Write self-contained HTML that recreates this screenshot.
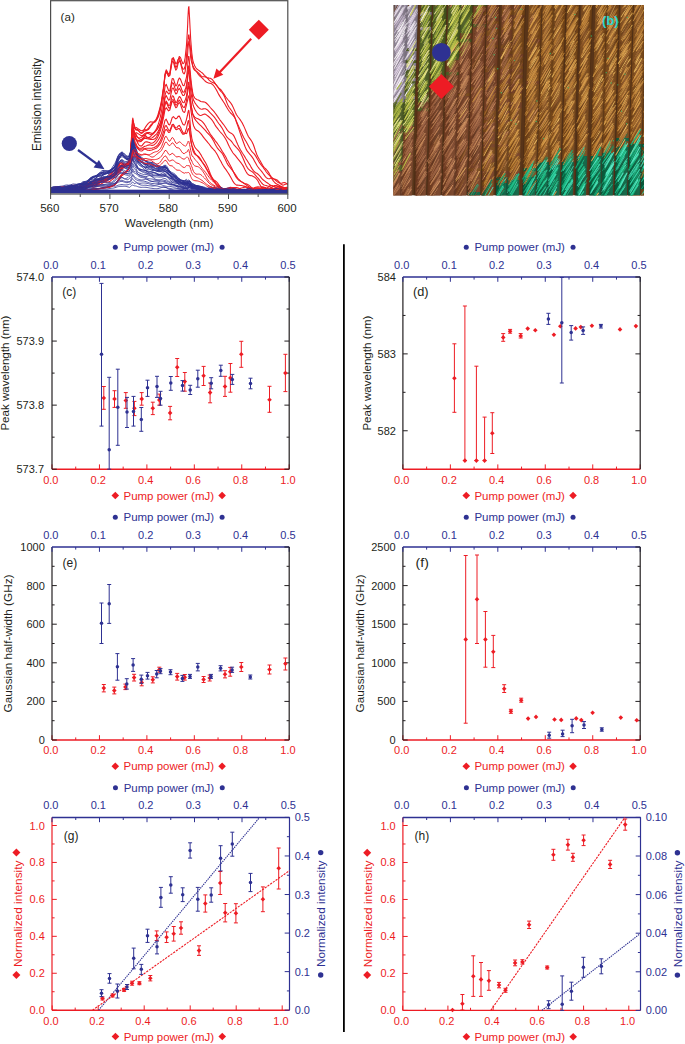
<!DOCTYPE html>
<html><head><meta charset="utf-8"><style>
html,body{margin:0;padding:0;background:#fff;width:685px;height:1044px;overflow:hidden}
svg{display:block}
text{font-family:"Liberation Sans",sans-serif}
</style></head><body>
<svg width="685" height="1044" viewBox="0 0 685 1044" font-family="'Liberation Sans', sans-serif">
<rect width="685" height="1044" fill="#fff"/>
<g fill="none" stroke="#ED1C24" stroke-width="1.1" stroke-linejoin="round">
<path d="M50.6 191.3l1.2 0 1.2-.1 1.2-.7 1.2-.5 1.2-.1 1.2-.1 1.1 0 1.2 .3 1.2 .2 1.2 .4 1.2 .6 1.2 0 1.2 0 1.2 0 1.2 0 1.2 0 1.2 0 1.2 0 1.1-.3 1.2-.2 1.2 .2 1.2 .3 1.2 0 1.2-.3 1.2-.1 1.2-.2 1.2-.3 1.2-.5 1.2-1 1.2-1 1.2-.9 1.1-.6 1.2-.5 1.2-.1 1.2 .1 1.2-.3 1.2-.1 1.2-.4 1.2-.7 1.2-.5 1.2-.8 1.2-.7 1.2-.9 1.1-.7 1.2-.5 1.2-.2 1.2 .1 1.2-.2 1.2-.6 1.2-.9 1.2-1.2 1.2-1.4 1.2-1.2 1.2-.8 1.2-.4 1.1-.5 1.2-.7 1.2-1 1.2-1.3 1.2-1.5 1.2-1.3 1.2-1.3 1.2-.6 1.2-.6 1.2-1 .8-1.2 .4-1.3 .2-1.4 .6-3.4 .4-3.8 .2-2.5 .5-8.8 .5-7.2 .1-3.6 .6-10.1 .4-2.3 .2 .7 .6 4 .4 2.8 .2 1.1 .6 1.5 .4 .2 .2-.6 .6-.1 .4-.1 .2 0 1 .8 1.2 .8 1.2 .8 1.2 .7 1.2-.2 1.2-.6 1.2-.4 1.2 .4 1.1-.4 1.2-1 1.2-1.7 1.2-1.6 1.2-1.3 1.2-1 1.2-1 1.2-1.5 1.2-2.3 1.2-3.1 1.2-4.2 1.2-4.5 1.2-5.6 1.1-7.3 1.2-8.4 1.2-11.1 1.2-4 1.2 2 1.2 2.3 1.2-1.3 1.2-7.6 1.2-7 1.2 .4 1.2 5.1 1.2 3.8 1.1-1.7 1.2-5.8 1.2-3.6 1.2 1.1 1.2 3.3 1.2 2.9 1.2-.9 .5-2.4 .6-3 .1-1.4 .4-3.5 .6-5.5 .2-2.2 .3-4.4 .6-10.1 .3-6.3 .2-6.1 .6-10.3 .4-1.1 .1 1.8 .6 10.3 .5 10.1 .1 1.1 .5 9.6 .6 7.2 0 .6 .5 5.7 .6 4.3 0 .7 .5 2.6 .7 2.5 1.2 2.9 1.2 2 1.2 1.3 1.2 .8 1.2 .9 1.2 .9 1.2 .8 1.2 1.2 1.2 1.4 1.2 1.2 1.1 .9 1.2 .5 1.2 .2 1.2 .1 1.2 .7 1.2 1.1 1.2 1.6 1.2 1.8 1.2 1.8 1.2 1.5 1.2 1.1 1.2 1 1.2 1.2 1.1 1.5 1.2 1.7 1.2 1.9 1.2 1.9 1.2 1.5 1.2 1.5 1.2 1.4 1.2 1.4 1.2 1.8 1.2 2.3 1.2 2.7 1.2 2.8 1.1 2.3 1.2 1.8 1.2 1.5 1.2 1.6 1.2 1.9 1.2 1.9 1.2 2.5 1.2 2.7 1.2 2.9 1.2 2.8 1.2 2.4 1.2 1.7 1.1 1.5 1.2 1.8 1.2 2.5 1.2 3.3 1.2 3.8 1.2 3.2 1.2 2.6 1.2 2.2 1.2 2 1.2 2.1 1.2 2.2 1.2 1.8 1.2 1 1.1 1.1 1.2 1.4 1.2 1.7 1.2 2.1 1.2 1.9 1.2 1.4 1.2 .8 1.2 .4 1.2 .2 1.2 .5 1.2 1.2 1.2 1.3 1.1 1.4 1.2 1 1.2 .3 1.2-.3 1.2-.5 1.2-.6 1.2-.4"/>
<path d="M50.6 190.7l1.2-.3 1.2 0 1.2 .8 1.2 .1 1.2 0 1.2 0 1.1 0 1.2 0 1.2 0 1.2 0 1.2-.3 1.2-.7 1.2-.8 1.2-.5 1.2-.6 1.2-.5 1.2-.5 1.2-.3 1.1-.1 1.2 .2 1.2 .3 1.2 .4 1.2 .3 1.2 .1 1.2 .2 1.2 0 1.2-.4 1.2-.7 1.2-1.2 1.2-1.3 1.2-.5 1.1 .2 1.2 .9 1.2 .9 1.2 .7 1.2 .1 1.2-.5 1.2-.7 1.2-.8 1.2-1.1 1.2-1.3 1.2-1.2 1.2-.9 1.1-.1 1.2 .2 1.2 .4 1.2 0 1.2-1 1.2-1.6 1.2-1.6 1.2-1.3 1.2-.6 1.2-.4 1.2-.3 1.2-1 1.1-1.7 1.2-2 1.2-1.8 1.2-1.3 1.2-.5 1.2-.4 1.2-.8 1.2-1 1.2-1 1.2-1.3 .8-1 .4-.7 .2-.6 .6-2.4 .4-2.8 .2-1.7 .5-8 .5-6.7 .1-3.1 .6-10.1 .4-3.2 .2-.7 .6 2.4 .4 1.4 .2 .6 .6 2 .4 1.5 .2 .4 .6 .7 .4 0 .2-.5 1 .5 1.2 1.3 1.2 1.6 1.2 .9 1.2-.6 1.2-2 1.2-2.6 1.2-1.8 1.1-1.6 1.2-1.4 1.2-1.1 1.2-.5 1.2 .2 1.2 .1 1.2 .1 1.2-.5 1.2-1.9 1.2-3.5 1.2-4.1 1.2-4.4 1.2-5.3 1.1-7.1 1.2-8.6 1.2-11.3 1.2-4.3 1.2 1.9 1.2 2.7 1.2-.8 1.2-7.9 1.2-8.1 1.2-1.4 1.2 3.2 1.2 3 1.1-.9 1.2-3.4 1.2-1.3 1.2 3.1 1.2 4.6 1.2 3.4 1.2-.3 .5-1.5 .6-1.4 .1-.5 .4-2.5 .6-4.5 .2-2.7 .3-3.6 .6-5.9 .3-2.7 .2-2.7 .6-5.5 .4-.7 .1 .4 .6 5.2 .5 5.2 .1-.1 .5 5.3 .6 4.3 0 .7 .5 4 .6 3.6 0 1.3 .5 2.3 .7 1.8 1.2 1.5 1.2 .8 1.2 .7 1.2 1.1 1.2 1.3 1.2 1.5 1.2 .8 1.2 .2 1.2 0 1.2 .3 1.1 .6 1.2 1.1 1.2 1.5 1.2 1 1.2 .7 1.2 .6 1.2 .6 1.2 .6 1.2 1.1 1.2 1.7 1.2 2 1.2 1.6 1.2 1.5 1.1 1 1.2 1.8 1.2 2.4 1.2 3.1 1.2 3.2 1.2 2.8 1.2 1.8 1.2 1.7 1.2 1.6 1.2 2.2 1.2 2.5 1.2 2.9 1.1 3 1.2 2.6 1.2 2.7 1.2 2.7 1.2 2.7 1.2 2.6 1.2 2.5 1.2 2.2 1.2 1.9 1.2 2.2 1.2 2.3 1.2 2.3 1.1 1.7 1.2 1.6 1.2 1.3 1.2 1.2 1.2 1.8 1.2 2 1.2 2.2 1.2 2.1 1.2 1.6 1.2 1.6 1.2 1.4 1.2 1.8 1.2 1.7 1.1 1.7 1.2 1.3 1.2 1.3 1.2 1.3 1.2 1.6 1.2 1.9 1.2 1.8 1.2 1.3 1.2 1.1 1.2 .6 1.2 .6 1.2 .7 1.1 1 1.2 .9 1.2 .6 1.2 .2 1.2 0 1.2-.3 1.2-.3"/>
<path d="M50.6 190.1l1.2-.4 1.2-.2 1.2 .3 1.2 .7 1.2 .8 1.2 0 1.1 0 1.2 0 1.2 0 1.2-.6 1.2 .1 1.2 .1 1.2 .1 1.2-.1 1.2-.1 1.2-.3 1.2-.3 1.2 0 1.1 .1 1.2-.2 1.2-.3 1.2-.9 1.2-.6 1.2-.1 1.2 .5 1.2 .7 1.2 .3 1.2-.2 1.2-.6 1.2-.6 1.2-.6 1.1-.9 1.2-1.1 1.2-1.3 1.2-1 1.2-.4 1.2 .4 1.2 .8 1.2 .7 1.2 .2 1.2-.2 1.2-.6 1.2-.8 1.1-.7 1.2-.6 1.2-.2 1.2 .1 1.2-.1 1.2-.2 1.2-.6 1.2-1 1.2-1 1.2-.9 1.2-.9 1.2-.6 1.1-1.2 1.2-1.4 1.2-1.7 1.2-1.8 1.2-1.5 1.2-1.2 1.2-.7 1.2-.8 1.2-1 1.2-1.5 .8-1.7 .4-1.2 .2-.9 .6-2.4 .4-3.2 .2-2.1 .5-8.5 .5-6.8 .1-3.4 .6-9.7 .4-2.6 .2-.1 .6 2.8 .4 2 .2 .6 .6 1.5 .4 .6 .2 .3 .6 .7 .4 .2 .2-.3 1 .4 1.2 .7 1.2 1.2 1.2 .8 1.2-.2 1.2-.9 1.2-.9 1.2-.3 1.1-.3 1.2-.7 1.2-1.4 1.2-1.7 1.2-1.6 1.2-1.9 1.2-1.5 1.2-1 1.2-1 1.2-1.8 1.2-3 1.2-4.4 1.2-6.4 1.1-8.2 1.2-9 1.2-11 1.2-3.8 1.2 2.1 1.2 2.5 1.2-1.1 1.2-7.3 1.2-6.7 1.2 .4 1.2 4.8 1.2 3.6 1.1-1.5 1.2-5.2 1.2-2.9 1.2 2.4 1.2 4.9 1.2 4.7 1.2 1.3 .5-.8 .6-1.8 .1-1.4 .4-2.7 .6-3.1 .2-1.2 .3-2 .6-4.5 .3-3.1 .2-3.7 .6-6.2 .4-2 .1-.2 .6 4.4 .5 5.3 .1 1.6 .5 5.1 .6 3.4 0-.2 .5 2 .6 1.5 0 .4 .5 1.2 .7 1.4 1.2 1.9 1.2 1.8 1.2 1.7 1.2 1.7 1.2 1.4 1.2 1.1 1.2 .9 1.2 1.2 1.2 1.3 1.2 1.2 1.1 .8 1.2 .5 1.2 .3 1.2 .1 1.2 .5 1.2 .9 1.2 1.4 1.2 1.7 1.2 2.1 1.2 2.3 1.2 2.3 1.2 2 1.2 1.9 1.1 1.6 1.2 1.8 1.2 1.8 1.2 2.2 1.2 2.1 1.2 1.9 1.2 1.8 1.2 1.5 1.2 1.1 1.2 1.2 1.2 1.5 1.2 2.3 1.1 3.1 1.2 3.4 1.2 3.6 1.2 3.6 1.2 3.5 1.2 3.4 1.2 3.3 1.2 3.3 1.2 2.8 1.2 2 1.2 1.6 1.2 1.4 1.1 1.2 1.2 1.6 1.2 1.7 1.2 2.3 1.2 2.2 1.2 2.1 1.2 1.8 1.2 1.6 1.2 1.4 1.2 1.4 1.2 1.6 1.2 1.7 1.2 1.6 1.1 1.3 1.2 .9 1.2 .3 1.2-.2 1.2-.5 1.2 .1 1.2 .5 1.2 .8 1.2 1 1.2 1.1 1.2 .9 1.2 .5 1.1 .2 1.2 .1 1.2-.6 1.2-.2 1.2 .3 1.2 .8 1.2 1.2"/>
<path d="M50.6 191.3l1.2 0 1.2 0 1.2 0 1.2-.1 1.2-1.5 1.2-1.2 1.1-.7 1.2 .4 1.2 1.2 1.2 1.4 1.2 .5 1.2 0 1.2 0 1.2 0 1.2 0 1.2-.4 1.2-.6 1.2-.6 1.1-.4 1.2-.1 1.2 .2 1.2 0 1.2-.3 1.2-1.1 1.2-1.8 1.2-1.8 1.2-1.2 1.2-.3 1.2 .4 1.2 .7 1.2 .6 1.1 .3 1.2 .3 1.2 .1 1.2 .1 1.2-.2 1.2-.5 1.2-.8 1.2-1.1 1.2-1.1 1.2-.6 1.2-.2 1.2 0 1.1 0 1.2-.2 1.2-.7 1.2-.7 1.2-.9 1.2-.5 1.2-.6 1.2-.2 1.2-.4 1.2-.5 1.2-.7 1.2-1 1.1-1.9 1.2-2.2 1.2-2.4 1.2-1.8 1.2-1 1.2 0 1.2 .1 1.2 0 1.2-.4 1.2-.7 .8-.8 .4-.4 .2-.5 .6-2.7 .4-3.5 .2-3 .5-8.2 .5-6 .1-2.2 .6-7.4 .4-1.2 .2 .6 .6 2.5 .4 1.4 .2 .1 .6 .8 .4-.1 .2-.6 .6 .1 .4-.1 .2-.3 1 .7 1.2 .7 1.2 .8 1.2 .8 1.2-.1 1.2-.9 1.2-1.1 1.2-.6 1.1-.4 1.2-.1 1.2 0 1.2 .4 1.2 .5 1.2-.2 1.2-1.1 1.2-1.5 1.2-2.3 1.2-3 1.2-3.7 1.2-4.4 1.2-5.8 1.1-7.3 1.2-8 1.2-9.5 1.2-2.4 1.2 3.2 1.2 3.4 1.2 0 1.2-6 1.2-6.2 1.2 .1 1.2 3.9 1.2 3.4 1.1-1.1 1.2-4.3 1.2-2.6 1.2 1.2 1.2 3.2 1.2 3 1.2 .2 .5-1.4 .6-2 .1-.7 .4-1.4 .6-2.3 .2-.8 .3-2.2 .6-5.3 .3-3.8 .2-3.9 .6-5.2 .4-.2 .1 1 .6 6.4 .5 6.4 .1 .8 .5 6.3 .6 4.8 0 .6 .5 4.1 .6 3.3 0 1.1 .5 2.4 .7 2.3 1.2 2.2 1.2 1 1.2 .6 1.2 .4 1.2 .6 1.2 .7 1.2 .4 1.2 .1 1.2 .1 1.2 .5 1.1 1 1.2 1.1 1.2 1.4 1.2 1.5 1.2 1.3 1.2 1.3 1.2 1.3 1.2 1.6 1.2 1.6 1.2 1.8 1.2 1.7 1.2 1.7 1.2 1.6 1.1 1.4 1.2 1.5 1.2 1.7 1.2 1.8 1.2 1.8 1.2 1.5 1.2 1.2 1.2 .7 1.2 .6 1.2 1 1.2 1.8 1.2 2.5 1.1 2.8 1.2 2.7 1.2 2.5 1.2 2.3 1.2 2 1.2 2 1.2 1.8 1.2 1.9 1.2 2.1 1.2 1.8 1.2 1.9 1.2 1.9 1.1 2 1.2 2 1.2 1.8 1.2 1.4 1.2 .9 1.2 .6 1.2 .9 1.2 1.2 1.2 1.3 1.2 1.6 1.2 1.2 1.2 1 1.2 .9 1.1 .8 1.2 .8 1.2 .9 1.2 .8 1.2 .7 1.2 .4 1.2 .4 1.2 0 1.2-.3 1.2 .1 1.2 .1 1.2 .1 1.1 .4 1.2 .5 1.2 .4 1.2 .3 1.2 .3 1.2 .2 1.2-.2"/>
<path d="M50.6 187.7l1.2 .2 1.2 .2 1.2 .1 1.2 .2 1.2 .5 1.2 .4 1.1 .2 1.2-.4 1.2-.6 1.2-.5 1.2-.4 1.2 .1 1.2 .2 1.2 .5 1.2 .4 1.2 .3 1.2 .1 1.2-.3 1.1-.2 1.2 0 1.2 .1 1.2 .4 1.2 .3 1.2-.1 1.2-.6 1.2-1.1 1.2-1.1 1.2-1 1.2-.6 1.2-.4 1.2-.1 1.1-.2 1.2-.2 1.2-.2 1.2 .1 1.2 0 1.2-.1 1.2-.4 1.2-.4 1.2-.6 1.2-.5 1.2-.4 1.2-.5 1.1-.7 1.2-1 1.2-1.2 1.2-1 1.2-.8 1.2-.2 1.2 .1 1.2 0 1.2-.2 1.2-.7 1.2-.7 1.2-.8 1.1-1.1 1.2-1 1.2-1.2 1.2-1.4 1.2-1.2 1.2-.7 1.2-.4 1.2-.4 1.2-.4 1.2-.5 .8-1 .4-.9 .2-1.1 .6-2.8 .4-3.3 .2-2.3 .5-7.2 .5-5.9 .1-3.2 .6-8.5 .4-2.8 .2-.3 .6 2.3 .4 2 .2 1 .6 1.6 .4 .5 .2 .2 .6 .6 .4 .6 .2 .5 1 1.6 1.2 1.1 1.2 .9 1.2 .4 1.2-.8 1.2-1.8 1.2-1.9 1.2-1.2 1.1-.6 1.2 .1 1.2 .7 1.2 .6 1.2 0 1.2-.6 1.2-1.2 1.2-1.4 1.2-1.7 1.2-2 1.2-2 1.2-2.6 1.2-4 1.1-6 1.2-7.7 1.2-10.2 1.2-4.2 1.2 1 1.2 1.9 1.2-.6 1.2-5.4 1.2-5.3 1.2 .5 1.2 4 1.2 3.4 1.1-.9 1.2-3.5 1.2-1.9 1.2 1.9 1.2 3.3 1.2 2.8 1.2-.3 .5-1.2 .6-1.7 .1-.1 .4-1.1 .6-2.1 .2-.9 .3-2.3 .6-5 .3-3.1 .2-3.1 .6-4.8 .4-.9 .1 .2 .6 5.2 .5 5.2 .1 .9 .5 5.9 .6 4.3 0 .2 .5 3.8 .6 3.3 0 1.1 .5 2.2 .7 2.3 1.2 2.3 1.2 1.7 1.2 1.6 1.2 1.5 1.2 1 1.2 .6 1.2 .2 1.2-.3 1.2-.2 1.2 .1 1.1 .6 1.2 .9 1.2 1.3 1.2 1.3 1.2 1.2 1.2 1.3 1.2 1.3 1.2 1.5 1.2 1.7 1.2 1.9 1.2 1.7 1.2 1.4 1.2 1.7 1.1 1.6 1.2 2.2 1.2 2.5 1.2 2.4 1.2 1.9 1.2 1.2 1.2 1.1 1.2 .9 1.2 1.4 1.2 1.7 1.2 1.6 1.2 1.3 1.1 1.3 1.2 1.2 1.2 1.4 1.2 1.7 1.2 2.4 1.2 2.6 1.2 2.8 1.2 2.9 1.2 2.7 1.2 2.2 1.2 1.5 1.2 1.1 1.1 .7 1.2 .7 1.2 1.1 1.2 1.3 1.2 1.4 1.2 1.4 1.2 1.3 1.2 1.6 1.2 1.6 1.2 1.7 1.2 1.2 1.2 .7 1.2 .4 1.1 .3 1.2 .4 1.2 .3 1.2 .5 1.2 .7 1.2 .8 1.2 .8 1.2 .6 1.2 0 1.2-.2 1.2-.2 1.2-.2 1.1-.2 1.2-.2 1.2 .1 1.2-.1 1.2 .3 1.2 .4 1.2 .2"/>
<path d="M50.6 187.7l1.2-.1 1.2 .3 1.2 .6 1.2 .8 1.2 .6 1.2 .6 1.1 .5 1.2 .3 1.2 0 1.2 0 1.2-.8 1.2-1 1.2-.9 1.2-.5 1.2 0 1.2 .2 1.2-.1 1.2-.4 1.1-.5 1.2-.4 1.2 .3 1.2 .8 1.2 .9 1.2 .5 1.2 0 1.2-.7 1.2-1 1.2-.9 1.2-.6 1.2-.5 1.2-.3 1.1-.1 1.2-.3 1.2-.8 1.2-1 1.2-1.4 1.2-1.3 1.2-.8 1.2-.2 1.2 .4 1.2 .6 1.2 .5 1.2 .1 1.1-.2 1.2-.6 1.2-.6 1.2-.6 1.2-.8 1.2-1 1.2-1.1 1.2-.8 1.2-.6 1.2-.3 1.2 .1 1.2-.5 1.1-1.4 1.2-1.9 1.2-2.1 1.2-2.2 1.2-1.4 1.2-.4 1.2-.1 1.2-.4 1.2-.5 1.2-1.2 .8-1.4 .4-1 .2-.4 .6-1.8 .4-2.2 .2-1.6 .5-6.9 .5-6.1 .1-3.1 .6-8.3 .4-2.6 .2-.1 .6 2.4 .4 1.8 .2 .6 .6 1.2 .4 .5 .2 .2 .6 1.1 .4 1 .2 .6 1 1.2 1.2 .4 1.2-.2 1.2-.4 1.2-1.1 1.2-1 1.2-.2 1.2 .9 1.1 1.2 1.2 .4 1.2-.2 1.2-1 1.2-1.4 1.2-1.6 1.2-1.4 1.2-1.2 1.2-1 1.2-1.6 1.2-2.1 1.2-3 1.2-4.2 1.1-5.9 1.2-6.7 1.2-8.2 1.2-2.5 1.2 2.3 1.2 2.3 1.2-.6 1.2-5.8 1.2-5.6 1.2-.1 1.2 3.1 1.2 2.8 1.1-.8 1.2-3.3 1.2-1.5 1.2 1.8 1.2 3 1.2 2.3 1.2-.1 .5-1.2 .6-1.4 .1-.5 .4-1.4 .6-2.2 .2-.9 .3-1.9 .6-4.8 .3-3.5 .2-3.3 .6-4.4 .4 .3 .1 1.7 .6 6.4 .5 6.1 .1 1.3 .5 5.3 .6 3.8 0-.2 .5 3.4 .6 2.8 0 1.1 .5 2.3 .7 2.3 1.2 2.7 1.2 2.1 1.2 1.7 1.2 1.4 1.2 .9 1.2 .2 1.2-.4 1.2-.6 1.2-.4 1.2 .2 1.1 .8 1.2 .9 1.2 1 1.2 1.1 1.2 1.3 1.2 1.6 1.2 1.9 1.2 2.2 1.2 1.8 1.2 1.5 1.2 1.6 1.2 1.5 1.2 1.3 1.1 1.2 1.2 1.5 1.2 1.8 1.2 2 1.2 2.3 1.2 2.6 1.2 2.5 1.2 2.2 1.2 2.1 1.2 2 1.2 1.3 1.2 1.4 1.1 1.4 1.2 1.6 1.2 1.4 1.2 1.5 1.2 1.6 1.2 1.7 1.2 2 1.2 2.6 1.2 2.2 1.2 1.9 1.2 1.2 1.2 .7 1.1 .1 1.2 .2 1.2 .6 1.2 .7 1.2 .9 1.2 1.3 1.2 1.7 1.2 2.4 1.2 2.2 1.2 2.1 1.2 1.3 1.2 .6 1.2-.2 1.1-.8 1.2-.8 1.2-1.2 1.2-.9 1.2-.2 1.2 .2 1.2 .7 1.2 .7 1.2 .8 1.2 .6 1.2 .3 1.2 .1 1.1-.4 1.2-.4 1.2-.2 1.2 .2 1.2 .5 1.2 .2 1.2-.3"/>
<path d="M50.6 189.4l1.2 .3 1.2 .5 1.2 .8 1.2 .3 1.2 0 1.2 0 1.1 0 1.2 0 1.2-.3 1.2-.3 1.2-.1 1.2-.2 1.2-.5 1.2-1 1.2-1.2 1.2-.9 1.2-.5 1.2 .1 1.1 .6 1.2 .4 1.2 .3 1.2-.1 1.2-.5 1.2-.6 1.2-.5 1.2 .2 1.2 .3 1.2 .4 1.2 .3 1.2-.2 1.2-.8 1.1-1.2 1.2-1.3 1.2-1.1 1.2-.6 1.2 .1 1.2 .5 1.2 .7 1.2 .2 1.2-.3 1.2-.7 1.2-.7 1.2-.5 1.1-.2 1.2-.2 1.2-.3 1.2-.6 1.2-.8 1.2-.8 1.2-.6 1.2-.7 1.2-1.2 1.2-1.7 1.2-2.2 1.2-2.5 1.1-2.2 1.2-1.3 1.2-.4 1.2 0 1.2 .4 1.2 .5 1.2-.1 1.2-.8 1.2-1 1.2-1.7 .8-1.7 .4-1.3 .2-1.1 .6-2.7 .4-3 .2-2.1 .5-6.6 .5-5.1 .1-2.3 .6-7.3 .4-1.7 .2 .1 .6 2.3 .4 1.5 .2 .6 .6 1.6 .4 1.3 .2 1.2 .6 1.8 .4 1.2 .2 .5 1 1.3 1.2 .4 1.2 0 1.2-.5 1.2-1.4 1.2-1.7 1.2-1.3 1.2-.1 1.1 .6 1.2 .5 1.2 .3 1.2 .1 1.2-.4 1.2-.9 1.2-1 1.2-1.1 1.2-1.1 1.2-2 1.2-2.4 1.2-2.9 1.2-4.2 1.1-5.4 1.2-6 1.2-7.7 1.2-2.2 1.2 2 1.2 2.5 1.2-.2 1.2-4.9 1.2-4.6 1.2 .4 1.2 3.5 1.2 3.1 1.1-.8 1.2-3.3 1.2-2.2 1.2 1 1.2 2.7 1.2 2.3 1.2 .2 .5-1.2 .6-1.5 .1-.3 .4-1.1 .6-1.9 .2-.9 .3-2.1 .6-3.8 .3-2.3 .2-2 .6-3.3 .4 .2 .1 1 .6 5.6 .5 5.7 .1 1.1 .5 5.3 .6 4.3 0 .5 .5 3.8 .6 3 0 .6 .5 1.2 .7 1.1 1.2 1.4 1.2 .8 1.2 .5 1.2 .6 1.2 .7 1.2 .7 1.2 1 1.2 1.3 1.2 1.5 1.2 1.8 1.1 2 1.2 2 1.2 2 1.2 2 1.2 1.7 1.2 1.6 1.2 1.6 1.2 1.7 1.2 1.5 1.2 1.6 1.2 1.8 1.2 1.8 1.2 2 1.1 2 1.2 1.8 1.2 1.9 1.2 2.1 1.2 2.3 1.2 2.1 1.2 2.2 1.2 2.3 1.2 2.3 1.2 2.6 1.2 2.6 1.2 2.4 1.1 1.8 1.2 1.5 1.2 1.1 1.2 .6 1.2 .8 1.2 .6 1.2 .6 1.2 .5 1.2 .4 1.2 .5 1.2 .6 1.2 1 1.1 1 1.2 .9 1.2 .5 1.2 .2 1.2-.2 1.2-.2 1.2 0 1.2 .1 1.2 .4 1.2 .3 1.2 .2 1.2-.2 1.2-.4 1.1-.3 1.2 0 1.2 .1 1.2-.1 1.2-.4 1.2-.7 1.2-.9 1.2-.6 1.2 0 1.2 .4 1.2 .8 1.2 .9 1.1 1 1.2 .6 1.2 .4 1.2 .1 1.2 0 1.2-.3 1.2-.2"/>
<path d="M50.6 191.3l1.2-.1 1.2-.4 1.2-.6 1.2-.7 1.2-.7 1.2-.3 1.1 .1 1.2 .7 1.2 1 1.2 .9 1.2 .1 1.2 0 1.2 0 1.2-.5 1.2-.3 1.2-.2 1.2 0 1.2 .1 1.1 0 1.2 0 1.2 0 1.2-.2 1.2-.5 1.2-.8 1.2-.8 1.2-.7 1.2-.2 1.2 .2 1.2 .1 1.2-.1 1.2-.3 1.1-.7 1.2-.8 1.2-.9 1.2-.9 1.2-1 1.2-1.2 1.2-.9 1.2-.8 1.2-.7 1.2-.5 1.2-.3 1.2-.1 1.1 .2 1.2 .2 1.2 .4 1.2 .1 1.2-.2 1.2-.5 1.2-.6 1.2-.8 1.2-.8 1.2-.7 1.2-1 1.2-1.5 1.1-1.9 1.2-1.7 1.2-1.4 1.2-1.3 1.2-.9 1.2-.4 1.2-.3 1.2-.5 1.2-.9 1.2-1.4 .8-1.5 .4-1 .2-.6 .6-1.5 .4-1.9 .2-1.3 .5-6.3 .5-5.6 .1-2.9 .6-7.5 .4-1.8 .2 0 .6 1.9 .4 1.2 .2 .6 .6 1.8 .4 1.5 .2 1.3 .6 1.2 .4 .3 .2-.5 1 .3 1.2 .3 1.2 .2 1.2 .1 1.2-.6 1.2-1.2 1.2-.6 1.2 .1 1.1 .3 1.2 .2 1.2 .3 1.2 .2 1.2 .1 1.2 0 1.2-.4 1.2-.9 1.2-1.7 1.2-2.4 1.2-3 1.2-3.3 1.2-4 1.1-5.3 1.2-6.1 1.2-7.7 1.2-2.4 1.2 2.4 1.2 3.1 1.2 .5 1.2-4.2 1.2-4.4 1.2 .1 1.2 2.9 1.2 2.5 1.1-.6 1.2-2.9 1.2-1.5 1.2 1.5 1.2 2.8 1.2 2.6 1.2 .5 .5-.7 .6-1.1 .1-.6 .4-1.5 .6-2.3 .2-1.1 .3-2.2 .6-3.9 .3-2.5 .2-2.4 .6-3.3 .4 .3 .1 1 .6 5.3 .5 5.1 .1 .9 .5 4.6 .6 3.3 0-.3 .5 2.8 .6 2.5 0 .8 .5 2 .7 2.2 1.2 2.4 1.2 1.7 1.2 1.4 1.2 1.4 1.2 1.2 1.2 1.1 1.2 1.1 1.2 1.3 1.2 1.3 1.2 1.3 1.1 1.4 1.2 1.2 1.2 1.2 1.2 1.4 1.2 1.5 1.2 2 1.2 2.2 1.2 2.4 1.2 2.2 1.2 1.9 1.2 1.6 1.2 1.2 1.2 1.2 1.1 1.4 1.2 1.9 1.2 2.5 1.2 2.7 1.2 2.5 1.2 2 1.2 1.6 1.2 1.5 1.2 1.5 1.2 1.5 1.2 1.7 1.2 1.7 1.1 1.8 1.2 1.7 1.2 1.4 1.2 1.2 1.2 .9 1.2 .8 1.2 .9 1.2 .7 1.2 .8 1.2 .9 1.2 .8 1.2 1 1.1 .7 1.2 .4 1.2-.2 1.2-.6 1.2-.5 1.2-.3 1.2-.1 1.2 .1 1.2 0 1.2-.2 1.2 0 1.2 .4 1.2 .4 1.1 .8 1.2 .7 1.2 .6 1.2 .1 1.2 .1 1.2-.4 1.2-.5 1.2-.4 1.2-.6 1.2-.8 1.2-.5 1.2-.3 1.1 0 1.2 .4 1.2 .6 1.2 .3 1.2 .2 1.2 0 1.2-.2"/>
<path d="M50.6 190.9l1.2-.9 1.2-1.1 1.2-1.2 1.2-.7 1.2-.3 1.2 0 1.1 .1 1.2 .3 1.2 .2 1.2-.1 1.2-.3 1.2-.3 1.2-.1 1.2 0 1.2 .4 1.2 .2 1.2 .1 1.2-.4 1.1-.2 1.2-.2 1.2 .1 1.2 .4 1.2 .7 1.2 .5 1.2 .2 1.2-.1 1.2-.3 1.2-.3 1.2-.5 1.2-.5 1.2-.6 1.1-.6 1.2-.5 1.2-.1 1.2-.2 1.2-.3 1.2-.3 1.2-.5 1.2-.6 1.2-.7 1.2-.8 1.2-.5 1.2-.5 1.1-.1 1.2-.2 1.2-.4 1.2-.9 1.2-.9 1.2-.9 1.2-.8 1.2-.7 1.2-.8 1.2-1.1 1.2-1.2 1.2-1.2 1.1-1.1 1.2-1 1.2-.7 1.2-.7 1.2-.6 1.2-.2 1.2-.3 1.2-.9 1.2-1.2 1.2-1.9 .8-1.9 .4-1.1 .2-.7 .6-1.6 .4-2 .2-1.5 .5-6 .5-4.9 .1-2.5 .6-7.3 .4-2.4 .2-.3 .6 2.1 .4 1.9 .2 1.5 .6 1.7 .4 .8 .2-.1 .6 .5 .4 .6 .2 1.1 1 2.4 1.2 1.9 1.2 1 1.2 .3 1.2-.9 1.2-1.6 1.2-1.3 1.2-.5 1.1 .1 1.2 .3 1.2 .4 1.2 .6 1.2 .1 1.2-.5 1.2-.9 1.2-1.3 1.2-1.6 1.2-2.3 1.2-2.7 1.2-3.1 1.2-4.2 1.1-5 1.2-5.5 1.2-6.6 1.2-1.9 1.2 1.6 1.2 1.6 1.2-.9 1.2-4.6 1.2-4.2 1.2 .7 1.2 3.3 1.2 2.6 1.1-.8 1.2-2.9 1.2-1.6 1.2 1.8 1.2 3.7 1.2 3.4 1.2 1 .5-.2 .6-1.3 .1-1.1 .4-1.9 .6-2.4 .2-.9 .3-1.2 .6-2.3 .3-1.1 .2-1.4 .6-2.5 .4-.2 .1 .1 .6 4 .5 4 .1 .3 .5 4.8 .6 3.8 0 .1 .5 3.3 .6 3 0 1.1 .5 2.6 .7 2.7 1.2 2.6 1.2 1.4 1.2 .9 1.2 .6 1.2 1.1 1.2 1.3 1.2 1.6 1.2 1.6 1.2 1.6 1.2 1.4 1.1 1.4 1.2 1.5 1.2 1.3 1.2 1.7 1.2 1.6 1.2 1.2 1.2 1.3 1.2 1.4 1.2 1.8 1.2 2.1 1.2 2.3 1.2 2.3 1.2 2.1 1.1 2.2 1.2 2 1.2 1.9 1.2 1.5 1.2 1.8 1.2 1.8 1.2 1.9 1.2 2.2 1.2 2.2 1.2 2.1 1.2 1.8 1.2 1.2 1.1 .7 1.2 0 1.2 .1 1.2 .2 1.2 .1 1.2 .3 1.2 .3 1.2 .3 1.2 .3 1.2 .6 1.2 .6 1.2 .6 1.1 .2 1.2 0 1.2-.2 1.2-.3 1.2-.2 1.2 0 1.2 .2 1.2 .2 1.2-.2 1.2-.3 1.2-.3 1.2 0 1.2 .3 1.1 .5 1.2 .6 1.2 .1 1.2-.3 1.2-.2 1.2-.1 1.2 .4 1.2 .7 1.2 .4 1.2-.1 1.2-.9 1.2-1 1.1-.6 1.2-.2 1.2 .2 1.2 .2 1.2-.1 1.2-.1 1.2-.1"/>
<path d="M50.6 190.7l1.2-.3 1.2-.4 1.2-.5 1.2-.5 1.2-.6 1.2-.6 1.1-.5 1.2-.5 1.2 0 1.2 0 1.2 .2 1.2 .4 1.2 .5 1.2 .5 1.2 .6 1.2 .6 1.2 .4 1.2 .1 1.1-.4 1.2-.7 1.2-.8 1.2-.7 1.2-.5 1.2 0 1.2 .2 1.2 .4 1.2 .1 1.2 0 1.2-.3 1.2-.4 1.2-.4 1.1-.6 1.2-.9 1.2-1.1 1.2-1.1 1.2-.8 1.2 0 1.2 .5 1.2 .5 1.2 .1 1.2-.5 1.2-.9 1.2-1.1 1.1-1 1.2-.8 1.2-.6 1.2-.4 1.2-.2 1.2-.1 1.2-.1 1.2-.2 1.2-.4 1.2-1 1.2-1.5 1.2-2.6 1.1-3.2 1.2-2.8 1.2-1.7 1.2-1 1.2 0 1.2 .5 1.2 .7 1.2-.3 1.2-.4 1.2-1.1 .8-1.3 .4-.9 .2-.6 .6-1.9 .4-2.1 .2-1.5 .5-5.5 .5-4.6 .1-2.5 .6-7.2 .4-2.2 .2-.1 .6 2.9 .4 2.6 .2 1.4 .6 2.1 .4 1.1 .2 .4 .6 1.1 .4 .9 .2 .6 1 1.8 1.2 .9 1.2 .4 1.2 0 1.2-.5 1.2-.8 1.2-.7 1.2-.3 1.1-.4 1.2-.5 1.2-.2 1.2 .1 1.2 .4 1.2-.1 1.2-.6 1.2-1 1.2-1.4 1.2-1.8 1.2-1.9 1.2-2.2 1.2-3 1.1-3.7 1.2-4.2 1.2-5.2 1.2-1.1 1.2 2.5 1.2 2.8 1.2 .4 1.2-3.4 1.2-3.9 1.2-1 1.2 1.2 1.2 1.1 1.1-.7 1.2-1.8 1.2-.3 1.2 2.3 1.2 3.2 1.2 2.7 1.2 .8 .5-.5 .6-.9 .1-.5 .4-1.3 .6-1.8 .2-.9 .3-1.2 .6-2.5 .3-1.5 .2-1.4 .6-2.3 .4 .4 .1 .7 .6 5.6 .5 5.7 .1 1.6 .5 6.1 .6 4.6 0-.1 .5 3.4 .6 2.4 0 0 .5 1.6 .7 2 1.2 2.7 1.2 1.7 1.2 1.3 1.2 1.2 1.2 1.5 1.2 1.9 1.2 2.2 1.2 2 1.2 2.1 1.2 1.9 1.1 2.3 1.2 2.4 1.2 3.1 1.2 3.1 1.2 2.9 1.2 2 1.2 1.3 1.2 .9 1.2 .9 1.2 1.2 1.2 1.7 1.2 1.5 1.2 1.4 1.1 1 1.2 .5 1.2 .2 1.2-.2 1.2-.4 1.2-.1 1.2 .1 1.2 0 1.2 .1 1.2 0 1.2 .1 1.2 .1 1.1 .2 1.2 0 1.2-.3 1.2-.4 1.2-.3 1.2-.4 1.2-.3 1.2-.1 1.2 0 1.2 .2 1.2 .7 1.2 .8 1.1 1 1.2 .6 1.2 .3 1.2 0 1.2 0 1.2 .3 1.2 .1 1.2 0 1.2-.2 1.2-1.1 1.2-1.4 1.2-1.1 1.2 0 1.1 1 1.2 1.6 1.2 1.2 1.2 0 1.2 0 1.2-.6 1.2-1.2 1.2-.9 1.2-.5 1.2 0 1.2 .4 1.2 .5 1.1 .5 1.2 .2 1.2-.3 1.2-.5 1.2-.2 1.2 .1 1.2 .5"/>
<path d="M50.6 189.9l1.2 0 1.2-.1 1.2 0 1.2 0 1.2 .1 1.2 .2 1.1-.1 1.2-.1 1.2-.2 1.2 0 1.2 .2 1.2 .3 1.2 .2 1.2-.1 1.2-.4 1.2-.6 1.2-.7 1.2-.5 1.1-.3 1.2-.2 1.2-.2 1.2-.1 1.2-.2 1.2-.2 1.2-.1 1.2 0 1.2-.2 1.2-.3 1.2-.6 1.2-.7 1.2-.9 1.1-1 1.2-.5 1.2-.2 1.2 .2 1.2 .2 1.2 0 1.2-.4 1.2-.8 1.2-.8 1.2-.5 1.2-.4 1.2-.2 1.1-.3 1.2-.2 1.2-.5 1.2-.8 1.2-1.1 1.2-1.3 1.2-1.3 1.2-1.1 1.2-1.3 1.2-1.2 1.2-1.3 1.2-1.7 1.1-1.8 1.2-1.5 1.2-1 1.2-.6 1.2 0 1.2 1.1 1.2 1.3 1.2 .7 1.2 .1 1.2-1.1 .8-1.7 .4-1.5 .2-1.2 .6-2.4 .4-2.6 .2-1.8 .5-5.3 .5-4.3 .1-1.9 .6-6 .4-1.4 .2 .7 .6 3.1 .4 2.3 .2 1.2 .6 1.9 .4 .9 .2 .4 .6 .9 .4 .5 .2 0 1 1.7 1.2 1.4 1.2 1 1.2 .4 1.2-.4 1.2-1.1 1.2-.9 1.2-.5 1.1 0 1.2 .1 1.2 0 1.2 0 1.2-.1 1.2-.4 1.2-.4 1.2-.6 1.2-.8 1.2-1.4 1.2-1.8 1.2-2.1 1.2-2.7 1.1-3.4 1.2-3.7 1.2-4.6 1.2-.8 1.2 2.3 1.2 2.4 1.2 .3 1.2-2.9 1.2-3.1 1.2-.3 1.2 2 1.2 1.8 1.1-.3 1.2-1.6 1.2-.7 1.2 1.8 1.2 2.8 1.2 2.5 1.2 1 .5-.4 .6-.5 .1-.6 .4-1.1 .6-1.6 .2-.9 .3-1.5 .6-2.5 .3-1.5 .2-1.1 .6-1.3 .4 1 .1 1.4 .6 4.9 .5 4.7 .1 1.1 .5 4.6 .6 3.6 0 .2 .5 3.4 .6 2.8 0 .7 .5 1.6 .7 1.7 1.2 1.9 1.2 .9 1.2 .6 1.2 .8 1.2 1.4 1.2 1.8 1.2 1.9 1.2 1.7 1.2 1.7 1.2 1.9 1.1 2.2 1.2 2.4 1.2 2.5 1.2 2.3 1.2 2 1.2 1.7 1.2 1.5 1.2 1.2 1.2 1.2 1.2 1.1 1.2 1.1 1.2 1.1 1.2 1 1.1 1 1.2 .6 1.2-.1 1.2-.3 1.2-.8 1.2-.6 1.2-.4 1.2-.1 1.2 .1 1.2 .1 1.2 0 1.2 0 1.1-.1 1.2 .2 1.2 .5 1.2 .8 1.2 .7 1.2 .6 1.2 .5 1.2-.3 1.2-.8 1.2-.9 1.2-.8 1.2-.4 1.1 .1 1.2 .5 1.2 .5 1.2 .5 1.2 .3 1.2 .2 1.2 .2 1.2 .3 1.2 .1 1.2 .2 1.2 .3 1.2 .1 1.2 .2 1.1 .1 1.2-.3 1.2-.4 1.2-.3 1.2-.3 1.2-.1 1.2 .1 1.2 .2 1.2 .1 1.2-.1 1.2 0 1.2-.2 1.1-.3 1.2-.3 1.2-.2 1.2 0 1.2 .1 1.2 .2 1.2 .2"/>
<path d="M50.6 190.6l1.2-.2 1.2-.3 1.2-.3 1.2-.2 1.2 .2 1.2 0 1.1-.2 1.2-.6 1.2-.8 1.2-.5 1.2 .1 1.2 .2 1.2 .3 1.2-.1 1.2-.4 1.2-.9 1.2-.7 1.2-.6 1.1-.2 1.2 0 1.2 .4 1.2 .3 1.2 .2 1.2-.3 1.2-.5 1.2-.6 1.2-.3 1.2-.1 1.2-.2 1.2-.3 1.2-.6 1.1-.7 1.2-.6 1.2-.5 1.2-.3 1.2-.3 1.2-.3 1.2-.4 1.2-.6 1.2-.5 1.2-.6 1.2-.3 1.2-.4 1.1-.1 1.2 .2 1.2 .1 1.2 .2 1.2-.3 1.2-.8 1.2-1.3 1.2-1.8 1.2-1.7 1.2-1.5 1.2-.9 1.2-1 1.1-1.1 1.2-1 1.2-.9 1.2-1 1.2-.5 1.2 .3 1.2 .5 1.2 .1 1.2-.4 1.2-1.4 .8-1.9 .4-1.6 .2-1 .6-1.7 .4-1.6 .2-1.1 .5-4.9 .5-4.2 .1-1.7 .6-5.4 .4-.8 .2 .7 .6 2.6 .4 1.2 .2 .1 .6 .8 .4 .6 .2 .3 .6 1.3 .4 1 .2 .3 1 1.7 1.2 .8 1.2 .2 1.2 0 1.2-.3 1.2-.3 1.2 .1 1.2 .6 1.1 .7 1.2 .2 1.2 .1 1.2-.2 1.2-.2 1.2-.5 1.2-.4 1.2-.5 1.2-.7 1.2-1.2 1.2-1.5 1.2-1.8 1.2-2.2 1.1-2.8 1.2-3.4 1.2-4.5 1.2-1.2 1.2 1.4 1.2 1.7 1.2-.1 1.2-3.3 1.2-3.2 1.2-.1 1.2 1.9 1.2 1.9 1.1 .1 1.2-1 1.2 0 1.2 1.8 1.2 2.3 1.2 1.6 1.2 0 .5-.7 .6-.5 .1 .1 .4 .3 .6 0 .2 .1 .3-.5 .6-1.5 .3-1.1 .2-.9 .6-1.1 .4 .4 .1 .5 .6 3.5 .5 3.6 .1 .5 .5 3.8 .6 3 0-.4 .5 2 .6 1.6 0-.2 .5 1.2 .7 2 1.2 2.7 1.2 1.8 1.2 1.5 1.2 1.4 1.2 1.4 1.2 1.5 1.2 1.7 1.2 1.6 1.2 1.9 1.2 1.9 1.1 2 1.2 1.8 1.2 1.9 1.2 1.9 1.2 2 1.2 1.7 1.2 1.8 1.2 1.9 1.2 2 1.2 1.8 1.2 1.5 1.2 1 1.2 .6 1.1 .1 1.2-.1 1.2-.4 1.2-.3 1.2-.2 1.2 .1 1.2 .3 1.2 .3 1.2 .1 1.2 .1 1.2 .1 1.2 .3 1.1 .6 1.2 1 1.2 0 1.2 0 1.2 0 1.2-.2 1.2-.5 1.2-.3 1.2 .1 1.2 0 1.2-.2 1.2-.5 1.1-.5 1.2-.2 1.2 .3 1.2 .8 1.2 1 1.2 .2 1.2 0 1.2 0 1.2 0 1.2-.2 1.2 .1 1.2 .1 1.2 0 1.1 0 1.2-.4 1.2-.7 1.2-.6 1.2-.2 1.2 .2 1.2 .5 1.2 .5 1.2 .3 1.2-.4 1.2-.6 1.2-.6 1.1-.2 1.2 .1 1.2 .4 1.2 .2 1.2 .1 1.2-.2 1.2-.1"/>
</g>
<g fill="none" stroke="#2E3192" stroke-width="0.9" stroke-linejoin="round">
<path d="M50.6 188.5l1.2-.6 1.2-.6 1.2-.4 1.2-.1 1.2 .1 1.2 .2 1.1 .3 1.2 .1 1.2-.1 1.2-.1 1.2-.2 1.2-.2 1.2-.3 1.2-.5 1.2-.6 1.2-.4 1.2 0 1.2 .3 1.1 .4 1.2 .2 1.2-.3 1.2-.5 1.2-.6 1.2-.3 1.2 0 1.2 .2 1.2 .2 1.2-.2 1.2-.3 1.2-.7 1.2-1.2 1.1-1.3 1.2-1.5 1.2-1.4 1.2-1 1.2-.6 1.2-.3 1.2-.3 1.2-.6 1.2-.9 1.2-1.3 1.2-1.4 1.2-.9 1.1-.4 1.2 .2 1.2 .5 1.2 .6 1.2 .3 1.2-.5 1.2-1 1.2-1.6 1.2-1.9 1.2-1.9 1.2-1.8 1.2-2.7 1.1-3 1.2-2.4 1.2-1.4 1.2-1.3 1.2-.5 1.2 .8 1.2 1.2 1.2 .9 1.2 1.1 1.2 .4 .8-.4 .4-.4 .2-.5 .6-1.5 .4-1.3 .2-.8 .5-2.6 .5-2.5 .1-1.5 .6-4.9 .4-1.7 .2 0 .6 2.5 .4 1.7 .2 .8 .6 1.8 .4 1.6 .2 .9 .6 2.1 .4 1.4 .2 .5 1 2.9 1.2 2 1.2 1.3 1.2 1.1 1.2 .9 1.2 .7 1.2 .4 1.2 .5 1.1 .3 1.2 .4 1.2 .5 1.2 .6 1.2 .6 1.2 .7 1.2 .5 1.2 .4 1.2 .6 1.2 .8 1.2 1.1 1.2 .8 1.2 .3 1.1-.4 1.2-.9 1.2-.8 1.2 .1 1.2 1.6 1.2 1.8 1.2 1.7 1.2 1.3 1.2 1 1.2 .7 1.2 .7 1.2 .6 1.1 .8 1.2 .9 1.2 1 1.2 .6 1.2 .5 1.2 .3 1.2 .2 .5-.1 .6 0 .1 .1 .4 .3 .6 .3 .2 .2 .3-.4 .6-.4 .3-.5 .2-.1 .6-.1 .4 .3 .1 .4 .6 .5 .5 .8 .1 .3 .5 1.1 .6 1.2 0 .3 .5 .8 .6 .4 0-.1 .5 0 .7 .1 1.2 .2 1.2 .2 1.2 .2 1.2 .4 1.2 .6 1.2 .4 1.2 .5 1.2 .2 1.2 .5 1.2 .8 1.1 .8 1.2 .5 1.2 0 1.2-.7 1.2-.9 1.2-.7 1.2-.3 1.2-.1 1.2 .2 1.2 .4 1.2 .4 1.2 .4 1.2 .2 1.1 0 1.2-.2 1.2-.1 1.2 0 1.2 0 1.2 .3 1.2 .4 1.2 .8 1.2 .3 1.2 0 1.2 0 1.2 0 1.1 0 1.2-.1 1.2-.6 1.2-.4 1.2-.1 1.2 .1 1.2 .4 1.2 .7 1.2 0 1.2 0 1.2 0 1.2 0 1.1 0 1.2 0 1.2 0 1.2 0 1.2-.1 1.2-.1 1.2-.1 1.2 .2 1.2 .1 1.2 0 1.2-.2 1.2-.5 1.2-.6 1.1-.4 1.2 0 1.2 .2 1.2 .4 1.2 .4 1.2 .4 1.2-.1 1.2-.3 1.2-.4 1.2-.4 1.2-.2 1.2 0 1.1 .3 1.2 .2 1.2 .2 1.2 .1 1.2 .2 1.2 .4 1.2 .3"/>
<path d="M50.6 190.2l1.2-.4 1.2-.2 1.2 0 1.2 .3 1.2 .1 1.2 0 1.1-.3 1.2-.7 1.2-.8 1.2-.6 1.2-.6 1.2-.4 1.2-.3 1.2-.1 1.2 0 1.2 .1 1.2 0 1.2-.3 1.1-.4 1.2-.5 1.2-.3 1.2 .1 1.2 .2 1.2 0 1.2-.3 1.2-.6 1.2-.6 1.2-.5 1.2-.6 1.2-.7 1.2-.9 1.1-1.2 1.2-1.2 1.2-.9 1.2-.4 1.2-.1 1.2-.2 1.2-.4 1.2-.5 1.2-.6 1.2-.7 1.2-.8 1.2-.8 1.1-.7 1.2-.2 1.2 .3 1.2 .6 1.2 .2 1.2-.3 1.2-1.1 1.2-1.4 1.2-1.4 1.2-1.2 1.2-1.2 1.2-2.4 1.1-3 1.2-2.9 1.2-2.5 1.2-2.1 1.2-1.1 1.2 .6 1.2 1.4 1.2 1.2 1.2 1.2 1.2-.1 .8-1 .4-1.1 .2-.9 .6-1.5 .4-1.1 .2-.4 .5-2.1 .5-2.1 .1-.9 .6-4.5 .4-1.3 .2 .2 .6 2.7 .4 2.1 .2 1 .6 2.3 .4 1.7 .2 1 .6 1.9 .4 1 .2-.2 1 1.9 1.2 .8 1.2 .3 1.2 .3 1.2 .8 1.2 1.1 1.2 1.1 1.2 .9 1.1 .7 1.2 .3 1.2 .1 1.2 .2 1.2 .5 1.2 .8 1.2 1.1 1.2 1.2 1.2 1 1.2 .5 1.2 .1 1.2-.3 1.2-.5 1.1-.2 1.2-.1 1.2 .2 1.2 .9 1.2 1.7 1.2 1.8 1.2 1.4 1.2 1 1.2 .7 1.2 .6 1.2 .6 1.2 1 1.1 1.2 1.2 1.3 1.2 1 1.2 .7 1.2 .5 1.2 .6 1.2 .7 .5 .6 .6 .5 .1 .3 .4 .1 .6 0 .2-.3 .3-.7 .6-.8 .3-.6 .2-.2 .6 0 .4 .2 .1 .2 .6 0 .5 .2 .1-.4 .5 .5 .6 .5 0 .1 .5 .8 .6 .5 0 0 .5 .1 .7 .4 1.2 .7 1.2 .8 1.2 .7 1.2 .3 1.2 0 1.2-.1 1.2-.1 1.2 .3 1.2 .3 1.2 .4 1.1 .4 1.2 .3 1.2 .4 1.2 .6 1.2 .8 1.2 .7 1.2 .4 1.2 .2 1.2-.2 1.2 0 1.2 .1 1.2-.2 1.2-.3 1.1-.7 1.2-.9 1.2-.6 1.2 0 1.2 .6 1.2 .8 1.2 .6 1.2 .2 1.2-.1 1.2 0 1.2 .1 1.2 .4 1.1 .4 1.2 .2 1.2 0 1.2 0 1.2 0 1.2 0 1.2-.5 1.2-.6 1.2-.6 1.2-.1 1.2 .2 1.2 .4 1.1 .7 1.2 .5 1.2 0 1.2 0 1.2 0 1.2 0 1.2-.2 1.2-.3 1.2-.3 1.2-.3 1.2-.6 1.2-.6 1.2-.1 1.1 .4 1.2 .6 1.2 .7 1.2 .4 1.2-.2 1.2 0 1.2 .1 1.2 .2 1.2-.1 1.2-.3 1.2-.9 1.2-.9 1.1-.6 1.2 .3 1.2 .7 1.2 1.1 1.2 .7 1.2 .1 1.2-.6"/>
<path d="M50.6 189.6l1.2-.4 1.2-.4 1.2-.4 1.2-.5 1.2-.5 1.2-.2 1.1-.1 1.2 .3 1.2 .7 1.2 .9 1.2 .6 1.2 0 1.2-.5 1.2-.7 1.2-.4 1.2-.2 1.2-.1 1.2-.2 1.1-.5 1.2-.9 1.2-.8 1.2-.8 1.2-.6 1.2-.1 1.2 .3 1.2 .5 1.2 .2 1.2-.1 1.2-.6 1.2-.9 1.2-1.1 1.1-1.1 1.2-1.1 1.2-1 1.2-.7 1.2-.7 1.2-.6 1.2-1 1.2-1.1 1.2-1.1 1.2-.8 1.2-.4 1.2 .2 1.1 .4 1.2 .3 1.2 0 1.2-.4 1.2-.8 1.2-.8 1.2-.9 1.2-.7 1.2-.9 1.2-1.1 1.2-1.6 1.2-3.1 1.1-3.8 1.2-3.4 1.2-2.1 1.2-1.2 1.2 .2 1.2 2 1.2 2.4 1.2 1.4 1.2 .9 1.2-.2 .8-.8 .4-.5 .2-.1 .6-1.1 .4-1.3 .2-1.2 .5-2.9 .5-2.9 .1-1.5 .6-4.7 .4-1.2 .2 .2 .6 2.4 .4 1.4 .2 .1 .6 1.2 .4 .9 .2 .5 .6 1.9 .4 1.5 .2 .7 1 3.2 1.2 1.9 1.2 .8 1.2 .6 1.2 .6 1.2 .6 1.2 .9 1.2 1 1.1 .8 1.2 .7 1.2 .5 1.2 .5 1.2 .4 1.2 .5 1.2 .8 1.2 .8 1.2 1 1.2 .9 1.2 .5 1.2 .1 1.2-.1 1.1-.7 1.2-.7 1.2-.5 1.2 .6 1.2 1.8 1.2 2.1 1.2 1.4 1.2 .8 1.2 .3 1.2 .4 1.2 .5 1.2 1 1.1 1.3 1.2 1.2 1.2 1 1.2 .7 1.2 .5 1.2 .6 1.2 .4 .5 .1 .6-.4 .1-.8 .4-.8 .6-.4 .2 .5 .3 1 .6 1.1 .3 .9 .2 .5 .6-.4 .4-.6 .1-.6 .6 0 .5 .7 .1 .7 .5 1.6 .6 1 0-.2 .5 0 .6-.2 0-.2 .5 .4 .7 .6 1.2 .6 1.2 .3 1.2-.1 1.2-.1 1.2-.1 1.2 .2 1.2 .3 1.2 .4 1.2 .4 1.2 .5 1.1 .3 1.2 .1 1.2-.1 1.2-.2 1.2-.4 1.2-.2 1.2-.1 1.2 .1 1.2 .3 1.2 .4 1.2 .4 1.2 .5 1.2 .7 1.1 .8 1.2 .7 1.2 0 1.2 0 1.2 0 1.2 0 1.2-.5 1.2-.7 1.2-.2 1.2 .3 1.2 .6 1.2 .5 1.1 0 1.2-.1 1.2-.6 1.2-.6 1.2 0 1.2 .2 1.2 .5 1.2 .4 1.2 .2 1.2 0 1.2 0 1.2 0 1.1 0 1.2 0 1.2 0 1.2 0 1.2 0 1.2 0 1.2 0 1.2 0 1.2 0 1.2 0 1.2 0 1.2 0 1.2 0 1.1-.2 1.2-.1 1.2-.2 1.2-.2 1.2-.3 1.2-.4 1.2-.4 1.2-.1 1.2 .3 1.2 .6 1.2 .6 1.2 .4 1.1 0 1.2 0 1.2 0 1.2-.5 1.2-.4 1.2-.5 1.2-.3"/>
<path d="M50.6 188.8l1.2 .3 1.2 0 1.2-.4 1.2-.6 1.2-.3 1.2 0 1.1 .1 1.2 .3 1.2 .1 1.2 .1 1.2-.3 1.2-.2 1.2-.5 1.2-.5 1.2-.6 1.2-.7 1.2-.7 1.2-.6 1.1-.3 1.2 .1 1.2 .1 1.2 .1 1.2-.1 1.2-.3 1.2-.4 1.2 0 1.2 .1 1.2-.2 1.2-.5 1.2-.7 1.2-1.2 1.1-1.4 1.2-1.2 1.2-.9 1.2-.8 1.2-.5 1.2-.2 1.2-.1 1.2-.1 1.2-.3 1.2-.7 1.2-.9 1.2-.6 1.1-.3 1.2 .1 1.2 .1 1.2-.2 1.2-.7 1.2-.8 1.2-.9 1.2-1.1 1.2-1 1.2-1.3 1.2-1.2 1.2-2.4 1.1-2.9 1.2-2.3 1.2-1.6 1.2-1.4 1.2-.8 1.2 .5 1.2 .9 1.2 .5 1.2 .6 1.2 .1 .8-.6 .4-.1 .2 0 .6-1.3 .4-1.2 .2-.8 .5-2.4 .5-2.2 .1-1 .6-4.1 .4-1.1 .2 .4 .6 2.5 .4 1.5 .2-.1 .6 .8 .4 .1 .2-.2 .6 1.3 .4 1.1 .2 .3 1 2.8 1.2 1.9 1.2 1.7 1.2 2 1.2 2.2 1.2 2.1 1.2 1.5 1.2 .5 1.1-.4 1.2-.5 1.2-.6 1.2-.5 1.2-.2 1.2 .2 1.2 .3 1.2 .5 1.2 1 1.2 1 1.2 .9 1.2 .5 1.2 0 1.1-.5 1.2-.8 1.2-.5 1.2 .4 1.2 1.6 1.2 2.2 1.2 1.5 1.2 1.1 1.2 .7 1.2 .5 1.2 .7 1.2 1.1 1.1 1.3 1.2 1.3 1.2 1.2 1.2 1 1.2 .5 1.2 .2 1.2 .3 .5 0 .6 .3 .1 .4 .4 .8 .6 1 .2 .9 .3 .2 .6-.4 .3-.9 .2-.9 .6-1.1 .4-.5 .1-.1 .6 .1 .5 .6 .1 .3 .5 1 .6 1.1 0 .5 .5 1.1 .6 .4 0-.1 .5-.2 .7-.1 1.2 .2 1.2 .3 1.2 .4 1.2 .5 1.2 .6 1.2 .5 1.2 .7 1.2 .7 1.2 .5 1.2 .3 1.1 .1 1.2-.2 1.2-.2 1.2-.3 1.2 0 1.2 .1 1.2 0 1.2 .2 1.2-.1 1.2 .1 1.2 .2 1.2 .2 1.2 .4 1.1 .3 1.2-.1 1.2 0 1.2-.2 1.2 .2 1.2 .3 1.2 .5 1.2 .4 1.2 0 1.2-.1 1.2-.7 1.2-.7 1.1-.3 1.2 .2 1.2 .6 1.2 .8 1.2 .2 1.2 0 1.2 0 1.2 0 1.2-.2 1.2-.3 1.2-.5 1.2-.3 1.1-.4 1.2 .2 1.2 .5 1.2 .4 1.2 .1 1.2-.5 1.2-.5 1.2-.4 1.2-.2 1.2 .3 1.2 .2 1.2 .2 1.2 0 1.1-.4 1.2-.4 1.2-.2 1.2-.1 1.2 .2 1.2 .1 1.2 .3 1.2 .2 1.2 .3 1.2 .3 1.2 .3 1.2 .2 1.1 .2 1.2 .1 1.2 0 1.2-.3 1.2-.4 1.2-.3 1.2-.4"/>
<path d="M50.6 188.3l1.2 .4 1.2 .1 1.2 0 1.2-.3 1.2-.3 1.2-.1 1.1 .1 1.2 .3 1.2 .4 1.2 .3 1.2 .1 1.2-.2 1.2-.4 1.2-.5 1.2-.4 1.2-.3 1.2-.2 1.2-.2 1.1-.1 1.2-.4 1.2-.5 1.2-.5 1.2-.4 1.2-.4 1.2-.4 1.2-.6 1.2-.8 1.2-.8 1.2-.7 1.2-.5 1.2-.6 1.1-.6 1.2-.7 1.2-.7 1.2-.4 1.2-.6 1.2-.7 1.2-.7 1.2-.9 1.2-.8 1.2-.7 1.2-.5 1.2-.7 1.1-.8 1.2-.6 1.2-.4 1.2 0 1.2 .3 1.2 .3 1.2-.1 1.2-.8 1.2-1.3 1.2-1.5 1.2-1.7 1.2-2.6 1.1-3.2 1.2-2.5 1.2-1.5 1.2-1.2 1.2-.2 1.2 1.1 1.2 1.3 1.2 .8 1.2 .9 1.2 .2 .8-.8 .4-.8 .2-.9 .6-1.7 .4-1.6 .2-.9 .5-2.4 .5-2.3 .1-1.3 .6-4.6 .4-1.4 .2 .3 .6 2.9 .4 2.4 .2 1.3 .6 2 .4 1.3 .2 .4 .6 1.4 .4 1.2 .2 .4 1 3.1 1.2 2.1 1.2 1.3 1.2 1 1.2 .8 1.2 .5 1.2 .4 1.2 .1 1.1 .3 1.2 .3 1.2 .5 1.2 .6 1.2 .3 1.2 .1 1.2-.1 1.2-.1 1.2 .2 1.2 .3 1.2 .6 1.2 .7 1.2 .3 1.1 .1 1.2-.3 1.2-.2 1.2 .6 1.2 1.5 1.2 2 1.2 1.3 1.2 1.2 1.2 1.1 1.2 1.2 1.2 1.2 1.2 1.3 1.1 1.5 1.2 1.4 1.2 1.2 1.2 .7 1.2 .1 1.2-.1 1.2-.3 .5-.7 .6-.5 .1-.6 .4-.1 .6 .2 .2 .5 .3 .5 .6 .5 .3 .3 .2 .6 .6 .3 .4 .5 .1 .3 .6 .4 .5 .4 .1-.2 .5 .4 .6 .3 0-.2 .5 .4 .6 .3 0-.2 .5 0 .7-.1 1.2-.2 1.2-.1 1.2 0 1.2 .1 1.2 .2 1.2 .5 1.2 .6 1.2 .7 1.2 .5 1.2 .5 1.1 .5 1.2 .4 1.2 .6 1.2 .5 1.2 0 1.2-.4 1.2-.8 1.2-1.1 1.2-.9 1.2-.4 1.2-.1 1.2 .1 1.2 .3 1.1 .5 1.2 .7 1.2 .8 1.2 .8 1.2 .5 1.2 .2 1.2-.2 1.2-.5 1.2-.5 1.2-.5 1.2-.2 1.2 0 1.1 .4 1.2 .4 1.2 .3 1.2 .5 1.2 .4 1.2 .3 1.2 .1 1.2-.2 1.2-.5 1.2-.6 1.2-.5 1.2-.1 1.1 .1 1.2 .4 1.2 .4 1.2 .2 1.2-.2 1.2-.4 1.2-.3 1.2 0 1.2 .3 1.2 .4 1.2 .2 1.2 0 1.2-.2 1.1-.1 1.2 .1 1.2 0 1.2-.1 1.2-.1 1.2-.3 1.2-.4 1.2-.4 1.2-.3 1.2-.1 1.2 .2 1.2 .5 1.1 .7 1.2 .6 1.2 .5 1.2 .2 1.2-.2 1.2-.1 1.2-.2"/>
<path d="M50.6 189.5l1.2 0 1.2 .2 1.2 .1 1.2 0 1.2-.5 1.2-.6 1.1-.5 1.2-.4 1.2 0 1.2 .5 1.2 .5 1.2 .4 1.2-.1 1.2-.3 1.2-.4 1.2-.3 1.2-.1 1.2 0 1.1-.3 1.2-.5 1.2-.7 1.2-.8 1.2-.8 1.2-.6 1.2-.5 1.2-.6 1.2-.4 1.2-.3 1.2-.2 1.2 0 1.2-.3 1.1-.5 1.2-1 1.2-1.1 1.2-1.1 1.2-1.1 1.2-.9 1.2-.6 1.2-.6 1.2-.5 1.2-.4 1.2-.4 1.2-.7 1.1-.6 1.2-.6 1.2-.6 1.2-.2 1.2-.1 1.2-.1 1.2 0 1.2-.3 1.2-.8 1.2-1.5 1.2-2.2 1.2-3.5 1.1-4.1 1.2-2.9 1.2-1.4 1.2-.8 1.2 .3 1.2 1.4 1.2 1.5 1.2 .9 1.2 .8 1.2 .1 .8-.6 .4-.4 .2-.2 .6-1.4 .4-1.2 .2-.6 .5-2.2 .5-1.8 .1-.7 .6-3.9 .4-.9 .2 .4 .6 2.5 .4 1.7 .2 .6 .6 1.2 .4 .5 .2 .1 .6 1.1 .4 1 .2 .7 1 3.4 1.2 2.3 1.2 1.3 1.2 .9 1.2 .9 1.2 .9 1.2 1.1 1.2 1.1 1.1 .6 1.2 0 1.2-.2 1.2-.2 1.2-.2 1.2 0 1.2 0 1.2 .2 1.2 .1 1.2 .2 1.2 .2 1.2 .3 1.2 .2 1.1 .2 1.2 .2 1.2 0 1.2 .6 1.2 1.2 1.2 1.4 1.2 .9 1.2 1 1.2 1.3 1.2 1.4 1.2 1.3 1.2 1.1 1.1 .9 1.2 .8 1.2 .7 1.2 .8 1.2 .7 1.2 .6 1.2 .4 .5 .2 .6 .3 .1 .3 .4 .2 .6-.3 .2-.8 .3-.8 .6-.5 .3 .1 .2 .5 .6 .4 .4 0 .1-.2 .6-.4 .5 0 .1-.2 .5 .7 .6 1.2 0 .9 .5 1.5 .6 1.3 0 .1 .5-.2 .7-.7 1.2-.5 1.2 0 1.2 .4 1.2 .8 1.2 .6 1.2 .3 1.2 .2 1.2 .2 1.2 .3 1.2 .2 1.1 .4 1.2 0 1.2-.3 1.2-.5 1.2-.6 1.2-.6 1.2-.1 1.2 .5 1.2 .9 1.2 1 1.2 .7 1.2 .3 1.2-.1 1.1-.6 1.2-.8 1.2-.4 1.2-.1 1.2 .4 1.2 .4 1.2 .3 1.2 .2 1.2-.1 1.2 0 1.2 0 1.2 0 1.1 .1 1.2 .2 1.2 .6 1.2 .5 1.2 .5 1.2 0 1.2 0 1.2 0 1.2 0 1.2 0 1.2 0 1.2-.3 1.1-.1 1.2 .2 1.2 .2 1.2 0 1.2 0 1.2 0 1.2-.4 1.2-.3 1.2-.2 1.2 .2 1.2 .5 1.2 .2 1.2 0 1.1 0 1.2 0 1.2 0 1.2-.1 1.2-.3 1.2-.1 1.2 .1 1.2 .2 1.2-.2 1.2-.2 1.2-.4 1.2-.3 1.1 .1 1.2 .3 1.2 .6 1.2 .3 1.2 0 1.2 0 1.2 0"/>
<path d="M50.6 188.1l1.2-.2 1.2-.2 1.2-.3 1.2-.5 1.2-.3 1.2-.1 1.1 .1 1.2 .3 1.2 .5 1.2 .6 1.2 .7 1.2 .3 1.2 0 1.2-.4 1.2-.6 1.2-.6 1.2-.6 1.2-.5 1.1-.1 1.2-.1 1.2-.1 1.2-.3 1.2-.7 1.2-.6 1.2-.6 1.2-.1 1.2 .2 1.2 .2 1.2-.3 1.2-.7 1.2-1.2 1.1-1.2 1.2-.9 1.2-.3 1.2-.2 1.2-.3 1.2-.5 1.2-.6 1.2-.8 1.2-.7 1.2-.4 1.2-.6 1.2-.7 1.1-.7 1.2-.7 1.2-.7 1.2-.6 1.2-.6 1.2-.8 1.2-.8 1.2-.6 1.2-.5 1.2-.6 1.2-.9 1.2-2.3 1.1-3.3 1.2-2.9 1.2-1.8 1.2-1.4 1.2-.2 1.2 1 1.2 1.3 1.2 1 1.2 .9 1.2 .1 .8-.8 .4-1 .2-.7 .6-1.4 .4-.8 .2-.1 .5-2 .5-2.2 .1-1.3 .6-4.4 .4-1.3 .2 .3 .6 2.7 .4 1.9 .2 .6 .6 1.3 .4 .7 .2 .1 .6 1.2 .4 .9 .2 .3 1 2.7 1.2 2.1 1.2 1.3 1.2 1.2 1.2 1.1 1.2 .9 1.2 .8 1.2 .6 1.1 .8 1.2 .8 1.2 .7 1.2 .6 1.2 .4 1.2 .2 1.2 .2 1.2 .3 1.2 .3 1.2 .3 1.2 0 1.2-.3 1.2-.4 1.1-.5 1.2-.3 1.2-.1 1.2 .8 1.2 1.6 1.2 1.8 1.2 1.2 1.2 .7 1.2 .6 1.2 .8 1.2 1 1.2 1.5 1.1 1.6 1.2 1.6 1.2 1.3 1.2 .9 1.2 .6 1.2 .2 1.2 .1 .5 0 .6 .1 .1 .3 .4 .3 .6 .3 .2 .2 .3-.1 .6-.2 .3-.5 .2-.5 .6-.6 .4-.3 .1 .1 .6 .5 .5 .7 .1 .1 .5 .5 .6 .4 0-.4 .5-.1 .6-.1 0-.4 .5 0 .7 .2 1.2 .6 1.2 .6 1.2 .5 1.2 .5 1.2 .3 1.2 .2 1.2 .4 1.2 .6 1.2 .6 1.2 .8 1.1 .5 1.2 .7 1.2 .5 1.2 .3 1.2-.2 1.2-.6 1.2-.8 1.2-.8 1.2-.5 1.2 .1 1.2 .6 1.2 1 1.2 .8 1.1 .5 1.2 .1 1.2-.2 1.2-.4 1.2-.4 1.2-.2 1.2 .1 1.2 .4 1.2 .3 1.2 .1 1.2-.2 1.2-.5 1.1-.5 1.2-.2 1.2 0 1.2 .1 1.2 .2 1.2 .1 1.2 .1 1.2 .1 1.2 0 1.2 0 1.2-.1 1.2 0 1.1 .2 1.2 .1 1.2 .3 1.2 .2 1.2 .4 1.2 .4 1.2 0 1.2 0 1.2 0 1.2 0 1.2-.1 1.2 .1 1.2 0 1.1 0 1.2 0 1.2 0 1.2 0 1.2 0 1.2 0 1.2 0 1.2-.1 1.2-.7 1.2-.6 1.2-.3 1.2-.2 1.1-.1 1.2-.1 1.2-.1 1.2 0 1.2 .1 1.2 .1 1.2 .3"/>
<path d="M50.6 188.9l1.2 0 1.2-.1 1.2-.2 1.2-.5 1.2-.7 1.2-.5 1.1-.4 1.2-.2 1.2-.1 1.2-.2 1.2-.3 1.2-.4 1.2-.2 1.2-.1 1.2 .2 1.2 .2 1.2 .3 1.2 0 1.1-.2 1.2-.2 1.2-.3 1.2-.3 1.2 0 1.2 0 1.2 0 1.2 0 1.2-.1 1.2-.2 1.2-.6 1.2-.9 1.2-1.2 1.1-1.4 1.2-1.3 1.2-.9 1.2-.7 1.2-.3 1.2-.2 1.2-.2 1.2-.1 1.2-.2 1.2-.1 1.2-.2 1.2-.3 1.1-.5 1.2-.6 1.2-.7 1.2-.6 1.2-.5 1.2-.4 1.2-.2 1.2 0 1.2-.3 1.2-.5 1.2-1.3 1.2-2.9 1.1-3.8 1.2-3.3 1.2-2.4 1.2-2 1.2-1 1.2 .5 1.2 .9 1.2 .9 1.2 1.1 1.2 .6 .8 .1 .4 .2 .2 .1 .6-1 .4-1.1 .2-.9 .5-2.4 .5-2.3 .1-1 .6-3.9 .4-.7 .2 .5 .6 2.7 .4 1.4 .2-.2 .6 .3 .4 0 .2 0 .6 1.6 .4 2 .2 1.4 1 3.6 1.2 2.1 1.2 .8 1.2 .2 1.2 .1 1.2 .4 1.2 .9 1.2 .9 1.1 .8 1.2 .4 1.2 0 1.2-.1 1.2 .3 1.2 .6 1.2 .8 1.2 .9 1.2 .6 1.2 .5 1.2 .2 1.2 .1 1.2-.1 1.1-.1 1.2-.1 1.2-.1 1.2 .7 1.2 1.5 1.2 1.8 1.2 1.2 1.2 1 1.2 .7 1.2 .3 1.2 .2 1.2 .2 1.1 .6 1.2 .8 1.2 .9 1.2 .9 1.2 .7 1.2 .4 1.2 .4 .5 .3 .6 .4 .1 .4 .4 .4 .6 .5 .2 .4 .3 .2 .6 0 .3-.1 .2-.1 .6-.3 .4 .1 .1 .2 .6 .5 .5 .8 .1 0 .5 .5 .6 0 0-.7 .5-.1 .6 0 0 0 .5 .7 .7 .8 1.2 1 1.2 .5 1.2 .4 1.2 0 1.2-.1 1.2 0 1.2 .1 1.2 .1 1.2 0 1.2 0 1.1 .1 1.2 .2 1.2 .2 1.2 .2 1.2-.1 1.2-.3 1.2 0 1.2 .4 1.2 .6 1.2 .5 1.2 .3 1.2-.1 1.2-.5 1.1-.7 1.2-.4 1.2-.2 1.2 .2 1.2 .3 1.2 .5 1.2 .2 1.2-.1 1.2-.3 1.2-.1 1.2 0 1.2 .3 1.1 .3 1.2 .3 1.2 .1 1.2-.1 1.2-.3 1.2-.2 1.2-.1 1.2-.2 1.2 .1 1.2 .4 1.2 .6 1.2 .6 1.1 .4 1.2 0 1.2-.3 1.2-.4 1.2-.5 1.2-.3 1.2-.2 1.2 0 1.2 .1 1.2 .2 1.2 .4 1.2 .2 1.2 .2 1.1-.1 1.2-.2 1.2-.2 1.2-.2 1.2-.1 1.2 0 1.2 .1 1.2-.1 1.2-.1 1.2-.1 1.2-.1 1.2 0 1.1 .4 1.2 .3 1.2 .2 1.2-.1 1.2-.4 1.2-.4 1.2-.2"/>
<path d="M50.6 189.1l1.2 0 1.2-.2 1.2 .1 1.2 .3 1.2 .6 1.2 .5 1.1 .5 1.2 .1 1.2-.4 1.2-.6 1.2-.6 1.2-.6 1.2-.5 1.2-.3 1.2-.5 1.2-.6 1.2-.6 1.2-.2 1.1 .3 1.2 .7 1.2 .6 1.2 .1 1.2-.5 1.2-.8 1.2-.9 1.2-.8 1.2-.4 1.2-.3 1.2-.2 1.2-.2 1.2-.2 1.1-.4 1.2-.4 1.2-.5 1.2-.7 1.2-1 1.2-1.2 1.2-1.2 1.2-1.1 1.2-.9 1.2-.6 1.2-.4 1.2-.2 1.1-.5 1.2-.1 1.2-.4 1.2-.4 1.2-.3 1.2-.3 1.2-.4 1.2-.6 1.2-.9 1.2-1.2 1.2-1.8 1.2-2.6 1.1-3.1 1.2-2.4 1.2-1.5 1.2-1.3 1.2-.5 1.2 .7 1.2 .9 1.2 .7 1.2 .5 1.2-.1 .8-1 .4-.6 .2-.3 .6-.8 .4-.6 .2 0 .5-1.7 .5-1.6 .1-.6 .6-3.7 .4-1 .2-.1 .6 2 .4 1.2 .2 .1 .6 1.3 .4 .9 .2 .4 .6 1.6 .4 .9 .2-.1 1 2.1 1.2 1.6 1.2 1.1 1.2 1.3 1.2 1.3 1.2 1 1.2 .4 1.2 .2 1.1 0 1.2 0 1.2 .3 1.2 .7 1.2 .9 1.2 1 1.2 1.1 1.2 .7 1.2 .5 1.2 .5 1.2 .3 1.2 .1 1.2-.4 1.1-.9 1.2-.9 1.2-.6 1.2 .4 1.2 1.4 1.2 1.9 1.2 1.4 1.2 1.4 1.2 1.2 1.2 1.1 1.2 .8 1.2 .6 1.1 .7 1.2 1 1.2 1 1.2 1.3 1.2 1 1.2 .9 1.2 .2 .5-.3 .6-.5 .1-.5 .4-.2 .6 .3 .2 .3 .3 .2 .6-.3 .3-.4 .2-.5 .6-.6 .4-.1 .1-.1 .6 .1 .5 .5 .1 .3 .5 1.4 .6 1.3 0 .7 .5 .9 .6 .2 0-.4 .5-.3 .7-.1 1.2 .1 1.2 .3 1.2 .3 1.2 .3 1.2 .2 1.2 .3 1.2 .3 1.2 .5 1.2 .4 1.2 .5 1.1 .5 1.2 .6 1.2 .3 1.2 0 1.2-.2 1.2-.4 1.2-.6 1.2-.3 1.2-.2 1.2 .2 1.2 .6 1.2 .6 1.2 .4 1.1-.1 1.2-.5 1.2-.6 1.2-.5 1.2-.1 1.2 0 1.2 .1 1.2 0 1.2 .1 1.2 .3 1.2 .5 1.2 .9 1.1 .8 1.2 .1 1.2 0 1.2 0 1.2 0 1.2-.4 1.2-.6 1.2-.8 1.2-.8 1.2-.4 1.2-.3 1.2 0 1.1 .2 1.2 .5 1.2 .5 1.2 .8 1.2 .7 1.2 .5 1.2 0 1.2-.2 1.2-.7 1.2-.5 1.2-.4 1.2-.1 1.2 0 1.1 .1 1.2 .2 1.2 .2 1.2 .1 1.2 .3 1.2 .2 1.2 .2 1.2 .2 1.2 .2 1.2 .1 1.2 .2 1.2 0 1.1 0 1.2 0 1.2-.3 1.2-.1 1.2 .2 1.2 .2 1.2 0"/>
<path d="M50.6 190.5l1.2 .1 1.2-.1 1.2-.5 1.2-1 1.2-1 1.2-.9 1.1-.3 1.2 .1 1.2 .5 1.2 .3 1.2 .4 1.2 .1 1.2-.2 1.2-.1 1.2-.2 1.2-.2 1.2-.1 1.2 .1 1.1 .1 1.2 0 1.2 0 1.2-.2 1.2-.4 1.2-.5 1.2-.4 1.2-.5 1.2-.5 1.2-.5 1.2-.4 1.2-.5 1.2-.2 1.1-.3 1.2-.4 1.2-.6 1.2-1 1.2-1.1 1.2-1 1.2-.5 1.2 .1 1.2 .4 1.2 .4 1.2 .2 1.2-.3 1.1-.6 1.2-.6 1.2-.9 1.2-.9 1.2-1 1.2-1.1 1.2-1.1 1.2-1.1 1.2-.9 1.2-.9 1.2-1.1 1.2-1.7 1.1-2.6 1.2-2.1 1.2-1.4 1.2-1.3 1.2-.4 1.2 .7 1.2 .9 1.2 .2 1.2-.1 1.2-.6 .8-1.2 .4-.5 .2 .1 .6-.5 .4-.4 .2 .1 .5-1.6 .5-1.6 .1-.8 .6-3.5 .4-1.2 .2-.1 .6 1.5 .4 .5 .2-.4 .6 .7 .4 .8 .2 .8 .6 1.8 .4 1.3 .2 .6 1 2.8 1.2 2 1.2 1.3 1.2 1.3 1.2 1.1 1.2 .8 1.2 .4 1.2 .3 1.1 0 1.2 .2 1.2 .1 1.2 .4 1.2 .6 1.2 .7 1.2 .6 1.2 .7 1.2 .7 1.2 .4 1.2 .2 1.2-.1 1.2-.4 1.1-.6 1.2-.6 1.2-.3 1.2 .5 1.2 1.4 1.2 1.7 1.2 1.4 1.2 1.1 1.2 .9 1.2 .7 1.2 .6 1.2 .6 1.1 .5 1.2 .8 1.2 .8 1.2 .8 1.2 .9 1.2 .4 1.2 .3 .5-.2 .6-.2 .1-.1 .4 .2 .6 .3 .2 .4 .3 .3 .6 .2 .3 0 .2-.2 .6-.2 .4 0 .1 .2 .6 .5 .5 .8 .1 .4 .5 .7 .6 .1 0-.7 .5-.7 .6-.6 0-.5 .5 .3 .7 .7 1.2 1 1.2 .9 1.2 .7 1.2 .4 1.2 .5 1.2 .4 1.2 .3 1.2 0 1.2 .1 1.2-.1 1.1 .2 1.2 .6 1.2 .6 1.2 .2 1.2-.3 1.2-.7 1.2-.9 1.2-.3 1.2 .5 1.2 .7 1.2 .6 1.2 .4 1.2 0 1.1-.2 1.2 0 1.2 .3 1.2 .1 1.2 0 1.2 0 1.2 0 1.2 .2 1.2 .3 1.2 .4 1.2 0 1.2 0 1.1 0 1.2 0 1.2-.2 1.2-.4 1.2-.4 1.2-.1 1.2 .3 1.2 .6 1.2 .2 1.2 0 1.2-.2 1.2-.7 1.1-.4 1.2 .1 1.2 .2 1.2 .4 1.2 .3 1.2 .3 1.2 0 1.2-.3 1.2-.4 1.2-.6 1.2-.5 1.2-.1 1.2 0 1.1 0 1.2 .1 1.2 .2 1.2 .2 1.2 .3 1.2 .3 1.2 .2 1.2 0 1.2-.3 1.2-.2 1.2 0 1.2 .4 1.1 .6 1.2 .1 1.2 0 1.2 0 1.2 0 1.2 0 1.2-.1"/>
<path d="M50.6 188l1.2-.7 1.2-.5 1.2-.1 1.2 .1 1.2 .6 1.2 .5 1.1 .4 1.2 .1 1.2 0 1.2 0 1.2 .1 1.2-.1 1.2-.3 1.2-.6 1.2-.5 1.2-.4 1.2 0 1.2 .1 1.1 .3 1.2 .1 1.2-.1 1.2-.2 1.2-.1 1.2-.1 1.2-.2 1.2-.5 1.2-.4 1.2-.5 1.2-.4 1.2-.3 1.2-.4 1.1-.4 1.2-.6 1.2-.6 1.2-.6 1.2-.7 1.2-.7 1.2-.6 1.2-.6 1.2-.5 1.2-.7 1.2-.8 1.2-1.1 1.1-.9 1.2-.7 1.2-.4 1.2-.2 1.2-.4 1.2-.3 1.2-.5 1.2-.7 1.2-.6 1.2-.8 1.2-1.1 1.2-2.2 1.1-2.8 1.2-2.3 1.2-1.2 1.2-.7 1.2 .1 1.2 1.1 1.2 1.1 1.2 .4 1.2 .1 1.2-.5 .8-1.1 .4-.8 .2-.1 .6-.7 .4-.4 .2-.1 .5-1.8 .5-2.1 .1-1.5 .6-3.9 .4-1 .2 .5 .6 2.6 .4 1.7 .2 .4 .6 .9 .4 .6 .2 .3 .6 1.6 .4 1.3 .2 .5 1 2.2 1.2 1.2 1.2 .6 1.2 .7 1.2 1.1 1.2 1.4 1.2 1.3 1.2 .9 1.1 .5 1.2-.1 1.2-.1 1.2-.1 1.2 .2 1.2 .4 1.2 .6 1.2 .6 1.2 .3 1.2 0 1.2-.1 1.2-.1 1.2-.2 1.1-.2 1.2 0 1.2 .3 1.2 .9 1.2 1.5 1.2 1.3 1.2 .9 1.2 .7 1.2 1 1.2 1 1.2 1 1.2 .8 1.1 .8 1.2 .8 1.2 .7 1.2 .8 1.2 .6 1.2 .7 1.2 .7 .5 .3 .6 .2 .1-.3 .4-.4 .6-.6 .2-.5 .3-.1 .6 0 .3 .3 .2 .3 .6-.1 .4-.2 .1-.1 .6 0 .5 .2 .1 0 .5 .7 .6 .7 0 .4 .5 .9 .6 .8 0 .4 .5 .2 .7-.3 1.2-.6 1.2-.7 1.2-.6 1.2 0 1.2 .6 1.2 .7 1.2 .8 1.2 .7 1.2 .4 1.2 .1 1.1-.3 1.2-.7 1.2-.8 1.2-.5 1.2 0 1.2 .6 1.2 1 1.2 1.1 1.2 .6 1.2 .2 1.2-.3 1.2-.6 1.2-.4 1.1-.2 1.2 0 1.2 .2 1.2 .2 1.2 .2 1.2 .1 1.2 .1 1.2 0 1.2-.1 1.2-.2 1.2 0 1.2 .4 1.1 .6 1.2 .6 1.2 .7 1.2 .1 1.2-.4 1.2-.8 1.2-.6 1.2-.1 1.2 .4 1.2 .8 1.2 .6 1.2 .1 1.1 0 1.2 0 1.2 0 1.2 0 1.2 0 1.2 0 1.2 0 1.2 0 1.2 0 1.2 0 1.2 0 1.2 0 1.2 0 1.1-.3 1.2-.6 1.2-.5 1.2-.3 1.2-.4 1.2-.2 1.2-.3 1.2 0 1.2 .2 1.2 .4 1.2 .5 1.2 .6 1.1 .4 1.2 .2 1.2 0 1.2-.2 1.2-.3 1.2-.1 1.2 .1"/>
<path d="M50.6 191l1.2-.1 1.2-.3 1.2-.7 1.2-.5 1.2-.2 1.2 .1 1.1 .2 1.2 .3 1.2 0 1.2-.2 1.2-.5 1.2-.5 1.2-.7 1.2-.6 1.2-.5 1.2-.3 1.2-.1 1.2 0 1.1 .3 1.2 .6 1.2 .6 1.2 .2 1.2-.5 1.2-1.4 1.2-1.8 1.2-1.7 1.2-.9 1.2-.3 1.2 .1 1.2 .1 1.2 0 1.1-.2 1.2-.1 1.2 .1 1.2 0 1.2 0 1.2-.3 1.2-.7 1.2-.6 1.2-.6 1.2-.7 1.2-.7 1.2-.7 1.1-.4 1.2-.2 1.2 .3 1.2 .2 1.2 .1 1.2-.2 1.2-.6 1.2-.8 1.2-1.1 1.2-1.1 1.2-1.3 1.2-2.5 1.1-2.8 1.2-2.6 1.2-1.7 1.2-1.3 1.2-.1 1.2 1.2 1.2 1.3 1.2 1 1.2 1 1.2 .1 .8-.5 .4-.3 .2-.1 .6-1 .4-1.2 .2-1.1 .5-2.8 .5-2.3 .1-1.3 .6-3.6 .4-.8 .2 .3 .6 2.2 .4 1.5 .2 .7 .6 1.2 .4 .7 .2 .1 .6 1.1 .4 .6 .2 .4 1 2.3 1.2 1.6 1.2 1.2 1.2 1 1.2 .6 1.2 .6 1.2 .3 1.2 .3 1.1 .2 1.2 .7 1.2 .8 1.2 .7 1.2 .5 1.2 .3 1.2-.2 1.2-.2 1.2 .1 1.2 .3 1.2 .4 1.2 .6 1.2 .2 1.1-.1 1.2-.2 1.2-.1 1.2 .5 1.2 1.3 1.2 1.5 1.2 1.2 1.2 1.1 1.2 1.2 1.2 1.1 1.2 1.1 1.2 1.1 1.1 .9 1.2 .9 1.2 .6 1.2 .1 1.2-.3 1.2-.5 1.2-.6 .5-.5 .6 .1 .1 .4 .4 .5 .6 .4 .2 .2 .3 0 .6-.2 .3 0 .2 0 .6 0 .4 0 .1-.1 .6 0 .5 .5 .1 .4 .5 1 .6 .9 0 .2 .5 .5 .6 .3 0-.1 .5 0 .7-.1 1.2 .1 1.2 .4 1.2 .6 1.2 .6 1.2 .5 1.2 .4 1.2 .1 1.2-.1 1.2-.3 1.2-.1 1.1-.1 1.2 .1 1.2 .1 1.2 .2 1.2 .1 1.2 .2 1.2 .3 1.2 .2 1.2 0 1.2-.4 1.2-.5 1.2-.4 1.2-.1 1.1 .1 1.2 .2 1.2 .2 1.2 .1 1.2 .1 1.2 .2 1.2 .3 1.2 .4 1.2 .3 1.2 .4 1.2 .1 1.2 0 1.1-.1 1.2-.3 1.2-.4 1.2-.3 1.2-.4 1.2-.3 1.2 .1 1.2 .6 1.2 .5 1.2 .3 1.2 .1 1.2-.3 1.1-.2 1.2 .1 1.2 .5 1.2 .6 1.2 0 1.2 0 1.2 0 1.2-.4 1.2-.5 1.2-.4 1.2-.3 1.2 0 1.2 .2 1.1 .2 1.2 .1 1.2 0 1.2 0 1.2 .1 1.2 .1 1.2 .1 1.2 0 1.2-.3 1.2-.5 1.2-.6 1.2-.3 1.1-.1 1.2 .4 1.2 .5 1.2 .8 1.2 .6 1.2 .3 1.2 0"/>
<path d="M50.6 189.7l1.2-.1 1.2 0 1.2 .3 1.2 .2 1.2 .1 1.2-.2 1.1-.4 1.2-.5 1.2-.5 1.2-.5 1.2-.4 1.2-.4 1.2-.6 1.2-.5 1.2-.2 1.2 .2 1.2 .4 1.2 .4 1.1 .4 1.2 .1 1.2-.1 1.2 0 1.2-.2 1.2-.2 1.2-.2 1.2-.4 1.2-.5 1.2-.4 1.2-.3 1.2-.1 1.2-.3 1.1-.3 1.2-.6 1.2-.8 1.2-.9 1.2-.9 1.2-.6 1.2-.6 1.2-.5 1.2-.4 1.2-.2 1.2-.2 1.2-.3 1.1-.5 1.2-.7 1.2-.4 1.2-.2 1.2-.2 1.2-.2 1.2-.5 1.2-.9 1.2-.9 1.2-1.3 1.2-1.5 1.2-2.8 1.1-3.1 1.2-2.3 1.2-.9 1.2-.3 1.2 .7 1.2 1.6 1.2 1.5 1.2 .9 1.2 .5 1.2-.4 .8-1 .4-.9 .2-.7 .6-1.3 .4-1 .2-.6 .5-1.9 .5-1.7 .1-.9 .6-3.5 .4-1.1 .2 0 .6 1.9 .4 1.4 .2 .9 .6 1.8 .4 1.1 .2 .5 .6 1 .4 .7 .2 0 1 2 1.2 1.4 1.2 .9 1.2 .8 1.2 .9 1.2 1.1 1.2 1.2 1.2 1 1.1 .9 1.2 .5 1.2 .1 1.2-.1 1.2 0 1.2 .1 1.2 .5 1.2 .6 1.2 .6 1.2 .5 1.2 .1 1.2-.2 1.2-.7 1.1-.7 1.2-.7 1.2-.7 1.2 .2 1.2 1 1.2 1.3 1.2 1 1.2 1.1 1.2 1.3 1.2 1.2 1.2 1 1.2 .8 1.1 .5 1.2 .4 1.2 .1 1.2 .6 1.2 .6 1.2 .8 1.2 .8 .5 .3 .6 .1 .1-.1 .4-.4 .6-.5 .2-.5 .3-.5 .6 0 .3 .5 .2 .9 .6 .8 .4 .5 .1 .3 .6 .1 .5 .3 .1-.2 .5 .3 .6 .1 0-.3 .5 .1 .6 0 0 0 .5 .3 .7 .5 1.2 .5 1.2 .5 1.2 .2 1.2 .2 1.2 .2 1.2 .1 1.2 .3 1.2 .3 1.2 .4 1.2 .4 1.1 .4 1.2 .3 1.2 .1 1.2 0 1.2 0 1.2 .1 1.2 .1 1.2 .2 1.2 .3 1.2 .4 1.2 .1 1.2 0 1.2 0 1.1-.2 1.2-.8 1.2-.9 1.2-.9 1.2-.7 1.2-.3 1.2 0 1.2 .3 1.2 .5 1.2 .4 1.2 .3 1.2 .3 1.1 .4 1.2 .4 1.2 .3 1.2 .1 1.2 0 1.2-.1 1.2-.3 1.2-.2 1.2-.1 1.2 .1 1.2 .2 1.2 .1 1.1 0 1.2-.2 1.2-.1 1.2 .1 1.2-.1 1.2-.1 1.2-.3 1.2-.1 1.2 .2 1.2 .5 1.2 .5 1.2 .2 1.2-.1 1.1-.3 1.2-.2 1.2 .1 1.2 .4 1.2 .5 1.2 .1 1.2 0 1.2 0 1.2-.4 1.2-.5 1.2-.3 1.2 0 1.1 0 1.2 .1 1.2 0 1.2 0 1.2-.1 1.2 0 1.2 0"/>
<path d="M50.6 189.4l1.2 .5 1.2 .5 1.2 .2 1.2 .2 1.2-.1 1.2-.3 1.1-.5 1.2-.7 1.2-.7 1.2-.5 1.2 .1 1.2 .5 1.2 .6 1.2 .4 1.2 0 1.2-.2 1.2-.7 1.2-.7 1.1-.8 1.2-.8 1.2-.2 1.2 0 1.2 .4 1.2 .4 1.2 .2 1.2 .1 1.2-.3 1.2-.5 1.2-.5 1.2-.5 1.2-.4 1.1-.5 1.2-.6 1.2-.4 1.2-.3 1.2-.3 1.2-.5 1.2-.7 1.2-.8 1.2-.7 1.2-.4 1.2-.1 1.2-.3 1.1-.5 1.2-.8 1.2-.8 1.2-.7 1.2-.2 1.2 .1 1.2 .2 1.2 0 1.2-.3 1.2-.7 1.2-1 1.2-2 1.1-2.3 1.2-2.1 1.2-1.1 1.2-1.1 1.2-.5 1.2 .4 1.2 .6 1.2 .4 1.2 .6 1.2 0 .8-.6 .4-.5 .2-.6 .6-1.3 .4-1.1 .2-.6 .5-1.8 .5-1.7 .1-.7 .6-3 .4-.7 .2 .5 .6 1.9 .4 1.1 .2 0 .6 .6 .4 .6 .2 .4 .6 1.8 .4 1.6 .2 .9 1 2.5 1.2 1.5 1.2 .5 1.2 .4 1.2 .4 1.2 .2 1.2 .3 1.2 .3 1.1 .3 1.2 .2 1.2 .3 1.2 .2 1.2 .4 1.2 .4 1.2 .4 1.2 .5 1.2 .6 1.2 .7 1.2 .3 1.2 .2 1.2-.1 1.1-.3 1.2-.3 1.2-.1 1.2 .4 1.2 1.1 1.2 1.4 1.2 1.2 1.2 1.1 1.2 1 1.2 .7 1.2 .3 1.2 .2 1.1 .4 1.2 .3 1.2 .2 1.2 .1 1.2 0 1.2 .2 1.2 .3 .5 .4 .6 .1 .1 0 .4-.2 .6 0 .2 .2 .3 .5 .6 .7 .3 .8 .2 .6 .6 .2 .4-.2 .1-.5 .6-.3 .5 .1 .1-.4 .5 .2 .6 .1 0-.3 .5 .4 .6 .4 0 .3 .5 .5 .7 .5 1.2 .3 1.2 .1 1.2 .1 1.2 .3 1.2 .5 1.2 .6 1.2 .7 1.2 .4 1.2-.1 1.2-.3 1.1-.6 1.2-.3 1.2-.1 1.2 .3 1.2 .7 1.2 .8 1.2 .7 1.2 .4 1.2 0 1.2-.4 1.2-.7 1.2-.8 1.2-.5 1.1-.2 1.2 0 1.2 .3 1.2 .3 1.2 .1 1.2 0 1.2-.4 1.2-.5 1.2-.4 1.2-.2 1.2 .3 1.2 .4 1.1 .7 1.2 .6 1.2 .6 1.2 .7 1.2 .1 1.2 0 1.2 0 1.2 0 1.2 0 1.2 0 1.2 0 1.2 0 1.1 0 1.2-.3 1.2-.4 1.2-.2 1.2 .1 1.2 .5 1.2 .3 1.2 0 1.2 0 1.2 0 1.2-.1 1.2-.2 1.2 .1 1.1 0 1.2 0 1.2-.3 1.2-.1 1.2 0 1.2 .3 1.2 .3 1.2 0 1.2 0 1.2 0 1.2 0 1.2 0 1.1 0 1.2 0 1.2 0 1.2 0 1.2 0 1.2 0 1.2 0"/>
</g>
<g fill="none" stroke="#ED1C24" stroke-width="0.95" stroke-linejoin="round">
<path d="M50.6 191.3l1.2 0 1.2 0 1.2 0 1.2 0 1.2 0 1.2 0 1.1 0 1.2 0 1.2 0 1.2 0 1.2 0 1.2 0 1.2 0 1.2-.2 1.2-.1 1.2-.1 1.2 0 1.2 .1 1.1 .1 1.2 0 1.2 0 1.2-.1 1.2 0 1.2-.1 1.2 0 1.2 0 1.2 0 1.2 0 1.2-.1 1.2-.1 1.2 0 1.1-.2 1.2-.2 1.2-.2 1.2-.3 1.2-.3 1.2-.4 1.2-.3 1.2-.2 1.2-.1 1.2 0 1.2-.1 1.2 0 1.1-.1 1.2-.1 1.2-.1 1.2-.2 1.2-.1 1.2-.2 1.2-.3 1.2-.5 1.2-.5 1.2-.6 1.2-.7 1.2-1.1 1.1-1.6 1.2-1.6 1.2-1.7 1.2-1.9 1.2-1.6 1.2-1.2 1.2-1.1 1.2-1 1.2-1 1.2-1.4 .8-1.5 .4-1.1 .2-1 .6-2 .4-1.7 .2-.8 .5-3.1 .5-2.3 .1-1.1 .6-3.6 .4-1.3 .2-.2 .6 0 .4 0 .2-.1 .6-.2 .4 0 .2 .4 .6 .8 .4 1 .2 .6 1 1.5 1.2 .8 1.2 .3 1.2-.1 1.2-.4 1.2-.7 1.2-.1 1.2 .2 1.1 .5 1.2 .2 1.2-.2 1.2-.4 1.2-.7 1.2-.8 1.2-.5 1.2-.4 1.2-.2 1.2-.5 1.2-1 1.2-1.3 1.2-2.1 1.1-2.8 1.2-3.2 1.2-3.8 1.2-.6 1.2 2.1 1.2 2.3 1.2 .6 1.2-2 1.2-1.8 1.2 .8 1.2 2.4 1.2 2.3 1.1 .6 1.2-1 1.2-.8 1.2 .5 1.2 1.3 1.2 1.2 1.2 .7 .5 .2 .6 .3 .1 .2 .4-.1 .6-.6 .2-.3 .3-.8 .6-1.2 .3-.7 .2-.8 .6-.7 .4 .6 .1 .5 .6 2.5 .5 2.3 .1 .6 .5 2.8 .6 2.6 0 .3 .5 1.9 .6 1.3 0-.4 .5 .5 .7 1 1.2 1.7 1.2 1.4 1.2 1.2 1.2 1.5 1.2 1.7 1.2 1.7 1.2 1.5 1.2 1.5 1.2 1.3 1.2 1.5 1.1 1.6 1.2 1.6 1.2 1.6 1.2 1.5 1.2 1.2 1.2 1 1.2 1.2 1.2 1.3 1.2 1.3 1.2 1.2 1.2 1.2 1.2 .8 1.2 .6 1.1 .3 1.2 .1 1.2 .2 1.2 .3 1.2 .4 1.2 .3 1.2 .1 1.2 0 1.2-.2 1.2-.2 1.2-.1 1.2 0 1.1 0 1.2 0 1.2-.1 1.2 0 1.2-.1 1.2-.1 1.2 .2 1.2 0 1.2 .1 1.2 .2 1.2 .3 1.2 .2 1.1 .1 1.2-.2 1.2-.4 1.2-.8 1.2-.5 1.2-.3 1.2 0 1.2 0 1.2 .2 1.2 0 1.2 0 1.2 0 1.2 .1 1.1 .2 1.2 .2 1.2 .5 1.2 .4 1.2 .5 1.2 .3 1.2 .2 1.2-.1 1.2-.2 1.2-.5 1.2-.6 1.2-.8 1.1-.7 1.2-.6 1.2-.3 1.2 .3 1.2 .7 1.2 1.2 1.2 1"/>
<path d="M50.6 191.3l1.2 0 1.2 0 1.2 0 1.2 0 1.2 0 1.2 0 1.1 0 1.2-.1 1.2 0 1.2 .1 1.2 0 1.2 0 1.2 0 1.2 0 1.2 0 1.2-.1 1.2 .1 1.2-.1 1.1 0 1.2-.1 1.2-.1 1.2-.1 1.2 0 1.2 .1 1.2 0 1.2-.2 1.2-.1 1.2-.2 1.2-.1 1.2-.1 1.2-.1 1.1-.3 1.2-.3 1.2-.3 1.2-.2 1.2 0 1.2 0 1.2 0 1.2 0 1.2-.1 1.2-.2 1.2-.2 1.2-.4 1.1-.3 1.2-.3 1.2-.2 1.2-.1 1.2-.1 1.2-.2 1.2-.3 1.2-.4 1.2-.4 1.2-.5 1.2-.6 1.2-1.2 1.1-1.7 1.2-2 1.2-2.1 1.2-2 1.2-1.7 1.2-1.1 1.2-.8 1.2-.7 1.2-.7 1.2-1.2 .8-1.2 .4-.9 .2-.8 .6-1.6 .4-1.4 .2-.6 .5-2.6 .5-1.8 .1-.9 .6-3.3 .4-1.6 .2-.7 .6-.6 .4-.1 .2 .4 .6 .4 .4 .4 .2 .1 .6 0 .4-.1 .2-.5 1 .9 1.2 .7 1.2 .4 1.2 .6 1.2 .1 1.2-.2 1.2-.2 1.2 0 1.1 .1 1.2 .4 1.2 .7 1.2 .9 1.2 .5 1.2-.1 1.2-.6 1.2-1 1.2-1 1.2-1 1.2-1 1.2-.8 1.2-1.3 1.1-2.1 1.2-2.4 1.2-3.1 1.2-.8 1.2 1.5 1.2 1.8 1.2 .5 1.2-1.4 1.2-1.5 1.2 .6 1.2 1.7 1.2 1.8 1.1 .9 1.2 0 1.2 .5 1.2 1.6 1.2 1.9 1.2 1.4 1.2 .5 .5-.2 .6-.4 .1-.4 .4-.3 .6-.3 .2 .1 .3 0 .6-.5 .3-.7 .2-.9 .6-.7 .4 .4 .1 .8 .6 2.8 .5 2.7 .1 .7 .5 2.2 .6 1.4 0-.5 .5 1.2 .6 1.2 0 .4 .5 .9 .7 1.2 1.2 1.1 1.2 .4 1.2 .2 1.2 .4 1.2 .9 1.2 1.1 1.2 1.4 1.2 1.6 1.2 1.9 1.2 2.1 1.1 2.1 1.2 1.9 1.2 1.6 1.2 1.2 1.2 .9 1.2 .8 1.2 .8 1.2 .7 1.2 .7 1.2 .5 1.2 .5 1.2 .7 1.2 .8 1.1 .5 1.2 .1 1.2-.1 1.2-.2 1.2-.2 1.2 0 1.2 0 1.2-.1 1.2 0 1.2 .3 1.2 .5 1.2 .8 1.1 .6 1.2 0 1.2-.2 1.2-.6 1.2-.7 1.2-.3 1.2 .1 1.2 .3 1.2 .1 1.2-.1 1.2-.1 1.2 .1 1.1 .6 1.2 .8 1.2 0 1.2 0 1.2 0 1.2 0 1.2-.3 1.2-.3 1.2-.1 1.2 .1 1.2 .2 1.2 .3 1.2-.1 1.1-.2 1.2-.3 1.2-.3 1.2-.1 1.2 .2 1.2 .1 1.2 .1 1.2-.1 1.2-.1 1.2-.2 1.2 0 1.2 0 1.1 0 1.2-.1 1.2-.1 1.2-.2 1.2 0 1.2 .2 1.2 .4"/>
<path d="M50.6 191.3l1.2 0 1.2 0 1.2 0 1.2 0 1.2 0 1.2 0 1.1 0 1.2 0 1.2 0 1.2 0 1.2 0 1.2 0 1.2 0 1.2-.1 1.2-.1 1.2 0 1.2 0 1.2 0 1.1 .1 1.2-.1 1.2-.1 1.2-.2 1.2-.2 1.2-.2 1.2-.1 1.2 .1 1.2 .1 1.2 0 1.2 0 1.2-.1 1.2-.2 1.1-.3 1.2-.3 1.2-.4 1.2-.2 1.2-.2 1.2-.1 1.2-.1 1.2-.1 1.2-.1 1.2-.1 1.2 0 1.2-.1 1.1-.1 1.2-.3 1.2-.2 1.2-.3 1.2-.2 1.2-.3 1.2-.3 1.2-.3 1.2-.4 1.2-.7 1.2-.8 1.2-1.3 1.1-1.5 1.2-1.6 1.2-1.4 1.2-1.6 1.2-1.2 1.2-.8 1.2-.6 1.2-1 1.2-1.1 1.2-1.5 .8-1.4 .4-.8 .2-.3 .6-1.3 .4-1.3 .2-1.2 .5-2.8 .5-2.1 .1-1.1 .6-2.9 .4-1.4 .2-.6 .6-.4 .4-.1 .2 .3 .6 .2 .4 .4 .2 .4 .6 .6 .4 .6 .2 .1 1 1.3 1.2 1 1.2 .5 1.2 .3 1.2 .1 1.2-.2 1.2-.1 1.2 0 1.1 .2 1.2 .3 1.2 .2 1.2 .2 1.2 .2 1.2 .1 1.2 0 1.2-.2 1.2-.2 1.2-.4 1.2-.7 1.2-.8 1.2-1.2 1.1-1.8 1.2-1.8 1.2-2.1 1.2 0 1.2 1.7 1.2 2 1.2 .8 1.2-.8 1.2-.9 1.2 .6 1.2 1.4 1.2 1.3 1.1 .4 1.2-.4 1.2 0 1.2 .6 1.2 1 1.2 .7 1.2 .3 .5-.2 .6-.3 .1-.4 .4-.4 .6-.5 .2-.2 .3 .1 .6-.1 .3 .2 .2 .2 .6 .4 .4 1 .1 .7 .6 1.7 .5 1.3 .1-.2 .5 1.5 .6 1.4 0 0 .5 1.4 .6 1.2 0 .6 .5 1.4 .7 1.6 1.2 1.7 1.2 .8 1.2 .1 1.2-.1 1.2 .1 1.2 .5 1.2 .9 1.2 1.2 1.2 1.2 1.2 1.2 1.1 1.3 1.2 1.4 1.2 1.3 1.2 1 1.2 .7 1.2 .5 1.2 .7 1.2 .9 1.2 1.3 1.2 1.4 1.2 1 1.2 .6 1.2 0 1.1-.1 1.2-.3 1.2-.3 1.2 0 1.2 .1 1.2-.1 1.2-.1 1.2-.3 1.2-.5 1.2-.3 1.2-.1 1.2 .4 1.1 .4 1.2 .4 1.2 .1 1.2-.2 1.2-.3 1.2-.2 1.2 .1 1.2 .4 1.2 .6 1.2 .2 1.2-.1 1.2-.3 1.1-.3 1.2 0 1.2 .4 1.2 .2 1.2 .1 1.2-.1 1.2-.2 1.2-.1 1.2 .1 1.2 .4 1.2 0 1.2 0 1.2 0 1.1 0 1.2 0 1.2-.3 1.2-.2 1.2 0 1.2 0 1.2 .2 1.2 .3 1.2 0 1.2 0 1.2 0 1.2 0 1.1-.6 1.2-.7 1.2-.3 1.2 .1 1.2 .4 1.2 .5 1.2 .1"/>
<path d="M50.6 191.3l1.2 0 1.2 0 1.2 0 1.2 0 1.2 0 1.2 0 1.1 0 1.2 0 1.2 0 1.2 0 1.2 0 1.2 0 1.2 0 1.2 0 1.2-.1 1.2-.2 1.2-.1 1.2-.1 1.1 0 1.2 0 1.2 0 1.2 0 1.2 0 1.2-.1 1.2-.1 1.2 0 1.2 0 1.2 0 1.2 0 1.2-.1 1.2 0 1.1-.2 1.2-.2 1.2-.2 1.2-.2 1.2-.2 1.2-.2 1.2-.1 1.2-.2 1.2-.1 1.2-.1 1.2-.1 1.2-.2 1.1-.2 1.2-.3 1.2-.3 1.2-.3 1.2-.3 1.2-.3 1.2-.4 1.2-.4 1.2-.4 1.2-.5 1.2-.8 1.2-1.3 1.1-1.7 1.2-1.8 1.2-1.7 1.2-1.7 1.2-1.5 1.2-.9 1.2-.8 1.2-1 1.2-1 1.2-1.6 .8-1.6 .4-.8 .2-.4 .6-.8 .4-.5 .2-.3 .5-1.8 .5-1.6 .1-.7 .6-2.3 .4-1.2 .2-.5 .6-.8 .4-.5 .2-.2 .6-.4 .4-.1 .2-.1 .6 .5 .4 .6 .2 .2 1 1.6 1.2 .9 1.2 .5 1.2 .5 1.2 .2 1.2 .4 1.2 .3 1.2 .1 1.1-.1 1.2-.4 1.2 0 1.2 .3 1.2 .7 1.2 .9 1.2 .9 1.2 .7 1.2 .5 1.2-.1 1.2-.6 1.2-1.2 1.2-1.7 1.1-1.8 1.2-1.5 1.2-1.3 1.2 .6 1.2 2.1 1.2 2 1.2 .7 1.2-.7 1.2-.6 1.2 .4 1.2 1 1.2 1.1 1.1 .7 1.2 .2 1.2 .6 1.2 1.1 1.2 1.1 1.2 1 1.2 .4 .5 0 .6-.3 .1-.3 .4-.5 .6-.6 .2-.3 .3 0 .6 0 .3 .3 .2 .1 .6-.2 .4-.1 .1-.3 .6 .8 .5 1.1 .1 .5 .5 1.8 .6 1.6 0 .5 .5 1.2 .6 1 0 .2 .5 .6 .7 .7 1.2 1 1.2 .7 1.2 .6 1.2 .6 1.2 .7 1.2 .7 1.2 .8 1.2 .9 1.2 1.1 1.2 1 1.1 .9 1.2 .8 1.2 .7 1.2 .7 1.2 .7 1.2 .6 1.2 .6 1.2 .3 1.2 0 1.2 .2 1.2 .3 1.2 .5 1.2 .6 1.1 .4 1.2 .1 1.2-.3 1.2-.3 1.2-.1 1.2 .1 1.2 .5 1.2 .6 1.2 0 1.2 0 1.2-.1 1.2-.5 1.1-.5 1.2-.4 1.2-.2 1.2 0 1.2 .3 1.2 .6 1.2 .5 1.2 .3 1.2 0 1.2-.2 1.2-.3 1.2-.3 1.1-.1 1.2 .1 1.2 .3 1.2 .5 1.2 0 1.2 0 1.2 0 1.2-.3 1.2-.1 1.2-.1 1.2 .2 1.2 .1 1.2 .1 1.1 .1 1.2 0 1.2 0 1.2 0 1.2 0 1.2-.1 1.2-.5 1.2-.4 1.2-.4 1.2-.1 1.2 .2 1.2 .3 1.1 .1 1.2-.1 1.2-.2 1.2-.1 1.2 .1 1.2 .3 1.2 .1"/>
<path d="M50.6 191.3l1.2 0 1.2 0 1.2 0 1.2 0 1.2 0 1.2 0 1.1 0 1.2 0 1.2 0 1.2 0 1.2 0 1.2 0 1.2 0 1.2 0 1.2-.1 1.2 0 1.2-.1 1.2-.1 1.1-.2 1.2-.1 1.2 0 1.2 0 1.2 .1 1.2 0 1.2-.1 1.2-.3 1.2-.3 1.2-.2 1.2-.1 1.2 0 1.2 0 1.1 0 1.2-.1 1.2-.1 1.2-.1 1.2-.1 1.2 0 1.2 0 1.2-.1 1.2-.3 1.2-.3 1.2-.5 1.2-.4 1.1-.3 1.2-.3 1.2-.2 1.2-.1 1.2-.1 1.2-.1 1.2-.2 1.2-.2 1.2-.4 1.2-.6 1.2-1 1.2-1.5 1.1-1.9 1.2-2.1 1.2-1.9 1.2-1.9 1.2-1.5 1.2-.7 1.2-.5 1.2-.6 1.2-.8 1.2-1.2 .8-1.3 .4-.9 .2-.4 .6-1.3 .4-1.1 .2-.7 .5-1.8 .5-1.1 .1-.4 .6-1.8 .4-1 .2-.4 .6-.7 .4-.4 .2-.1 .6-.2 .4 .1 .2 .1 .6 .7 .4 .8 .2 .4 1 1.6 1.2 .8 1.2 .4 1.2 .6 1.2 .6 1.2 .7 1.2 .4 1.2 .3 1.1 .1 1.2 .1 1.2 .2 1.2 .4 1.2 .4 1.2 .5 1.2 .4 1.2 .4 1.2 .2 1.2-.1 1.2-.3 1.2-.7 1.2-1.1 1.1-1.3 1.2-1.3 1.2-1.3 1.2 .4 1.2 1.8 1.2 2.1 1.2 1 1.2 .3 1.2 .1 1.2 1 1.2 1.3 1.2 1.3 1.1 .6 1.2 .1 1.2 0 1.2 .7 1.2 .9 1.2 .8 1.2 .5 .5 .1 .6-.3 .1-.2 .4-.1 .6 .1 .2 .1 .3 0 .6-.1 .3-.2 .2-.1 .6 .1 .4 .2 .1 .1 .6 .8 .5 .9 .1 .5 .5 1.4 .6 1.2 0 .3 .5 .8 .6 .9 0 .2 .5 .2 .7 .3 1.2 .4 1.2 .1 1.2 .1 1.2 .3 1.2 .4 1.2 .5 1.2 .5 1.2 .6 1.2 .8 1.2 1 1.1 1 1.2 .7 1.2 .5 1.2 .2 1.2 0 1.2 .2 1.2 .4 1.2 .3 1.2 .5 1.2 .3 1.2 .2 1.2 .2 1.2 .1 1.1 .2 1.2 .3 1.2 .2 1.2 .1 1.2-.3 1.2-.5 1.2-.4 1.2-.2 1.2 .2 1.2 .4 1.2 .4 1.2 .3 1.1 0 1.2-.2 1.2-.2 1.2 0 1.2 .2 1.2 .4 1.2 .5 1.2 .3 1.2 0 1.2 0 1.2 0 1.2-.3 1.1-.1 1.2 0 1.2 .2 1.2 .2 1.2 0 1.2 0 1.2 0 1.2 0 1.2 0 1.2 0 1.2 0 1.2 0 1.2 0 1.1-.5 1.2-.7 1.2-.4 1.2 .1 1.2 .4 1.2 .6 1.2 .5 1.2 0 1.2 0 1.2-.1 1.2-.3 1.2-.3 1.1-.2 1.2 0 1.2 0 1.2 .2 1.2 .2 1.2 .2 1.2 .1"/>
</g>
<g fill="none" stroke="#2E3192" stroke-width="0.8" stroke-linejoin="round">
<path d="M50.6 189.6l1.2-.4 1.2-.5 1.2-.2 1.2-.1 1.2 .1 1.2 .3 1.1 .3 1.2 .2 1.2 .2 1.2 .3 1.2 .2 1.2 .3 1.2 .2 1.2 0 1.2-.5 1.2-.8 1.2-.8 1.2-.6 1.1-.1 1.2 .4 1.2 .2 1.2 0 1.2-.4 1.2-.5 1.2-.4 1.2-.2 1.2 .2 1.2 .2 1.2-.1 1.2-.7 1.2-1.3 1.1-1.6 1.2-1.5 1.2-1.1 1.2-.6 1.2-.4 1.2-.1 1.2 0 1.2 0 1.2 .1 1.2 .2 1.2 0 1.2-.2 1.1-.5 1.2-.7 1.2-.8 1.2-.7 1.2-.5 1.2-.3 1.2-.3 1.2-.4 1.2-.9 1.2-.9 1.2-1 1.2-1.8 1.1-2.1 1.2-1.7 1.2-1 1.2-.8 1.2 0 1.2 1 1.2 1.1 1.2 .6 1.2 .4 1.2-.6 .8-1.1 .4-1 .2-.4 .6-1 .4-.4 .2-.1 .5-1.4 .5-1.6 .1-.7 .6-3.1 .4-.7 .2 .3 .6 2 .4 1.4 .2 .7 .6 1.3 .4 1 .2 .5 .6 1.2 .4 .8 .2 .2 1 1.9 1.2 1.1 1.2 .5 1.2 .4 1.2 .2 1.2 .3 1.2 .3 1.2 .4 1.1 .6 1.2 .7 1.2 .7 1.2 .4 1.2-.1 1.2-.3 1.2-.3 1.2 .1 1.2 .4 1.2 .6 1.2 .6 1.2 .3 1.2 .1 1.1-.3 1.2-.7 1.2-.7 1.2-.2 1.2 .8 1.2 1.3 1.2 1.4 1.2 1.4 1.2 1.2 1.2 .9 1.2 .6 1.2 .3 1.1 .3 1.2 .4 1.2 .5 1.2 .7 1.2 .8 1.2 .6 1.2 .3 .5 .1 .6 .1 .1 .2 .4 .3 .6 .3 .2 .4 .3 .4 .6 .1 .3 .1 .2-.2 .6-.4 .4-.5 .1-.3 .6-.1 .5 .3 .1 .3 .5 .9 .6 1 0 .5 .5 .4 .6 0 0-.7 .5-.5 .7 0 1.2 .2 1.2 .4 1.2 .3 1.2 .3 1.2 .3 1.2 .3 1.2 .4 1.2 .4 1.2 .3 1.2 .3 1.1 .1 1.2 0 1.2 0 1.2-.2 1.2-.4 1.2-.2 1.2-.1 1.2-.2 1.2-.1 1.2 0 1.2 .1 1.2 .3 1.2 .4 1.1 .2 1.2 0 1.2-.2 1.2-.1 1.2-.1 1.2 .2 1.2 .1 1.2 0 1.2-.1 1.2-.1 1.2 0 1.2 .2 1.1 .1 1.2 .2 1.2 .2 1.2 .2 1.2 .2 1.2 .1 1.2 .1 1.2 .1 1.2 .1 1.2 .1 1.2 .2 1.2 .1 1.1-.2 1.2-.1 1.2-.1 1.2 0 1.2 .1 1.2 .2 1.2 0 1.2-.2 1.2-.5 1.2-.6 1.2-.7 1.2-.3 1.2 0 1.1 .3 1.2 .3 1.2 .1 1.2-.2 1.2 0 1.2 .1 1.2 .2 1.2 .5 1.2 .6 1.2 .5 1.2 0 1.2 0 1.1 0 1.2 0 1.2 0 1.2 0 1.2 0 1.2-.2 1.2-.3"/>
<path d="M50.6 189.9l1.2 0 1.2 0 1.2-.1 1.2-.2 1.2-.5 1.2-.4 1.1-.3 1.2 0 1.2 0 1.2 .1 1.2 .1 1.2-.2 1.2-.1 1.2-.2 1.2-.1 1.2-.1 1.2 .1 1.2 .2 1.1 .1 1.2-.1 1.2-.2 1.2-.3 1.2-.3 1.2-.3 1.2-.4 1.2-.6 1.2-.6 1.2-.4 1.2-.2 1.2-.1 1.2-.2 1.1-.3 1.2-.3 1.2-.4 1.2-.3 1.2-.5 1.2-.6 1.2-.8 1.2-.8 1.2-.8 1.2-.7 1.2-.7 1.2-.7 1.1-.3 1.2-.2 1.2 0 1.2 .3 1.2 .5 1.2 .3 1.2 .1 1.2-.4 1.2-.9 1.2-1.2 1.2-1.4 1.2-2.1 1.1-2.1 1.2-1.7 1.2-.9 1.2-.7 1.2-.3 1.2 .6 1.2 .7 1.2 .6 1.2 .7 1.2 .3 .8-.2 .4-.3 .2-.4 .6-1.3 .4-1.4 .2-1.1 .5-2 .5-1.7 .1-.5 .6-2.1 .4 0 .2 .9 .6 2.2 .4 1.2 .2 .4 .6 .9 .4 .4 .2 .3 .6 .9 .4 .8 .2 .1 1 1.7 1.2 1.2 1.2 .8 1.2 .7 1.2 .9 1.2 .5 1.2 .5 1.2 .1 1.1 .1 1.2 .2 1.2 .2 1.2 .3 1.2 .4 1.2 .5 1.2 .3 1.2 .1 1.2-.1 1.2-.2 1.2 0 1.2 .3 1.2 .2 1.1 .2 1.2-.1 1.2 0 1.2 .4 1.2 .9 1.2 .9 1.2 .5 1.2 .2 1.2 .4 1.2 .4 1.2 .8 1.2 1 1.1 1.3 1.2 1.3 1.2 .9 1.2 .8 1.2 .6 1.2 .5 1.2 .5 .5 .2 .6 0 .1-.3 .4-.4 .6-.4 .2-.3 .3-.1 .6-.1 .3 0 .2-.1 .6-.2 .4-.2 .1 0 .6 0 .5 .2 .1 .1 .5 .5 .6 .4 0 0 .5 .3 .6 .3 0 0 .5 .4 .7 .5 1.2 .5 1.2 .4 1.2 0 1.2-.2 1.2-.2 1.2-.3 1.2-.4 1.2-.1 1.2 .2 1.2 .6 1.1 1.1 1.2 1 1.2 .6 1.2 .3 1.2 0 1.2 0 1.2 .2 1.2 .1 1.2 .1 1.2-.1 1.2-.3 1.2-.4 1.2-.3 1.1-.2 1.2-.1 1.2-.2 1.2-.2 1.2-.3 1.2-.1 1.2 .1 1.2 .2 1.2 .3 1.2 .3 1.2 .6 1.2 .6 1.1 .3 1.2 0 1.2 0 1.2-.4 1.2-.7 1.2-.5 1.2-.4 1.2-.1 1.2 .4 1.2 .8 1.2 .6 1.2 .1 1.1-.3 1.2-.8 1.2-.8 1.2-.3 1.2 .2 1.2 .6 1.2 .5 1.2 .4 1.2 .1 1.2-.3 1.2-.6 1.2-.6 1.2-.3 1.1-.2 1.2 .1 1.2 .1 1.2 0 1.2 .1 1.2 .2 1.2 .5 1.2 .4 1.2 .3 1.2 0 1.2-.3 1.2-.3 1.1-.1 1.2 .2 1.2 .3 1.2 .3 1.2 .3 1.2 0 1.2 0"/>
<path d="M50.6 189.7l1.2 .4 1.2 .1 1.2-.2 1.2-.3 1.2-.4 1.2-.3 1.1-.3 1.2-.1 1.2-.1 1.2-.1 1.2-.1 1.2-.1 1.2-.1 1.2 0 1.2-.1 1.2 0 1.2 .3 1.2 .3 1.1 0 1.2-.2 1.2-.5 1.2-.5 1.2-.4 1.2 0 1.2 .2 1.2 .2 1.2 0 1.2-.5 1.2-.6 1.2-.3 1.2-.2 1.1 .2 1.2 .1 1.2-.1 1.2-.5 1.2-1 1.2-1 1.2-.9 1.2-.8 1.2-.6 1.2-.3 1.2-.4 1.2-.5 1.1-.6 1.2-.6 1.2-.4 1.2-.3 1.2-.1 1.2-.1 1.2-.3 1.2-.5 1.2-.5 1.2-.5 1.2-.6 1.2-1.4 1.1-1.8 1.2-1.6 1.2-.9 1.2-.6 1.2-.1 1.2 .7 1.2 .8 1.2 .5 1.2 .5 1.2 .1 .8-.4 .4-.3 .2-.4 .6-.8 .4-.7 .2-.6 .5-2 .5-1.9 .1-1.5 .6-3.1 .4-1 .2 .3 .6 1.9 .4 1.2 .2 .4 .6 .8 .4 .6 .2 .4 .6 1.2 .4 .9 .2 .4 1 1.8 1.2 1.1 1.2 .6 1.2 .3 1.2 .3 1.2 .3 1.2 .4 1.2 .6 1.1 .7 1.2 .7 1.2 .7 1.2 .5 1.2 .2 1.2 .2 1.2-.2 1.2-.1 1.2 0 1.2 .2 1.2 .3 1.2 .3 1.2 .2 1.1 0 1.2-.3 1.2-.3 1.2 .2 1.2 .7 1.2 .9 1.2 .6 1.2 .5 1.2 .6 1.2 .6 1.2 .8 1.2 .8 1.1 .8 1.2 .7 1.2 .5 1.2 .4 1.2 .5 1.2 .4 1.2 .3 .5 .4 .6 .2 .1 .2 .4 .3 .6 .1 .2-.1 .3-.3 .6-.3 .3-.1 .2 .2 .6 .2 .4 .2 .1 .1 .6 .2 .5 .3 .1 0 .5 .5 .6 .5 0 .2 .5 .3 .6 .2 0 0 .5-.1 .7 .1 1.2 .2 1.2 .1 1.2 .4 1.2 .3 1.2 .3 1.2 .1 1.2 .1 1.2 .1 1.2 0 1.2-.1 1.1-.2 1.2-.3 1.2-.3 1.2-.3 1.2-.1 1.2 .2 1.2 .5 1.2 .6 1.2 .7 1.2 .6 1.2 .5 1.2 .2 1.2 0 1.1 0 1.2-.3 1.2-.7 1.2-.5 1.2-.4 1.2-.2 1.2-.1 1.2-.1 1.2 0 1.2 .1 1.2 .3 1.2 .5 1.1 .3 1.2 .1 1.2-.2 1.2-.4 1.2-.6 1.2-.2 1.2-.2 1.2 0 1.2 .2 1.2 .3 1.2 .3 1.2 .4 1.1 .5 1.2 .4 1.2 .4 1.2 .1 1.2 0 1.2 0 1.2-.5 1.2-.5 1.2-.6 1.2-.4 1.2-.1 1.2 .2 1.2 .3 1.1 .4 1.2 .3 1.2 .1 1.2-.2 1.2 0 1.2-.1 1.2 .2 1.2 .1 1.2 .2 1.2 .2 1.2 .2 1.2 0 1.1 .1 1.2 0 1.2-.1 1.2 0 1.2 0 1.2 .1 1.2 0"/>
<path d="M50.6 188.8l1.2-.1 1.2-.2 1.2-.3 1.2-.3 1.2-.2 1.2 .1 1.1 0 1.2-.2 1.2-.1 1.2-.2 1.2-.1 1.2-.1 1.2 .1 1.2 .1 1.2 .1 1.2 0 1.2-.2 1.2-.2 1.1 0 1.2 .1 1.2 .2 1.2 .2 1.2 .2 1.2 0 1.2-.1 1.2-.2 1.2-.3 1.2-.1 1.2-.2 1.2-.3 1.2-.5 1.1-.6 1.2-.6 1.2-.4 1.2-.2 1.2-.1 1.2-.2 1.2-.2 1.2-.3 1.2-.5 1.2-.4 1.2-.5 1.2-.7 1.1-.6 1.2-.5 1.2-.4 1.2-.1 1.2-.2 1.2-.1 1.2-.3 1.2-.6 1.2-.7 1.2-.7 1.2-.8 1.2-1.3 1.1-1.7 1.2-1.4 1.2-.9 1.2-.8 1.2 0 1.2 1 1.2 1.2 1.2 .9 1.2 .5 1.2-.2 .8-.9 .4-.8 .2-.7 .6-.9 .4-.5 .2-.4 .5-1.4 .5-1.3 .1-.6 .6-2.4 .4-.4 .2 .4 .6 1.5 .4 .8 .2 0 .6 .3 .4 .3 .2 .3 .6 1.3 .4 1.1 .2 .7 1 1.7 1.2 1 1.2 .5 1.2 .5 1.2 .4 1.2 .4 1.2 .2 1.2-.1 1.1 0 1.2 .2 1.2 .4 1.2 .6 1.2 .7 1.2 .4 1.2 .1 1.2 0 1.2-.1 1.2 0 1.2 .2 1.2 0 1.2 0 1.1-.2 1.2-.2 1.2-.4 1.2 .3 1.2 .9 1.2 1.2 1.2 1.3 1.2 1.2 1.2 1 1.2 .7 1.2 .4 1.2 .2 1.1 .1 1.2 .2 1.2 .3 1.2 .1 1.2 0 1.2-.1 1.2 0 .5 .1 .6 .3 .1 .3 .4 .4 .6 .4 .2 .2 .3 .3 .6 .2 .3 .2 .2 0 .6-.2 .4-.3 .1-.4 .6-.2 .5 0 .1 0 .5 .5 .6 .7 0 .1 .5 .6 .6 .5 0 .4 .5 .3 .7 0 1.2-.1 1.2-.1 1.2-.1 1.2 .2 1.2 .2 1.2 .2 1.2 .3 1.2 .1 1.2 .3 1.2 .3 1.1 .2 1.2 .2 1.2 .3 1.2 .1 1.2 0 1.2-.3 1.2-.5 1.2-.6 1.2-.4 1.2-.2 1.2 0 1.2 .2 1.2 .1 1.1 .2 1.2 .4 1.2 .6 1.2 .4 1.2 .4 1.2 .2 1.2 .2 1.2 .1 1.2 .1 1.2-.1 1.2-.3 1.2-.5 1.1-.4 1.2 0 1.2 .3 1.2 .4 1.2 .3 1.2 0 1.2-.4 1.2-.5 1.2-.3 1.2-.1 1.2 .3 1.2 .4 1.1 .3 1.2 .3 1.2 .2 1.2 .1 1.2 0 1.2 .1 1.2 .2 1.2 0 1.2 0 1.2 0 1.2 0 1.2 0 1.2 0 1.1 0 1.2 0 1.2-.1 1.2 0 1.2 0 1.2 0 1.2-.1 1.2 0 1.2-.2 1.2-.1 1.2-.1 1.2 0 1.1-.2 1.2 0 1.2-.1 1.2 0 1.2 0 1.2-.1 1.2-.1"/>
<path d="M50.6 190.6l1.2-.5 1.2-.4 1.2-.3 1.2 .1 1.2 .2 1.2 .2 1.1 .1 1.2 0 1.2-.2 1.2-.4 1.2-.5 1.2-.4 1.2-.4 1.2-.3 1.2-.4 1.2-.2 1.2-.1 1.2 .1 1.1 .2 1.2 .3 1.2 .2 1.2 .1 1.2 0 1.2 0 1.2 0 1.2 0 1.2 0 1.2-.1 1.2-.2 1.2-.3 1.2-.6 1.1-.6 1.2-.7 1.2-.5 1.2-.6 1.2-.6 1.2-.5 1.2-.6 1.2-.3 1.2-.2 1.2 0 1.2 .1 1.2-.2 1.1-.2 1.2-.3 1.2-.4 1.2-.3 1.2-.5 1.2-.5 1.2-.6 1.2-.8 1.2-.5 1.2-.3 1.2-.3 1.2-.9 1.1-1.4 1.2-1.3 1.2-.8 1.2-.7 1.2-.1 1.2 .5 1.2 .6 1.2 .2 1.2 .2 1.2 .1 .8-.2 .4 0 .2 0 .6-.4 .4-.4 .2-.3 .5-1.2 .5-1.3 .1-1 .6-2.5 .4-.8 .2 .1 .6 1.4 .4 1 .2 .3 .6 .5 .4 .4 .2 .2 .6 .9 .4 .8 .2 .5 1 1.8 1.2 1.2 1.2 .8 1.2 .6 1.2 .4 1.2 .3 1.2 0 1.2-.2 1.1-.4 1.2-.5 1.2-.2 1.2 .2 1.2 .7 1.2 1 1.2 .9 1.2 .8 1.2 .5 1.2 .3 1.2 .1 1.2-.2 1.2-.4 1.1-.5 1.2-.4 1.2-.1 1.2 .6 1.2 1 1.2 1.1 1.2 .7 1.2 .2 1.2 .1 1.2 0 1.2 .1 1.2 .3 1.1 .6 1.2 .8 1.2 1 1.2 .7 1.2 .2 1.2-.1 1.2-.1 .5 0 .6 .4 .1 .6 .4 .8 .6 .5 .2 .2 .3 0 .6-.2 .3-.3 .2-.2 .6-.4 .4-.3 .1-.3 .6 0 .5 .2 .1-.2 .5 .2 .6 .2 0-.1 .5 .3 .6 .2 0 .1 .5 .3 .7 .3 1.2 .6 1.2 .6 1.2 .4 1.2 .3 1.2 0 1.2 0 1.2-.2 1.2-.2 1.2-.2 1.2-.2 1.1-.1 1.2 .1 1.2 .4 1.2 .3 1.2 .5 1.2 .4 1.2 .5 1.2 .3 1.2 .2 1.2-.1 1.2-.4 1.2-.4 1.2-.3 1.1-.1 1.2 .1 1.2 .3 1.2 .3 1.2 .2 1.2 .3 1.2 .2 1.2 0 1.2 0 1.2-.3 1.2-.3 1.2-.3 1.1-.1 1.2 .2 1.2 0 1.2 0 1.2-.3 1.2-.5 1.2-.4 1.2-.1 1.2 .3 1.2 .4 1.2 .2 1.2 .2 1.1 0 1.2 0 1.2 .1 1.2 .3 1.2 .4 1.2 .2 1.2 0 1.2 0 1.2-.2 1.2-.1 1.2-.1 1.2-.2 1.2-.1 1.1-.1 1.2 0 1.2 .2 1.2 .1 1.2 .2 1.2 0 1.2-.2 1.2-.2 1.2-.1 1.2 0 1.2 .1 1.2 .1 1.1 .1 1.2 .1 1.2 .1 1.2 .3 1.2 0 1.2 0 1.2 0"/>
<path d="M50.6 189.3l1.2-.2 1.2-.4 1.2-.4 1.2-.2 1.2 0 1.2 .3 1.1 .2 1.2 .2 1.2 .1 1.2 .1 1.2 .2 1.2 .2 1.2 .3 1.2 .3 1.2 0 1.2-.1 1.2-.2 1.2-.2 1.1-.2 1.2 0 1.2 0 1.2 0 1.2-.1 1.2-.2 1.2-.3 1.2-.4 1.2-.4 1.2-.3 1.2-.3 1.2 0 1.2-.1 1.1 .1 1.2-.1 1.2-.2 1.2-.4 1.2-.5 1.2-.6 1.2-.8 1.2-.8 1.2-.7 1.2-.5 1.2-.4 1.2 0 1.1 0 1.2 0 1.2-.1 1.2 .1 1.2 0 1.2 .1 1.2 .1 1.2-.2 1.2-.6 1.2-1 1.2-1.2 1.2-1.8 1.1-1.8 1.2-1.4 1.2-.7 1.2-.5 1.2 0 1.2 .6 1.2 .6 1.2 .4 1.2 .3 1.2 .1 .8-.2 .4-.1 .2-.1 .6-.6 .4-.5 .2-.1 .5-.9 .5-.7 .1-.4 .6-2 .4-.6 .2 .1 .6 1.3 .4 .8 .2 .1 .6 .4 .4 .1 .2-.2 .6 .6 .4 .4 .2 .1 1 1.2 1.2 .8 1.2 .3 1.2 .3 1.2 .3 1.2 .5 1.2 .6 1.2 .6 1.1 .7 1.2 .4 1.2 .2 1.2 .2 1.2 .1 1.2 .2 1.2 .3 1.2 .3 1.2 .2 1.2 .1 1.2 0 1.2 .1 1.2 0 1.1 0 1.2 .1 1.2 .2 1.2 .3 1.2 .6 1.2 .7 1.2 .6 1.2 .6 1.2 .7 1.2 .6 1.2 .7 1.2 .5 1.1 .4 1.2 .1 1.2 .1 1.2 .1 1.2 .1 1.2 .2 1.2 .2 .5 .1 .6 0 .1 0 .4 0 .6 .2 .2 .2 .3 .3 .6 .1 .3 0 .2-.1 .6-.1 .4-.1 .1-.1 .6 0 .5 .1 .1-.4 .5 0 .6 0 0-.1 .5 .4 .6 .3 0 .2 .5 .1 .7 0 1.2 .1 1.2 .1 1.2 .2 1.2 .4 1.2 .5 1.2 .6 1.2 .3 1.2 .3 1.2-.1 1.2-.3 1.1-.4 1.2-.4 1.2-.2 1.2 .1 1.2 .2 1.2 .5 1.2 .4 1.2 .4 1.2 .1 1.2 0 1.2 .1 1.2 0 1.2 .1 1.1 .1 1.2 0 1.2-.2 1.2-.4 1.2-.5 1.2-.5 1.2-.3 1.2 .1 1.2 .3 1.2 .3 1.2 .2 1.2 0 1.1-.2 1.2-.1 1.2 0 1.2 0 1.2 .2 1.2 .2 1.2 .2 1.2 .3 1.2 .3 1.2 .3 1.2 .2 1.2 .1 1.1 0 1.2-.1 1.2-.2 1.2-.2 1.2-.2 1.2 0 1.2-.2 1.2-.2 1.2-.4 1.2-.2 1.2-.2 1.2-.1 1.2 .2 1.1 .4 1.2 .4 1.2 .5 1.2 .3 1.2 .3 1.2 0 1.2 0 1.2 0 1.2 0 1.2 0 1.2 0 1.2 0 1.1-.1 1.2-.1 1.2 0 1.2 .2 1.2 0 1.2 0 1.2 0"/>
<path d="M50.6 190.1l1.2 0 1.2-.2 1.2-.3 1.2-.3 1.2-.2 1.2 0 1.1 .3 1.2 .6 1.2 .5 1.2 .2 1.2-.2 1.2-.3 1.2-.5 1.2-.3 1.2-.2 1.2-.1 1.2-.3 1.2-.2 1.1-.2 1.2-.1 1.2 0 1.2 .1 1.2 .1 1.2 0 1.2-.1 1.2-.1 1.2 0 1.2 0 1.2-.1 1.2-.3 1.2-.4 1.1-.6 1.2-.5 1.2-.5 1.2-.4 1.2-.2 1.2-.2 1.2-.2 1.2-.1 1.2 .1 1.2 .1 1.2 0 1.2 0 1.1-.1 1.2-.2 1.2-.2 1.2-.2 1.2-.1 1.2-.1 1.2-.3 1.2-.5 1.2-.8 1.2-.7 1.2-.9 1.2-1.2 1.1-1.5 1.2-1 1.2-.4 1.2 .1 1.2 .5 1.2 .9 1.2 .5 1.2-.2 1.2-.5 1.2-.7 .8-.8 .4-.4 .2-.1 .6-.4 .4-.4 .2-.1 .5-.9 .5-.8 .1-.4 .6-1.7 .4-.4 .2 .1 .6 1.1 .4 .6 .2 .2 .6 .4 .4 .2 .2-.1 .6 .3 .4 .2 .2 0 1 1.3 1.2 1 1.2 .7 1.2 .4 1.2 .2 1.2 .2 1.2 .3 1.2 .5 1.1 .8 1.2 .8 1.2 .7 1.2 .4 1.2 .1 1.2-.1 1.2-.4 1.2-.2 1.2 .1 1.2 .3 1.2 .3 1.2 .3 1.2 0 1.1-.1 1.2-.1 1.2 0 1.2 .5 1.2 .9 1.2 .8 1.2 .4 1.2 .2 1.2 0 1.2 .1 1.2 .2 1.2 .3 1.1 .4 1.2 .5 1.2 .4 1.2 .4 1.2 .3 1.2 .5 1.2 .5 .5 .4 .6 .4 .1 0 .4 0 .6-.1 .2 0 .3 .1 .6 .1 .3-.1 .2-.4 .6-.7 .4-.7 .1-.5 .6-.3 .5 .2 .1 .2 .5 .8 .6 .8 0 .3 .5 .2 .6-.1 0-.4 .5-.1 .7 .3 1.2 .5 1.2 .3 1.2 .3 1.2 0 1.2 .1 1.2 .3 1.2 .3 1.2 .1 1.2 .1 1.2 0 1.1 .2 1.2 .2 1.2 .2 1.2-.1 1.2-.4 1.2-.4 1.2-.3 1.2-.1 1.2 0 1.2 0 1.2 0 1.2 0 1.2 .2 1.1 .3 1.2 .3 1.2 .3 1.2 .2 1.2 .1 1.2 .1 1.2-.1 1.2-.1 1.2-.1 1.2-.2 1.2-.1 1.2-.1 1.1-.1 1.2 .1 1.2 .2 1.2 .1 1.2 .1 1.2 .1 1.2-.1 1.2 .1 1.2 0 1.2 .4 1.2 .4 1.2 .1 1.1 0 1.2 0 1.2-.6 1.2-.7 1.2-.5 1.2 0 1.2 .3 1.2 .6 1.2 .5 1.2 .2 1.2-.1 1.2-.3 1.2-.5 1.1-.3 1.2 .1 1.2 .4 1.2 .5 1.2 .4 1.2 0 1.2 0 1.2 0 1.2 0 1.2-.1 1.2-.3 1.2-.1 1.1-.1 1.2 .1 1.2 .1 1.2 .1 1.2 .1 1.2 .1 1.2 0"/>
<path d="M50.6 190l1.2 0 1.2 0 1.2 0 1.2 0 1.2 .2 1.2 .2 1.1 .2 1.2 .2 1.2-.1 1.2-.1 1.2-.1 1.2-.1 1.2-.2 1.2-.3 1.2-.3 1.2-.4 1.2 0 1.2 0 1.1 0 1.2 .1 1.2 .1 1.2-.1 1.2-.1 1.2 0 1.2 .1 1.2 0 1.2 0 1.2-.1 1.2-.4 1.2-.4 1.2-.5 1.1-.5 1.2-.4 1.2-.4 1.2-.4 1.2-.3 1.2-.2 1.2-.1 1.2-.1 1.2-.2 1.2-.2 1.2-.3 1.2-.1 1.1-.1 1.2-.1 1.2-.2 1.2-.2 1.2-.1 1.2-.1 1.2 0 1.2-.1 1.2-.2 1.2-.3 1.2-.3 1.2-1 1.1-1.2 1.2-1.1 1.2-.9 1.2-.8 1.2-.4 1.2 .4 1.2 .8 1.2 .5 1.2 .5 1.2-.1 .8-.7 .4-.5 .2-.3 .6-.5 .4-.1 .2 .1 .5-.7 .5-.5 .1-.4 .6-1.4 .4-.4 .2 .1 .6 1 .4 .7 .2 .2 .6 .7 .4 .4 .2 .2 .6 .4 .4 .2 .2-.1 1 .8 1.2 .5 1.2 .4 1.2 .2 1.2-.1 1.2-.2 1.2-.4 1.2-.1 1.1 .1 1.2 .4 1.2 .6 1.2 .6 1.2 .5 1.2 .2 1.2 .1 1.2 0 1.2 .2 1.2 .3 1.2 .5 1.2 .4 1.2 .2 1.1 0 1.2-.1 1.2-.1 1.2 .3 1.2 .6 1.2 .6 1.2 .2 1.2 .1 1.2 0 1.2 .2 1.2 .1 1.2 .3 1.1 .3 1.2 .3 1.2 .5 1.2 .5 1.2 .5 1.2 .3 1.2 .3 .5 0 .6 0 .1 0 .4 0 .6 0 .2 0 .3-.1 .6-.2 .3-.1 .2 0 .6-.1 .4-.1 .1-.2 .6 0 .5 .3 .1 .3 .5 .5 .6 .2 0-.3 .5-.4 .6-.3 0-.2 .5 .1 .7 .4 1.2 .2 1.2 .1 1.2 0 1.2 0 1.2 .1 1.2 .2 1.2 .4 1.2 .3 1.2 .4 1.2 .3 1.1 .3 1.2 .1 1.2-.1 1.2-.1 1.2-.2 1.2 0 1.2 0 1.2 .1 1.2 .1 1.2 .1 1.2 .1 1.2-.1 1.2-.2 1.1-.1 1.2-.1 1.2 .2 1.2 .3 1.2 .4 1.2 .3 1.2 .1 1.2-.1 1.2-.3 1.2-.4 1.2-.2 1.2-.1 1.1 0 1.2-.1 1.2-.1 1.2-.2 1.2-.1 1.2 0 1.2 .2 1.2 .5 1.2 .6 1.2 .5 1.2 .3 1.2-.1 1.1-.3 1.2-.3 1.2-.2 1.2 0 1.2 .1 1.2 0 1.2-.1 1.2 .2 1.2 .2 1.2 .4 1.2 .2 1.2 0 1.2 0 1.1-.1 1.2-.6 1.2-.6 1.2-.6 1.2-.1 1.2 .1 1.2 .2 1.2 .4 1.2 .3 1.2 .2 1.2-.1 1.2-.2 1.1-.2 1.2-.2 1.2 0 1.2 .2 1.2 .2 1.2 .1 1.2 0"/>
<path d="M50.6 188.4l1.2 .5 1.2 .5 1.2 .4 1.2 .3 1.2 .1 1.2 0 1.1-.1 1.2 0 1.2 0 1.2 0 1.2 .1 1.2-.1 1.2 .1 1.2 .1 1.2 0 1.2 .1 1.2-.1 1.2 0 1.1 0 1.2 0 1.2 0 1.2-.1 1.2-.3 1.2-.4 1.2-.4 1.2-.3 1.2-.2 1.2 0 1.2-.2 1.2-.2 1.2-.4 1.1-.4 1.2-.3 1.2-.3 1.2-.2 1.2 0 1.2-.1 1.2 0 1.2 0 1.2-.1 1.2-.1 1.2-.1 1.2-.2 1.1-.1 1.2 0 1.2 0 1.2-.2 1.2-.3 1.2-.4 1.2-.4 1.2-.4 1.2-.2 1.2-.2 1.2-.4 1.2-.6 1.1-1 1.2-.8 1.2-.5 1.2-.3 1.2 .1 1.2 .4 1.2 .6 1.2 .3 1.2 .2 1.2-.1 .8-.1 .4 0 .2 .1 .6-.3 .4-.5 .2-.7 .5-1.4 .5-1.2 .1-.6 .6-1.4 .4-.2 .2 .2 .6 .9 .4 .6 .2 .4 .6 .8 .4 .7 .2 .3 .6 .4 .4 .2 .2-.1 1 .7 1.2 .3 1.2 .1 1.2 .1 1.2 0 1.2 .1 1.2 .2 1.2 .4 1.1 .3 1.2 .4 1.2 .5 1.2 .3 1.2 .3 1.2 0 1.2-.1 1.2-.1 1.2 0 1.2 .1 1.2 .2 1.2 .1 1.2 0 1.1-.2 1.2-.3 1.2-.4 1.2 0 1.2 .4 1.2 .5 1.2 .3 1.2 .3 1.2 .1 1.2 .3 1.2 .4 1.2 .7 1.1 .8 1.2 .9 1.2 .7 1.2 .5 1.2 .1 1.2-.1 1.2-.2 .5-.2 .6-.1 .1-.1 .4-.1 .6 0 .2 0 .3 0 .6 0 .3 0 .2-.1 .6-.2 .4 0 .1 .1 .6 .3 .5 .4 .1 .2 .5 .4 .6 .3 0 0 .5 .1 .6-.1 0-.2 .5-.1 .7 .3 1.2 .6 1.2 .6 1.2 .4 1.2 .1 1.2-.2 1.2-.3 1.2-.1 1.2 .1 1.2 .2 1.2 .1 1.1 0 1.2-.3 1.2-.3 1.2-.2 1.2 0 1.2 0 1.2 .1 1.2 .1 1.2 .2 1.2 .1 1.2 .1 1.2-.1 1.2-.2 1.1-.2 1.2-.2 1.2 .3 1.2 .5 1.2 .5 1.2 .5 1.2 0 1.2 0 1.2-.1 1.2-.2 1.2-.3 1.2-.3 1.1-.5 1.2-.4 1.2-.2 1.2 0 1.2 .2 1.2 .3 1.2 .2 1.2 .1 1.2-.2 1.2-.1 1.2 .1 1.2 .3 1.1 .4 1.2 .3 1.2 .2 1.2 .1 1.2 .1 1.2 0 1.2 0 1.2 0 1.2-.2 1.2-.2 1.2-.4 1.2-.4 1.2-.2 1.1-.3 1.2-.1 1.2-.2 1.2 0 1.2 .1 1.2 .3 1.2 .4 1.2 .4 1.2 .2 1.2 0 1.2-.1 1.2-.2 1.1-.2 1.2-.1 1.2 0 1.2-.1 1.2 0 1.2-.1 1.2-.2"/>
<path d="M50.6 190.7l1.2-.2 1.2-.2 1.2-.2 1.2-.2 1.2-.2 1.2-.1 1.1 0 1.2 .2 1.2 .2 1.2 .1 1.2-.1 1.2-.3 1.2-.3 1.2-.1 1.2 .1 1.2 .2 1.2 .2 1.2 .1 1.1 .1 1.2 .1 1.2 .1 1.2 .1 1.2 0 1.2-.1 1.2-.2 1.2-.2 1.2-.2 1.2-.3 1.2-.3 1.2-.3 1.2-.2 1.1-.2 1.2-.1 1.2-.2 1.2-.2 1.2-.2 1.2-.3 1.2-.3 1.2-.3 1.2-.3 1.2-.3 1.2-.2 1.2 0 1.1 .1 1.2 0 1.2 .1 1.2 0 1.2-.1 1.2-.1 1.2-.4 1.2-.5 1.2-.5 1.2-.4 1.2-.2 1.2-.5 1.1-.6 1.2-.6 1.2-.4 1.2-.4 1.2 0 1.2 .4 1.2 .4 1.2 .4 1.2 .1 1.2-.2 .8-.4 .4-.1 .2 0 .6 0 .4-.1 .2-.1 .5-.9 .5-.9 .1-.5 .6-.9 .4 .1 .2 .6 .6 .9 .4 .5 .2 .1 .6 .2 .4 .3 .2 .3 .6 .5 .4 .2 .2-.1 1 .6 1.2 .4 1.2 .1 1.2-.1 1.2-.2 1.2 0 1.2 0 1.2 .1 1.1 .3 1.2 .2 1.2 .4 1.2 .4 1.2 .5 1.2 .3 1.2 .1 1.2-.2 1.2-.3 1.2-.2 1.2-.2 1.2 .1 1.2 .3 1.1 .5 1.2 .4 1.2 .3 1.2 .2 1.2 .3 1.2 .1 1.2 0 1.2-.2 1.2-.2 1.2-.1 1.2 0 1.2 .2 1.1 .3 1.2 .2 1.2 .3 1.2 .3 1.2 .2 1.2 .2 1.2 .1 .5 0 .6 .1 .1 .2 .4 .3 .6 .3 .2 .3 .3 .1 .6 0 .3-.1 .2-.2 .6-.3 .4-.3 .1-.3 .6-.3 .5 0 .1 0 .5 .3 .6 .5 0 .3 .5 .4 .6 .2 0 .1 .5 0 .7 0 1.2 .1 1.2 .1 1.2 0 1.2 .1 1.2 .1 1.2 .2 1.2 .3 1.2 .5 1.2 .4 1.2 .1 1.1 0 1.2-.2 1.2-.2 1.2-.1 1.2 0 1.2-.1 1.2-.3 1.2-.3 1.2-.3 1.2-.3 1.2-.1 1.2 .1 1.2 .2 1.1 .3 1.2 .4 1.2 .4 1.2 .2 1.2 .1 1.2 0 1.2-.1 1.2 0 1.2 0 1.2 0 1.2-.1 1.2-.3 1.1-.5 1.2-.3 1.2-.1 1.2 .2 1.2 .5 1.2 .6 1.2 .4 1.2 .2 1.2 0 1.2-.2 1.2-.2 1.2-.2 1.1-.1 1.2-.1 1.2 .1 1.2 .2 1.2 0 1.2 0 1.2-.1 1.2-.1 1.2-.1 1.2 0 1.2 .2 1.2 .2 1.2 .2 1.1 .1 1.2 .1 1.2 .1 1.2-.2 1.2-.3 1.2-.4 1.2-.3 1.2-.2 1.2 .1 1.2 .2 1.2 .1 1.2 0 1.1 0 1.2-.1 1.2-.2 1.2-.1 1.2-.1 1.2-.2 1.2 .1"/>
<path d="M50.6 190.5l1.2 0 1.2-.1 1.2 0 1.2 0 1.2 .1 1.2 0 1.1 0 1.2-.1 1.2-.1 1.2 0 1.2-.1 1.2 .1 1.2-.1 1.2 0 1.2 .1 1.2 .1 1.2 0 1.2 0 1.1-.2 1.2-.2 1.2-.4 1.2-.4 1.2-.3 1.2-.1 1.2 .2 1.2 .2 1.2 .2 1.2 0 1.2 0 1.2 0 1.2-.1 1.1-.1 1.2-.2 1.2-.2 1.2 0 1.2 0 1.2 .2 1.2 .1 1.2 0 1.2-.1 1.2-.5 1.2-.5 1.2-.4 1.1-.1 1.2 .1 1.2 .1 1.2-.2 1.2-.5 1.2-.5 1.2-.5 1.2-.2 1.2 0 1.2 .2 1.2 .2 1.2-.2 1.1-.4 1.2-.5 1.2-.2 1.2-.3 1.2-.1 1.2 .2 1.2 .1 1.2 .1 1.2 0 1.2-.2 .8-.3 .4-.2 .2 0 .6 0 .4 0 .2 .1 .5-.6 .5-.6 .1-.3 .6-.8 .4-.1 .2 .3 .6 .7 .4 .6 .2 .1 .6 .1 .4-.2 .2-.5 .6 0 .4-.1 .2 0 1 .7 1.2 .6 1.2 .5 1.2 .4 1.2 .1 1.2 .1 1.2-.1 1.2 0 1.1 .2 1.2 .2 1.2 .2 1.2 .1 1.2 .1 1.2 0 1.2-.1 1.2 0 1.2 .1 1.2 .2 1.2 .3 1.2 .3 1.2 .2 1.1 0 1.2-.1 1.2 .2 1.2 .3 1.2 .5 1.2 .5 1.2 .1 1.2-.1 1.2-.3 1.2-.3 1.2 0 1.2 .2 1.1 .3 1.2 .2 1.2 .3 1.2 .1 1.2 0 1.2-.1 1.2 .1 .5-.1 .6-.2 .1-.3 .4-.2 .6 0 .2 .3 .3 .4 .6 .6 .3 .4 .2 .4 .6 .1 .4-.2 .1-.2 .6-.2 .5-.1 .1 0 .5 .1 .6 .2 0 0 .5 .2 .6 .2 0 .1 .5 .2 .7 0 1.2-.2 1.2-.4 1.2-.4 1.2-.2 1.2 0 1.2 .1 1.2 .2 1.2 .2 1.2 .1 1.2 .1 1.1 .1 1.2 .1 1.2 .1 1.2 0 1.2 0 1.2 0 1.2 0 1.2 .1 1.2 .3 1.2 .2 1.2 .1 1.2 .2 1.2 .1 1.1 0 1.2-.1 1.2 0 1.2-.2 1.2-.1 1.2 0 1.2 .2 1.2 0 1.2-.1 1.2-.1 1.2-.2 1.2-.1 1.1 0 1.2 0 1.2 .1 1.2 .1 1.2 .3 1.2 .3 1.2 .2 1.2 .1 1.2-.1 1.2-.3 1.2-.4 1.2-.2 1.1-.1 1.2 0 1.2 0 1.2 0 1.2 .1 1.2 .1 1.2 .2 1.2 .1 1.2 .2 1.2 .1 1.2 0 1.2-.2 1.2-.2 1.1-.3 1.2-.3 1.2 0 1.2 .2 1.2 .4 1.2 .6 1.2 .1 1.2 0 1.2 0 1.2 0 1.2-.1 1.2-.3 1.1 0 1.2 .2 1.2 .1 1.2 .1 1.2-.2 1.2-.2 1.2-.3"/>
<path d="M50.6 191.1l1.2-.3 1.2-.3 1.2-.3 1.2-.2 1.2 .1 1.2 .2 1.1 .1 1.2 .3 1.2 .2 1.2 0 1.2-.1 1.2-.3 1.2-.3 1.2-.3 1.2-.1 1.2 .1 1.2 .1 1.2 .1 1.1 0 1.2-.1 1.2-.1 1.2-.1 1.2-.1 1.2 0 1.2 0 1.2-.1 1.2-.1 1.2 .1 1.2 .1 1.2 .2 1.2 .1 1.1 0 1.2-.2 1.2-.4 1.2-.5 1.2-.3 1.2-.3 1.2 0 1.2 .2 1.2 .3 1.2 .1 1.2 0 1.2 .1 1.1 0 1.2 0 1.2 .1 1.2 0 1.2-.1 1.2-.3 1.2-.2 1.2-.2 1.2-.1 1.2-.2 1.2-.3 1.2-.4 1.1-.4 1.2-.3 1.2-.1 1.2-.2 1.2 0 1.2 0 1.2 0 1.2 .1 1.2 .2 1.2 .4 .8 .2 .4 .2 .2 0 .6-.4 .4-.4 .2-.3 .5-.5 .5-.3 .1 0 .6-.4 .4 0 .2 0 .6 .4 .4 .1 .2 .1 .6 .2 .4 0 .2 0 .6 .2 .4 .1 .2 0 1 .4 1.2 .4 1.2 .2 1.2 .2 1.2-.1 1.2 0 1.2 0 1.2 0 1.1 .2 1.2 .2 1.2 .3 1.2 .2 1.2 .1 1.2 .2 1.2 .1 1.2 0 1.2 .1 1.2-.1 1.2-.3 1.2-.3 1.2-.4 1.1-.2 1.2-.1 1.2 .1 1.2 .3 1.2 .7 1.2 .6 1.2 .5 1.2 .2 1.2-.1 1.2-.3 1.2-.3 1.2-.1 1.1 0 1.2 .2 1.2 .2 1.2 .2 1.2 .1 1.2-.1 1.2-.1 .5-.1 .6 .1 .1 .1 .4 .1 .6-.1 .2-.2 .3-.2 .6-.1 .3 .2 .2 .4 .6 .3 .4 0 .1 0 .6 .1 .5 .3 .1 .4 .5 .6 .6 .4 0 .1 .5 0 .6-.3 0-.5 .5-.4 .7-.2 1.2 0 1.2 .1 1.2 0 1.2 .1 1.2 .1 1.2 .2 1.2 .1 1.2 .1 1.2 0 1.2 .1 1.1 0 1.2-.1 1.2-.1 1.2-.2 1.2-.1 1.2 .1 1.2 .2 1.2 .1 1.2-.1 1.2-.2 1.2-.3 1.2-.2 1.2 0 1.1 0 1.2 .1 1.2 0 1.2 0 1.2-.1 1.2 .1 1.2 .1 1.2 .2 1.2 .1 1.2 .3 1.2 .4 1.2 .2 1.1 0 1.2-.3 1.2-.4 1.2-.6 1.2-.2 1.2 .1 1.2 .3 1.2 .2 1.2 0 1.2-.2 1.2-.1 1.2 .1 1.1 .3 1.2 .5 1.2 .3 1.2 .1 1.2-.3 1.2-.4 1.2-.3 1.2-.2 1.2 0 1.2 0 1.2 .1 1.2 0 1.2 .1 1.1 0 1.2 .1 1.2 .3 1.2 .4 1.2 .2 1.2 0 1.2 0 1.2 0 1.2-.6 1.2-.5 1.2-.4 1.2-.1 1.1 .1 1.2 .3 1.2 .3 1.2 .2 1.2 .2 1.2 0 1.2 .1"/>
</g>
<path d="M50.6 191.4 L287.8 191.9" stroke="#2E3192" stroke-width="3.6"/>
<rect x="50.6" y="0.7" width="237.2" height="193.3" fill="none" stroke="#4d4d4d" stroke-width="1.2"/>
<line x1="50.6" y1="194" x2="50.6" y2="199" stroke="#4d4d4d" stroke-width="1.0" />
<text x="49.8" y="211.7" fill="#231F20" font-size="11.5" text-anchor="middle" >560</text>
<line x1="109.9" y1="194" x2="109.9" y2="199" stroke="#4d4d4d" stroke-width="1.0" />
<text x="109.1" y="211.7" fill="#231F20" font-size="11.5" text-anchor="middle" >570</text>
<line x1="169.2" y1="194" x2="169.2" y2="199" stroke="#4d4d4d" stroke-width="1.0" />
<text x="168.4" y="211.7" fill="#231F20" font-size="11.5" text-anchor="middle" >580</text>
<line x1="228.5" y1="194" x2="228.5" y2="199" stroke="#4d4d4d" stroke-width="1.0" />
<text x="227.7" y="211.7" fill="#231F20" font-size="11.5" text-anchor="middle" >590</text>
<line x1="287.8" y1="194" x2="287.8" y2="199" stroke="#4d4d4d" stroke-width="1.0" />
<text x="287" y="211.7" fill="#231F20" font-size="11.5" text-anchor="middle" >600</text>
<line x1="80.25" y1="194" x2="80.25" y2="197" stroke="#4d4d4d" stroke-width="1.0" />
<line x1="139.55" y1="194" x2="139.55" y2="197" stroke="#4d4d4d" stroke-width="1.0" />
<line x1="198.85" y1="194" x2="198.85" y2="197" stroke="#4d4d4d" stroke-width="1.0" />
<line x1="258.15" y1="194" x2="258.15" y2="197" stroke="#4d4d4d" stroke-width="1.0" />
<text x="169.1" y="227.3" fill="#231F20" font-size="11.2" text-anchor="middle" textLength="88.6" lengthAdjust="spacingAndGlyphs">Wavelength (nm)</text>
<text transform="translate(41.3,104.4) rotate(-90)" x="0" y="0" fill="#231F20" font-size="12.2" text-anchor="middle" textLength="93" lengthAdjust="spacingAndGlyphs">Emission intensity</text>
<text x="60.6" y="21.2" fill="#231F20" font-size="11.6">(a)</text>
<circle cx="69.3" cy="143.5" r="7.6" fill="#2E3192"/>
<path d="M78 150 L98.5 165.2" stroke="#2E3192" stroke-width="2.2"/>
<path d="M104.5 169.2 L93.6 167.4 L98.9 160.1 Z" fill="#2E3192"/>
<path d="M258.8 19.7L268.8 29.7L258.8 39.7L248.8 29.7Z" fill="#ED1C24"/>
<path d="M251.2 38.8 L218.5 73.6" stroke="#ED1C24" stroke-width="2.2"/>
<path d="M213.4 78.8 L216.4 68.4 L223.3 74.8 Z" fill="#ED1C24"/>
<defs>
<clipPath id="pc"><rect x="393.4" y="5.0" width="250.6" height="190.6"/></clipPath>
</defs>
<g clip-path="url(#pc)">
<rect x="393.4" y="5.0" width="250.6" height="190.6" fill="#583418"/>
<path d="M457.9 93.0h11.8l-0.1 3.3h-11.8zM473.5 12.0h12.7l-0.1 3.3h-12.7zM471.0 87.0h12.7l-0.1 3.3h-12.7zM468.3 168.0h12.7l-0.1 3.3h-12.7zM468.1 174.0h12.7l-0.1 3.3h-12.7zM486.9 21.0h12.0l-0.1 3.3h-12.0zM486.6 30.0h12.0l-0.1 3.3h-12.0zM486.5 33.0h12.0l-0.1 3.3h-12.0zM486.1 45.0h12.0l-0.1 3.3h-12.0zM485.4 66.0h12.0l-0.1 3.3h-12.0zM485.4 69.0h12.0l-0.1 3.3h-12.0zM484.0 111.0h12.0l-0.1 3.3h-12.0zM483.9 114.0h12.0l-0.1 3.3h-12.0zM483.7 120.0h12.0l-0.1 3.3h-12.0zM483.4 129.0h12.0l-0.1 3.3h-12.0zM483.0 141.0h12.0l-0.1 3.3h-12.0zM482.8 147.0h12.0l-0.1 3.3h-12.0zM482.7 150.0h12.0l-0.1 3.3h-12.0zM482.6 153.0h12.0l-0.1 3.3h-12.0zM482.3 162.0h12.0l-0.1 3.3h-12.0zM482.2 165.0h12.0l-0.1 3.3h-12.0zM482.1 168.0h12.0l-0.1 3.3h-12.0zM481.7 180.0h12.0l-0.1 3.3h-12.0zM481.6 183.0h12.0l-0.1 3.3h-12.0zM481.4 189.0h12.0l-0.1 3.3h-12.0zM481.3 192.0h12.0l-0.1 3.3h-12.0zM481.2 195.0h12.0l-0.1 3.3h-12.0zM502.1 3.0h11.3l-0.1 3.3h-11.3zM501.9 9.0h11.3l-0.1 3.3h-11.3zM501.8 12.0h11.3l-0.1 3.3h-11.3zM501.3 27.0h11.3l-0.1 3.3h-11.3zM500.7 45.0h11.3l-0.1 3.3h-11.3zM500.5 51.0h11.3l-0.1 3.3h-11.3zM500.3 57.0h11.3l-0.1 3.3h-11.3zM500.3 60.0h11.3l-0.1 3.3h-11.3zM500.2 63.0h11.3l-0.1 3.3h-11.3zM500.1 66.0h11.3l-0.1 3.3h-11.3zM499.8 75.0h11.3l-0.1 3.3h-11.3zM499.5 84.0h11.3l-0.1 3.3h-11.3zM499.2 93.0h11.3l-0.1 3.3h-11.3zM499.1 96.0h11.3l-0.1 3.3h-11.3zM498.8 105.0h11.3l-0.1 3.3h-11.3zM498.7 108.0h11.3l-0.1 3.3h-11.3zM498.5 114.0h11.3l-0.1 3.3h-11.3zM498.4 117.0h11.3l-0.1 3.3h-11.3zM498.2 123.0h11.3l-0.1 3.3h-11.3zM498.1 126.0h11.3l-0.1 3.3h-11.3zM498.0 129.0h11.3l-0.1 3.3h-11.3zM497.8 135.0h11.3l-0.1 3.3h-11.3zM497.7 138.0h11.3l-0.1 3.3h-11.3zM497.6 141.0h11.3l-0.1 3.3h-11.3zM497.4 147.0h11.3l-0.1 3.3h-11.3zM497.3 150.0h11.3l-0.1 3.3h-11.3zM497.2 153.0h11.3l-0.1 3.3h-11.3zM497.1 156.0h11.3l-0.1 3.3h-11.3zM497.0 159.0h11.3l-0.1 3.3h-11.3zM496.9 162.0h11.3l-0.1 3.3h-11.3zM496.8 165.0h11.3l-0.1 3.3h-11.3zM496.7 168.0h11.3l-0.1 3.3h-11.3zM496.5 174.0h11.3l-0.1 3.3h-11.3zM496.3 180.0h11.3l-0.1 3.3h-11.3zM512.7 9.0h12.3l-0.1 3.3h-12.3zM512.6 12.0h12.3l-0.1 3.3h-12.3zM512.4 18.0h12.3l-0.1 3.3h-12.3zM512.3 21.0h12.3l-0.1 3.3h-12.3zM512.2 24.0h12.3l-0.1 3.3h-12.3zM512.1 27.0h12.3l-0.1 3.3h-12.3zM512.0 30.0h12.3l-0.1 3.3h-12.3zM511.9 33.0h12.3l-0.1 3.3h-12.3zM511.8 36.0h12.3l-0.1 3.3h-12.3zM511.7 39.0h12.3l-0.1 3.3h-12.3zM511.6 42.0h12.3l-0.1 3.3h-12.3zM511.5 45.0h12.3l-0.1 3.3h-12.3zM511.4 48.0h12.3l-0.1 3.3h-12.3zM511.3 51.0h12.3l-0.1 3.3h-12.3zM511.1 57.0h12.3l-0.1 3.3h-12.3zM511.0 60.0h12.3l-0.1 3.3h-12.3zM510.8 66.0h12.3l-0.1 3.3h-12.3zM510.6 72.0h12.3l-0.1 3.3h-12.3zM510.4 78.0h12.3l-0.1 3.3h-12.3zM510.3 81.0h12.3l-0.1 3.3h-12.3zM509.9 93.0h12.3l-0.1 3.3h-12.3zM509.8 96.0h12.3l-0.1 3.3h-12.3zM509.7 99.0h12.3l-0.1 3.3h-12.3zM509.4 108.0h12.3l-0.1 3.3h-12.3zM509.3 111.0h12.3l-0.1 3.3h-12.3zM509.2 114.0h12.3l-0.1 3.3h-12.3zM509.1 117.0h12.3l-0.1 3.3h-12.3zM509.0 120.0h12.3l-0.1 3.3h-12.3zM508.9 123.0h12.3l-0.1 3.3h-12.3zM508.8 126.0h12.3l-0.1 3.3h-12.3zM508.7 129.0h12.3l-0.1 3.3h-12.3zM508.6 132.0h12.3l-0.1 3.3h-12.3zM508.5 135.0h12.3l-0.1 3.3h-12.3zM508.4 138.0h12.3l-0.1 3.3h-12.3zM508.3 141.0h12.3l-0.1 3.3h-12.3zM508.2 144.0h12.3l-0.1 3.3h-12.3zM508.1 147.0h12.3l-0.1 3.3h-12.3zM508.0 150.0h12.3l-0.1 3.3h-12.3zM507.8 156.0h12.3l-0.1 3.3h-12.3zM507.7 159.0h12.3l-0.1 3.3h-12.3zM507.6 162.0h12.3l-0.1 3.3h-12.3zM507.5 165.0h12.3l-0.1 3.3h-12.3zM507.4 168.0h12.3l-0.1 3.3h-12.3zM507.1 177.0h12.3l-0.1 3.3h-12.3zM528.9 3.0h13.0l-0.1 3.3h-13.0zM528.8 6.0h13.0l-0.1 3.3h-13.0zM528.7 9.0h13.0l-0.1 3.3h-13.0zM528.6 12.0h13.0l-0.1 3.3h-13.0zM528.5 15.0h13.0l-0.1 3.3h-13.0zM528.4 18.0h13.0l-0.1 3.3h-13.0zM528.3 21.0h13.0l-0.1 3.3h-13.0zM528.2 24.0h13.0l-0.1 3.3h-13.0zM528.1 27.0h13.0l-0.1 3.3h-13.0zM528.0 30.0h13.0l-0.1 3.3h-13.0zM527.9 33.0h13.0l-0.1 3.3h-13.0zM527.8 36.0h13.0l-0.1 3.3h-13.0zM527.6 42.0h13.0l-0.1 3.3h-13.0zM527.5 45.0h13.0l-0.1 3.3h-13.0zM527.4 48.0h13.0l-0.1 3.3h-13.0zM527.3 51.0h13.0l-0.1 3.3h-13.0zM527.2 54.0h13.0l-0.1 3.3h-13.0zM527.1 57.0h13.0l-0.1 3.3h-13.0zM527.0 60.0h13.0l-0.1 3.3h-13.0zM526.9 63.0h13.0l-0.1 3.3h-13.0zM526.8 66.0h13.0l-0.1 3.3h-13.0zM526.7 69.0h13.0l-0.1 3.3h-13.0zM526.6 72.0h13.0l-0.1 3.3h-13.0zM526.5 75.0h13.0l-0.1 3.3h-13.0zM526.4 78.0h13.0l-0.1 3.3h-13.0zM526.2 84.0h13.0l-0.1 3.3h-13.0zM526.1 87.0h13.0l-0.1 3.3h-13.0zM526.0 90.0h13.0l-0.1 3.3h-13.0zM525.9 93.0h13.0l-0.1 3.3h-13.0zM525.8 96.0h13.0l-0.1 3.3h-13.0zM525.7 99.0h13.0l-0.1 3.3h-13.0zM525.6 102.0h13.0l-0.1 3.3h-13.0zM525.5 105.0h13.0l-0.1 3.3h-13.0zM525.4 108.0h13.0l-0.1 3.3h-13.0zM525.3 111.0h13.0l-0.1 3.3h-13.0zM525.2 114.0h13.0l-0.1 3.3h-13.0zM525.1 117.0h13.0l-0.1 3.3h-13.0zM525.0 120.0h13.0l-0.1 3.3h-13.0zM524.9 123.0h13.0l-0.1 3.3h-13.0zM524.8 126.0h13.0l-0.1 3.3h-13.0zM524.7 129.0h13.0l-0.1 3.3h-13.0zM524.6 132.0h13.0l-0.1 3.3h-13.0zM524.5 135.0h13.0l-0.1 3.3h-13.0zM524.4 138.0h13.0l-0.1 3.3h-13.0zM524.3 141.0h13.0l-0.1 3.3h-13.0zM524.2 144.0h13.0l-0.1 3.3h-13.0zM524.1 147.0h13.0l-0.1 3.3h-13.0zM524.0 150.0h13.0l-0.1 3.3h-13.0zM523.9 153.0h13.0l-0.1 3.3h-13.0zM523.8 156.0h13.0l-0.1 3.3h-13.0zM523.7 159.0h13.0l-0.1 3.3h-13.0zM523.6 162.0h13.0l-0.1 3.3h-13.0zM523.5 165.0h13.0l-0.1 3.3h-13.0zM523.3 171.0h13.0l-0.1 3.3h-13.0zM523.2 174.0h13.0l-0.1 3.3h-13.0zM542.5 3.0h11.6l-0.1 3.3h-11.6zM542.5 6.0h11.6l-0.1 3.3h-11.6zM542.4 9.0h11.6l-0.1 3.3h-11.6zM542.3 12.0h11.6l-0.1 3.3h-11.6zM542.2 15.0h11.6l-0.1 3.3h-11.6zM542.1 18.0h11.6l-0.1 3.3h-11.6zM542.0 21.0h11.6l-0.1 3.3h-11.6zM541.9 24.0h11.6l-0.1 3.3h-11.6zM541.8 27.0h11.6l-0.1 3.3h-11.6zM541.7 30.0h11.6l-0.1 3.3h-11.6zM541.6 33.0h11.6l-0.1 3.3h-11.6zM541.5 36.0h11.6l-0.1 3.3h-11.6zM541.4 39.0h11.6l-0.1 3.3h-11.6zM541.3 42.0h11.6l-0.1 3.3h-11.6zM541.2 45.0h11.6l-0.1 3.3h-11.6zM541.1 48.0h11.6l-0.1 3.3h-11.6zM541.0 51.0h11.6l-0.1 3.3h-11.6zM540.9 54.0h11.6l-0.1 3.3h-11.6zM540.8 57.0h11.6l-0.1 3.3h-11.6zM540.7 60.0h11.6l-0.1 3.3h-11.6zM540.6 63.0h11.6l-0.1 3.3h-11.6zM540.5 66.0h11.6l-0.1 3.3h-11.6zM540.4 69.0h11.6l-0.1 3.3h-11.6zM540.3 72.0h11.6l-0.1 3.3h-11.6zM540.2 75.0h11.6l-0.1 3.3h-11.6zM540.1 78.0h11.6l-0.1 3.3h-11.6zM540.0 81.0h11.6l-0.1 3.3h-11.6zM539.9 84.0h11.6l-0.1 3.3h-11.6zM539.8 87.0h11.6l-0.1 3.3h-11.6zM539.7 90.0h11.6l-0.1 3.3h-11.6zM539.6 93.0h11.6l-0.1 3.3h-11.6zM539.5 96.0h11.6l-0.1 3.3h-11.6zM539.4 99.0h11.6l-0.1 3.3h-11.6zM539.3 102.0h11.6l-0.1 3.3h-11.6zM539.2 105.0h11.6l-0.1 3.3h-11.6zM539.1 108.0h11.6l-0.1 3.3h-11.6zM539.0 111.0h11.6l-0.1 3.3h-11.6zM538.9 114.0h11.6l-0.1 3.3h-11.6zM538.8 117.0h11.6l-0.1 3.3h-11.6zM538.7 120.0h11.6l-0.1 3.3h-11.6zM538.6 123.0h11.6l-0.1 3.3h-11.6zM538.5 126.0h11.6l-0.1 3.3h-11.6zM538.4 129.0h11.6l-0.1 3.3h-11.6zM538.3 132.0h11.6l-0.1 3.3h-11.6zM538.2 135.0h11.6l-0.1 3.3h-11.6zM538.1 138.0h11.6l-0.1 3.3h-11.6zM538.0 141.0h11.6l-0.1 3.3h-11.6zM537.9 144.0h11.6l-0.1 3.3h-11.6zM537.8 147.0h11.6l-0.1 3.3h-11.6zM537.7 150.0h11.6l-0.1 3.3h-11.6zM537.6 153.0h11.6l-0.1 3.3h-11.6zM537.5 156.0h11.6l-0.1 3.3h-11.6zM537.4 159.0h11.6l-0.1 3.3h-11.6zM554.0 3.0h11.7l-0.1 3.3h-11.7zM553.9 6.0h11.7l-0.1 3.3h-11.7zM553.8 9.0h11.7l-0.1 3.3h-11.7zM553.7 12.0h11.7l-0.1 3.3h-11.7zM553.6 15.0h11.7l-0.1 3.3h-11.7zM553.5 18.0h11.7l-0.1 3.3h-11.7zM553.4 21.0h11.7l-0.1 3.3h-11.7zM553.3 24.0h11.7l-0.1 3.3h-11.7zM553.2 27.0h11.7l-0.1 3.3h-11.7zM553.1 30.0h11.7l-0.1 3.3h-11.7zM553.0 33.0h11.7l-0.1 3.3h-11.7zM552.9 36.0h11.7l-0.1 3.3h-11.7zM552.8 39.0h11.7l-0.1 3.3h-11.7zM552.7 42.0h11.7l-0.1 3.3h-11.7zM552.6 45.0h11.7l-0.1 3.3h-11.7zM552.5 48.0h11.7l-0.1 3.3h-11.7zM552.4 51.0h11.7l-0.1 3.3h-11.7zM552.3 54.0h11.7l-0.1 3.3h-11.7zM552.2 57.0h11.7l-0.1 3.3h-11.7zM552.1 60.0h11.7l-0.1 3.3h-11.7zM552.0 63.0h11.7l-0.1 3.3h-11.7zM551.9 66.0h11.7l-0.1 3.3h-11.7zM551.8 69.0h11.7l-0.1 3.3h-11.7zM551.7 72.0h11.7l-0.1 3.3h-11.7zM551.6 75.0h11.7l-0.1 3.3h-11.7zM551.5 78.0h11.7l-0.1 3.3h-11.7zM551.4 81.0h11.7l-0.1 3.3h-11.7zM551.3 84.0h11.7l-0.1 3.3h-11.7zM551.2 87.0h11.7l-0.1 3.3h-11.7zM551.1 90.0h11.7l-0.1 3.3h-11.7zM551.0 93.0h11.7l-0.1 3.3h-11.7zM550.9 96.0h11.7l-0.1 3.3h-11.7zM550.8 99.0h11.7l-0.1 3.3h-11.7zM550.7 102.0h11.7l-0.1 3.3h-11.7zM550.6 105.0h11.7l-0.1 3.3h-11.7zM550.5 108.0h11.7l-0.1 3.3h-11.7zM550.4 111.0h11.7l-0.1 3.3h-11.7zM550.3 114.0h11.7l-0.1 3.3h-11.7zM550.2 117.0h11.7l-0.1 3.3h-11.7zM550.1 120.0h11.7l-0.1 3.3h-11.7zM550.0 123.0h11.7l-0.1 3.3h-11.7zM549.9 126.0h11.7l-0.1 3.3h-11.7zM549.8 129.0h11.7l-0.1 3.3h-11.7zM549.7 132.0h11.7l-0.1 3.3h-11.7zM549.6 135.0h11.7l-0.1 3.3h-11.7zM549.5 138.0h11.7l-0.1 3.3h-11.7zM549.4 141.0h11.7l-0.1 3.3h-11.7zM549.3 144.0h11.7l-0.1 3.3h-11.7zM549.2 147.0h11.7l-0.1 3.3h-11.7zM549.1 150.0h11.7l-0.1 3.3h-11.7zM549.0 153.0h11.7l-0.1 3.3h-11.7zM548.9 156.0h11.7l-0.1 3.3h-11.7zM548.8 159.0h11.7l-0.1 3.3h-11.7zM548.7 162.0h11.7l-0.1 3.3h-11.7zM567.2 3.0h12.0l-0.1 3.3h-12.0zM567.1 6.0h12.0l-0.1 3.3h-12.0zM567.0 9.0h12.0l-0.1 3.3h-12.0zM566.9 12.0h12.0l-0.1 3.3h-12.0zM566.8 15.0h12.0l-0.1 3.3h-12.0zM566.7 18.0h12.0l-0.1 3.3h-12.0zM566.6 21.0h12.0l-0.1 3.3h-12.0zM566.5 24.0h12.0l-0.1 3.3h-12.0zM566.4 27.0h12.0l-0.1 3.3h-12.0zM566.3 30.0h12.0l-0.1 3.3h-12.0zM566.2 33.0h12.0l-0.1 3.3h-12.0zM566.1 36.0h12.0l-0.1 3.3h-12.0zM566.0 39.0h12.0l-0.1 3.3h-12.0zM565.9 42.0h12.0l-0.1 3.3h-12.0zM565.8 45.0h12.0l-0.1 3.3h-12.0zM565.7 48.0h12.0l-0.1 3.3h-12.0zM565.6 51.0h12.0l-0.1 3.3h-12.0zM565.5 54.0h12.0l-0.1 3.3h-12.0zM565.4 57.0h12.0l-0.1 3.3h-12.0zM565.3 60.0h12.0l-0.1 3.3h-12.0zM565.2 63.0h12.0l-0.1 3.3h-12.0zM565.1 66.0h12.0l-0.1 3.3h-12.0zM565.0 69.0h12.0l-0.1 3.3h-12.0zM564.9 72.0h12.0l-0.1 3.3h-12.0zM564.8 75.0h12.0l-0.1 3.3h-12.0zM564.7 78.0h12.0l-0.1 3.3h-12.0zM564.6 81.0h12.0l-0.1 3.3h-12.0zM564.5 84.0h12.0l-0.1 3.3h-12.0zM564.4 87.0h12.0l-0.1 3.3h-12.0zM564.3 90.0h12.0l-0.1 3.3h-12.0zM564.2 93.0h12.0l-0.1 3.3h-12.0zM564.1 96.0h12.0l-0.1 3.3h-12.0zM564.0 99.0h12.0l-0.1 3.3h-12.0zM563.9 102.0h12.0l-0.1 3.3h-12.0zM563.8 105.0h12.0l-0.1 3.3h-12.0zM563.7 108.0h12.0l-0.1 3.3h-12.0zM563.6 111.0h12.0l-0.1 3.3h-12.0zM563.5 114.0h12.0l-0.1 3.3h-12.0zM563.4 117.0h12.0l-0.1 3.3h-12.0zM563.3 120.0h12.0l-0.1 3.3h-12.0zM563.2 123.0h12.0l-0.1 3.3h-12.0zM563.1 126.0h12.0l-0.1 3.3h-12.0zM563.0 129.0h12.0l-0.1 3.3h-12.0zM562.9 132.0h12.0l-0.1 3.3h-12.0zM562.8 135.0h12.0l-0.1 3.3h-12.0zM562.7 138.0h12.0l-0.1 3.3h-12.0zM562.6 141.0h12.0l-0.1 3.3h-12.0zM562.5 144.0h12.0l-0.1 3.3h-12.0zM562.4 147.0h12.0l-0.1 3.3h-12.0zM562.3 150.0h12.0l-0.1 3.3h-12.0zM562.2 153.0h12.0l-0.1 3.3h-12.0zM562.1 156.0h12.0l-0.1 3.3h-12.0zM562.0 159.0h12.0l-0.1 3.3h-12.0zM581.6 3.0h10.6l-0.1 3.3h-10.6zM581.5 6.0h10.6l-0.1 3.3h-10.6zM581.4 9.0h10.6l-0.1 3.3h-10.6zM581.3 12.0h10.6l-0.1 3.3h-10.6zM581.2 15.0h10.6l-0.1 3.3h-10.6zM581.1 18.0h10.6l-0.1 3.3h-10.6zM581.0 21.0h10.6l-0.1 3.3h-10.6zM580.9 24.0h10.6l-0.1 3.3h-10.6zM580.8 27.0h10.6l-0.1 3.3h-10.6zM580.7 30.0h10.6l-0.1 3.3h-10.6zM580.6 33.0h10.6l-0.1 3.3h-10.6zM580.5 36.0h10.6l-0.1 3.3h-10.6zM580.4 39.0h10.6l-0.1 3.3h-10.6zM580.3 42.0h10.6l-0.1 3.3h-10.6zM580.2 45.0h10.6l-0.1 3.3h-10.6zM580.1 48.0h10.6l-0.1 3.3h-10.6zM580.0 51.0h10.6l-0.1 3.3h-10.6zM579.9 54.0h10.6l-0.1 3.3h-10.6zM579.8 57.0h10.6l-0.1 3.3h-10.6zM579.7 60.0h10.6l-0.1 3.3h-10.6zM579.6 63.0h10.6l-0.1 3.3h-10.6zM579.5 66.0h10.6l-0.1 3.3h-10.6zM579.4 69.0h10.6l-0.1 3.3h-10.6zM579.3 72.0h10.6l-0.1 3.3h-10.6zM579.2 75.0h10.6l-0.1 3.3h-10.6zM579.1 78.0h10.6l-0.1 3.3h-10.6zM579.0 81.0h10.6l-0.1 3.3h-10.6zM578.9 84.0h10.6l-0.1 3.3h-10.6zM578.8 87.0h10.6l-0.1 3.3h-10.6zM578.7 90.0h10.6l-0.1 3.3h-10.6zM578.6 93.0h10.6l-0.1 3.3h-10.6zM578.5 96.0h10.6l-0.1 3.3h-10.6zM578.4 99.0h10.6l-0.1 3.3h-10.6zM578.3 102.0h10.6l-0.1 3.3h-10.6zM578.2 105.0h10.6l-0.1 3.3h-10.6zM578.1 108.0h10.6l-0.1 3.3h-10.6zM578.0 111.0h10.6l-0.1 3.3h-10.6zM577.9 114.0h10.6l-0.1 3.3h-10.6zM577.9 117.0h10.6l-0.1 3.3h-10.6zM577.8 120.0h10.6l-0.1 3.3h-10.6zM577.7 123.0h10.6l-0.1 3.3h-10.6zM577.6 126.0h10.6l-0.1 3.3h-10.6zM577.5 129.0h10.6l-0.1 3.3h-10.6zM577.4 132.0h10.6l-0.1 3.3h-10.6zM577.3 135.0h10.6l-0.1 3.3h-10.6zM577.2 138.0h10.6l-0.1 3.3h-10.6zM577.1 141.0h10.6l-0.1 3.3h-10.6zM577.0 144.0h10.6l-0.1 3.3h-10.6zM576.9 147.0h10.6l-0.1 3.3h-10.6zM576.8 150.0h10.6l-0.1 3.3h-10.6zM576.7 153.0h10.6l-0.1 3.3h-10.6zM595.6 3.0h11.3l-0.1 3.3h-11.3zM595.5 6.0h11.3l-0.1 3.3h-11.3zM595.4 9.0h11.3l-0.1 3.3h-11.3zM595.3 12.0h11.3l-0.1 3.3h-11.3zM595.2 15.0h11.3l-0.1 3.3h-11.3zM595.1 18.0h11.3l-0.1 3.3h-11.3zM595.0 21.0h11.3l-0.1 3.3h-11.3zM594.9 24.0h11.3l-0.1 3.3h-11.3zM594.8 27.0h11.3l-0.1 3.3h-11.3zM594.7 30.0h11.3l-0.1 3.3h-11.3zM594.7 33.0h11.3l-0.1 3.3h-11.3zM594.6 36.0h11.3l-0.1 3.3h-11.3zM594.5 39.0h11.3l-0.1 3.3h-11.3zM594.4 42.0h11.3l-0.1 3.3h-11.3zM594.3 45.0h11.3l-0.1 3.3h-11.3zM594.2 48.0h11.3l-0.1 3.3h-11.3zM594.1 51.0h11.3l-0.1 3.3h-11.3zM594.0 54.0h11.3l-0.1 3.3h-11.3zM593.9 57.0h11.3l-0.1 3.3h-11.3zM593.8 60.0h11.3l-0.1 3.3h-11.3zM593.7 63.0h11.3l-0.1 3.3h-11.3zM593.6 66.0h11.3l-0.1 3.3h-11.3zM593.5 69.0h11.3l-0.1 3.3h-11.3zM593.4 72.0h11.3l-0.1 3.3h-11.3zM593.3 75.0h11.3l-0.1 3.3h-11.3zM593.2 78.0h11.3l-0.1 3.3h-11.3zM593.1 81.0h11.3l-0.1 3.3h-11.3zM593.0 84.0h11.3l-0.1 3.3h-11.3zM592.9 87.0h11.3l-0.1 3.3h-11.3zM592.8 90.0h11.3l-0.1 3.3h-11.3zM592.7 93.0h11.3l-0.1 3.3h-11.3zM592.6 96.0h11.3l-0.1 3.3h-11.3zM592.5 99.0h11.3l-0.1 3.3h-11.3zM592.4 102.0h11.3l-0.1 3.3h-11.3zM592.3 105.0h11.3l-0.1 3.3h-11.3zM592.2 108.0h11.3l-0.1 3.3h-11.3zM592.1 111.0h11.3l-0.1 3.3h-11.3zM592.0 114.0h11.3l-0.1 3.3h-11.3zM591.9 117.0h11.3l-0.1 3.3h-11.3zM591.8 120.0h11.3l-0.1 3.3h-11.3zM591.7 123.0h11.3l-0.1 3.3h-11.3zM591.6 126.0h11.3l-0.1 3.3h-11.3zM591.5 129.0h11.3l-0.1 3.3h-11.3zM591.4 132.0h11.3l-0.1 3.3h-11.3zM591.3 135.0h11.3l-0.1 3.3h-11.3zM591.2 138.0h11.3l-0.1 3.3h-11.3zM591.1 141.0h11.3l-0.1 3.3h-11.3zM591.0 144.0h11.3l-0.1 3.3h-11.3zM590.9 147.0h11.3l-0.1 3.3h-11.3zM590.8 150.0h11.3l-0.1 3.3h-11.3zM590.7 153.0h11.3l-0.1 3.3h-11.3zM607.3 3.0h11.8l-0.1 3.3h-11.8zM607.2 6.0h11.8l-0.1 3.3h-11.8zM607.1 9.0h11.8l-0.1 3.3h-11.8zM607.0 12.0h11.8l-0.1 3.3h-11.8zM606.9 15.0h11.8l-0.1 3.3h-11.8zM606.8 18.0h11.8l-0.1 3.3h-11.8zM606.7 21.0h11.8l-0.1 3.3h-11.8zM606.6 24.0h11.8l-0.1 3.3h-11.8zM606.5 27.0h11.8l-0.1 3.3h-11.8zM606.4 30.0h11.8l-0.1 3.3h-11.8zM606.3 33.0h11.8l-0.1 3.3h-11.8zM606.2 36.0h11.8l-0.1 3.3h-11.8zM606.1 39.0h11.8l-0.1 3.3h-11.8zM606.0 42.0h11.8l-0.1 3.3h-11.8zM605.9 45.0h11.8l-0.1 3.3h-11.8zM605.8 48.0h11.8l-0.1 3.3h-11.8zM605.7 51.0h11.8l-0.1 3.3h-11.8zM605.6 54.0h11.8l-0.1 3.3h-11.8zM605.5 57.0h11.8l-0.1 3.3h-11.8zM605.4 60.0h11.8l-0.1 3.3h-11.8zM605.3 63.0h11.8l-0.1 3.3h-11.8zM605.2 66.0h11.8l-0.1 3.3h-11.8zM605.1 69.0h11.8l-0.1 3.3h-11.8zM605.0 72.0h11.8l-0.1 3.3h-11.8zM604.9 75.0h11.8l-0.1 3.3h-11.8zM604.8 78.0h11.8l-0.1 3.3h-11.8zM604.7 81.0h11.8l-0.1 3.3h-11.8zM604.6 84.0h11.8l-0.1 3.3h-11.8zM604.5 87.0h11.8l-0.1 3.3h-11.8zM604.4 90.0h11.8l-0.1 3.3h-11.8zM604.3 93.0h11.8l-0.1 3.3h-11.8zM604.2 96.0h11.8l-0.1 3.3h-11.8zM604.1 99.0h11.8l-0.1 3.3h-11.8zM604.0 102.0h11.8l-0.1 3.3h-11.8zM604.0 105.0h11.8l-0.1 3.3h-11.8zM603.9 108.0h11.8l-0.1 3.3h-11.8zM603.8 111.0h11.8l-0.1 3.3h-11.8zM603.7 114.0h11.8l-0.1 3.3h-11.8zM603.6 117.0h11.8l-0.1 3.3h-11.8zM603.5 120.0h11.8l-0.1 3.3h-11.8zM603.4 123.0h11.8l-0.1 3.3h-11.8zM603.3 126.0h11.8l-0.1 3.3h-11.8zM603.2 129.0h11.8l-0.1 3.3h-11.8zM603.1 132.0h11.8l-0.1 3.3h-11.8zM603.0 135.0h11.8l-0.1 3.3h-11.8zM602.9 138.0h11.8l-0.1 3.3h-11.8zM602.8 141.0h11.8l-0.1 3.3h-11.8zM602.7 144.0h11.8l-0.1 3.3h-11.8zM602.6 147.0h11.8l-0.1 3.3h-11.8zM602.5 150.0h11.8l-0.1 3.3h-11.8zM620.7 3.0h12.6l-0.1 3.3h-12.6zM620.6 6.0h12.6l-0.1 3.3h-12.6zM620.5 9.0h12.6l-0.1 3.3h-12.6zM620.4 12.0h12.6l-0.1 3.3h-12.6zM620.3 15.0h12.6l-0.1 3.3h-12.6zM620.2 18.0h12.6l-0.1 3.3h-12.6zM620.1 21.0h12.6l-0.1 3.3h-12.6zM620.0 24.0h12.6l-0.1 3.3h-12.6zM619.9 27.0h12.6l-0.1 3.3h-12.6zM619.8 30.0h12.6l-0.1 3.3h-12.6zM619.7 33.0h12.6l-0.1 3.3h-12.6zM619.6 36.0h12.6l-0.1 3.3h-12.6zM619.5 39.0h12.6l-0.1 3.3h-12.6zM619.4 42.0h12.6l-0.1 3.3h-12.6zM619.3 45.0h12.6l-0.1 3.3h-12.6zM619.2 48.0h12.6l-0.1 3.3h-12.6zM619.1 51.0h12.6l-0.1 3.3h-12.6zM619.0 54.0h12.6l-0.1 3.3h-12.6zM618.9 57.0h12.6l-0.1 3.3h-12.6zM618.8 60.0h12.6l-0.1 3.3h-12.6zM618.7 63.0h12.6l-0.1 3.3h-12.6zM618.6 66.0h12.6l-0.1 3.3h-12.6zM618.5 69.0h12.6l-0.1 3.3h-12.6zM618.4 72.0h12.6l-0.1 3.3h-12.6zM618.3 75.0h12.6l-0.1 3.3h-12.6zM618.2 78.0h12.6l-0.1 3.3h-12.6zM618.1 81.0h12.6l-0.1 3.3h-12.6zM618.0 84.0h12.6l-0.1 3.3h-12.6zM617.9 87.0h12.6l-0.1 3.3h-12.6zM617.8 90.0h12.6l-0.1 3.3h-12.6zM617.7 93.0h12.6l-0.1 3.3h-12.6zM617.6 96.0h12.6l-0.1 3.3h-12.6zM617.5 99.0h12.6l-0.1 3.3h-12.6zM617.4 102.0h12.6l-0.1 3.3h-12.6zM617.3 105.0h12.6l-0.1 3.3h-12.6zM617.2 108.0h12.6l-0.1 3.3h-12.6zM617.1 111.0h12.6l-0.1 3.3h-12.6zM617.0 114.0h12.6l-0.1 3.3h-12.6zM616.9 117.0h12.6l-0.1 3.3h-12.6zM616.8 120.0h12.6l-0.1 3.3h-12.6zM616.7 123.0h12.6l-0.1 3.3h-12.6zM616.7 126.0h12.6l-0.1 3.3h-12.6zM616.6 129.0h12.6l-0.1 3.3h-12.6zM616.5 132.0h12.6l-0.1 3.3h-12.6zM616.4 135.0h12.6l-0.1 3.3h-12.6zM616.2 141.0h12.6l-0.1 3.3h-12.6zM616.1 144.0h12.6l-0.1 3.3h-12.6zM634.2 3.0h12.1l-0.1 3.3h-12.1zM634.1 6.0h12.1l-0.1 3.3h-12.1zM634.0 9.0h12.1l-0.1 3.3h-12.1zM633.9 12.0h12.1l-0.1 3.3h-12.1zM633.8 15.0h12.1l-0.1 3.3h-12.1zM633.7 18.0h12.1l-0.1 3.3h-12.1zM633.6 21.0h12.1l-0.1 3.3h-12.1zM633.5 24.0h12.1l-0.1 3.3h-12.1zM633.4 27.0h12.1l-0.1 3.3h-12.1zM633.3 30.0h12.1l-0.1 3.3h-12.1zM633.2 33.0h12.1l-0.1 3.3h-12.1zM633.1 36.0h12.1l-0.1 3.3h-12.1zM633.0 39.0h12.1l-0.1 3.3h-12.1zM632.9 42.0h12.1l-0.1 3.3h-12.1zM632.8 45.0h12.1l-0.1 3.3h-12.1zM632.7 48.0h12.1l-0.1 3.3h-12.1zM632.6 51.0h12.1l-0.1 3.3h-12.1zM632.5 54.0h12.1l-0.1 3.3h-12.1zM632.4 57.0h12.1l-0.1 3.3h-12.1zM632.3 60.0h12.1l-0.1 3.3h-12.1zM632.2 63.0h12.1l-0.1 3.3h-12.1zM632.1 66.0h12.1l-0.1 3.3h-12.1zM632.0 69.0h12.1l-0.1 3.3h-12.1zM631.9 72.0h12.1l-0.1 3.3h-12.1zM631.8 75.0h12.1l-0.1 3.3h-12.1zM631.7 78.0h12.1l-0.1 3.3h-12.1zM631.6 81.0h12.1l-0.1 3.3h-12.1zM631.5 84.0h12.1l-0.1 3.3h-12.1zM631.4 87.0h12.1l-0.1 3.3h-12.1zM631.3 90.0h12.1l-0.1 3.3h-12.1zM631.2 93.0h12.1l-0.1 3.3h-12.1zM631.1 96.0h12.1l-0.1 3.3h-12.1zM631.0 99.0h12.1l-0.1 3.3h-12.1zM630.9 102.0h12.1l-0.1 3.3h-12.1zM630.8 105.0h12.1l-0.1 3.3h-12.1zM630.7 108.0h12.1l-0.1 3.3h-12.1zM630.6 111.0h12.1l-0.1 3.3h-12.1zM630.5 114.0h12.1l-0.1 3.3h-12.1zM630.4 117.0h12.1l-0.1 3.3h-12.1zM630.3 120.0h12.1l-0.1 3.3h-12.1zM630.2 123.0h12.1l-0.1 3.3h-12.1zM630.1 126.0h12.1l-0.1 3.3h-12.1zM630.0 129.0h12.1l-0.1 3.3h-12.1zM629.9 132.0h12.1l-0.1 3.3h-12.1zM629.8 135.0h12.1l-0.1 3.3h-12.1zM629.7 138.0h12.1l-0.1 3.3h-12.1zM629.6 141.0h12.1l-0.1 3.3h-12.1zM627.9 195.0h12.1l-0.1 3.3h-12.1zM646.8 3.0h12.9l-0.1 3.3h-12.9zM646.7 6.0h12.9l-0.1 3.3h-12.9zM646.6 9.0h12.9l-0.1 3.3h-12.9zM646.5 12.0h12.9l-0.1 3.3h-12.9zM646.4 15.0h12.9l-0.1 3.3h-12.9zM646.3 18.0h12.9l-0.1 3.3h-12.9zM646.2 21.0h12.9l-0.1 3.3h-12.9zM646.1 24.0h12.9l-0.1 3.3h-12.9zM646.0 27.0h12.9l-0.1 3.3h-12.9zM645.9 30.0h12.9l-0.1 3.3h-12.9zM645.8 33.0h12.9l-0.1 3.3h-12.9zM645.7 36.0h12.9l-0.1 3.3h-12.9zM645.6 39.0h12.9l-0.1 3.3h-12.9zM645.5 42.0h12.9l-0.1 3.3h-12.9zM645.4 45.0h12.9l-0.1 3.3h-12.9zM645.3 48.0h12.9l-0.1 3.3h-12.9zM645.2 51.0h12.9l-0.1 3.3h-12.9zM645.1 54.0h12.9l-0.1 3.3h-12.9zM645.0 57.0h12.9l-0.1 3.3h-12.9zM644.9 60.0h12.9l-0.1 3.3h-12.9zM644.8 63.0h12.9l-0.1 3.3h-12.9zM644.7 66.0h12.9l-0.1 3.3h-12.9zM644.6 69.0h12.9l-0.1 3.3h-12.9zM644.5 72.0h12.9l-0.1 3.3h-12.9zM644.4 75.0h12.9l-0.1 3.3h-12.9zM644.3 78.0h12.9l-0.1 3.3h-12.9zM644.2 81.0h12.9l-0.1 3.3h-12.9zM644.1 84.0h12.9l-0.1 3.3h-12.9zM644.0 87.0h12.9l-0.1 3.3h-12.9zM643.9 90.0h12.9l-0.1 3.3h-12.9zM643.8 93.0h12.9l-0.1 3.3h-12.9zM643.7 96.0h12.9l-0.1 3.3h-12.9zM643.7 99.0h12.9l-0.1 3.3h-12.9zM643.6 102.0h12.9l-0.1 3.3h-12.9zM643.5 105.0h12.9l-0.1 3.3h-12.9zM643.4 108.0h12.9l-0.1 3.3h-12.9zM643.3 111.0h12.9l-0.1 3.3h-12.9zM643.2 114.0h12.9l-0.1 3.3h-12.9zM643.1 117.0h12.9l-0.1 3.3h-12.9zM643.0 120.0h12.9l-0.1 3.3h-12.9zM642.9 123.0h12.9l-0.1 3.3h-12.9zM642.8 126.0h12.9l-0.1 3.3h-12.9zM642.7 129.0h12.9l-0.1 3.3h-12.9zM642.6 132.0h12.9l-0.1 3.3h-12.9zM642.5 135.0h12.9l-0.1 3.3h-12.9zM642.4 138.0h12.9l-0.1 3.3h-12.9zM642.3 141.0h12.9l-0.1 3.3h-12.9zM642.1 147.0h12.9l-0.1 3.3h-12.9zM641.9 153.0h12.9l-0.1 3.3h-12.9zM640.7 189.0h12.9l-0.1 3.3h-12.9zM640.6 192.0h12.9l-0.1 3.3h-12.9zM640.5 195.0h12.9l-0.1 3.3h-12.9z" fill="#7a4818"/>
<path d="M379.9 36.0h12.7l-0.1 3.3h-12.7zM378.4 81.0h12.7l-0.1 3.3h-12.7zM378.3 84.0h12.7l-0.1 3.3h-12.7zM377.0 123.0h12.7l-0.1 3.3h-12.7zM376.5 138.0h12.7l-0.1 3.3h-12.7zM376.1 150.0h12.7l-0.1 3.3h-12.7zM375.5 168.0h12.7l-0.1 3.3h-12.7zM375.4 171.0h12.7l-0.1 3.3h-12.7zM375.2 177.0h12.7l-0.1 3.3h-12.7zM375.0 183.0h12.7l-0.1 3.3h-12.7zM374.9 186.0h12.7l-0.1 3.3h-12.7zM374.8 189.0h12.7l-0.1 3.3h-12.7zM374.7 192.0h12.7l-0.1 3.3h-12.7zM374.6 195.0h12.7l-0.1 3.3h-12.7zM389.4 162.0h12.9l-0.1 3.3h-12.9zM389.1 171.0h12.9l-0.1 3.3h-12.9zM389.0 174.0h12.9l-0.1 3.3h-12.9zM388.9 177.0h12.9l-0.1 3.3h-12.9zM388.8 180.0h12.9l-0.1 3.3h-12.9zM388.7 183.0h12.9l-0.1 3.3h-12.9zM388.6 186.0h12.9l-0.1 3.3h-12.9zM388.5 189.0h12.9l-0.1 3.3h-12.9zM388.4 192.0h12.9l-0.1 3.3h-12.9zM388.3 195.0h12.9l-0.1 3.3h-12.9zM403.1 126.0h11.0l-0.1 3.3h-11.0zM402.9 132.0h11.0l-0.1 3.3h-11.0zM402.8 135.0h11.0l-0.1 3.3h-11.0zM402.7 138.0h11.0l-0.1 3.3h-11.0zM402.6 141.0h11.0l-0.1 3.3h-11.0zM402.5 144.0h11.0l-0.1 3.3h-11.0zM402.4 147.0h11.0l-0.1 3.3h-11.0zM402.3 150.0h11.0l-0.1 3.3h-11.0zM402.2 153.0h11.0l-0.1 3.3h-11.0zM402.1 156.0h11.0l-0.1 3.3h-11.0zM402.0 159.0h11.0l-0.1 3.3h-11.0zM401.9 162.0h11.0l-0.1 3.3h-11.0zM401.8 165.0h11.0l-0.1 3.3h-11.0zM401.7 168.0h11.0l-0.1 3.3h-11.0zM401.6 171.0h11.0l-0.1 3.3h-11.0zM401.5 174.0h11.0l-0.1 3.3h-11.0zM401.4 177.0h11.0l-0.1 3.3h-11.0zM401.3 180.0h11.0l-0.1 3.3h-11.0zM401.2 183.0h11.0l-0.1 3.3h-11.0zM401.1 186.0h11.0l-0.1 3.3h-11.0zM401.0 189.0h11.0l-0.1 3.3h-11.0zM400.9 192.0h11.0l-0.1 3.3h-11.0zM400.8 195.0h11.0l-0.1 3.3h-11.0zM417.8 102.0h10.9l-0.1 3.3h-10.9zM417.7 105.0h10.9l-0.1 3.3h-10.9zM417.5 111.0h10.9l-0.1 3.3h-10.9zM417.4 114.0h10.9l-0.1 3.3h-10.9zM417.3 117.0h10.9l-0.1 3.3h-10.9zM417.2 120.0h10.9l-0.1 3.3h-10.9zM417.1 123.0h10.9l-0.1 3.3h-10.9zM417.0 126.0h10.9l-0.1 3.3h-10.9zM416.9 129.0h10.9l-0.1 3.3h-10.9zM416.8 132.0h10.9l-0.1 3.3h-10.9zM416.7 135.0h10.9l-0.1 3.3h-10.9zM416.6 138.0h10.9l-0.1 3.3h-10.9zM416.5 141.0h10.9l-0.1 3.3h-10.9zM416.4 144.0h10.9l-0.1 3.3h-10.9zM416.3 147.0h10.9l-0.1 3.3h-10.9zM416.2 150.0h10.9l-0.1 3.3h-10.9zM416.1 153.0h10.9l-0.1 3.3h-10.9zM416.0 156.0h10.9l-0.1 3.3h-10.9zM415.9 159.0h10.9l-0.1 3.3h-10.9zM415.8 162.0h10.9l-0.1 3.3h-10.9zM415.7 165.0h10.9l-0.1 3.3h-10.9zM415.7 168.0h10.9l-0.1 3.3h-10.9zM415.6 171.0h10.9l-0.1 3.3h-10.9zM415.5 174.0h10.9l-0.1 3.3h-10.9zM415.4 177.0h10.9l-0.1 3.3h-10.9zM415.3 180.0h10.9l-0.1 3.3h-10.9zM415.2 183.0h10.9l-0.1 3.3h-10.9zM415.1 186.0h10.9l-0.1 3.3h-10.9zM415.0 189.0h10.9l-0.1 3.3h-10.9zM414.9 192.0h10.9l-0.1 3.3h-10.9zM414.8 195.0h10.9l-0.1 3.3h-10.9zM430.7 84.0h13.4l-0.1 3.3h-13.4zM430.6 87.0h13.4l-0.1 3.3h-13.4zM430.5 90.0h13.4l-0.1 3.3h-13.4zM430.4 93.0h13.4l-0.1 3.3h-13.4zM430.3 96.0h13.4l-0.1 3.3h-13.4zM430.2 99.0h13.4l-0.1 3.3h-13.4zM430.1 102.0h13.4l-0.1 3.3h-13.4zM430.0 105.0h13.4l-0.1 3.3h-13.4zM429.9 108.0h13.4l-0.1 3.3h-13.4zM429.8 111.0h13.4l-0.1 3.3h-13.4zM429.7 114.0h13.4l-0.1 3.3h-13.4zM429.6 117.0h13.4l-0.1 3.3h-13.4zM429.5 120.0h13.4l-0.1 3.3h-13.4zM429.4 123.0h13.4l-0.1 3.3h-13.4zM429.3 126.0h13.4l-0.1 3.3h-13.4zM429.2 129.0h13.4l-0.1 3.3h-13.4zM429.1 132.0h13.4l-0.1 3.3h-13.4zM429.0 135.0h13.4l-0.1 3.3h-13.4zM428.9 138.0h13.4l-0.1 3.3h-13.4zM428.9 141.0h13.4l-0.1 3.3h-13.4zM428.8 144.0h13.4l-0.1 3.3h-13.4zM428.7 147.0h13.4l-0.1 3.3h-13.4zM428.6 150.0h13.4l-0.1 3.3h-13.4zM428.5 153.0h13.4l-0.1 3.3h-13.4zM428.4 156.0h13.4l-0.1 3.3h-13.4zM428.3 159.0h13.4l-0.1 3.3h-13.4zM428.2 162.0h13.4l-0.1 3.3h-13.4zM428.1 165.0h13.4l-0.1 3.3h-13.4zM428.0 168.0h13.4l-0.1 3.3h-13.4zM427.9 171.0h13.4l-0.1 3.3h-13.4zM427.8 174.0h13.4l-0.1 3.3h-13.4zM427.7 177.0h13.4l-0.1 3.3h-13.4zM427.6 180.0h13.4l-0.1 3.3h-13.4zM427.5 183.0h13.4l-0.1 3.3h-13.4zM427.4 186.0h13.4l-0.1 3.3h-13.4zM427.3 189.0h13.4l-0.1 3.3h-13.4zM427.2 192.0h13.4l-0.1 3.3h-13.4zM427.1 195.0h13.4l-0.1 3.3h-13.4zM446.9 48.0h12.5l-0.1 3.3h-12.5zM446.5 60.0h12.5l-0.1 3.3h-12.5zM446.4 63.0h12.5l-0.1 3.3h-12.5zM446.3 66.0h12.5l-0.1 3.3h-12.5zM446.2 69.0h12.5l-0.1 3.3h-12.5zM446.0 75.0h12.5l-0.1 3.3h-12.5zM445.9 78.0h12.5l-0.1 3.3h-12.5zM445.8 81.0h12.5l-0.1 3.3h-12.5zM445.7 84.0h12.5l-0.1 3.3h-12.5zM445.6 87.0h12.5l-0.1 3.3h-12.5zM445.5 90.0h12.5l-0.1 3.3h-12.5zM445.4 93.0h12.5l-0.1 3.3h-12.5zM445.3 96.0h12.5l-0.1 3.3h-12.5zM445.2 99.0h12.5l-0.1 3.3h-12.5zM445.1 102.0h12.5l-0.1 3.3h-12.5zM445.1 105.0h12.5l-0.1 3.3h-12.5zM445.0 108.0h12.5l-0.1 3.3h-12.5zM444.9 111.0h12.5l-0.1 3.3h-12.5zM444.8 114.0h12.5l-0.1 3.3h-12.5zM444.7 117.0h12.5l-0.1 3.3h-12.5zM444.6 120.0h12.5l-0.1 3.3h-12.5zM444.5 123.0h12.5l-0.1 3.3h-12.5zM444.4 126.0h12.5l-0.1 3.3h-12.5zM444.3 129.0h12.5l-0.1 3.3h-12.5zM444.2 132.0h12.5l-0.1 3.3h-12.5zM444.1 135.0h12.5l-0.1 3.3h-12.5zM444.0 138.0h12.5l-0.1 3.3h-12.5zM443.9 141.0h12.5l-0.1 3.3h-12.5zM443.8 144.0h12.5l-0.1 3.3h-12.5zM443.7 147.0h12.5l-0.1 3.3h-12.5zM443.6 150.0h12.5l-0.1 3.3h-12.5zM443.5 153.0h12.5l-0.1 3.3h-12.5zM443.4 156.0h12.5l-0.1 3.3h-12.5zM443.3 159.0h12.5l-0.1 3.3h-12.5zM443.2 162.0h12.5l-0.1 3.3h-12.5zM443.1 165.0h12.5l-0.1 3.3h-12.5zM443.0 168.0h12.5l-0.1 3.3h-12.5zM442.9 171.0h12.5l-0.1 3.3h-12.5zM442.8 174.0h12.5l-0.1 3.3h-12.5zM442.7 177.0h12.5l-0.1 3.3h-12.5zM442.6 180.0h12.5l-0.1 3.3h-12.5zM442.5 183.0h12.5l-0.1 3.3h-12.5zM442.4 186.0h12.5l-0.1 3.3h-12.5zM442.3 189.0h12.5l-0.1 3.3h-12.5zM442.2 192.0h12.5l-0.1 3.3h-12.5zM442.1 195.0h12.5l-0.1 3.3h-12.5zM459.9 33.0h11.8l-0.1 3.3h-11.8zM459.8 36.0h11.8l-0.1 3.3h-11.8zM459.6 42.0h11.8l-0.1 3.3h-11.8zM459.5 45.0h11.8l-0.1 3.3h-11.8zM459.4 48.0h11.8l-0.1 3.3h-11.8zM459.3 51.0h11.8l-0.1 3.3h-11.8zM459.2 54.0h11.8l-0.1 3.3h-11.8zM459.1 57.0h11.8l-0.1 3.3h-11.8zM459.0 60.0h11.8l-0.1 3.3h-11.8zM458.9 63.0h11.8l-0.1 3.3h-11.8zM458.8 66.0h11.8l-0.1 3.3h-11.8zM458.7 69.0h11.8l-0.1 3.3h-11.8zM458.6 72.0h11.8l-0.1 3.3h-11.8zM458.5 75.0h11.8l-0.1 3.3h-11.8zM458.4 78.0h11.8l-0.1 3.3h-11.8zM458.3 81.0h11.8l-0.1 3.3h-11.8zM458.2 84.0h11.8l-0.1 3.3h-11.8zM458.1 87.0h11.8l-0.1 3.3h-11.8zM458.0 90.0h11.8l-0.1 3.3h-11.8zM457.8 96.0h11.8l-0.1 3.3h-11.8zM457.7 99.0h11.8l-0.1 3.3h-11.8zM457.6 102.0h11.8l-0.1 3.3h-11.8zM457.5 105.0h11.8l-0.1 3.3h-11.8zM457.4 108.0h11.8l-0.1 3.3h-11.8zM457.3 111.0h11.8l-0.1 3.3h-11.8zM457.2 114.0h11.8l-0.1 3.3h-11.8zM457.1 117.0h11.8l-0.1 3.3h-11.8zM457.0 120.0h11.8l-0.1 3.3h-11.8zM456.9 123.0h11.8l-0.1 3.3h-11.8zM456.8 126.0h11.8l-0.1 3.3h-11.8zM456.7 129.0h11.8l-0.1 3.3h-11.8zM456.6 132.0h11.8l-0.1 3.3h-11.8zM456.5 135.0h11.8l-0.1 3.3h-11.8zM456.4 138.0h11.8l-0.1 3.3h-11.8zM456.3 141.0h11.8l-0.1 3.3h-11.8zM456.2 144.0h11.8l-0.1 3.3h-11.8zM456.1 147.0h11.8l-0.1 3.3h-11.8zM456.0 150.0h11.8l-0.1 3.3h-11.8zM455.9 153.0h11.8l-0.1 3.3h-11.8zM455.8 156.0h11.8l-0.1 3.3h-11.8zM455.7 159.0h11.8l-0.1 3.3h-11.8zM455.6 162.0h11.8l-0.1 3.3h-11.8zM455.5 165.0h11.8l-0.1 3.3h-11.8zM455.4 168.0h11.8l-0.1 3.3h-11.8zM455.3 171.0h11.8l-0.1 3.3h-11.8zM455.2 174.0h11.8l-0.1 3.3h-11.8zM455.1 177.0h11.8l-0.1 3.3h-11.8zM455.0 180.0h11.8l-0.1 3.3h-11.8zM454.9 183.0h11.8l-0.1 3.3h-11.8zM454.8 186.0h11.8l-0.1 3.3h-11.8zM454.7 189.0h11.8l-0.1 3.3h-11.8zM454.6 192.0h11.8l-0.1 3.3h-11.8zM454.5 195.0h11.8l-0.1 3.3h-11.8zM473.7 6.0h12.7l-0.1 3.3h-12.7zM473.6 9.0h12.7l-0.1 3.3h-12.7zM473.4 15.0h12.7l-0.1 3.3h-12.7zM473.3 18.0h12.7l-0.1 3.3h-12.7zM473.2 21.0h12.7l-0.1 3.3h-12.7zM473.0 27.0h12.7l-0.1 3.3h-12.7zM472.9 30.0h12.7l-0.1 3.3h-12.7zM472.8 33.0h12.7l-0.1 3.3h-12.7zM472.7 36.0h12.7l-0.1 3.3h-12.7zM472.6 39.0h12.7l-0.1 3.3h-12.7zM472.5 42.0h12.7l-0.1 3.3h-12.7zM472.4 45.0h12.7l-0.1 3.3h-12.7zM472.3 48.0h12.7l-0.1 3.3h-12.7zM472.2 51.0h12.7l-0.1 3.3h-12.7zM472.1 54.0h12.7l-0.1 3.3h-12.7zM472.0 57.0h12.7l-0.1 3.3h-12.7zM471.9 60.0h12.7l-0.1 3.3h-12.7zM471.8 63.0h12.7l-0.1 3.3h-12.7zM471.7 66.0h12.7l-0.1 3.3h-12.7zM471.6 69.0h12.7l-0.1 3.3h-12.7zM471.5 72.0h12.7l-0.1 3.3h-12.7zM471.4 75.0h12.7l-0.1 3.3h-12.7zM471.3 78.0h12.7l-0.1 3.3h-12.7zM471.2 81.0h12.7l-0.1 3.3h-12.7zM471.1 84.0h12.7l-0.1 3.3h-12.7zM470.9 90.0h12.7l-0.1 3.3h-12.7zM470.8 93.0h12.7l-0.1 3.3h-12.7zM470.7 96.0h12.7l-0.1 3.3h-12.7zM470.6 99.0h12.7l-0.1 3.3h-12.7zM470.5 102.0h12.7l-0.1 3.3h-12.7zM470.4 105.0h12.7l-0.1 3.3h-12.7zM470.3 108.0h12.7l-0.1 3.3h-12.7zM470.2 111.0h12.7l-0.1 3.3h-12.7zM470.1 114.0h12.7l-0.1 3.3h-12.7zM470.0 117.0h12.7l-0.1 3.3h-12.7zM469.9 120.0h12.7l-0.1 3.3h-12.7zM469.8 123.0h12.7l-0.1 3.3h-12.7zM469.7 126.0h12.7l-0.1 3.3h-12.7zM469.6 129.0h12.7l-0.1 3.3h-12.7zM469.5 132.0h12.7l-0.1 3.3h-12.7zM469.4 135.0h12.7l-0.1 3.3h-12.7zM469.3 138.0h12.7l-0.1 3.3h-12.7zM469.2 141.0h12.7l-0.1 3.3h-12.7zM469.1 144.0h12.7l-0.1 3.3h-12.7zM469.0 147.0h12.7l-0.1 3.3h-12.7zM468.9 150.0h12.7l-0.1 3.3h-12.7zM468.8 153.0h12.7l-0.1 3.3h-12.7zM468.7 156.0h12.7l-0.1 3.3h-12.7zM468.6 159.0h12.7l-0.1 3.3h-12.7zM468.5 162.0h12.7l-0.1 3.3h-12.7zM468.4 165.0h12.7l-0.1 3.3h-12.7zM468.2 171.0h12.7l-0.1 3.3h-12.7zM468.0 177.0h12.7l-0.1 3.3h-12.7zM467.9 180.0h12.7l-0.1 3.3h-12.7zM467.8 183.0h12.7l-0.1 3.3h-12.7zM467.7 186.0h12.7l-0.1 3.3h-12.7zM467.6 189.0h12.7l-0.1 3.3h-12.7zM467.4 195.0h12.7l-0.1 3.3h-12.7zM487.5 3.0h12.0l-0.1 3.3h-12.0zM487.4 6.0h12.0l-0.1 3.3h-12.0zM487.3 9.0h12.0l-0.1 3.3h-12.0zM487.2 12.0h12.0l-0.1 3.3h-12.0zM487.1 15.0h12.0l-0.1 3.3h-12.0zM487.0 18.0h12.0l-0.1 3.3h-12.0zM486.8 24.0h12.0l-0.1 3.3h-12.0zM486.7 27.0h12.0l-0.1 3.3h-12.0zM486.4 36.0h12.0l-0.1 3.3h-12.0zM486.3 39.0h12.0l-0.1 3.3h-12.0zM486.2 42.0h12.0l-0.1 3.3h-12.0zM486.0 48.0h12.0l-0.1 3.3h-12.0zM485.9 51.0h12.0l-0.1 3.3h-12.0zM485.8 54.0h12.0l-0.1 3.3h-12.0zM485.7 57.0h12.0l-0.1 3.3h-12.0zM485.6 60.0h12.0l-0.1 3.3h-12.0zM485.5 63.0h12.0l-0.1 3.3h-12.0zM485.3 72.0h12.0l-0.1 3.3h-12.0zM485.2 75.0h12.0l-0.1 3.3h-12.0zM485.1 78.0h12.0l-0.1 3.3h-12.0zM485.0 81.0h12.0l-0.1 3.3h-12.0zM484.9 84.0h12.0l-0.1 3.3h-12.0zM484.8 87.0h12.0l-0.1 3.3h-12.0zM484.7 90.0h12.0l-0.1 3.3h-12.0zM484.6 93.0h12.0l-0.1 3.3h-12.0zM484.5 96.0h12.0l-0.1 3.3h-12.0zM484.4 99.0h12.0l-0.1 3.3h-12.0zM484.3 102.0h12.0l-0.1 3.3h-12.0zM484.2 105.0h12.0l-0.1 3.3h-12.0zM484.1 108.0h12.0l-0.1 3.3h-12.0zM483.8 117.0h12.0l-0.1 3.3h-12.0zM483.6 123.0h12.0l-0.1 3.3h-12.0zM483.5 126.0h12.0l-0.1 3.3h-12.0zM483.3 132.0h12.0l-0.1 3.3h-12.0zM483.2 135.0h12.0l-0.1 3.3h-12.0zM483.1 138.0h12.0l-0.1 3.3h-12.0zM482.9 144.0h12.0l-0.1 3.3h-12.0zM482.5 156.0h12.0l-0.1 3.3h-12.0zM482.4 159.0h12.0l-0.1 3.3h-12.0zM482.0 171.0h12.0l-0.1 3.3h-12.0zM481.9 174.0h12.0l-0.1 3.3h-12.0zM481.8 177.0h12.0l-0.1 3.3h-12.0zM481.5 186.0h12.0l-0.1 3.3h-12.0zM502.0 6.0h11.3l-0.1 3.3h-11.3zM501.7 15.0h11.3l-0.1 3.3h-11.3zM501.6 18.0h11.3l-0.1 3.3h-11.3zM501.5 21.0h11.3l-0.1 3.3h-11.3zM501.4 24.0h11.3l-0.1 3.3h-11.3zM501.2 30.0h11.3l-0.1 3.3h-11.3zM501.1 33.0h11.3l-0.1 3.3h-11.3zM501.0 36.0h11.3l-0.1 3.3h-11.3zM500.9 39.0h11.3l-0.1 3.3h-11.3zM500.8 42.0h11.3l-0.1 3.3h-11.3zM500.6 48.0h11.3l-0.1 3.3h-11.3zM500.4 54.0h11.3l-0.1 3.3h-11.3zM500.0 69.0h11.3l-0.1 3.3h-11.3zM499.9 72.0h11.3l-0.1 3.3h-11.3zM499.7 78.0h11.3l-0.1 3.3h-11.3zM499.6 81.0h11.3l-0.1 3.3h-11.3zM499.4 87.0h11.3l-0.1 3.3h-11.3zM499.3 90.0h11.3l-0.1 3.3h-11.3zM499.0 99.0h11.3l-0.1 3.3h-11.3zM498.9 102.0h11.3l-0.1 3.3h-11.3zM498.6 111.0h11.3l-0.1 3.3h-11.3zM498.3 120.0h11.3l-0.1 3.3h-11.3zM497.9 132.0h11.3l-0.1 3.3h-11.3zM497.5 144.0h11.3l-0.1 3.3h-11.3zM496.6 171.0h11.3l-0.1 3.3h-11.3zM512.9 3.0h12.3l-0.1 3.3h-12.3zM512.8 6.0h12.3l-0.1 3.3h-12.3zM512.5 15.0h12.3l-0.1 3.3h-12.3zM511.2 54.0h12.3l-0.1 3.3h-12.3zM510.9 63.0h12.3l-0.1 3.3h-12.3zM510.7 69.0h12.3l-0.1 3.3h-12.3zM510.5 75.0h12.3l-0.1 3.3h-12.3zM510.2 84.0h12.3l-0.1 3.3h-12.3zM510.1 87.0h12.3l-0.1 3.3h-12.3zM510.0 90.0h12.3l-0.1 3.3h-12.3zM509.6 102.0h12.3l-0.1 3.3h-12.3zM509.5 105.0h12.3l-0.1 3.3h-12.3zM507.9 153.0h12.3l-0.1 3.3h-12.3zM507.3 171.0h12.3l-0.1 3.3h-12.3zM507.2 174.0h12.3l-0.1 3.3h-12.3zM527.7 39.0h13.0l-0.1 3.3h-13.0zM526.3 81.0h13.0l-0.1 3.3h-13.0z" fill="#743e22"/>
<path d="M377.6 105.0h12.7l-0.1 3.3h-12.7zM377.4 111.0h12.7l-0.1 3.3h-12.7zM377.3 114.0h12.7l-0.1 3.3h-12.7zM377.2 117.0h12.7l-0.1 3.3h-12.7zM377.1 120.0h12.7l-0.1 3.3h-12.7zM376.9 126.0h12.7l-0.1 3.3h-12.7zM376.8 129.0h12.7l-0.1 3.3h-12.7zM376.7 132.0h12.7l-0.1 3.3h-12.7zM376.6 135.0h12.7l-0.1 3.3h-12.7zM376.4 141.0h12.7l-0.1 3.3h-12.7zM376.3 144.0h12.7l-0.1 3.3h-12.7zM376.2 147.0h12.7l-0.1 3.3h-12.7zM376.0 153.0h12.7l-0.1 3.3h-12.7zM375.9 156.0h12.7l-0.1 3.3h-12.7zM375.8 159.0h12.7l-0.1 3.3h-12.7zM375.7 162.0h12.7l-0.1 3.3h-12.7zM375.6 165.0h12.7l-0.1 3.3h-12.7zM375.3 174.0h12.7l-0.1 3.3h-12.7zM375.1 180.0h12.7l-0.1 3.3h-12.7zM391.4 102.0h12.9l-0.1 3.3h-12.9zM391.3 105.0h12.9l-0.1 3.3h-12.9zM391.2 108.0h12.9l-0.1 3.3h-12.9zM391.1 111.0h12.9l-0.1 3.3h-12.9zM391.0 114.0h12.9l-0.1 3.3h-12.9zM390.9 117.0h12.9l-0.1 3.3h-12.9zM390.8 120.0h12.9l-0.1 3.3h-12.9zM390.7 123.0h12.9l-0.1 3.3h-12.9zM390.6 126.0h12.9l-0.1 3.3h-12.9zM390.5 129.0h12.9l-0.1 3.3h-12.9zM390.4 132.0h12.9l-0.1 3.3h-12.9zM390.3 135.0h12.9l-0.1 3.3h-12.9zM390.2 138.0h12.9l-0.1 3.3h-12.9zM390.1 141.0h12.9l-0.1 3.3h-12.9zM390.0 144.0h12.9l-0.1 3.3h-12.9zM389.9 147.0h12.9l-0.1 3.3h-12.9zM389.8 150.0h12.9l-0.1 3.3h-12.9zM389.7 153.0h12.9l-0.1 3.3h-12.9zM389.6 156.0h12.9l-0.1 3.3h-12.9zM389.5 159.0h12.9l-0.1 3.3h-12.9zM389.3 165.0h12.9l-0.1 3.3h-12.9zM389.2 168.0h12.9l-0.1 3.3h-12.9zM405.7 48.0h11.0l-0.1 3.3h-11.0zM405.3 60.0h11.0l-0.1 3.3h-11.0zM405.0 69.0h11.0l-0.1 3.3h-11.0zM404.9 72.0h11.0l-0.1 3.3h-11.0zM404.8 75.0h11.0l-0.1 3.3h-11.0zM404.6 81.0h11.0l-0.1 3.3h-11.0zM404.5 84.0h11.0l-0.1 3.3h-11.0zM404.4 87.0h11.0l-0.1 3.3h-11.0zM404.3 90.0h11.0l-0.1 3.3h-11.0zM404.2 93.0h11.0l-0.1 3.3h-11.0zM404.0 99.0h11.0l-0.1 3.3h-11.0zM403.9 102.0h11.0l-0.1 3.3h-11.0zM403.8 105.0h11.0l-0.1 3.3h-11.0zM403.7 108.0h11.0l-0.1 3.3h-11.0zM403.6 111.0h11.0l-0.1 3.3h-11.0zM403.5 114.0h11.0l-0.1 3.3h-11.0zM403.4 117.0h11.0l-0.1 3.3h-11.0zM403.3 120.0h11.0l-0.1 3.3h-11.0zM403.2 123.0h11.0l-0.1 3.3h-11.0zM403.0 129.0h11.0l-0.1 3.3h-11.0zM421.1 3.0h10.9l-0.1 3.3h-10.9zM421.0 6.0h10.9l-0.1 3.3h-10.9zM420.9 9.0h10.9l-0.1 3.3h-10.9zM420.7 15.0h10.9l-0.1 3.3h-10.9zM420.6 18.0h10.9l-0.1 3.3h-10.9zM420.5 21.0h10.9l-0.1 3.3h-10.9zM420.4 24.0h10.9l-0.1 3.3h-10.9zM420.2 30.0h10.9l-0.1 3.3h-10.9zM420.1 33.0h10.9l-0.1 3.3h-10.9zM420.0 36.0h10.9l-0.1 3.3h-10.9zM419.9 39.0h10.9l-0.1 3.3h-10.9zM419.8 42.0h10.9l-0.1 3.3h-10.9zM419.7 45.0h10.9l-0.1 3.3h-10.9zM419.6 48.0h10.9l-0.1 3.3h-10.9zM419.5 51.0h10.9l-0.1 3.3h-10.9zM419.4 54.0h10.9l-0.1 3.3h-10.9zM419.3 57.0h10.9l-0.1 3.3h-10.9zM419.2 60.0h10.9l-0.1 3.3h-10.9zM419.1 63.0h10.9l-0.1 3.3h-10.9zM419.0 66.0h10.9l-0.1 3.3h-10.9zM418.9 69.0h10.9l-0.1 3.3h-10.9zM418.8 72.0h10.9l-0.1 3.3h-10.9zM418.7 75.0h10.9l-0.1 3.3h-10.9zM418.6 78.0h10.9l-0.1 3.3h-10.9zM418.5 81.0h10.9l-0.1 3.3h-10.9zM418.4 84.0h10.9l-0.1 3.3h-10.9zM418.3 87.0h10.9l-0.1 3.3h-10.9zM418.2 90.0h10.9l-0.1 3.3h-10.9zM418.1 93.0h10.9l-0.1 3.3h-10.9zM418.0 96.0h10.9l-0.1 3.3h-10.9zM417.9 99.0h10.9l-0.1 3.3h-10.9zM417.6 108.0h10.9l-0.1 3.3h-10.9zM433.4 3.0h13.4l-0.1 3.3h-13.4zM433.3 6.0h13.4l-0.1 3.3h-13.4zM433.2 9.0h13.4l-0.1 3.3h-13.4zM433.1 12.0h13.4l-0.1 3.3h-13.4zM433.0 15.0h13.4l-0.1 3.3h-13.4zM432.9 18.0h13.4l-0.1 3.3h-13.4zM432.8 21.0h13.4l-0.1 3.3h-13.4zM432.7 24.0h13.4l-0.1 3.3h-13.4zM432.6 27.0h13.4l-0.1 3.3h-13.4zM432.5 30.0h13.4l-0.1 3.3h-13.4zM432.4 33.0h13.4l-0.1 3.3h-13.4zM432.3 36.0h13.4l-0.1 3.3h-13.4zM432.2 39.0h13.4l-0.1 3.3h-13.4zM432.1 42.0h13.4l-0.1 3.3h-13.4zM432.0 45.0h13.4l-0.1 3.3h-13.4zM431.9 48.0h13.4l-0.1 3.3h-13.4zM431.8 51.0h13.4l-0.1 3.3h-13.4zM431.7 54.0h13.4l-0.1 3.3h-13.4zM431.6 57.0h13.4l-0.1 3.3h-13.4zM431.5 60.0h13.4l-0.1 3.3h-13.4zM431.4 63.0h13.4l-0.1 3.3h-13.4zM431.3 66.0h13.4l-0.1 3.3h-13.4zM431.2 69.0h13.4l-0.1 3.3h-13.4zM431.1 72.0h13.4l-0.1 3.3h-13.4zM431.0 75.0h13.4l-0.1 3.3h-13.4zM430.9 78.0h13.4l-0.1 3.3h-13.4zM430.8 81.0h13.4l-0.1 3.3h-13.4zM448.4 3.0h12.5l-0.1 3.3h-12.5zM448.3 6.0h12.5l-0.1 3.3h-12.5zM448.2 9.0h12.5l-0.1 3.3h-12.5zM448.1 12.0h12.5l-0.1 3.3h-12.5zM448.0 15.0h12.5l-0.1 3.3h-12.5zM447.9 18.0h12.5l-0.1 3.3h-12.5zM447.8 21.0h12.5l-0.1 3.3h-12.5zM447.7 24.0h12.5l-0.1 3.3h-12.5zM447.6 27.0h12.5l-0.1 3.3h-12.5zM447.5 30.0h12.5l-0.1 3.3h-12.5zM447.4 33.0h12.5l-0.1 3.3h-12.5zM447.3 36.0h12.5l-0.1 3.3h-12.5zM447.2 39.0h12.5l-0.1 3.3h-12.5zM447.1 42.0h12.5l-0.1 3.3h-12.5zM447.0 45.0h12.5l-0.1 3.3h-12.5zM446.8 51.0h12.5l-0.1 3.3h-12.5zM446.7 54.0h12.5l-0.1 3.3h-12.5zM446.6 57.0h12.5l-0.1 3.3h-12.5zM446.1 72.0h12.5l-0.1 3.3h-12.5zM460.9 3.0h11.8l-0.1 3.3h-11.8zM460.8 6.0h11.8l-0.1 3.3h-11.8zM460.7 9.0h11.8l-0.1 3.3h-11.8zM460.6 12.0h11.8l-0.1 3.3h-11.8zM460.5 15.0h11.8l-0.1 3.3h-11.8zM460.4 18.0h11.8l-0.1 3.3h-11.8zM460.3 21.0h11.8l-0.1 3.3h-11.8zM460.2 24.0h11.8l-0.1 3.3h-11.8zM460.1 27.0h11.8l-0.1 3.3h-11.8zM460.0 30.0h11.8l-0.1 3.3h-11.8zM459.7 39.0h11.8l-0.1 3.3h-11.8zM473.8 3.0h12.7l-0.1 3.3h-12.7zM473.1 24.0h12.7l-0.1 3.3h-12.7z" fill="#4a5a20"/>
<path d="M381.0 3.0h12.7l-0.1 3.3h-12.7zM380.9 6.0h12.7l-0.1 3.3h-12.7zM380.8 9.0h12.7l-0.1 3.3h-12.7zM380.7 12.0h12.7l-0.1 3.3h-12.7zM380.6 15.0h12.7l-0.1 3.3h-12.7zM380.5 18.0h12.7l-0.1 3.3h-12.7zM380.4 21.0h12.7l-0.1 3.3h-12.7zM380.3 24.0h12.7l-0.1 3.3h-12.7zM380.2 27.0h12.7l-0.1 3.3h-12.7zM380.1 30.0h12.7l-0.1 3.3h-12.7zM380.0 33.0h12.7l-0.1 3.3h-12.7zM379.8 39.0h12.7l-0.1 3.3h-12.7zM379.7 42.0h12.7l-0.1 3.3h-12.7zM379.6 45.0h12.7l-0.1 3.3h-12.7zM379.5 48.0h12.7l-0.1 3.3h-12.7zM379.4 51.0h12.7l-0.1 3.3h-12.7zM379.3 54.0h12.7l-0.1 3.3h-12.7zM379.2 57.0h12.7l-0.1 3.3h-12.7zM379.1 60.0h12.7l-0.1 3.3h-12.7zM379.0 63.0h12.7l-0.1 3.3h-12.7zM378.9 66.0h12.7l-0.1 3.3h-12.7zM378.8 69.0h12.7l-0.1 3.3h-12.7zM378.7 72.0h12.7l-0.1 3.3h-12.7zM378.6 75.0h12.7l-0.1 3.3h-12.7zM378.5 78.0h12.7l-0.1 3.3h-12.7zM378.2 87.0h12.7l-0.1 3.3h-12.7zM378.1 90.0h12.7l-0.1 3.3h-12.7zM378.0 93.0h12.7l-0.1 3.3h-12.7zM377.9 96.0h12.7l-0.1 3.3h-12.7zM377.8 99.0h12.7l-0.1 3.3h-12.7zM377.7 102.0h12.7l-0.1 3.3h-12.7zM377.5 108.0h12.7l-0.1 3.3h-12.7zM394.7 3.0h12.9l-0.1 3.3h-12.9zM394.6 6.0h12.9l-0.1 3.3h-12.9zM394.5 9.0h12.9l-0.1 3.3h-12.9zM394.4 12.0h12.9l-0.1 3.3h-12.9zM394.3 15.0h12.9l-0.1 3.3h-12.9zM394.2 18.0h12.9l-0.1 3.3h-12.9zM394.1 21.0h12.9l-0.1 3.3h-12.9zM394.0 24.0h12.9l-0.1 3.3h-12.9zM393.9 27.0h12.9l-0.1 3.3h-12.9zM393.8 30.0h12.9l-0.1 3.3h-12.9zM393.7 33.0h12.9l-0.1 3.3h-12.9zM393.6 36.0h12.9l-0.1 3.3h-12.9zM393.5 39.0h12.9l-0.1 3.3h-12.9zM393.4 42.0h12.9l-0.1 3.3h-12.9zM393.3 45.0h12.9l-0.1 3.3h-12.9zM393.2 48.0h12.9l-0.1 3.3h-12.9zM393.1 51.0h12.9l-0.1 3.3h-12.9zM393.0 54.0h12.9l-0.1 3.3h-12.9zM392.9 57.0h12.9l-0.1 3.3h-12.9zM392.8 60.0h12.9l-0.1 3.3h-12.9zM392.7 63.0h12.9l-0.1 3.3h-12.9zM392.6 66.0h12.9l-0.1 3.3h-12.9zM392.5 69.0h12.9l-0.1 3.3h-12.9zM392.4 72.0h12.9l-0.1 3.3h-12.9zM392.3 75.0h12.9l-0.1 3.3h-12.9zM392.2 78.0h12.9l-0.1 3.3h-12.9zM392.1 81.0h12.9l-0.1 3.3h-12.9zM392.0 84.0h12.9l-0.1 3.3h-12.9zM391.9 87.0h12.9l-0.1 3.3h-12.9zM391.8 90.0h12.9l-0.1 3.3h-12.9zM391.7 93.0h12.9l-0.1 3.3h-12.9zM391.6 96.0h12.9l-0.1 3.3h-12.9zM391.5 99.0h12.9l-0.1 3.3h-12.9zM407.1 3.0h11.0l-0.1 3.3h-11.0zM407.0 6.0h11.0l-0.1 3.3h-11.0zM407.0 9.0h11.0l-0.1 3.3h-11.0zM406.9 12.0h11.0l-0.1 3.3h-11.0zM406.8 15.0h11.0l-0.1 3.3h-11.0zM406.7 18.0h11.0l-0.1 3.3h-11.0zM406.6 21.0h11.0l-0.1 3.3h-11.0zM406.5 24.0h11.0l-0.1 3.3h-11.0zM406.4 27.0h11.0l-0.1 3.3h-11.0zM406.3 30.0h11.0l-0.1 3.3h-11.0zM406.2 33.0h11.0l-0.1 3.3h-11.0zM406.1 36.0h11.0l-0.1 3.3h-11.0zM406.0 39.0h11.0l-0.1 3.3h-11.0zM405.9 42.0h11.0l-0.1 3.3h-11.0zM405.8 45.0h11.0l-0.1 3.3h-11.0zM405.6 51.0h11.0l-0.1 3.3h-11.0zM405.5 54.0h11.0l-0.1 3.3h-11.0zM405.4 57.0h11.0l-0.1 3.3h-11.0zM405.2 63.0h11.0l-0.1 3.3h-11.0zM405.1 66.0h11.0l-0.1 3.3h-11.0zM404.7 78.0h11.0l-0.1 3.3h-11.0zM404.1 96.0h11.0l-0.1 3.3h-11.0zM420.8 12.0h10.9l-0.1 3.3h-10.9zM420.3 27.0h10.9l-0.1 3.3h-10.9z" fill="#8a8090"/>
<path d="M467.5 192.0h12.7l-0.1 3.3h-12.7zM496.4 177.0h11.3l-0.1 3.3h-11.3zM496.2 183.0h11.3l-0.1 3.3h-11.3zM496.1 186.0h11.3l-0.1 3.3h-11.3zM496.0 189.0h11.3l-0.1 3.3h-11.3zM495.9 192.0h11.3l-0.1 3.3h-11.3zM495.8 195.0h11.3l-0.1 3.3h-11.3zM507.0 180.0h12.3l-0.1 3.3h-12.3zM506.9 183.0h12.3l-0.1 3.3h-12.3zM506.8 186.0h12.3l-0.1 3.3h-12.3zM506.7 189.0h12.3l-0.1 3.3h-12.3zM506.6 192.0h12.3l-0.1 3.3h-12.3zM506.5 195.0h12.3l-0.1 3.3h-12.3zM523.4 168.0h13.0l-0.1 3.3h-13.0zM523.1 177.0h13.0l-0.1 3.3h-13.0zM523.0 180.0h13.0l-0.1 3.3h-13.0zM522.9 183.0h13.0l-0.1 3.3h-13.0zM522.8 186.0h13.0l-0.1 3.3h-13.0zM522.7 189.0h13.0l-0.1 3.3h-13.0zM522.6 192.0h13.0l-0.1 3.3h-13.0zM522.5 195.0h13.0l-0.1 3.3h-13.0zM537.3 162.0h11.6l-0.1 3.3h-11.6zM537.2 165.0h11.6l-0.1 3.3h-11.6zM537.1 168.0h11.6l-0.1 3.3h-11.6zM537.0 171.0h11.6l-0.1 3.3h-11.6zM536.9 174.0h11.6l-0.1 3.3h-11.6zM536.8 177.0h11.6l-0.1 3.3h-11.6zM536.7 180.0h11.6l-0.1 3.3h-11.6zM536.6 183.0h11.6l-0.1 3.3h-11.6zM536.5 186.0h11.6l-0.1 3.3h-11.6zM536.4 189.0h11.6l-0.1 3.3h-11.6zM536.3 192.0h11.6l-0.1 3.3h-11.6zM536.2 195.0h11.6l-0.1 3.3h-11.6zM548.6 165.0h11.7l-0.1 3.3h-11.7zM548.5 168.0h11.7l-0.1 3.3h-11.7zM548.4 171.0h11.7l-0.1 3.3h-11.7zM548.3 174.0h11.7l-0.1 3.3h-11.7zM548.2 177.0h11.7l-0.1 3.3h-11.7zM548.1 180.0h11.7l-0.1 3.3h-11.7zM548.0 183.0h11.7l-0.1 3.3h-11.7zM547.9 186.0h11.7l-0.1 3.3h-11.7zM547.9 189.0h11.7l-0.1 3.3h-11.7zM547.8 192.0h11.7l-0.1 3.3h-11.7zM547.7 195.0h11.7l-0.1 3.3h-11.7zM561.9 162.0h12.0l-0.1 3.3h-12.0zM561.8 165.0h12.0l-0.1 3.3h-12.0zM561.7 168.0h12.0l-0.1 3.3h-12.0zM561.6 171.0h12.0l-0.1 3.3h-12.0zM561.5 174.0h12.0l-0.1 3.3h-12.0zM561.4 177.0h12.0l-0.1 3.3h-12.0zM561.3 180.0h12.0l-0.1 3.3h-12.0zM561.2 183.0h12.0l-0.1 3.3h-12.0zM561.1 186.0h12.0l-0.1 3.3h-12.0zM561.0 189.0h12.0l-0.1 3.3h-12.0zM560.9 192.0h12.0l-0.1 3.3h-12.0zM560.8 195.0h12.0l-0.1 3.3h-12.0zM576.6 156.0h10.6l-0.1 3.3h-10.6zM576.5 159.0h10.6l-0.1 3.3h-10.6zM576.4 162.0h10.6l-0.1 3.3h-10.6zM576.3 165.0h10.6l-0.1 3.3h-10.6zM576.2 168.0h10.6l-0.1 3.3h-10.6zM576.1 171.0h10.6l-0.1 3.3h-10.6zM576.0 174.0h10.6l-0.1 3.3h-10.6zM575.9 177.0h10.6l-0.1 3.3h-10.6zM575.8 180.0h10.6l-0.1 3.3h-10.6zM575.7 183.0h10.6l-0.1 3.3h-10.6zM575.6 186.0h10.6l-0.1 3.3h-10.6zM575.5 189.0h10.6l-0.1 3.3h-10.6zM575.4 192.0h10.6l-0.1 3.3h-10.6zM575.3 195.0h10.6l-0.1 3.3h-10.6zM590.6 156.0h11.3l-0.1 3.3h-11.3zM590.5 159.0h11.3l-0.1 3.3h-11.3zM590.4 162.0h11.3l-0.1 3.3h-11.3zM590.3 165.0h11.3l-0.1 3.3h-11.3zM590.2 168.0h11.3l-0.1 3.3h-11.3zM590.1 171.0h11.3l-0.1 3.3h-11.3zM590.0 174.0h11.3l-0.1 3.3h-11.3zM589.9 177.0h11.3l-0.1 3.3h-11.3zM589.8 180.0h11.3l-0.1 3.3h-11.3zM589.7 183.0h11.3l-0.1 3.3h-11.3zM589.6 186.0h11.3l-0.1 3.3h-11.3zM589.5 189.0h11.3l-0.1 3.3h-11.3zM589.4 192.0h11.3l-0.1 3.3h-11.3zM589.3 195.0h11.3l-0.1 3.3h-11.3zM602.4 153.0h11.8l-0.1 3.3h-11.8zM602.3 156.0h11.8l-0.1 3.3h-11.8zM602.2 159.0h11.8l-0.1 3.3h-11.8zM602.1 162.0h11.8l-0.1 3.3h-11.8zM602.0 165.0h11.8l-0.1 3.3h-11.8zM601.9 168.0h11.8l-0.1 3.3h-11.8zM601.8 171.0h11.8l-0.1 3.3h-11.8zM601.7 174.0h11.8l-0.1 3.3h-11.8zM601.6 177.0h11.8l-0.1 3.3h-11.8zM601.5 180.0h11.8l-0.1 3.3h-11.8zM601.4 183.0h11.8l-0.1 3.3h-11.8zM601.3 186.0h11.8l-0.1 3.3h-11.8zM601.2 189.0h11.8l-0.1 3.3h-11.8zM601.1 192.0h11.8l-0.1 3.3h-11.8zM601.0 195.0h11.8l-0.1 3.3h-11.8zM616.3 138.0h12.6l-0.1 3.3h-12.6zM616.0 147.0h12.6l-0.1 3.3h-12.6zM615.9 150.0h12.6l-0.1 3.3h-12.6zM615.8 153.0h12.6l-0.1 3.3h-12.6zM615.7 156.0h12.6l-0.1 3.3h-12.6zM615.6 159.0h12.6l-0.1 3.3h-12.6zM615.5 162.0h12.6l-0.1 3.3h-12.6zM615.4 165.0h12.6l-0.1 3.3h-12.6zM615.3 168.0h12.6l-0.1 3.3h-12.6zM615.2 171.0h12.6l-0.1 3.3h-12.6zM615.1 174.0h12.6l-0.1 3.3h-12.6zM615.0 177.0h12.6l-0.1 3.3h-12.6zM614.9 180.0h12.6l-0.1 3.3h-12.6zM614.8 183.0h12.6l-0.1 3.3h-12.6zM614.7 186.0h12.6l-0.1 3.3h-12.6zM614.6 189.0h12.6l-0.1 3.3h-12.6zM614.5 192.0h12.6l-0.1 3.3h-12.6zM614.4 195.0h12.6l-0.1 3.3h-12.6zM629.5 144.0h12.1l-0.1 3.3h-12.1zM629.4 147.0h12.1l-0.1 3.3h-12.1zM629.3 150.0h12.1l-0.1 3.3h-12.1zM629.2 153.0h12.1l-0.1 3.3h-12.1zM629.1 156.0h12.1l-0.1 3.3h-12.1zM629.0 159.0h12.1l-0.1 3.3h-12.1zM628.9 162.0h12.1l-0.1 3.3h-12.1zM628.8 165.0h12.1l-0.1 3.3h-12.1zM628.7 168.0h12.1l-0.1 3.3h-12.1zM628.6 171.0h12.1l-0.1 3.3h-12.1zM628.5 174.0h12.1l-0.1 3.3h-12.1zM628.4 177.0h12.1l-0.1 3.3h-12.1zM628.3 180.0h12.1l-0.1 3.3h-12.1zM628.2 183.0h12.1l-0.1 3.3h-12.1zM628.2 186.0h12.1l-0.1 3.3h-12.1zM628.1 189.0h12.1l-0.1 3.3h-12.1zM628.0 192.0h12.1l-0.1 3.3h-12.1zM642.2 144.0h12.9l-0.1 3.3h-12.9zM642.0 150.0h12.9l-0.1 3.3h-12.9zM641.8 156.0h12.9l-0.1 3.3h-12.9zM641.7 159.0h12.9l-0.1 3.3h-12.9zM641.6 162.0h12.9l-0.1 3.3h-12.9zM641.5 165.0h12.9l-0.1 3.3h-12.9zM641.4 168.0h12.9l-0.1 3.3h-12.9zM641.3 171.0h12.9l-0.1 3.3h-12.9zM641.2 174.0h12.9l-0.1 3.3h-12.9zM641.1 177.0h12.9l-0.1 3.3h-12.9zM641.0 180.0h12.9l-0.1 3.3h-12.9zM640.9 183.0h12.9l-0.1 3.3h-12.9zM640.8 186.0h12.9l-0.1 3.3h-12.9z" fill="#0a6040"/>
<path d="M383.3 -7.6l9.5-16.5M408.1 -6.9l6.5-10.5M405.3 137.8l7.9-15.1M403.5 160.3l7.5-13.4M405.3 161.7l6.9-12M402 162.7l10.4-15.2M403.8 190l6.9-11.2M403 191.4l5.8-9.6M419.8 129.1l8.4-11.7M419.6 130.2l5.3-7.5M417.7 137.8l8-12.6M418.8 138.8l4.8-6.6M435.3 4.6l12.3-18.1M435.8 5.9l9.5-14.5M430.1 114.2l8.6-16.4M432.7 142.2l8.6-15.1M430.8 156.3l7.8-14.6M428.4 162.6l9.6-19.2M431.2 183.1l9.2-16.4M431.4 197.2l5.9-8.6M449.6 4.2l10.7-17.8M448.5 5.5l9.2-17.5M451 81.3l4.9-7.8M448.1 91.6l8.9-13M448.4 97.8l4.3-6.1M443.9 189.3l10.1-19.8M442.4 191.4l9-15.1M443.2 198.8l9.5-13.5M464 -1.3l5.2-9M461.6 6.8l7.3-10.2M462.2 72.4l5.2-10.2M460.5 73.4l7.8-14.6M459.8 96.8l7-12M459.2 123.5l9-12.4M475.7 39l9.4-15.6M475.5 64.9l7-10.6M472.2 71.5l7.5-11.4M473.9 84.8l7.1-11.9M475.4 87.2l5.5-8.8M470.4 111.3l8.7-12.5M473.1 113.2l8.5-15.3M471.3 148.2l7.2-13.5M472.8 155.7l4.7-7.5M469.8 160.7l11.7-21.5M472.8 173.2l6.7-12.7M467.7 181.8l8.8-13.8M468 195.3l10.5-15.5M487.7 20l8.6-12.7M486.2 88.3l7.2-12.7M487.1 116.9l8.3-14.1M486.8 139.9l7.2-12.7M482.8 179.3l7.9-12M486.6 185.5l4-5.7M501.8 43.9l7.3-13M502.7 79.1l6-9.9M500 187.4l6.8-9.9M515.3 21.6l8.6-12.7M511 48l9.1-16.1M514 54.6l5.3-9.4M539 129.2l9.4-15.3" stroke="#d0905c" stroke-width="0.9" stroke-linecap="round" fill="none"/>
<path d="M383.9 -6.3l8.6-15.4M376.4 188.2l7.8-15.8M375.8 192.4l10.8-17.8M399.5 -5.4l4.6-7.1M394.8 10.5l7.9-12.1M390.2 168.1l10.8-15.1M406.5 136.7l4-6M403.3 149l9.6-18.8M401.7 167l8.9-13.9M404.8 178.5l5.2-9.4M422.3 .9l6.3-10.1M419.1 117.4l8.8-12.9M419.1 118.9l8.8-13.4M417.6 135.1l7.7-14.7M419.2 136.2l7.7-12.8M415 156.3l9.2-14.8M416.8 164.1l7-11.7M420.4 181l3.1-4.3M420.1 190.1l3.9-6M416.4 193l6.9-12.8M418.2 194.3l6.5-10.1M439 -4.2l7.7-14.2M433.9 96.9l8.2-11.5M431.5 102.4l10.1-17.4M433.2 112.4l5.8-9.6M430.3 194.8l9.9-15.2M431.4 196.1l8.4-14.8M431.8 199l4-6M447.7 121.5l8.3-11.8M443.6 167.8l11.1-22.1M443.6 196.4l7.4-12.3M463.7 74.6l6.9-13.1M463.7 79.3l5.8-11.1M458.1 133.6l6.1-10.4M460.1 136.2l7.6-13.4M458.6 150.9l6.7-10.8M457.4 169.9l9.1-15M474.8 32.8l7.1-11.1M475.1 74l6.8-12.4M473.4 104.1l6.9-13.7M473.2 126.5l6-11.6M470.8 131.4l10.5-21.6M471.2 136.1l9.4-13.1M470.6 190.4l7.7-15.1M491.5 35.6l7.1-10.1M487.1 62.1l5.7-9M486.6 126.1l6.8-10.4M483.4 154.4l7.6-10.8M504.6 2.5l5.5-8.2M505.5 4.9l5.2-10.7M501.7 40.6l9.8-16M513.8 9l9.9-19.3M516.6 36.4l5.4-7.9M508.5 182.2l9.1-17.2M529.6 57.8l6.5-12.9" stroke="#985c3c" stroke-width="0.7" stroke-linecap="round" fill="none"/>
<path d="M381.9 -5.3l8.8-16.6M380.1 44.2l8.2-11.6M410.8 -1.3l3.7-5.2M406.4 156.7l4.8-6.6M403.7 180.7l5.7-8M423 -4.2l8.1-11.8M420.6 112.3l6.3-10.9M420.3 127l6.4-10.6M419.1 158.6l6.3-11.1M415.6 167.5l8.4-11.7M417.5 169.3l8.9-16.3M437.6 -2.8l6.5-9.8M428.9 115.4l10.6-18.3M433 127.6l8.6-16.2M434.9 137.4l5.1-7.4M432.8 152.2l5.1-9.1M430.6 169.4l9.7-13.9M447.3 92.9l8.5-16.2M447 136.4l6.8-11.4M445.1 141.7l10.3-18M446.6 177.6l5.8-11.3M443.6 180.8l11.8-21.5M461.4 .9l10.9-16.4M462.6 60.4l5.1-10.4M459.6 65.3l10.8-15M460.2 100.6l8.1-11.4M458 116.2l9.6-16.6M456.5 144.2l7.6-13.5M457.6 191.7l5.2-7.3M478.9 -7.6l5.5-11.3M474.3 52.7l6.9-12.5M476 55.6l6.1-11.9M472.9 94.5l8.3-16.7M472.3 95.7l8.2-12M471 143l9.9-19.2M471.3 169.7l8.5-16.4M471.8 200.6l5.5-8.6M490.1 23.7l7.9-12.3M486.6 66.1l6.2-9.8M488.4 107.7l4.6-7.5M484.9 146.5l6.9-10.2M505.5 -2.1l7.4-12M502.9 17.9l8.5-14.5M504.6 71l3.7-5.1M503.3 73.6l6.7-11M498.4 198.6l5.8-10.1M515 88.1l7.4-13.4" stroke="#80482e" stroke-width="0.7" stroke-linecap="round" fill="none"/>
<path d="M383.4 -4.1l9.9-15.7M383.3 2.9l7.1-12.8M398.7 -7.8l5.5-7.7M399.6 -.9l7.3-13.6M395.9 8.4l8.8-16.7M393.4 161.7l5.8-10.4M392.1 178.5l6.8-12.3M392.2 188.6l4.4-6.8M392.3 189.7l4.2-7M390 197.1l6.9-12.6M408.4 -7.9l7.4-14.1M406.6 150.1l6.1-11.9M406.1 151.5l4.6-6.6M421.1 3.1l8.6-17.2M418.2 125.5l7.8-11.7M420.4 128.1l5.1-7M420.3 179.7l6.6-9.4M418.9 198.9l6.2-11.2M436 2l7-9.7M431.5 126.4l7-12.9M434.1 140.1l5.5-9M429.4 147.3l11.6-16.7M431.8 193.6l7.9-11.3M446.7 87.4l9-12.7M447.6 103.5l5-10M448 176.4l5.2-8.1M459.8 67.7l7.3-14M461.8 94.6l5.9-8.9M460 101.9l5.2-9.9M460.2 168.8l4.2-6M459.3 176.3l4.7-6.6M456.2 183.9l9.3-16.5M454.7 186.4l7.1-13.9M457.1 200.9l7.8-13.5M477.5 6.7l4.3-7M474.3 33.9l7.3-14.6M475.4 63.3l6.7-10.1M473.1 171l7.6-15M488.7 16.1l7.6-11.1M488.1 24.9l8.2-16.1M487.5 30.8l11.1-19.1M489.5 42.9l5.6-8M501.9 61.3l9.6-19.1M501 163l5.3-7.6M516.5 29.6l5.6-7.9M527.4 48.3l8.5-15.9" stroke="#62361e" stroke-width="0.7" stroke-linecap="round" fill="none"/>
<path d="M385.6 -2.7l6.3-10.7M380 72.8l10-15.4M381.6 121.1l6.8-12.2M375.9 191.4l8.9-16.8M388.5 198.2l11.4-22.7M405.7 141.6l6-12.1M405.3 143.7l8.4-12.6M407 144.5l5.2-9M404.7 200.4l5.2-8.8M417.5 173l7.3-14.5M416.1 196.3l8.4-15.6M429.6 119.1l11.2-16.2M429.1 166.5l10.5-15.8M432 180.1l6.7-10.5M428.6 200.6l10.6-15.8M449.7 .3l9.2-14.5M445 94.2l11.7-18.9M449.1 110.3l7.5-14.1M446.8 119.2l8.6-15.3M447.2 120.4l10.1-19.5M445.9 127.3l11.6-17.8M446.6 146.4l8.2-14.3M446.1 152l5.6-8.3M445.4 153.2l7.5-12.2M447.3 170.2l8.4-11.9M464.4 -4l8.6-13.5M461.3 52.2l6.8-11.1M461.6 86l7.4-11.9M458.6 93.6l9.6-18.6M461.7 108.7l6-9.2M457.3 109.6l8.9-16.4M462 125.7l6.5-9.3M458.2 142.2l7-14M458.2 167.3l7.5-14.5M477.7 5.7l4.1-7M474.1 62.2l6.3-10.9M472.7 90.7l9.1-15.1M470.6 110.1l9.9-14.2M472.5 123.1l8.7-15.9M473.7 144.6l7.1-10.2M473.1 158.3l8.6-17.3M471.2 162l9.8-16M470.8 164.3l8.6-13M472.5 176.9l4.2-6.1M491.9 21.2l3.3-6.1M488.5 29.6l7.2-11.5M490 34.3l5.5-8.5M486 99.2l8.9-17.6M486.7 106.6l8.4-12M485.8 115.4l7.8-15.2M486.9 134.7l5.3-7.6M482.4 181.7l9.7-16.5M483.2 195.9l8.7-16.7M499.5 112.5l6.1-10.2M513.8 18.2l10.6-17.6M514.2 51.8l5.1-7.4M513.7 120.3l4.4-8.5M509.3 154.4l8.3-13.3M569.5 40.9l6.4-10.1" stroke="#62361e" stroke-width="0.9" stroke-linecap="round" fill="none"/>
<path d="M386 -1.2l4.3-8.3M382.3 15l7.7-13.6M384.8 37.1l6.5-13.2M395.7 23.6l10.3-18M395.1 27.1l7.5-11.2M397.4 28.6l7.6-11.8M399.2 34.1l7.1-10.2M408.7 31.3l7-10.1M409 42.5l6.6-12.9M408.9 49.6l5.7-8.6" stroke="#c0b0c8" stroke-width="1.1" stroke-linecap="round" fill="none"/>
<path d="M383.6 0l9.9-14.3M379.3 67.8l7.5-14.4M379.1 160.7l8.9-14.3M376.3 185.7l7.3-10.8M392.1 186.2l6.2-12.5M388.4 192.5l11-18.9M408.2 3.3l6-12.1M402.2 175l7.7-13.3M401.2 183.2l9.2-16.6M423.3 -1.6l5.9-11.3M421.9 124.3l4.6-7.9M431.7 94.2l10.5-16.6M433.1 122.7l8-11.9M434.1 149.9l5.2-8.2M428.3 198.2l11.6-17.2M447.2 82.8l10.8-16.6M446.8 114l10-15.9M449.4 131.1l4.6-7.3M449.3 132.9l6.3-11.1M446.3 165.3l4.9-6.9M446.8 175.2l5-9.9M446.7 183l8.8-13M443.2 184.3l11.7-23.6M442.4 200.1l9-12.5M464.2 39.5l7.1-12.8M460.2 64l10.2-17.9M461.7 88.5l6.5-11.4M457.7 132.5l6.9-10.2M457.6 140l8.4-12.1M455.8 179.7l9-16.3M476.9 -3.2l7.1-11.1M475.7 36.7l7.5-11M474.2 100.3l5.9-10.3M469.7 153.1l10.5-18.2M471.5 180.5l4.9-7M489.9 41.8l6.3-12.6M486.4 49.3l8-11M487.5 57l8.7-17M486.9 103.9l5.9-9.7M483.6 141l10.4-14.9M503.7 11.6l9.3-15.1M504.1 27.9l7.3-10.6M502.6 43l5.4-7.6M500 145.5l8.3-13.9M499.3 174.3l7.7-12.5M500.4 180.8l4.6-9.3M514.4 7.8l10.3-19.2M514.8 28.5l6.8-13.2M513.3 82.9l5.4-7.9M529.9 121.6l7.8-12.8" stroke="#d0905c" stroke-width="1.1" stroke-linecap="round" fill="none"/>
<path d="M381.3 1.3l8.5-13.9M375.9 172.1l8.6-14.9M396.7 2.7l6.5-12.8M391.9 185l5.8-10M408.8 0l7.4-14.4M403.1 168.3l7.4-14.7M404.5 177.4l4.9-9.7M401.7 184.4l8.5-12.8M422.2 -7.8l9.9-16.8M418.3 148.1l7.4-11.6M419.5 184.9l5.4-10.2M433.3 111l8-11.3M431.1 128.9l8.4-12M433.7 129.9l4.4-7.3M434.4 134.9l5.2-7.9M430.9 136.1l12-17.3M431.6 170.5l4.8-7.9M430.3 192.5l7.7-12.3M449.2 1.5l9-17.1M446.9 139.5l8.2-14.3M446 140.6l7.2-12.9M443.9 143.2l9.2-15.4M443.1 150.5l11.1-21.4M445.2 192.8l7-10.9M463.2 8l4.7-6.9M461.5 46.1l6.8-13.1M462.7 54.7l7-12M460.6 57l5.5-9M459.2 62.8l10.9-18.6M459.6 95.7l8.1-16.1M460.7 115l8.7-15.9M456.6 139.1l9.9-16.6M458.1 153.4l8-11.9M474.1 -2.3l10.4-20.6M473.3 45.3l10.6-17.7M473.1 49l7.4-12.5M472.4 141.6l8.8-15.1M470 147l10.1-15.1M469.1 168.3l9.7-14.2M489.2 -4.1l7.5-13.2M491.8 33l4.9-8.7M489.6 44l7.4-12.1M488.4 110l4.3-7.7M500.8 37.1l11.2-18.1M501.2 65.1l9.3-15.7M501.1 66.1l6.5-12.8M498.3 120.7l7.9-13M530.3 19.1l7.7-10.9" stroke="#c08050" stroke-width="0.9" stroke-linecap="round" fill="none"/>
<path d="M383.1 3.8l9.5-19.2M379.4 159l6.5-10.5M376.8 174.8l11.3-18.1M389.5 182.1l11.2-18.9M391.6 195.9l5.9-8.8M408.6 -2.2l7.2-11.1M406.9 135.3l3.7-6.2M403.5 158.1l6.5-9.1M403.3 170.7l7.2-14.4M422.6 11.8l5.3-8M420.7 120.9l6.9-13.9M422.1 122.3l5.1-8M416.4 139.9l9.4-17.2M418.1 141.2l6.5-12.7M419.3 165.1l6.8-12.4M416.4 183.7l9.8-16.7M432.9 131.3l6.8-13.6M430.5 138.6l9.9-18.2M427.8 173l8.8-15.9M451.8 -4l7.2-10.5M449 74l9.3-13.7M448.1 95.5l4.9-7.6M449.2 128.8l4.2-8.5M443.4 168.9l8.8-14.2M465.4 -5l7.4-10.5M462.2 91l4.2-6.3M456.2 174.7l7.9-11.1M459 199.5l6.7-11.2M477.6 7.8l5.7-10.9M476 35.2l9.3-15.1M473.8 40.3l11.3-16.4M472.9 47.7l7.7-13.5M475.9 54.2l7.5-15M473.2 81l9.5-18.2M476.5 88.3l7.5-10.4M473.5 89.6l7.5-13.7M469.8 130.5l8.6-12M472.7 145.7l6.5-10.8M468.9 197.8l9.8-13.7M491.7 -7.7l5.6-10.7M488.4 7.9l7.3-12M490.9 38.4l7-13.8M487.3 70.5l7.3-13.2M488.4 76.3l5.2-8.9M487.8 83.7l7.1-12.4M485.3 108.8l8.8-17.2M487.2 123.4l6.6-9.7M485 135.7l9.5-13.6M484.6 145.6l9.1-13.5M484 148.7l9.2-16.7M485.6 150.3l8-12.2M484.4 151.6l7.9-15.3M484.7 173.8l9.3-17.9M482.7 194.5l7.9-11.3M502.8 -4l11.1-20.2M504.4 24.3l5-10.1M504.8 33l4.3-7.8M502.8 81.4l6.2-9.8M500.3 141.9l5.2-7.2M514.3 10.4l10.7-15.7M527.4 117.6l6.6-13M556.8 1.4l4.3-6.3" stroke="#80482e" stroke-width="1.1" stroke-linecap="round" fill="none"/>
<path d="M381.1 5.3l9-14.3M375.8 156.8l10.6-15.5M376.4 184.3l9-15.6M375 189.3l10.3-20.2M378.3 193.3l5.5-8M377.6 197.9l8.8-16.9M396.6 -4.1l8.8-12.2M395.2 -2l12-16.6M390.9 150.9l11.5-20.3M410.3 2.3l5.2-10.1M403.1 155.2l7.7-15.9M405.4 165.4l6.9-9.9M402.3 171.9l8.4-12M401.3 192.7l9.2-17.2M424.7 -6.8l7.3-10.9M416.6 143.1l6.5-10.2M417.7 151l5.3-9.2M416.1 155.2l6.3-10.1M418.9 187.6l6.3-11.8M416.9 191.5l9.9-17.2M438.1 7.3l8.9-16.3M431.3 157.6l6-8.6M449.2 71l7.2-13.4M450.1 78.9l4.9-9.4M445.8 100.1l7.9-14.4M445.3 108.6l7.4-10.7M444.9 111.6l10.5-20.9M442.2 193.9l10.8-20.8M461.1 -.1l9.6-14.5M465.3 27.9l7.1-12.5M458.6 59.4l10.4-15.4M462 124.7l7.4-11.4M457.7 147l8.6-13.2M458 160l6.7-12.1M458.3 171.1l6-11.8M474 51.3l6.6-12.9M472.3 77.3l10-15.4M473.9 99.1l8.2-13.8M470.8 108.9l11.5-16.9M469.7 151.7l10.1-17.4M487.7 22.6l9.6-19.4M488.8 75.2l3.6-6.4M488.9 78.1l3.6-6.3M486.1 119.4l7.2-11M484.8 128.9l8.6-14.2M486.5 159l5.9-8.4M504.6 19.1l5.6-10.7M501.6 41.7l7.4-12.8M504.7 60l4.1-7.5M502.1 67.3l5.6-10.8M499.5 106.7l9.4-16.3M501.2 121.7l7.3-10.5M512.1 70.2l9.9-14.1M513.8 77.2l4.9-8.9M512.5 79.5l7.3-10.9M510.8 86.7l10.3-14.6" stroke="#985c3c" stroke-width="0.9" stroke-linecap="round" fill="none"/>
<path d="M385.3 6.2l7.9-12.7M381.2 10.9l10.1-16.1M382.2 23.5l8.3-15.4M380.2 25.8l11.8-16.9M382.3 32.4l9.8-14M384 38.6l6.6-11.6M379.8 51.4l10.2-20.5M379.8 63l7.7-12.7M380.1 75.2l10.7-14.9M394.5 13.1l7.8-14.4M395.1 15.4l9.5-15.5M397.2 19.3l5.2-8.3M394.5 33l11.5-20.2M396.8 37.8l9-16.1M393.6 75.4l9.6-18.5M408.7 38.7l7.1-14.1M408.2 69.7l6.9-11.9M405.1 85.5l8.1-15.2" stroke="#d8c8dc" stroke-width="0.9" stroke-linecap="round" fill="none"/>
<path d="M381.1 7.5l10.8-20.3M383.5 25.1l6.6-10.1M381.3 42.7l8.5-13.2M380.5 92.4l8-11.1M379 109.7l9.1-12.8M398.7 4l4.1-5.7M394.7 21.7l9.7-14.3M392.9 92.8l11.2-17.9M393.4 95.4l12-21.9M407.5 30.5l9.9-19.8" stroke="#fcf8fc" stroke-width="0.7" stroke-linecap="round" fill="none"/>
<path d="M384 8.6l6.5-9.6M384.2 22.3l8.2-11.8M381.3 96.9l6.8-11.8M398 7.3l6.3-11.6M394.5 24.7l8.1-12.9M397.4 45l7.6-10.6M395.1 50.8l7.6-11.8M395.6 52l6.8-12.1M396.4 63.9l5.5-11.3M396.7 78.2l4.5-7.4M393.3 90.4l8.1-13.6M395.2 91.6l8.7-12" stroke="#d8c8dc" stroke-width="1.1" stroke-linecap="round" fill="none"/>
<path d="M383 9.9l7.7-15.6M377.1 196.6l8.1-11.8M377.1 200.8l8.7-13M394.6 .1l11.8-22.5M389.6 200.7l10.9-16M407.8 -4.4l8.7-13.3M423.6 1.8l4.5-6.3M422.5 4.7l6.7-12.4M416.3 142.3l7.8-13.9M418.2 186l5.6-9.6M417.3 187l8.9-14.9M435 -.2l11.7-20.4M438.3 12.5l5-7.4M433.3 86.5l8.1-14.6M432 100.9l11.3-15.9M430 116.9l8.6-12.3M427.2 161.4l9.8-13.9M432.6 189.5l7-9.8M451.9 -5.1l6.8-10.2M447.4 102.6l9.2-16.2M446.1 123.5l8-11.9M445.4 131.9l11.4-18.4M443 147.7l10-16.6M446.1 157.9l5.4-8.8M446.1 159.4l7.8-11.3M445.4 160.4l5.9-11.1M444 162.8l7-10.1M444.5 190.3l9.4-16.4M442.1 197.8l11-16.3M460.6 70.2l7.7-10.9M463 71.4l7-11.7M462.8 82l4.6-9.2M458.8 92.5l10.3-15.6M460.7 131.2l7.2-12.6M457.4 148.3l7.6-15.5M456.9 155.6l9-16.7M476.2 2.6l6-9.7M475.4 24.3l7-10.5M475.2 44.3l7.1-14.4M471.5 93.4l9-14.3M470.2 125.5l11.4-16.2M470.9 134.9l9-18.3M469.2 159.4l11.5-20.6M468.5 178.9l9.2-13.2M467.4 184.5l8.4-14.1M467.9 193.8l10.7-19.3M488 1l9.6-15M488.5 27.2l7.1-10M490.4 36.9l4.5-8.6M485.6 82.3l9.4-13M488.1 87.4l5.3-9M485.6 94.2l9.2-13.1M486.5 102.5l6.5-11.4M487.9 111.8l8.2-13M483.6 127.2l8.7-14.9M485.9 133.6l4.8-7.5M485.7 138.4l6.5-10.7M484.1 142.1l7.6-13.3M485.8 166.9l6.8-13.2M504.4 -.8l6.6-11.3M501 77.7l9.7-14.8M512.1 63l9.6-15.4M529.8 23l7.8-13M530 23.9l11.6-19.5" stroke="#ac6c46" stroke-width="1.1" stroke-linecap="round" fill="none"/>
<path d="M382.9 12.4l9.6-19M381.1 103l7.4-12M395.4 73.3l5.7-9.7M393.7 99.8l11.5-16.7M407.8 9.1l7.7-13M409.2 26.8l6.2-12.3M406.5 33.7l8.3-12.5M408.5 47.3l5.6-11.4" stroke="#e8dcec" stroke-width="1.1" stroke-linecap="round" fill="none"/>
<path d="M382.2 13.5l6.4-12.1M384.9 35.7l5.8-9.5M383.8 53.5l4.2-6.4M379.2 71.4l8.9-17.2M380.5 95.8l8.7-15.2M380.7 113.9l6.4-12.8M396.7 25.8l8.4-12.2M395.3 44.3l8.9-13.4M394.4 53.7l9-13M396.1 63.1l5.1-7.5M396.5 98.7l6.6-10M394.4 104l8.7-16.9M409.4 34.7l5.3-7.9M410.4 41.3l3.3-4.6M406.4 48.4l9.5-16.7" stroke="#9a90a0" stroke-width="0.9" stroke-linecap="round" fill="none"/>
<path d="M382.1 16.9l9.6-13.4M381.6 28.2l9.9-19.3M378.8 103.8l10.5-15.7M393.9 16.8l11.4-22.2M397.1 20.7l7.9-16M393.9 69.2l8.8-16.7M395.5 79.4l8.7-14.7M394.1 84l10.1-20.4M406.9 14l9.9-19.8M410 21.8l6.9-12.5M409.1 23l5.1-8.2M407.1 24.3l9.5-15.4" stroke="#e8dcec" stroke-width="0.9" stroke-linecap="round" fill="none"/>
<path d="M380.6 18.2l9.3-14.5M383.5 33.5l7.9-11.5M381.4 66.8l8.7-15.6M381.1 78.7l10-15.1M382.1 101.7l5.6-8.5M381.1 108.9l7.5-13.8M399.4 31l6-11.9M398.5 39l7.7-12.4M396.1 47.2l8.5-15.5M394.6 58.8l9.5-15.6M393.2 94.3l10-18.5M393.5 102.5l11.1-19.3M407.5 8.1l7-11.6M405.1 95.6l6.9-11.7M421 20.7l7.7-14.5" stroke="#fcf8fc" stroke-width="1.1" stroke-linecap="round" fill="none"/>
<path d="M380 19.2l10-15.4M383 34.8l7-12.4M380.4 74.1l7.1-9.9M381.7 98.3l5.9-9.9M398.6 5.8l5.3-7.4M395.5 11.9l10.5-18.3M398.1 46.1l5.9-10.7M395.7 54.9l6.1-10.6M394.4 81.5l8.8-18M392.3 82.8l10.1-20.4M393.5 88l11.3-19.1M396.1 101.3l5.2-8.6M407.7 18l8.6-16.1M407.4 28l8.1-14.8M410.1 40.1l4.3-6.6M406.7 64.6l6.6-11.9M405.2 71.8l9-12.4M422.6 32.4l6.7-11.2" stroke="#d8c8dc" stroke-width="0.7" stroke-linecap="round" fill="none"/>
<path d="M384.8 21l5-8.8M381.1 29.3l8.2-15.1M397 9.3l6.9-13.1M396 43.1l9.1-13.9M395.8 80.4l8-13.7M408.1 20.5l6.5-10.7M409.1 61.7l5.4-7.7M405.3 78.1l9.4-14.4" stroke="#9a90a0" stroke-width="1.1" stroke-linecap="round" fill="none"/>
<path d="M382.1 27.1l6.8-10.8M382.7 31.1l9-17.9M383.4 41.4l7.1-13M383.1 76.3l6.5-11.3M381.8 82.5l7-10.1M381.8 84l8.9-12.7M381.2 90.4l7-12.3M394.9 14.3l7.6-11.7M397.5 29.8l5.2-7.7M396.7 56.2l6.9-9.9M393.3 66l8.1-11.5M394.7 67.3l6.6-12.9M396.1 68.4l5.4-8.4M394.9 76.7l5.6-9.9M396 85.3l4.9-9.1M407.8 36.7l8.7-13.2" stroke="#f4ecf4" stroke-width="0.9" stroke-linecap="round" fill="none"/>
<path d="M380.9 30.4l11.6-20.8M384.9 39.4l4.8-9.2M380.2 54.7l7.9-14.4M381.6 60.7l9.4-13.5M379.6 61.6l8.2-13.5M380.7 63.9l7.7-13.7M379.2 79.9l10.9-19.8M381.5 88l7.9-11.1M380.9 106.6l8.4-12.9M379.9 116.5l9.6-14.3M396.2 52.6l9.9-13.7M397 59.9l6-8.8M395.7 62.1l8.2-16.7M395.6 70.5l4.2-7.4M395.6 97.4l9.7-15.4M396.3 105.2l5.1-9M406.7 58.5l6.6-11.2M407.7 92.9l6.6-9.8" stroke="#c0b0c8" stroke-width="0.7" stroke-linecap="round" fill="none"/>
<path d="M381.4 40.5l8.7-12.5M382.8 68.9l7.5-14.9M378.7 111.2l9.6-13.8M397.6 31.8l6.3-8.9M408.2 16.7l6.3-10.1M407.8 35.8l7.2-13.3M406.3 57.3l9.1-17.8M404.9 72.7l9.5-17.8M420.3 19.4l9.2-13.4" stroke="#f4ecf4" stroke-width="0.7" stroke-linecap="round" fill="none"/>
<path d="M381.2 45.3l9.3-16.7M381.6 50.2l9.9-15.4M379.1 85.5l8.4-13.4M381.1 86.9l6.2-10.1M379.6 99.5l9.7-17.7M395.9 41.1l11.1-17.2M410.2 32.5l6.1-9.7M410.1 37.5l6.6-10.7M407.5 44.9l7.9-13.6" stroke="#e8dcec" stroke-width="0.7" stroke-linecap="round" fill="none"/>
<path d="M381.3 46.3l11.2-22M382 47.8l6.7-11.3M383.9 55.9l5.7-8.3M381.1 65.4l9.7-13.9M379.1 70.2l10.1-17.1M383 81l6.7-9.7M381.8 91.5l5.4-8.3M382 105.3l6.3-9.1M395.6 18.1l10.1-14.8M398.8 35.5l4.6-7.2M409.4 10.5l5.2-8.5M409 12.1l6.8-13.8M407.8 13.2l7.8-15.2M408.9 19.2l5.5-8.9M408.3 56.1l4.8-7M406.3 70.8l6.1-8.9" stroke="#9a90a0" stroke-width="0.7" stroke-linecap="round" fill="none"/>
<path d="M382.8 49l9.1-16.2M379 59.4l9.1-14M379.4 94.4l8.4-14.6M380.7 100.4l7-10.9M394 22.8l8.8-15.1M395.1 36.9l8.2-13M394.8 40l12.4-17.3M394.7 49.4l10.9-22.1M408.9 46l5.3-8.3M406.6 68.4l6.4-12.5M408.1 81.5l5.4-10.5" stroke="#fcf8fc" stroke-width="0.9" stroke-linecap="round" fill="none"/>
<path d="M381.6 52.5l8.6-13.2M381.6 89.2l9.6-14.4M397.3 60.8l4.9-7.6M394.1 72.2l8.6-12.1M395.4 74.5l6.5-10.2M393.2 96.4l8.9-12.6M409.6 25.7l8.1-12.6M405.5 50.9l7.6-13.8M408.5 53.5l6.4-10.2M407.3 54.8l7.3-11.1M420.6 15.8l8.7-16.9M421.1 25l7.4-11.7" stroke="#c0b0c8" stroke-width="0.9" stroke-linecap="round" fill="none"/>
<path d="M378.9 57.2l9.3-16.2M402.8 164l9.7-14.5M401.4 193.7l8.1-11.3M404.9 194.7l3.7-5.1M425 -5.6l6.8-12.7M418.1 166.3l6.9-13.1M416.3 174.5l9.1-13.7M416.6 195.5l8.9-15M432.8 109.9l5.8-8.3M429.7 118l8.6-15.8M434.7 132.4l5.6-10.9M430.5 174.4l10.6-21.2M432 187.3l6.2-9.2M449.7 -1.1l6.3-9.5M449.1 8.2l9.5-17.8M445.3 109.6l11.4-16.1M448.2 133.9l8.6-12.3M443.1 164l12-22.6M445.7 178.7l9.2-13.9M463.5 -6.3l9.6-15.5M461.7 4.4l8.9-17M461.3 9.5l8.2-16.2M458.3 104.3l7.7-13.6M458.4 106l6.9-13M455.9 149.7l10.8-18M456.1 152.2l8.1-13.8M457.4 165.8l10-15.7M472.9 67.5l9.7-14.6M474.4 75.2l5.4-8.4M472.9 76.1l7.4-10.7M476.1 96.8l7.3-14.1M472.2 116.8l7.1-11.3M472 163l9.5-17.4M470.7 166.8l7.5-13.3M489.2 -5.3l6.5-10M491 9l4.7-7.7M486.7 55.8l9.6-14.9M487.2 79.4l5.2-7.7M486 143.6l7.7-12M485.6 156.7l4.8-7.5M499.1 113.4l8.1-13.3M542.6 60.9l6.9-11.7" stroke="#80482e" stroke-width="0.9" stroke-linecap="round" fill="none"/>
<path d="M379.1 58.2l8.1-15M380 93.4l7.9-13M380.4 164.2l7.2-12.7M376.2 170l10.7-18.2M377.3 187.3l7.7-12.6M395.3 155.6l5.4-7.8M405.3 153.6l7-13.8M401.2 186.7l7.1-11.6M403.2 197.3l5.2-9.7M422 5.9l7.2-11.3M420.5 114.9l8.5-16.3M418.8 123.4l7.2-11.9M416.7 152.2l7.6-13.2M416.9 168.3l8.8-13.1M416.2 200l7.7-11.4M435.6 -1.8l9.2-13M431.1 107.3l7.6-11.1M430.2 141.2l9.1-12.9M434.1 143.5l4.8-8.6M430.7 151.1l8-14.2M431.8 190.9l9.4-17.6M451.9 -2l6.2-10.1M446.6 82l8.9-12.7M446.6 88.3l10.3-18.1M446.7 116.6l8.5-13.8M446.5 130.1l10-16.5M458.7 98.1l9.7-18.2M457 103l8.7-13M460.7 117.5l6.3-10.6M459.4 128.4l9.3-14.6M459.3 136.7l8.1-16M458.3 173.7l7.4-14.1M458.7 177.6l4.4-7M455.2 196.3l6.9-12.1M458.1 198.3l7.8-14.3M478.6 -5.1l6.7-12.5M477 50.2l4.2-6.6M472.8 78.6l10.5-14.7M472.6 112.5l7.8-14.6M472.8 114.4l6.1-10.4M471 128.2l7.6-13.4M473 149.4l5.9-11.9M467.5 185.7l10.5-19.1M488.3 -0l9.9-18.1M489.7 2.9l7.8-12.2M487.8 19l8.4-15.3M488.7 51.4l8-12M488.2 65.4l7.6-10.8M483.2 172.8l8.2-12.3M485.5 190.7l5.9-10.1M504.3 -7.5l7-13.4M505 -6.4l8.9-16.3M504.6 12.6l7.7-11.2M504 30.5l5.8-8.3M503.5 50.3l5.5-10.2M502.6 95.5l5.5-8.4M501 167.8l4.3-7.5M498.3 191.8l7-12.9M511 119.1l6.5-11.8" stroke="#c08050" stroke-width="0.7" stroke-linecap="round" fill="none"/>
<path d="M383.5 77.4l6.3-10.3M395.6 42l8.9-15.7M394.8 48.5l7.7-11M397.8 57.3l4.4-7M392.7 65l11.6-18.6M392.8 86.4l9.1-18.6M410.1 6.8l5.6-9.4M410.6 29.4l3.2-5.6M407.7 43.5l8.2-15.8M405.1 59.5l7.7-11.3" stroke="#f4ecf4" stroke-width="1.1" stroke-linecap="round" fill="none"/>
<path d="M377.1 107.9l10.6-15.5M377.6 124l10.6-17.8M377.5 181.7l10.1-19M396 -6.5l9-13.6M407 140.4l5.9-11.3M402.8 159.4l9.3-15.1M422.8 113.6l4-7.2M415.4 149.3l10.2-16M415.8 160l6.5-12.5M419.5 172l6.5-12.6M436.1 95.6l6.6-11.7M433.8 121.6l4.7-7M428.1 168l10.5-18.9M430.4 178l10-15.1M432.8 182l6.2-9.3M450.1 75.3l8.7-12.5M447.4 83.9l6.8-11.6M448.9 96.5l7.7-11.6M449.2 115.4l5.9-9.3M445.5 126l10.6-18.6M446.5 137.9l10.1-20.3M445.3 156.8l8.6-15.9M447.9 171.6l5.7-11.1M445.9 174l9.2-18.4M445 186.4l7.5-15M463.7 38.4l6.2-8.7M462.3 66.6l5.2-9.9M461.3 120.9l6.6-12.1M459.7 134.8l5.6-9.2M456.6 140.8l8.6-16M459.2 156.7l8.5-15.2M456.7 163.2l10.1-19.9M457.9 181.9l7.3-14.5M455.5 188.6l6.2-9.8M474.5 25.8l10.9-17.4M476.8 37.6l8.1-11.8M473.4 102.7l9.1-13.3M475.4 105.6l6.1-12M470.4 106.6l11.5-18.4M473.1 133.7l7.5-13.3M472.3 140.1l5.5-8.8M489 -1l8.7-15.1M488.6 6.7l7.4-14.1M487.1 39.3l10.2-16.5M490.7 45.1l4.4-7.9M488.7 71.9l5.3-8.4M488 73l4.7-7.8M487.3 84.9l7.5-12.3M484.8 118.1l9.4-14.8M484.1 144.6l8.7-15.1M486.5 186.6l4.2-7.6M503.5 .1l8.3-14.6M502.6 6l7.5-10.7M504.7 7.4l7.6-14M502 16.7l11-17.6M502.5 83.8l5.1-8.5M498.8 146.5l7.4-14.5M501.5 154.4l3.4-5.6M517.3 -1.1l7.7-12.3M513.1 43l7.1-13.2M511.4 46.9l10.1-14.4M513.6 102.5l9.1-14.6M529.4 38.4l8.9-13.8" stroke="#ac6c46" stroke-width="0.7" stroke-linecap="round" fill="none"/>
<path d="M381.4 112.5l7.4-10.3M378.7 173.3l8.9-16.4M424.7 51.2l4.5-7M435.4 50.7l6.5-11.6M436.6 56l5.7-9.1M430.7 83.4l12-20.3M450.4 10.9l6.7-9.8M460.5 20l9.5-13.5M460 53.4l7.9-11.3" stroke="#8aa030" stroke-width="0.7" stroke-linecap="round" fill="none"/>
<path d="M377.9 115.1l8.7-15.9M377.3 182.8l6.9-13.3M391.5 172.1l8.8-15.6M407.1 4.5l7.3-14.1M408.5 5.7l7.2-14.7M402.2 187.6l8-12.2M424 9.6l6.4-11.7M421.9 103.1l6.4-10.2M421.6 111.2l5.6-9.1M418.8 157.5l3.5-5.7M418 188.8l7.6-11.3M435.1 104.6l4.5-7.6M434 105.6l7.4-12.5M429.3 125.4l12.6-18.6M430.7 144.5l11.9-19.7M429.7 159.9l7.3-12.6M431.7 165.3l7.3-14.7M451.3 76.4l6.6-9.7M447.7 85.1l8-12.3M448.8 86.1l5.6-9.8M448.3 101.4l5.5-10.1M448.4 135.2l4.3-7M443.6 194.9l9.6-14.2M464.2 2.1l6.5-13.2M462.8 58.3l4.3-8M463.6 77l6.8-11.8M462 110.6l5.2-9.7M459.2 126.9l9-12.6M457.1 185.2l5.3-9.5M476 -1.1l8.7-12.9M475.8 28.1l8.2-16.6M472.7 137.6l5.9-10.6M471.4 157.1l6.6-11.3M468.3 191.4l10.5-17M489.6 46.2l7.6-14.3M489 59.3l7.5-12.1M487.7 67.5l8.8-14.2M487.6 74.2l7.4-10.4M487.4 91.7l5.9-9.3M483.6 165.7l7.3-10.1M500.4 46.2l8.6-16.7M500.3 54.2l8.1-15.6M500.7 97.7l6.9-13M516.8 32.1l6.2-10.9M512 40.1l10.3-20.3M514.2 44.3l6.8-10.8" stroke="#62361e" stroke-width="1.1" stroke-linecap="round" fill="none"/>
<path d="M380.1 117.7l6.2-10.5M375.2 194.4l11.1-18.4M395 165.7l4.9-8.9M405.6 82.8l9.5-16.5M404.6 123.6l8.4-13.3M403.1 125.1l8.1-11.6M422 13l6.2-10.9M420.7 75l7.4-11.5M419.3 81.9l6.2-9M421.5 89.1l4.2-7.2M420.5 99.1l4.9-7.3M421.3 100.5l6.5-10.6M433.4 45.2l12.3-19.8M436.5 54.8l6-9.5M435.3 59.2l9.2-12.9M449.2 22.6l11.5-20.8M447.8 37.1l11-20.4M447 47.9l10.1-18.8M448.4 56.3l8-12.8M459.8 15.3l8.1-15.5M460.6 23.4l11.7-22.5" stroke="#f0f088" stroke-width="1.1" stroke-linecap="round" fill="none"/>
<path d="M381.2 118.7l7.4-10.5M382.2 127.6l4.1-5.8M377.1 168.9l8.9-14.4M390.5 120.3l11.6-17.6M391.5 129.1l6.7-9.4M389.9 137.4l10.5-14.9M393.4 139.8l6.1-8.5M409.6 52.4l6.5-11.4M407.1 67.2l5.4-7.9M409.1 74.1l4.5-8.6M406.8 117l4.5-7M404.3 130.8l6.4-9.9M420.4 22.8l7.2-12.1M424.1 30l4-6.4M422.2 38.9l6.2-11.5M424.5 46.1l3.8-5.9M420.8 52.2l7.3-13.9M421.2 64.2l7.8-10.8M437.5 19.5l8.5-15M435.8 65.2l7.8-12.9M452.2 11.8l6.3-9.1M462.1 5.6l6.1-9.6M460.3 47.3l9.2-16.1" stroke="#f0f088" stroke-width="0.9" stroke-linecap="round" fill="none"/>
<path d="M379.9 120l7.1-10.5M381.8 135.3l3.6-5.2M376.9 143.3l8.8-12.8M379.6 144.4l8.2-13.4M377.2 150.7l7.3-12.8M390.2 133.7l10.2-16.9M405.7 89.1l9.3-17.7M420.7 28.7l8.8-16.2M424 43.7l7.3-13.1M422.4 53.6l5.7-10.7M419.8 69.4l6.5-11.2M419.9 77.9l8.3-15M420.9 106l5.5-9.3M435.8 66.3l7.1-9.8M453 20.2l7.6-11.5M451.5 30.1l7.7-13.8M449.9 41.2l8-15.7M465.2 31.7l7.1-13.5M473.7 16.6l9.8-15.2" stroke="#e4e090" stroke-width="0.7" stroke-linecap="round" fill="none"/>
<path d="M377.4 122.7l11.6-23.4M378.9 133l9.7-18.7M379.3 158.1l5.7-10.2M377.1 176.1l10.6-17.4M377.1 180.3l11-15.3M393.5 106.3l7.7-13.2M390.6 142l9.2-14.4M390.3 143.4l12.4-22.1M390.2 169.7l11.2-15.9M389.5 187.3l8.2-13.6M405.6 84.2l7.5-10.4M406.3 86.7l7.7-10.8M420.9 26.2l7.7-14.3M437.5 15.7l7.1-11.7M434.7 34.8l9.4-18.9M431.4 68.5l11.4-16.5M435.2 69.8l7.1-9.9M431.6 70.7l8.8-15M434 91.2l9.1-15M462.2 19.1l7.5-14.5M464.4 29.2l4.8-9.5" stroke="#5a6a20" stroke-width="1.1" stroke-linecap="round" fill="none"/>
<path d="M380.4 125.2l9.6-14.1M379.9 137.2l7.9-13.8M393.4 122.5l7.5-11.4M392.6 177.2l4.7-7M404.6 126.3l9.1-13.8M424 31l3.4-5.5M422.6 40.1l7.2-13.9M421.1 78.8l6.7-10.7M419.3 84.4l8.5-14.6M417.4 85.4l7.8-10.7M449.3 32.8l9.5-18.5M447.6 38.4l11.3-21.4M450.9 69.6l4.5-8.3M459.7 13.3l10.4-14.4M461.4 55.9l7.7-14.6" stroke="#d8d858" stroke-width="0.7" stroke-linecap="round" fill="none"/>
<path d="M379.7 126.4l8.5-13.5M392.1 130l6.8-11.6M394.5 131.2l7.7-10.9M393.2 138.7l7.9-11.9M390.7 148l8.8-14.2M393.2 149.3l9.2-16.7M392.4 166.9l8.7-16.1M405.1 110.6l7.9-12.4M405 132.9l7-11.4M418 91.7l6.8-11.6M418.6 97.9l7.8-12.3M433.3 27.2l10.2-16.6M434.6 47.2l11.4-22M434.5 52.6l8.5-15.1M433.6 53.6l8.8-15.8M434.4 61.4l8-14.1M435 79.4l5.7-9.7M451.2 39.8l4.1-5.9M463.7 14.2l6.1-10.5M476.4 9.2l7.8-11.6" stroke="#f0f088" stroke-width="0.7" stroke-linecap="round" fill="none"/>
<path d="M379.1 128.8l8.1-15.6M381.2 141.2l4.6-8.6M393.3 152.3l7.4-10.4M392.8 179.5l7.5-11.6M406.5 76.8l7.8-15.5M406.1 105.8l6.6-11.4M404.7 113.1l7.6-11M404.3 122.6l7.9-15.4M423.6 48.5l5.2-10.1M419.7 65.4l9.4-16.8M417.7 80.7l7.4-12.3M417.9 96.6l6.9-10.9M431.9 29l9.1-17.9M433.5 56.9l8.2-12.9M433 63.8l8.8-15.4M449.9 27.5l8.5-16.8M450.1 34.7l5.4-8.3M462.8 10.9l7.7-12.1M461.6 17.3l7-11M461.1 18l7-11.6M464.4 25.8l7.1-13.8M462.3 34.6l8-12" stroke="#5a6a20" stroke-width="0.9" stroke-linecap="round" fill="none"/>
<path d="M379.1 130.3l9.9-19.7M395.7 108.6l6.7-9.7M390.1 126.4l9.6-16.6M388.1 180.7l9.2-14.5M423.2 27.5l6.5-12.7M421.7 56.9l7.4-10.6M424.2 58.2l3.3-5.9M435.9 10l10.1-16.5M434.6 42.8l10-16.8M436.6 48.5l5.3-10.1M452.7 18.9l5.1-7.5M449.2 21.2l9.6-14.5M450.5 31.6l8.9-17.4M447.4 35.7l12.2-20.8M449.8 43.7l4.7-8.3M447.5 59.4l10.6-18.5M464.7 3.4l5.1-7.3" stroke="#8aa030" stroke-width="1.1" stroke-linecap="round" fill="none"/>
<path d="M380.2 132l6.4-9.7M380.6 149.4l6.6-12.5M380.4 161.9l6.7-11.9M377.7 166.3l8.7-13.1M380.8 167.4l4-7.3M378.9 178.7l5.4-7.8M395.8 110.1l6.5-9.9M391.5 153.6l8.5-15.6M392.2 154.2l6.9-11.4M393.4 170.9l7.9-15M406.1 96.9l6.5-9M407.3 98.2l7.3-10.9M404.3 111.6l9.8-15.6M404.5 119.6l5.8-9.6M401.9 169.5l8.3-16.1M420.6 14.2l6.6-10.1M425 45l3-5.4M435.4 37.2l9.6-17.6M431.8 90.1l8.3-12.5M447 42.2l11.4-22.5M450.6 50.4l5.5-9.6M449 51.5l7.9-14.3M450.1 53l7.2-12.3M460.6 24.5l8.9-15.5M477.2 10.3l5.4-9.2" stroke="#b8bc40" stroke-width="1.1" stroke-linecap="round" fill="none"/>
<path d="M381.3 134.1l5.9-8.9M380 146.7l7.1-12.7M394.2 136.1l7.9-15.4M394.7 146.2l4.5-8.3M405.6 108.3l8.6-13.6M405 118.5l8.8-17.4M405.2 139.3l8.5-11.9M422.2 21.7l5-9.5M420.6 55.7l8-12.2M420.6 67.9l8.5-17.3M421.5 79.7l4.7-9.1M435.1 24.3l8.4-11.6M432.9 67.2l10.8-20.5M449 2.9l8.8-18M450.6 23.9l9.4-13.6M448.5 28.7l10.6-21.3M446.7 57.3l10.6-15.7M462.3 12.2l6.5-10.5M460.8 22.3l8.2-12.1M461 40.5l8.9-14.6M476.2 19.8l6-9.8" stroke="#d8d858" stroke-width="0.9" stroke-linecap="round" fill="none"/>
<path d="M377.3 136l8.8-17.6M380.1 147.9l6.8-12.8M392.8 132.4l8-11.9M392.8 147.3l8.3-13.3M406.6 66l8.9-17.9M405.3 103.2l9.2-16.1M421.8 37.7l5.8-9.3M423.9 47.2l4.3-7M422.7 59.2l6.2-8.9M418.6 76.4l7.1-11.1M420.9 82.9l7-13.9M421.8 107.1l6.5-9.3M418.6 108.8l7.7-14.3M434.6 13.8l10.1-14.5M433.1 33.6l8.5-15.4M437 44l8.6-16.2M430.1 72.2l10.6-16.4M451.6 13.1l8.4-15.3M447 45.9l11-22.2M447.4 64.1l11.6-17.3M447.7 65.6l11.7-17.3" stroke="#e4e090" stroke-width="1.1" stroke-linecap="round" fill="none"/>
<path d="M379.7 138.5l6.3-10.1M379.6 145.4l8.1-15.9M378.3 165.3l8.3-12.8M396.9 89.1l4.5-6.4M392.3 113.6l7.1-11.1M391.8 134.9l6.6-12.7M389.3 175.8l8-11.2M405.3 100.7l8.9-15.8M406.2 104.3l5.1-9.1M407.5 115.6l6.6-10.7M421 33.7l9.4-18.5M421.8 49.9l8.1-11.7M422.6 71.9l3.8-6.3M420.9 74l6.2-9M420.6 90.5l6.6-9.6M421.5 94.2l4.2-8.1M436.2 10.9l9-14.9M436.6 31l6-9.9M437.3 57.9l4.1-5.8M430.4 73.3l11.7-16.8M431 77l9.6-15.8M448.6 44.6l9-13M449.1 67l9.8-19.2" stroke="#a0b038" stroke-width="1.1" stroke-linecap="round" fill="none"/>
<path d="M380.5 139.6l8.2-14.6M376.7 171.2l10-17.9M378.5 190.3l8.5-14.6M395.5 107.5l5-8M391.4 117.9l9.4-14M393.1 160.4l9.9-16.2M391.1 163.1l7.9-15.4M390.5 164.3l11.6-22.6M406.5 79.2l8.1-12.1M407 94.2l4.9-7.2M404.5 107.2l9-18M406.3 121l7.3-10.1M421 18.2l8.3-14.5M421.1 42.6l8.3-14.2M421.3 73l6.7-11.2M436.4 25.9l5.7-11.3M434.5 35.8l6.8-12.5M434.6 41.4l8.4-11.8M432.5 74.5l7.4-10.5M450.6 26.4l6.8-9.3M446.9 60.1l9.4-18.9M462.3 16.2l6.8-11.9M462 30.5l10.6-17.4M460.2 42.3l8.2-14.5M463.9 44.9l5.9-8.7M474.3 15.7l10.3-19.7" stroke="#a0b038" stroke-width="0.7" stroke-linecap="round" fill="none"/>
<path d="M381 142.3l6.5-10.8M376.5 177.5l11.1-18M380.4 179.5l5.4-8.6M394.4 111.2l8.5-13.5M390.3 119.5l11.2-15.7M407.8 60.4l5.9-8.3M404.6 90.5l8.7-15.3M405.4 134.3l7-11.5M421.7 7.2l6.3-9.4M421.1 17.3l7.2-10.9M420.6 36.3l9.2-15.2M423.1 54.5l5.6-10.3M418.8 87.9l5.6-10.6M418.1 104.3l7.3-12.4M435.6 16.8l9.1-14.7M436.1 39.9l7.3-12.6M433.2 45.9l10.7-16.6M451.9 33.7l6.1-9.5M450.9 58.5l6.2-12M460.4 21.3l9.8-15.8M461 41.2l10.4-20.5M458.6 49.7l8.4-14.4M473.4 18.6l11.3-17.3" stroke="#b8bc40" stroke-width="0.7" stroke-linecap="round" fill="none"/>
<path d="M379.1 151.8l6.6-11.6M374.2 195.5l11.9-21.2M391 183.7l8-13.8M392.5 194.6l5.7-9.8M410.8 -5.6l6.7-9.8M401.2 176l10.2-14.7M402 188.7l7-13.6M405 199.3l6.2-10.2M424.6 -2.8l4.9-7.2M423.9 -.6l6.5-11.8M421.6 116.4l4.4-7M416.4 153.8l5.9-10.7M419.7 175.8l5.3-8.3M434.1 87.7l7.5-11.3M432.5 92.7l9.7-15.8M434.3 148.6l7.7-13.7M431.1 155.2l8.5-12M430.4 184.5l9.7-15.8M432.8 188.4l4.7-7.2M450.6 7l7.6-12.8M450.1 124.8l4.3-6.4M447.4 144.1l8.1-13.8M464.3 -2.6l6.1-9.2M460.4 80.5l9.8-14.9M461 84.8l5.7-9.3M460.6 87.5l7.7-11.9M457.2 107.3l8-16.2M458.2 112.1l9.9-14.2M460.9 129.7l7.2-11.2M459.4 145.9l4.3-5.9M459.4 172.4l7.8-14.7M473.9 23.5l8.5-15.3M477.2 31.6l7.6-13.2M471.5 83.5l11.8-16.7M473.5 107.7l6.9-13.6M474.1 120.1l7.9-13.6M472.2 177.9l4.6-6.9M468.3 189.2l10.7-17.8M491.3 -2.8l7.7-15M482.9 164.1l8-13.9M502.7 15.1l8.6-13.7M504.5 20.2l5.8-9.3M504.2 38.2l6.8-11.4M500.5 108.7l6.1-12M498.7 165.4l5.8-8.9M515.2 -4.8l9-17.5" stroke="#c08050" stroke-width="1.1" stroke-linecap="round" fill="none"/>
<path d="M378.7 153l5.4-9.1M378 199.3l4.7-7M395.3 1l8.2-15.6M392.2 156.7l7.9-16M393.1 173.2l8.7-13.5M391.1 193.6l7.3-10.1M391 199.6l9.3-12.9M406.6 152.5l5.6-11.5M402 173.4l8.9-18M405.1 198.4l6.1-11.7M422 120.1l7-12.1M418.1 131.3l7.6-10.8M420.8 132.8l4-6.2M418.4 161.5l6-10.9M437.5 -8.1l8-15.5M436.2 -5.4l8.7-12.8M434.6 98.5l8.7-14.4M433 99.7l10.2-17M431 120.4l6.9-9.9M432 123.8l8-12.3M430.2 158.8l10.4-15.7M430.8 175.7l7.9-16.1M452.6 -8l3.7-6.6M449.8 72.6l5.6-8.9M450.8 77.5l7-13.6M447.9 89.4l9.8-18.7M447.9 104.8l8.4-14.3M447.8 112.9l7-13.8M447.6 145.5l5-10.2M442.8 154.4l9.8-19.6M445 155.6l6.7-11.7M447.6 161.8l3.7-5.3M444.9 172.8l9.3-13.5M443.9 179.7l9.2-15M462.7 75.8l7.7-13.5M461.3 99.3l4.7-7M460.9 164.3l4.2-7.7M458.3 178.7l7.1-10.3M478.2 -6.5l4.1-6M477.6 14.3l5-8.5M475.3 59.8l7.4-11M471.5 70.4l12-24.1M475.9 79.8l5-7.3M471.8 82.4l9.3-13.8M475.6 86.1l7.9-12.1M472.4 97.8l9.6-16.6M472.5 115.8l9.5-14.4M473.2 124.2l6.7-9.7M472.2 129.3l8.7-13.1M469.5 150.6l11.3-22.9M468.8 175.9l7.5-10.8M490.2 11.7l6.3-12.1M489 26.1l8.2-13.6M490 52.4l4.6-6.7M488.6 53.5l6-11.9M486.1 63.1l8.4-15.4M486.8 64.3l9.3-15M485.9 68.8l9.6-15.7M485.2 92.8l10.1-18.1M484.2 169.1l9.8-14.8M502.4 21.6l6.5-12M503.4 55.1l5.9-8.8M500.9 76.3l8-12.5M500.5 139.3l5.4-9M498.2 160.2l7-11.8M513.8 100.1l8.4-13.6M511.6 121.7l7.9-13.6M507.6 140.4l8.4-11.5" stroke="#ac6c46" stroke-width="0.9" stroke-linecap="round" fill="none"/>
<path d="M377.2 154.4l10.5-18.6M392.8 158.2l8.9-12.9M391.2 190.9l6.5-13.3M408.6 .9l6.4-10.2M403 146.4l10.7-15.7M404.8 147.8l8.9-15.4M405.1 195.7l3.7-6.7M419.7 145.7l4.9-6.7M415.7 146.9l9.1-13.6M418.7 177.2l7-13.5M418.9 182.5l6.4-11.2M438.4 -6.7l7.6-13.5M428.8 163.8l7.2-10.9M429.9 171.5l10.4-20.8M431.5 179.2l7.7-14M452.5 -3l4.3-7.3M449.8 80l5.4-7.5M444.5 107.1l11-17.9M449.2 122.2l5.3-7.9M444 149l10.5-15.3M447 166.8l4.7-7.9M448.3 182l5-9.6M462.9 48.7l7.1-12.9M460.5 89.8l6-11.9M460.6 113.4l7-10M459.4 114.2l8.6-16.2M461.7 122.4l4.1-7.9M457.3 137.8l9.6-19.5M456.3 154.4l7.5-14.6M456.1 187.4l8.6-14.4M457.8 197.2l5.7-9.6M474.9 -4.1l8.2-13.1M474.7 1.4l10.3-15.8M477.2 4l8.3-14M477.2 26.9l9-12.7M476.7 30.5l7-14.1M471.9 58.4l9.2-14.8M472.7 72.6l7.4-11.2M474.6 92.3l5.3-7.5M474.2 154.1l5.7-10.1M489.7 5.7l7.6-10.5M486.8 95.7l5.9-9.1M486 132.5l6.8-9.9M482.7 137.2l8.1-11.5M486.3 178l5.7-10M482 193.2l8.5-13.5M506.4 -5.3l5.4-7.9M504.5 35.4l6.6-9.5M501.7 89.8l8.8-14.8M514.2 -6.8l9-13.5M509.6 130.9l8.8-16.4" stroke="#d0905c" stroke-width="0.7" stroke-linecap="round" fill="none"/>
<path d="M375.9 155.4l10-15.1M398.1 -2.9l8.1-14.8M393.3 140.9l8.5-15.9M411.3 -3.4l4.4-7.3M405.5 142.5l4.6-7.3M404.9 145.3l6.8-11.5M403.2 179.5l7.9-10.9M404.5 182l4.6-8.1M404.6 185.5l5.3-7.3M417.1 133.7l9.6-13.9M415.7 144.5l7.7-11.7M416.3 162.7l8.6-16.2M415.9 170.7l7.5-14.6M418.1 178.6l6.2-9.1M416.2 197.4l7.8-12.3M438.4 1l6.6-9.7M437 3.5l10.1-18.9M435.3 88.8l5.5-8M434.7 103.5l5.2-7.2M431.1 108.4l10.2-15.1M433.5 133.4l9.2-17.2M429.6 153.7l7.6-12.8M431.6 177l8.7-13.5M429.6 181l8.4-12.5M433.6 185.7l8.2-11.6M451.2 -6.5l6.3-9.2M449 90.7l8.4-14.8M444.9 99.1l11.3-22M446.4 106l7.2-12.2M449.7 117.8l6.7-13.2M445.7 185.6l9.3-15.9M446.1 187.9l6.3-10.2M463.2 -7.7l10.2-20.1M462.1 51.1l6.6-10.3M458.6 61.6l10.1-14.4M463.6 69.1l3.6-6.6M463.1 77.9l4-5.9M461.9 83.6l6.4-12.9M460.2 119.8l7.6-14.1M457.6 157.6l6.6-9.8M454 190l8.9-17.4M456.1 194.9l7.6-14.7M475.6 .5l7.6-11.7M477.8 21.2l6.9-13.4M477.3 41.6l6.6-10.8M473.1 57.1l10.8-21.1M471.6 117.9l7.4-13.9M470.5 119l8.7-12.1M472.9 121.7l6.9-11.4M471.5 132.5l10.1-14.7M473.7 138.8l6-9.9M472.5 174.8l5-10.1M471.3 182.9l6.5-9.6M469.2 187l6.9-13.5M489.1 -6.7l6.3-10.9M488.7 48.5l8.2-11.8M486.2 50.4l11.3-15.5M486.5 58.5l6.9-12.4M485.3 90.8l7.9-12.9M487.1 96.9l9-12.9M489.5 98.3l5.7-8.3M485.4 189.5l8.4-12.7M503.1 14l7.5-10.3M502.1 63.7l7.4-14.3M501.2 71.9l6.6-13.3M503.3 86.3l3.9-6.2M516.7 19.2l5.1-9.7M513.6 74.1l8.8-14.4M514.9 108.2l6-8.6M509.9 133.3l7.8-15.3M511 134.4l8-13.8M529.7 54.4l9.4-14.5" stroke="#985c3c" stroke-width="1.1" stroke-linecap="round" fill="none"/>
<path d="M380.2 163.2l4-7.4M390.2 127.9l9.1-13.9M410.5 15.2l6-12.1M407.9 101.9l5.3-8.5M406.9 127.4l6.9-11.1M406.4 131.7l7-12M419.9 93l7.3-10.1M434.1 30.1l7-10.7M431 78.2l8.9-17.8M452.7 14.1l6.7-10.9M450.6 25.3l9.5-14.6M448.8 46.9l8.9-16.8M449.5 63l9.5-14.6M465.3 26.7l4.6-6.7M464.7 37l6.6-9.3" stroke="#d8d858" stroke-width="1.1" stroke-linecap="round" fill="none"/>
<path d="M395.4 112.4l6.6-11.9M395.3 116.5l5.2-8.9M390.3 121.5l12.5-19M404.1 114.5l8.9-15.4M406.8 128.6l4.1-7.9M423.3 23.7l6.6-12.8M423.8 63.1l2.8-5.7M419.2 102l8.6-13M433.2 38.8l8-11.3M433 51.5l12-19.5M433.8 75.7l8.8-16.3M434.3 81.8l6.4-10.1M431.4 84.4l11.2-19.1M434.5 85.5l5.5-11.1M451.3 17.7l9.3-17.6M447.9 49.2l7.7-14.1M446.4 54.2l8.9-15.6" stroke="#a0b038" stroke-width="0.9" stroke-linecap="round" fill="none"/>
<path d="M391.2 115.2l9-12.7M392.9 125.4l6.8-11.7M407 63.1l7-10.2M407 91.5l5.6-11.1M407.2 99.6l4.5-9.2M424 10.7l5.7-10.2M420.7 95.4l5.7-11.3M420.3 110.3l8.2-14.7M436.7 8.6l7.6-11.8M434.9 49.8l7.2-10.5M433.1 62.5l8.6-15.5M461.3 35.9l10.9-17.9M460.8 43.7l7.1-11.8M475 13.3l7.7-10.6" stroke="#5a6a20" stroke-width="0.7" stroke-linecap="round" fill="none"/>
<path d="M391.7 124l10-15.5M392.2 145l7.1-11.2M393.8 174.6l5.3-8.7M406.8 80.4l7.1-11.5M424.1 8.6l6.2-10.9M419.8 61.9l10.4-17.5M419.6 70.7l6.2-11.2M436.7 23.1l4.7-9M432.2 32.3l11-18.6M432.2 80.8l9.2-12.8M451.9 9.5l8.3-16.7M453.1 16.2l7.3-14.5M477.5 11.6l6-12.3" stroke="#b8bc40" stroke-width="0.9" stroke-linecap="round" fill="none"/>
<path d="M392.5 159.3l10.6-17.8M408.1 75.3l4.5-9M407.8 88l7-11.4M407.9 109.5l6.5-9.3M422.5 60.6l5.6-9.9M422.9 66.4l6.1-9.6M437 18.3l5.1-7M436.1 20.8l6.9-13.1M433.9 60.2l8.3-12.6M453.2 15.1l4.5-7.6" stroke="#e4e090" stroke-width="0.9" stroke-linecap="round" fill="none"/>
<path d="M404 129.7l8.8-15.3M424.4 35.1l4.6-6.8M424.5 41.5l5-7.6M417.8 86.8l7.2-10.1M436.5 14.8l7.6-11.7M432.3 21.8l9.7-17.6M448.7 61.8l10-17M450 68.1l5.9-11.4M461.7 33l7.1-12.8" stroke="#8aa030" stroke-width="0.9" stroke-linecap="round" fill="none"/>
<path d="M434.1 145.8l4.1-7.6M459.8 162l5.3-8.3M470.5 192.9l8.2-13.5M486.8 180.7l3.5-6.1M505.3 8.9l7.7-15.6M506.7 9.9l3.3-6.4M500 85.2l9.2-13.3M501.9 96.5l6.5-9.2M499.4 164.3l5.9-10.7M497 168.5l11-15.2M510.4 149.5l8.2-15.7M509.2 160.2l10.4-18.7M512.2 168.7l7.1-11.2M511.2 178.8l8.4-14M529.8 16l9.6-14.4M529.1 25.1l10.3-16.6M528.9 56.3l6.9-10.4M531 73.3l9-15.8M547.2 6.7l6-9.8M545.1 24.6l6-9.4M541.7 46.7l6.7-9.4M541.5 151.7l5.5-9.1M557.7 11.2l7-10.1M557.4 13.9l4.6-7.6M552.5 80.4l7.4-10.4M553.3 93.6l6-8.6M553.3 118.1l6-8.5M571.2 7.3l6.6-11.9M565.2 75.6l8.1-12.8M566.2 100l9.7-16.6M583.4 18.6l6.1-11.9M583.3 61.2l6.1-8.8M580.8 62.5l9.8-17.2M581 118.1l5.9-9.7M578.9 126.6l5.8-11.2M578.3 149l9.9-19.2M597 32.1l7.4-10.8M596.8 40.6l7.6-10.8M597.8 49.4l6.6-12M597 69.2l5.9-8.5M593 81.3l8-13.5M592.9 112.9l7.5-14.6M592.8 125.7l9.3-15M610 13.8l7.3-13.1M605.1 90.6l10.1-18.6M604 136.1l8.6-14.9M621.4 12.1l7.8-14.4M623.1 13.5l9.1-13.1M623.1 59.1l3.8-5.6M620.6 99l6.5-10.7M633.1 60l6.8-9.4M634.8 67.5l5.9-10.5M633.5 82.9l8.4-12.1M648.1 24l9.5-17.9M649.4 67.9l5.7-8.6M645.4 79.9l10.9-15.2M645.3 86.3l7.7-13.5M643.8 90.8l8.9-12.6M647.6 133l5.4-8.1" stroke="#8a5222" stroke-width="0.9" stroke-linecap="round" fill="none"/>
<path d="M449.1 55.4l9.3-13.3M488.5 81.1l5.9-9.1M484 155.7l7.2-13.3M501.2 58.8l7.1-14.3M498.2 137.6l10.6-15.5M514.9 0l6.9-13.7M508.2 137.9l10.6-16.7M530.6 -2.7l9.7-16M533.2 4.2l7.8-12.3M529.7 5.2l9.3-14.3M528.8 60.1l7.8-12.5M531 61.7l8.4-11.8M529.2 67.2l6.9-10.1M526.6 88.4l10-19.5M527.9 148.3l7.8-14.4M544.8 81.4l5.6-11.2M543.9 92.5l5.7-7.9M541.2 93.6l6.2-12.6M542.6 94.7l6.9-13.6M541.3 99.8l8.8-12.6M554.1 29.4l7.5-14.7M554.3 36.5l5.9-9.5M553.3 38.6l8.9-16.1M552.2 76.9l11-19M555.9 114.5l3.9-5.7M552.1 129.5l6.4-9.1M549.1 136.8l10.2-18.2M553.5 161.7l6.9-10.2M552 162.9l6-10.6M570.3 -6.5l7.2-13.8M568.3 11.2l9.2-17.8M570.1 20.2l4.4-8.7M570.3 29.7l7.6-11.1M570.5 47.7l3.3-6.7M569.3 70.3l6.1-10.5M566.5 112.1l5.7-10.7M586.2 -.2l2.7-4.9M583.1 24.8l5.7-9.6M583.2 63.8l4-8M581.5 83.2l5.7-9.3M581.9 89.7l6.2-12.4M581.8 95.7l5.4-9.1M577.6 127.9l6.5-11.6M578.9 153.7l6.4-10.8M577.2 155.1l7.7-12.5M596.6 7.5l8-16.3M598.1 15.4l5.6-9.9M598 43.2l3.4-4.9M595.6 68l8.3-15.1M594.3 91.8l8.5-16.7M595.2 93l8-14.5M594.5 107.5l7.8-15.6M593.5 108.6l7.3-10.3M591.6 160.8l10.5-17.7M594.2 198.9l4.2-5.8M608.6 5.4l8.5-16.1M609.4 44.9l4.9-7.3M609.6 69l6.5-11.1M606.5 84.4l7.2-10.8M604.4 123.7l7.7-15.3M625.3 -1.4l5.7-8.6M624.2 24.6l8-11.3M621.8 39.6l10.3-14.3M618.4 63.4l9.1-12.7M620.2 73l10.2-14.1M622.2 104.8l5.3-9.3M620.4 137.2l5.6-9.8M619.8 138.5l7.9-14.5M615.8 155.1l9-15.6M636.3 28.6l6.2-11M635.7 63.3l4.4-8.8M634.2 72l7.4-13.4M632.1 121.3l8.5-13.7M646.7 32.6l8.1-11.5M646.5 97.1l8-12.1M645.7 105.6l9-15.8M647.5 129.5l5.7-8.5" stroke="#e8b458" stroke-width="1.1" stroke-linecap="round" fill="none"/>
<path d="M459.1 118.6l7.3-10.1M489.4 4.2l7.8-11M487.5 124.9l3.9-5.5M484.8 163l6.8-12.2M484.1 176.9l9.7-13.9M501 57.9l9.5-16.6M500.2 100.7l7.7-10.8M498.7 116.3l7.6-13.4M500.8 122.7l7.5-14.6M498.8 144.5l9.2-17.6M499.1 173.1l5-6.9M511.1 109.7l8.2-14.4M510.5 129.7l5.7-9.3M509.1 151.9l9.5-15M532.5 -8l5.5-8M530.8 11.5l9.5-16.9M530.1 68.5l7.8-12.1M526.7 141.9l11.4-17.5M529.3 150.8l7.8-11.1M529.1 152.8l7.4-12.1M526.7 177.3l4.6-9.1M541.6 48.8l7.4-10.9M543.2 84.9l7.6-11M542.7 102.5l5.4-9.8M542.5 107.4l4.9-8.2M539.8 114.6l8.4-12.1M540.9 136.7l9.4-15M541.5 157.8l5.1-7.5M541.5 160.1l3.5-5.9M537.1 164.7l9.6-19.3M537 165.9l9.9-14.8M555.2 -.9l7.3-11.3M556.8 75.5l5.5-10.7M552.4 99.8l7.6-11.6M551.4 105.8l7.5-12M567.3 12.7l8.5-13.8M569 46.1l7.2-10.5M570.6 53.4l6.6-11.8M569.7 54.5l4.9-9.1M566.9 76.9l9.4-13.3M564.5 86.7l11.4-21.6M565.7 89.5l9.4-14.6M566.5 102.3l9.7-19.4M567.3 103.6l7-12.1M583.3 -8.3l6.8-12.3M585.8 1.4l5.9-9.1M585.5 8.6l6.7-10.1M583.8 9.6l6.8-10.7M581.7 57.7l8.7-12.8M580.7 66.1l7.5-12.1M596.3 6l7.1-10.2M596.3 50.3l6.1-10.8M593.1 76.7l10.5-21.2M593 130.8l8.9-13.5M592.1 143.9l7.9-12.7M608.4 22l6.6-11.3M608.5 43.9l9-17.1M606.9 52.4l9.9-15M608.6 78.8l6.8-12.7M604.7 86.9l10.4-14.9M606.6 100.8l5.4-7.8M608.3 115l5.8-9.3M605.7 117.2l9-15.7M604.9 131.2l9.4-15.4M607.3 132.4l5.8-8.6M623.7 -2.5l5.9-9.7M624.6 6.8l3.9-7.7M621.2 16.8l8.4-13.3M620.7 22.3l11.9-17.3M623.8 23.5l5.4-8.4M622.3 32.1l8.4-12.1M622.1 56.1l6-11.6M619.8 71.4l8.5-14.6M621.1 72.3l6.8-11.7M618.6 111.7l7.2-10M620 121.6l7.7-14.7M635.4 16.2l5.8-10.2M635.3 24.1l9.3-15.2M635.3 71.1l4.3-6.3M633.4 91.3l9.3-13M633.4 127.1l5.9-8.4M632.3 135.5l8.1-13.4M630.6 154.1l10.6-19.2M649.1 13.4l6.3-12.2M650.1 26.2l4.3-7.3M647.6 71.6l10.3-17.6M650.1 72.9l7.1-12.9M644.7 102.3l7-9.8M645.6 104.4l9.6-15.9M643.1 136.7l11.8-21.7M644.2 142.5l8.7-16.7M644.3 149.9l8.5-14.3M645.7 156l8.5-16.1M643 200.7l7.2-9.9" stroke="#e8b458" stroke-width="0.9" stroke-linecap="round" fill="none"/>
<path d="M459.2 143.3l7.7-12.1M458.8 182.7l3.8-7.6M472.8 60.8l8.8-17.4M471.9 172.1l6.8-11.5M470.9 183.5l7.1-13M488.6 60.8l4.8-7.2M483.9 158l7.7-14.7M485.4 175.8l7.9-12.6M505.2 3.7l8.2-13.1M504.1 62.4l7.1-9.7M502.3 82.7l7.8-11M501.8 157.1l5.5-10.3M497.2 184l6.4-11.8M514.7 24.3l8-13.1M513.1 38.8l7.6-14.6M513 115.1l8.5-15.1M531.1 28.5l8.6-13M531.7 41.2l6.2-11.5M531.2 50.3l7.4-14.5M529.5 55.2l8.2-15.1M532.1 69.6l7.7-11.3M525.4 173.7l6.3-11.3M543.4 82.4l7.6-15.2M542.4 119.2l5.1-10.3M555 21.4l7.4-12.7M553.8 56.7l8.9-12.7M556.6 71.9l4.9-8.3M551.5 110.8l7.8-12.7M570.2 4.5l8.9-15.3M568.1 66l8.3-16M564.8 74.5l10.4-16.1M566 107l8.2-15.9M567 125l5.7-8.5M567 150.8l5.9-11.1M564.1 160.9l7-13.7M581.5 39.3l7.8-13.5M582.4 68.6l3.8-7.2M580.9 112.2l5.2-7.4M578.3 134.3l9-15.2M581.5 141.1l5.5-7.7M579.1 156l5.8-10.1M595.7 -3.7l8.6-13.3M595.2 72.9l8.9-16.7M592.5 141.4l7.1-11.5M595.7 149.3l3.7-6.3M607.8 127.1l3.6-7.2M604 130.1l10.2-18.6M621.5 35.4l6.6-11.3M620.7 45.3l9.9-20.1M622.6 76.6l4.3-6.9M618.4 92.4l10.3-16.7M620.4 107.4l9.2-18.1M617.3 109.5l8-12.8M620.1 110.8l8.8-12.3M617.6 117.8l11.4-15.7M619.1 123.7l9.2-15.5M621.2 142.8l5.6-9.3M635.5 -3.5l9.8-19.5M636.5 53.2l6.1-9.1M636.6 88l5.9-11.4M636.3 89.3l7.6-14.3M635.6 103.5l5.2-7.6M650.9 3.2l6.8-12.4M650.8 21.7l8-14.7M650.7 22.9l7.4-13.6M648.7 41.3l5.4-10.2M646.4 48.4l9.4-17.5M646.2 55.4l9.6-13.5M648.5 81.2l6.8-12.1M647.1 113.7l7.4-10.6M648.3 127l4.2-6.7M646.1 186.3l6.5-10.1" stroke="#6a3c16" stroke-width="0.7" stroke-linecap="round" fill="none"/>
<path d="M459.3 158.9l5.8-8.4M473 68.9l8.3-15.8M482.8 160.2l8.3-15.7M499.7 140.3l7.6-13.4M498.2 171.7l5.9-8.2M497.8 178.4l9.3-18.5M514 -3.3l6.9-11M517.7 3.9l3.8-6.1M517.8 25.5l6.4-10.2M513.6 72.6l8.1-12.1M511.7 80.5l10.8-20.9M514.6 92.2l5-7.1M511 127.6l6.4-10.9M510.1 162.4l6.4-8.9M532.9 6.5l7.7-15.6M528.7 35.9l8.7-15.6M530.1 85.8l6-10.1M529.5 137.7l7.9-11M525.3 139l11.7-23.7M544.5 -3.6l9.3-15.3M543.2 69.1l6.4-11.7M544.2 74.9l5.2-8.4M538.5 104.1l9.1-14.5M541.6 117.9l4.7-7.6M542.9 132.6l5-7M542.2 138.7l7.6-10.7M539 140.6l9.3-14.7M553.9 10l9.6-16.7M554.3 25.4l10.5-16.9M552.6 81.5l9.5-16.7M552.3 111.9l8.2-15.1M551.4 134.3l6.6-11.5M553.4 149.7l6.5-9.9M567.4 15.2l9.5-15.5M569.3 25l7.4-11.6M569.3 59.6l4.8-7.3M568.9 83.1l4.8-7.5M566.8 91.7l8-12.8M565.8 117.9l6.3-10.3M564.5 168.2l8.9-14.1M585.2 -2.4l5.6-11.1M582.6 14.2l8.9-13.1M583.7 52.7l5.9-10.7M579.2 76.7l6.1-9.9M580.5 85.7l7.1-10.2M580.7 86.5l6.1-10.2M580.3 108.7l8.1-12.5M579.4 150.1l6.7-9.4M597.7 18.8l8.1-16M597.3 64.1l8.1-14.8M596.7 79.4l3.8-6.9M595.7 84.7l4-5.6M593.9 87.1l7.1-12.4M593.8 95.1l7.8-12.8M595.4 128.2l6.6-10.5M591.6 133.3l8.4-15.3M594.9 142.8l7.4-11.3M610.5 -5.1l7.6-13.4M612.6 .7l3.8-5.9M608.7 15l8.7-16.2M608.3 17.3l8.2-12.2M609.2 23.3l6.3-11.4M605.8 33.9l7.8-14.9M609.1 48.4l6.4-9.3M610.4 53.9l7.2-14.7M607 66.5l8.5-16M604.4 138.6l9.7-13.9M625.2 2.3l6.2-9.4M621.2 28.4l9.9-16.3M620.2 43.4l9.7-15.8M621.3 52.8l9.9-16.3M623.2 77.8l4.7-6.5M621.4 124.8l6.5-11.7M619 134.8l6.4-11.6M633.3 11.2l9-12.8M636.3 12.5l8.4-12.6M634.7 17.5l6.5-12M636.1 95.4l5.2-9.5M630.8 117.7l7.2-11M631.4 145.5l6.9-10.4M649.1 -3.4l7.9-12.4M648.2 4.3l9.7-14.7M648.5 8.6l8.6-13.8M649.7 9.7l7.2-13.4M647.3 73.8l8.2-15.1M645.9 92.3l9.3-14.3" stroke="#6a3c16" stroke-width="1.1" stroke-linecap="round" fill="none"/>
<path d="M460.6 161.2l7-14.4M474.4 22.5l10.1-16.6M472.2 66.2l8.2-12M473.2 165.5l5.5-8.7M488.7 31.9l6.4-10.1M483.7 129.9l10.7-20.3M503.2 25.5l9-15.8M498.8 110.3l10.4-20.1M498.4 111.2l11-15.2M501 127.3l6.7-13.6M496.9 175.8l10.4-15M500.6 179.5l4.7-8.4M513.5 -2l11.1-22.6M512.1 50.4l9.7-19.6M511.9 60.8l8.5-12.9M514.7 67.1l4.3-8.8M514.4 94.6l6.4-11M514.5 105.7l5.1-7.8M510.7 150.5l9.1-14M510.6 175.5l9.3-13.7M529.5 2.8l10.3-16.1M526.8 49.2l11.6-20.4M530.3 71l6.4-9M525.4 96.9l9-14M529.2 99l5-7.5M529.4 116.6l8.3-13.3M525.3 122.9l11.8-19.3M530.4 136.6l7.3-14M527.8 151.8l9.2-13.7M545.4 1.5l7.7-12.7M546 10.4l7.5-12.9M545.3 22.2l6.9-12.2M544.6 45.5l6.1-10.1M543.3 78.1l7.6-11.8M540.7 142.1l7.1-13.4M539 163.7l9.4-14.7M540.9 167.4l6.6-10.1M557.3 -4.9l4-8.1M556.5 16.5l6.6-9.5M555.1 26.7l10.3-14.4M553.8 30.7l7.4-14M554.9 62l7.2-12M554.3 79.4l6.8-12.2M551 83.8l9.3-15.3M551.2 101.3l8.8-14.7M554.1 104.6l5.4-9.7M555.6 116.5l6.5-10.7M553.5 119l6.1-10.4M553.3 121.3l8.7-15.5M549.9 142.8l8.1-11.5M549.8 143.8l10.2-20M552.2 146.8l7.3-13.3M551 148.1l7.8-13.3M553.1 155.2l6.1-12.3M569.1 5.8l8.6-12.6M563.4 149.7l9.5-15.2M581.8 40.5l7.6-12.2M582.7 42.6l6.9-11.7M581.5 54l9.7-15.9M580.2 75.7l7.8-14.1M582.5 101.8l6-11.4M580.8 119.1l4.3-8.5M577.9 151.4l8.5-12.3M596.1 36.5l7.2-11.8M594.8 78.2l9-15.5M594.3 124.8l7.7-15.5M607.2 16.1l9.6-18.4M607.7 50.9l10.3-15.4M609.3 58.9l5.9-9.5M603.9 89.3l10.7-19.2M604.2 98.2l9.4-16.1M604.8 128.9l9.3-15.4M606.9 139.9l7.1-13.3M623 18l9.6-17M623.1 81.4l4.3-6.8M619.9 101.1l8-15M637.3 22.5l4.6-9.2M637.4 34.2l7.9-11M633.5 48.1l10.3-19.2M635.8 69l3.4-4.8M633 76.9l8.1-11.3M635 80.2l8.5-14.3M631.7 99.8l9.4-18.7M633.1 118.7l7.1-11.3M648.4 7.7l9.4-13.1M649.7 28.1l6.3-11.9M648.2 30.5l8.2-16.6M647 42.7l7.1-12.5M649.6 60.2l7.2-10.2M647.9 76.2l7.8-14.3M646.9 120.9l5.5-7.9M646.9 128.3l9-15.5M642.2 152.6l10.3-17.9" stroke="#a2662a" stroke-width="0.7" stroke-linecap="round" fill="none"/>
<path d="M456.1 181.1l9.7-13.5M471 188.2l8.6-16.8M492 17.6l6.6-10.3M485.3 86.2l9-18.1M500.5 79.9l10-15.6M503.2 94.1l5.3-7.8M500.7 101.8l7.1-13.4M500.8 123.8l5.3-8M499.8 129.9l9.1-13.4M502 136.9l3.3-6.4M499.9 150.8l8.5-12.4M517.4 -5.9l5.6-9.6M517.6 13.2l5.9-9.4M514 53.2l6.3-9.3M511 104.5l10.1-16.7M510.4 144.5l8-11.3M508.7 166.4l10.8-20.4M510.3 172.6l9.8-13.6M508.6 184.8l11-19.3M530.7 26.2l6.3-12.6M524.2 169.9l10.6-19.6M523.6 184.4l11.8-20.1M544.5 26.6l5.6-8.1M544.4 34l5.2-9.3M540.2 130.1l6.4-10.5M538 172.8l7.5-11.6M555.6 -7.8l9.5-14.3M554.5 3.8l9-16M555 45.2l7-11.2M554.3 52.6l5.5-8.3M553.6 98.6l7.4-14.8M551 107l8.8-17.2M554.7 122.8l7.3-13.9M550 145l7.7-15.1M552.5 146.1l4.7-7M569.8 -5.3l8.8-15.7M568.3 3.2l6.9-12.1M567.4 26.9l10.3-17.2M566.4 44.9l8.2-12.3M568.9 61.1l7-12.2M569.9 62.4l3.8-6.8M565.4 63.5l10.8-18.2M567.7 121.4l6-11.1M565.5 130.2l6.1-11M564.1 148.4l8.7-12.3M565.2 163.4l5.4-8.6M583.5 10.7l7.8-11.9M583.3 41.7l5.8-10.4M583.2 51.7l7-10.7M581.2 105.3l6.8-13.2M579.1 106.4l8.3-12.6M580.4 121.5l5.3-8M580.9 138.3l6.4-10.2M577.8 160.8l6.5-12M579.3 162l5.7-11.5M596.2 44.3l7.6-10.7M596.2 45.7l7.1-12.4M594 82.7l8.8-13.5M594.7 83.7l5.2-8.1M591.8 123.3l7.1-10M612 3.1l4.2-8.5M608.2 19.8l8-16.5M610.5 56.4l4.9-8M609.4 67.6l7.2-14.5M606.6 77.4l6.4-10.1M607.6 93.2l6-9.3M606.9 108.2l9-13.4M607.9 116.3l7.9-11M605.7 126.1l6.9-11.4M623 7.9l9.5-15.1M620.2 54.9l6.9-10.7M619.7 95.6l8.4-12.9M619.1 145.2l8.5-15.9M619.3 146.4l7.1-13.1M616.3 147.6l9.9-17.3M639.4 -1.2l5.5-9M634 4.5l10.3-15.5M633.8 49.6l9.2-15.4M635.4 56.9l5.9-10.3M634.6 70.3l7.2-11.2M635.8 92.7l7.6-12M630.9 134.1l9.2-14.7M648.5 .5l10.2-16.9M646 27.1l10.3-19M645.2 50.7l8.7-15.3M649.4 59.1l4.9-9.6M646.9 78.4l7.2-11.4M643.8 111.4l10.1-15" stroke="#e8b458" stroke-width="0.7" stroke-linecap="round" fill="none"/>
<path d="M456.8 193l8.2-15.3M489 -2.1l7.6-10.8M486.6 113l7-12.8M488.6 121.9l5.1-8.3M501.3 39.4l9.2-16M503.1 47.5l6.4-10.7M501.5 52.9l8.6-12M499.7 90.5l7.7-15.2M502.7 105.5l5.4-7.7M501.8 132.3l4.3-8M500.2 161.7l5.9-9.7M515.9 30.8l5-7.3M514.8 66.3l4.5-7.3M510.7 85l7.8-13.5M511.3 155.5l7.8-13.5M510.7 170.1l6.4-9.4M532.2 -5.5l6.4-11.5M533.5 7.7l6.1-9.1M533.6 14.7l6.3-11M543.4 15.5l10.4-15.5M540.8 39.6l10.6-19.8M541.7 89l6.6-12.3M540.2 110.9l7.2-10.6M540.8 112.1l6-10.5M538.2 161l6.5-9.6M557.7 -3.8l3.6-6.2M553.8 2.7l7.9-11.1M553.4 33.3l7.4-11.4M553.3 33.9l9.7-15.2M552.6 90.7l9-14.9M550.1 133.3l6.8-9.6M553.2 148.9l5.6-11.5M569.1 .6l7.8-11M566.3 57.2l7.4-12.4M565 132.7l6-10.9M564.4 133.9l6.6-12.2M580.9 29.8l8.4-13.3M581 67.6l8.8-16.5M578.7 77.7l7.3-12.5M581.1 109.8l4.7-8.7M578.2 116.9l6.1-8.5M578.2 124.2l8.6-13.4M578.5 132.4l5.8-10.8M580.2 142l5.8-8.2M581.7 143.2l6.9-13.7M597.6 -.1l7-13.2M597 1.9l6.3-12.1M595.8 10.2l9.5-16.2M599.4 17.9l4.3-7M597.4 33l4.5-8.5M596.7 71.6l8.3-11.7M593.6 140.3l5.2-9M607.6 65.4l5.9-11.3M604.9 82.4l7.9-14.6M605.2 104.7l9.1-14.9M605.6 119.4l10.2-16.6M606.4 137.3l6.8-10.5M622.6 -6.4l10.2-19.4M624.1 10.9l6.3-11M621.1 34.6l7.4-11.5M622.6 67.8l6.3-9.1M620.9 83.9l8.2-15.1M618.5 136.1l10.1-14.4M620.3 149.2l5.2-7.8M635.4 -2.4l8.2-13.7M637.5 6.3l4.4-7.2M636.1 10.1l7.7-14.6M631.4 66.4l9.2-13.9M634.9 75.5l5.7-11.6M634 110.2l7-10.5M630.6 111.4l8.8-16.1M633.2 130.6l6.8-10.8M648 14.7l10.9-20.3M648.6 16.9l8.8-17.7M646.5 29.3l7.9-12.6M646.7 100.3l7.8-12.2M647.9 106.9l4.1-6.8M644.6 189.9l8.9-15.5" stroke="#6a3c16" stroke-width="0.9" stroke-linecap="round" fill="none"/>
<path d="M455.9 194l7.7-13.5M502.5 45.1l6.8-10.2M504.3 68.6l6.5-12.9M500 104.3l7.1-14.5M500.8 133.7l6.8-10.9M499.5 135.8l7.9-14M513.8 16.9l8.6-16.9M515.9 32.9l8-11.7M512.5 45.6l7-13.5M511.7 56.9l7.1-10.2M510.9 58l11.3-21.6M511.9 64l7.3-10.3M510.5 68.8l8.9-14.3M513 71.2l6.7-9.7M515 93.6l7.6-10.9M510 112.8l9.1-16.7M510.2 113.9l11.2-18.5M508.4 183.5l11.3-22.6M531.4 -.4l8.3-11.4M534 20.4l4-8.2M527.5 98.1l6.7-10.9M529.8 125.5l7.5-12M525.1 145.8l8.8-13.1M523.1 160.2l11.1-15.5M547.4 -5l5.5-10.5M547.6 2.9l6-11.5M545.7 9.3l6.2-10.2M542.4 47.7l6.2-9M540.3 98.9l7.2-11.1M557.9 18.1l4.1-7.4M556 55.2l4.6-7.7M551.2 103.6l9.5-16.5M552 108.2l7.9-13.3M550.3 127.2l7.5-15.2M554.1 159.2l5.7-10.2M567.7 58.3l9.7-16.1M565.6 82.1l10-14M569 84.3l5.2-8.2M564.7 114.7l6.6-10.6M565.3 125.8l6.6-13.4M567.6 143.4l4.4-9M582.9 4.7l7.3-10.8M585.5 13.3l5.4-9.5M583.3 35.6l3.9-5.6M583.6 36.7l3.1-4.4M581.1 49.5l6.9-12.9M581.7 94.7l6.9-10.4M580.9 110.8l4.2-6.2M576.2 159.5l10-18.8M599.2 25.7l5.3-10.5M594.5 116.2l6.8-10.5M594 118.7l7.4-11M611.4 -.5l4.9-6.8M607.8 18.5l7.3-14.9M609.7 20.9l7.2-14.4M608.4 24.4l8-13.3M603.7 95.9l10.5-16.9M606.4 113.7l8.2-15.6M606.5 143.8l6.2-12.3M606.3 153.3l4.8-9.8M604.3 154.7l7.2-11.9M623.5 3.3l5.3-10.1M620.9 25.4l8.2-13.1M621.6 42.1l8.4-12M619 93.3l10.8-15.6M616.4 150.1l9-18.5M638.5 -7.9l5-9.5M636.4 3.3l9.5-18.9M638.2 39.9l5.3-10.8M634.6 54.2l7.1-10.9M634 116.4l6-9.2M632 137.8l7-12.8M648.1 82.6l7.2-10.3M646.9 88.4l5.7-8.2M644 121.8l12-19.4M645.5 140l9.5-19.4" stroke="#8a5222" stroke-width="0.7" stroke-linecap="round" fill="none"/>
<path d="M474.5 17.7l9-13.1M489.3 10.6l6.7-12.4M487 171.5l3.9-7.6M484.3 184.2l9.3-16.1M502.5 73l8.5-15M501.3 93l6-9.3M501.6 99.8l5.3-8.5M500.3 107.6l6.6-9.6M498.8 158.1l8.2-11.5M499 182.1l4.9-9M511.6 41.6l11.5-21.9M509.7 128.8l8.3-12.9M530.1 -1.7l10.4-18.3M533.2 17.8l5-9.3M530.6 78.8l6-8.4M527.9 82.6l7.6-12.6M527.1 108.9l5.9-10.7M529.2 130l5.9-9.6M525.6 135.6l12.2-18.1M526.7 162.8l6.2-11M525.3 183.5l10.7-17.1M544.9 5.6l9.2-16.7M543.2 29.2l9.4-13.7M544.6 64.7l6.2-9.3M545.5 70l7.1-13.8M542.8 72.6l8.8-16.3M540.6 83.8l9.3-15.7M540.4 171.6l7.3-11.7M554.7 -2.1l8.4-13.9M554 113.1l6.8-10.5M552 153.9l7.2-12.5M568.1 -3.9l10.7-16.2M565 71.3l7.7-11.8M563.4 136.7l7.7-10.7M563.3 164.7l7-12.4M583.2 -6.9l5-7.9M585.4 17.6l6.7-12.4M583.1 50.8l7.9-11.8M577.6 120.5l7.8-14.9M597.7 12.5l8.1-11.5M596.8 14.1l6.5-10.5M595.7 30.8l8.8-14.3M592.7 99l9.5-14.2M593.6 100.1l8.3-11.8M608.9 7.7l9-14.8M608.4 28.1l8-13.2M609.1 37.1l6.8-11.5M609 76l6.9-12.8M605.7 99.5l7.1-10.8M605.3 103.3l6.4-12.2M604.1 124.8l10.1-17.2M604 133.5l7.9-12.6M619.5 64.5l10.5-15.7M637.2 -5.8l6-8.7M633.5 13.9l10-19.6M633.3 20.9l8.9-16.5M635.6 42.8l6.5-9.3M633.1 52l9.7-16.4M635.7 85.4l6-11M636.4 90.4l3.9-6.3M632.7 114.9l7.4-12.4M633 129.2l8.2-14.4M632.3 142.1l6.9-10.6M647.8 -2l9.3-15.5M649.2 39.2l5.1-7.2M647 130.6l5.4-9.3" stroke="#d89a44" stroke-width="0.9" stroke-linecap="round" fill="none"/>
<path d="M478.3 29.2l4.6-7.9M477.1 46.6l7.5-14.1M485.8 54.5l8.8-12.5M505.4 23l3.9-6.9M497.8 134.7l9.9-19M500.8 143l5.4-9.2M498.1 159.2l8-14.8M515.1 5.4l6.4-11.5M510.9 81.9l9.6-15.1M510.9 136.7l5.6-11M508.2 139.3l10-16.8M508.9 143l6.8-11.9M510.3 163.9l8.8-14.1M531.7 8.7l8.6-14.6M530.1 13.7l11.4-21.6M529.9 66.2l9.8-20M528.7 95.7l7.9-12.4M527.1 107.8l7.5-11.6M526.1 120.6l11.5-19.3M526.9 134.2l8.8-14.5M525.5 164.9l8.9-18.1M543.1 27.6l7.2-13.6M545 30.3l5.5-8.4M544.5 58.8l6.8-11.9M542.4 66.8l9.3-13M544.6 67.8l5.3-8.2M544.1 73.6l4.5-6.4M542.4 77.1l8.2-14.4M541.1 96.5l7.1-11.2M539.5 113.3l6.7-11.6M538.8 124l10.3-15.5M538.8 148.9l10.9-19.1M541.2 155.2l5.6-8.7M555.3 19.2l8.5-12.1M552.4 47.6l7-9.8M552.2 48.8l8.6-14.9M551.4 85l10.2-15.4M553.6 86.1l6.3-11.1M552.1 97.2l6.8-9.7M552.6 102.2l7.2-10.3M550.6 140.5l8.6-15.4M571.7 -7.6l6.1-12.5M567.9 -1.6l9.7-13.7M571 18.9l7.3-11.4M569.7 48.7l7.7-11.3M565.6 109.1l8.1-12.5M563.1 134.8l10-19.3M565.1 153.6l8.1-16.6M586.3 6.1l3.7-6.4M584.4 15.3l6.2-12.1M583.7 22.1l5.6-8.4M580.5 31.2l7.7-12.9M582 71.3l4.7-6.8M579.5 93.6l10.2-17.6M579.1 128.9l6-9.2M580.3 140.1l6.8-9.9M597.6 -5.9l5.3-7.4M595.5 -4.7l7.5-10.7M597.4 9l9.3-15.6M596.1 20.1l9.5-16.8M596.7 55.4l6.6-11.5M598.6 56.7l3.4-5.7M598.5 57.8l6.3-9.9M592.8 88.4l8.8-16.3M594.8 94.1l6.9-10.9M593.4 110l7.3-11.3M612.3 -7.5l6.2-8.9M609.5 39.6l4.3-8.5M606.6 120.6l6.3-12.1M604 144.8l6.4-10.1M603.9 150.2l9.2-16.4M624.7 1.3l7.3-14.5M621.9 9.1l8.7-13.1M624.6 9.9l5.4-7.5M622.8 20.5l8.2-15.5M621.6 61.2l8.8-14.1M617.8 116.5l9.3-12.8M618.6 133.6l7.4-12.6M617.8 141.8l9.3-14.1M640 -7l5.4-7.7M634.9 25.2l7.6-15.4M637.4 38.7l5.5-9.7M632.7 136.8l6.7-12.8M648.8 11l9.7-18.7M647.1 46.2l10.2-18M648.9 64l6.4-12.8M644.1 93.6l10.8-19.1M645.5 107.9l7.8-13.6M643.5 112.4l11.4-23.2M643.5 134.2l8.5-16.9M642 173.4l10-20.1" stroke="#a2662a" stroke-width="0.9" stroke-linecap="round" fill="none"/>
<path d="M475.2 43l6.2-9.7M487.8 13.4l10.7-18.8M487.8 40.5l7.9-11.1M486.6 131l8.1-13.9M485.7 188.7l8-11.8M502.7 29.2l5.8-9.9M505.3 31.7l5.4-7.7M514.5 11.8l8.7-13.9M516.6 23.1l5.5-10.8M513.4 49.1l7.3-13M510.5 61.8l11.1-19.1M513.7 101.4l5.2-10.6M530 32.2l8.2-12.1M529.5 64.8l9.4-17.3M531.3 72.1l7.6-15.5M531.7 83.7l6.2-10.7M530.8 89.7l6.6-10.8M527.7 90.7l8.9-18M529 102.4l7.9-12.7M525 114.1l8.1-11.9M525.3 126.7l12.5-22.6M526.7 144.7l11.1-17.7M545.9 -6l5.3-7.4M542 23.5l9.2-18.1M543.1 51.1l5-9.3M540.7 53.8l11.2-15.5M541.5 65.7l10.9-20.2M538.6 120.3l9.6-17.2M540.3 121.2l6.2-10.8M542.7 125.4l5-8.1M543.3 127.9l3.9-5.3M542.4 137.8l4.6-6.8M541.7 146.4l4.6-6.7M554.5 60.6l7.4-13.4M555.3 66l8.8-12.7M554.1 74.5l8.3-15.4M553.8 78.4l7.8-13.5M551.9 87.3l7.6-10.7M553.7 92.2l5.9-9.6M571.6 -.4l3.6-5.4M568.3 14l8.7-15.6M566.7 41.9l8.7-16.8M568.1 67.7l6.7-10.5M565.1 97.8l11.3-16.2M564.2 141l9.5-15.7M564.5 154.8l9.4-15M564.3 155.8l9.1-18.1M565.5 158.3l7.6-14.6M566.1 159.5l3.8-7.6M582.7 -3.6l5.9-11.5M579.9 27.3l9.6-14.9M582.5 43.8l8.2-14M584.3 59l5.9-11.3M579.2 92.2l8.1-12.8M579.7 115.8l7-12.1M579.1 125.4l5.4-11.1M577.7 131.2l7.1-13.1M579.4 148l9-14.3M598.3 61.2l3.4-5.1M596 97.8l3.9-7.3M593.8 111.9l8.9-12.8M593.6 138.9l5.4-8.4M595.7 144.8l6.7-10.8M609.1 47.4l7.9-12.1M610.6 55.2l7.4-14.5M606.3 62.9l9.9-19.7M608.9 72.5l6.6-13.5M624.5 -5l5.1-10.3M624.2 33.2l6.2-9.3M623.4 46.8l5.2-10M620.8 140.6l5.6-9.1M639.2 -.2l7.3-11.4M638.6 5.4l5.9-9.7M637.2 7.5l6-12.3M637.5 26.3l7.8-12.2M636.3 36.2l7-10.4M633.7 45.5l10.9-19.8M632.8 86.7l10.7-16.1M632.1 96.4l9.4-16.8M633.7 112.1l7.6-13.2M631.4 128.2l9.3-18.5M634.8 147.9l5.3-8.9M647.4 25.1l7.9-11.1M648.8 31.5l6.1-8.6M646.9 61.7l9.1-16.5M647 62.7l7.1-12.3M649.5 75l7.8-11.3M647.1 110.1l6.5-13.2M646.9 135.4l7.7-11.3M643.6 163.9l10.1-13.9" stroke="#b8782c" stroke-width="0.9" stroke-linecap="round" fill="none"/>
<path d="M472.7 101.7l8.5-13.2M482.9 168.1l8.9-15.6M503 34l5.7-11.2M498.9 117.1l6.5-9.4M501.6 125l4.9-8.8M498.3 128.6l10.5-15.4M514.2 35l9.5-13.3M513.6 37.3l6.9-10.1M512.1 75.5l6.9-10.2M511 78.5l8.7-15.6M514.7 89.6l4.1-7.6M514.7 95.7l6.1-10.8M513.5 97.1l5.8-11.3M509.1 123.8l8.6-17.5M508.6 124.9l11.7-23.9M511.4 126.4l5.2-8M509.5 146.6l8.4-16.8M509.4 158.7l10.1-20.1M512 174.3l6.2-12.3M527.2 44.8l8.6-13.7M531.4 63.1l6.6-10.6M529.2 76l9.5-17.9M527.5 80.2l12.2-18M527 94.7l9.7-18.6M525.8 115.2l9-13.1M528.8 131.4l9.5-19M545.8 25.4l6.6-10.3M541.1 79l10.7-20.1M539.4 122.7l8.3-12.2M540.9 147.8l6.8-12.1M538.4 159l6.6-12.5M557.7 .5l3.8-7.1M556.1 4.8l7.2-10.4M555.2 6.1l8.2-15.9M553.6 67.3l8.5-14.1M556.4 70.7l6.3-12.6M552.8 89.5l7.3-14.7M553.1 115.4l7.5-13.4M551.1 141.8l7.3-13.3M550.8 200.4l5.4-8.8M569.5 30.9l4.4-8.1M566.5 37.5l9.3-17.3M570.5 42.9l6.7-9.3M566.4 64.6l8.9-14M569.4 73.4l3.4-6.5M564.2 110.5l11.3-20.3M566.7 129.1l6.2-11.5M563.2 144.8l10-19.2M582.8 -1.1l8.1-14.4M580.5 34.2l7.9-11.7M584.7 44.9l3.8-5.8M581.2 56.3l7.5-12.6M579.7 107.3l7.5-10.9M599.6 11.4l4.5-7M599.1 16.6l7.4-11.8M594.8 48.1l6.3-12.9M593.5 75.8l9.8-13.7M592 153.4l9.5-18.2M612.9 -2.7l5-10M609.3 4.3l8.6-12.7M609.7 25.7l6.3-10.1M606.3 36l9.7-16.7M607.1 122.6l8.5-11.9M602.1 146.4l11.3-21M625.3 5.9l5.9-9M622.2 40.8l7.3-12.1M619.5 66.5l9.1-14.6M623.4 74.4l4.8-6.8M620.8 79l5.9-11.9M622.8 87.9l4.3-7.4M620.6 89l9-13.4M621.8 97.8l7-13.7M618.4 127.3l7-10.3M637.4 29.8l8-12.8M637.5 31.1l5.2-8.8M633.3 84.1l8.7-12.6M635.1 93.7l7.7-11.9M634 101.2l5.6-9.1M631.1 126l8.8-14.9M651.3 -8l7.4-13.3M650.3 20l6-10.6M650.2 69.3l4.8-7.6M650.1 70.4l5.8-9.3M646.8 77.2l9.7-19.1M645.6 89.9l9.2-18.4M648.2 116.5l6.9-13.5" stroke="#c88a3a" stroke-width="1.1" stroke-linecap="round" fill="none"/>
<path d="M469.8 196.6l7.6-12.1M524.5 181.1l8.1-15.9M527.4 186.8l4.6-6.9M524.4 199.4l8.6-13.1M537.9 184.4l7.4-12.8M550 166.6l7.9-11.2M549.3 171.5l8.8-15.9M548.1 183.3l9.7-14.7M564.9 178.3l5.4-10.2M563.2 200.6l8.7-13.1M578.2 171.6l4.5-7M580.3 190l3.4-5M593.1 196.9l5.9-8.6M594.1 197.7l7-12.9M591.5 200l7.2-12.6M602.2 183.5l11.4-20.6M600.9 196.2l8.5-13.3M620.8 153.6l4.1-5.6M616.6 182.4l7.1-13.6M616.7 198.5l8.5-12.7M630.9 157.8l6.4-9.9M630.6 199.3l7-13.3M644.8 183.7l5.2-8.9M642.4 193.5l9.3-15.1" stroke="#18b880" stroke-width="0.9" stroke-linecap="round" fill="none"/>
<path d="M470.6 199.2l7.8-13.9M508.4 195.1l6.3-12.4M523.4 188.2l11.6-16.8M526 194.8l6-10M537.9 190l7.2-11.5M563.9 185.1l5.6-11.5M561.9 193.6l10-14.7M579 195.8l7.5-13.1M594.4 195.6l5-8.6M614.9 184.6l12.2-18.7M630.9 172.3l8.9-14M631.2 187.7l5.6-10.9M632.8 190.2l7.9-14.5M645.9 169.7l6.3-11.7M642.6 174.6l10.5-20.4" stroke="#10a870" stroke-width="0.7" stroke-linecap="round" fill="none"/>
<path d="M489 1.9l6.9-11.4M487.9 47.1l6.4-11.5M484.6 114.3l10.6-20.8M485.9 170.3l5.7-10.3M504.3 -3.2l5.8-9.4M504.4 56.2l6.5-12.7M503.6 70.1l6.1-8.9M503 74.7l8-11.2M499.9 119.4l7-13.4M501.2 148l7.6-10.6M498.3 149.3l9.8-16M500.2 155.4l6.9-14.2M496.8 170.2l8-14.6M496.6 177.2l8.6-16.4M513.7 65.3l6.6-11.2M512.2 111.7l8-12.8M509 135.6l6.5-12M530.5 -3.7l8.5-16M528.2 37.2l10.9-21M529.5 105.3l3.8-5.7M528.5 111.7l8.2-14M526.6 124.2l10.8-22M525.3 172.5l10.1-16M543.1 16.9l10.7-19.4M542.7 36.8l8.9-14.1M543 38.4l8.5-14.9M543.9 90.5l4.1-7.1M540.5 97.4l8.5-17.3M542.6 105l6.4-8.9M538.8 108.6l8.3-11.9M542.5 134l5.5-9M541 153.8l7.7-13.5M557.5 -6.4l6-10.4M555.3 24.4l10-17.9M553.3 40l7.2-10.3M556.9 64.6l4.6-8.7M551.5 94.7l8.2-11.4M549.7 138l7.4-13.2M566.6 25.9l9.1-13M567.7 32l8.8-14.7M570.3 50.3l4.7-7.6M564.4 81l9.9-16.4M566.4 94.7l8.9-17M565.8 98.7l7.2-10.7M565.5 116l9.2-14.1M567.1 127l5.3-10.6M583.2 -5.7l7.8-11.8M583 7.3l7.4-14.6M584.7 21.3l4.7-7M580.6 38.2l7.3-13.8M581.8 84.4l4.2-6.9M582.1 98.3l5.4-7.6M579.2 139.2l7.2-13.1M596.7 3.1l6.4-9.1M594.9 80.4l5.6-8.8M592.2 134.4l9.1-16.8M595.2 146l4.6-7.9M610 35l6.8-13.2M609.6 38.6l4.5-6.2M609.5 41.7l5-8.5M607.4 74.5l6.6-11.9M606.7 94.6l5.6-8.2M621.9 27.1l7-11.9M623.1 69.1l5-9.9M620.1 100.1l7.2-13M619.5 115.4l9.6-18.5M620.8 128.1l7.5-15M619.6 143.9l7.6-12.4M636.6 19.9l8.1-16M630.7 109.1l11-17.3M634.1 124.9l7-12M634.3 141.2l4.2-7.2M648.1 15.8l9.7-15.1M648.4 34.1l7.6-13.8M645.7 43.6l7.8-14.5M649.7 49.5l7.8-13.6M647.5 94.9l7.7-11M648.2 120.2l5.4-9.3M646.7 125.8l5.8-11M645.5 132.2l6.3-9.6M641.8 160.2l11.2-18.2M641.2 195.9l9.6-14.5" stroke="#a2662a" stroke-width="1.1" stroke-linecap="round" fill="none"/>
<path d="M489.2 14.8l7.7-11.9M486.3 89.5l6.5-11.4M484.2 183l8.5-14.7M483.9 187.7l10.2-20.6M485.7 192l7.2-13.9M500.2 91.8l9.4-17.1M500.3 103l8.1-13.7M500.6 118.2l8.6-15.7M499 131.1l9.5-17.3M497.7 185l6.6-11.6M514.3 20.4l10.8-16M513.8 26.6l8.3-15.8M512.4 157.4l5.8-10.7M510.5 167.7l7.8-11.4M510 171.4l7.9-11.5M508.8 180.1l10.1-18M532.1 12.7l9.2-14.5M528.4 31.2l11-19.9M532 77.7l4.9-9.3M528.1 146.9l9.3-17.7M526.8 167.6l5.4-7.4M544.2 -8.1l8.2-14.5M543.8 -2.6l8.6-17.4M543.1 12.9l7.9-15.2M545.3 20l5.9-8.5M541.4 55.1l10-15M544.2 59.9l7.5-13.4M545.1 71.2l3.7-6.1M542.8 91.5l6.5-12.1M541.1 135.5l5.9-9.3M542.2 150.4l7.2-13.1M540.8 162.5l4.9-8.8M555.9 32l8-12.3M554.1 43.9l7.8-15.5M552.7 82.6l7.4-13.2M550.7 125.4l9.9-16.1M552.3 152l6.5-9.5M569.9 2.2l6.7-11.6M567.2 21.3l10-13.9M569.5 22.4l6.1-8.6M569.3 32.8l6.2-12.2M566.1 33.9l11.3-16.6M565.9 36.1l9-13M567 79.7l9.1-12.6M565.3 96.1l7.4-14.1M566.5 122.6l6-9.2M586.2 2.2l5.1-10.1M582.7 23l6.2-9.5M580.5 28.4l8.3-11.7M583.3 47.1l5.4-8.2M579.5 79.9l6.3-11.9M578.7 133.5l7.1-13.1M579.6 135.7l7.9-13.4M599.9 -7.2l6.1-8.9M596.1 6.9l10-15.3M596.2 39.3l6-8.6M593.9 102.7l7.9-12.2M592.9 104.1l11.3-23.2M592.7 136.6l9.2-13.9M592.6 147.2l9.5-13.1M592.1 151.9l10.2-19.9M594.7 158.3l5.5-9.7M609.4 9.2l7.2-10.4M608.6 10.4l9.2-18M607.3 11.4l7.6-11.5M607.2 26.9l10-18M607.7 64.1l9.4-15.2M605 110.7l7.7-14.3M602.5 147.4l10.9-20.1M606.2 151.3l6.5-13M622.3 62.5l7.7-11.5M621.4 82.7l5.7-7.9M620.8 103.6l8.3-12.6M620 139.7l7.3-10M638.8 -4.5l5.7-9.6M634.1 79.2l7.7-10.7M633.6 120.2l6.8-11.3M632.9 122.6l8.6-13.9M630.6 139.9l10.7-21.1M647.5 -6.7l10.4-19.2M648.2 -.9l11.8-19.8M648.2 87.4l4.7-6.9M643.5 98l9.8-19.6M647.4 99.1l4.5-6.8M645.7 141.3l8.6-12.9M641.1 177.7l11.2-22" stroke="#b8782c" stroke-width="1.1" stroke-linecap="round" fill="none"/>
<path d="M489.2 28.4l8.7-13.9M484.2 147.7l8.6-14.1M486.6 161.4l5-7.3M504 48.7l4.8-6.8M498.1 166.6l8.4-14.7M517.2 1.2l7.6-12.8M510.4 110.5l10.9-22M511.3 116.4l7.7-11.8M512.2 132.1l3.8-7M511.7 165.2l4.7-7.2M530.8 47.3l5.9-9.3M529.7 101.1l4.8-7.5M529.4 149.4l7.8-15.1M525.4 157.8l6.9-13.2M524.3 175.2l8.9-14.5M545.6 -1.2l6.8-13.9M545.5 11.6l7.8-12.4M546.6 19.1l4.1-5.9M542.7 40.9l8.2-12.8M542.4 49.9l6.2-8.9M543.6 56.1l7.4-11.9M540.6 115.5l7.4-10.3M542.3 143.5l7.4-11.5M541.5 144.7l6.7-13.1M552.2 139.2l6.4-9.5M551.6 153.1l5.3-9.6M551.1 156.6l7-11.5M550.3 167.7l9.4-19M567.5 28.2l6.5-12.8M566 39.6l10.1-16M566.1 55.7l10-17M564.9 85.9l10.4-19.8M564.5 88.3l10.2-17.4M564.7 116.9l6.6-11.6M566.1 120.2l5.6-9M563.4 128.2l10.1-14.3M566.2 137.9l8.5-13.9M567.6 138.9l3.2-5M585.9 16.3l5.2-8.1M581.9 23.9l7.5-15.2M581.1 87.5l4.8-9.4M581.2 88.6l7.3-14.8M576.9 130l7.9-13M598.9 4.5l4.9-8.5M596.8 37.9l6.3-12.5M596.2 46.9l5.5-8.6M613 -4l5-7.2M609 31.2l7.8-12.4M605.8 91.8l7.2-13.5M606.8 109.1l5.9-8.5M621.6 -3.4l11-16.1M619.4 90.2l8.1-12.2M622.2 96.6l4-5.6M618.6 106.3l9.8-14.8M620.5 112.8l6.2-10.6M618.9 120.2l9.5-15.1M635.1 8.8l7.4-10.9M635.6 44l9.7-19.5M634.7 62.2l8.2-12.6M632.5 104.9l7.7-15.1M645.8 44.7l7.6-15.5M645.9 51.8l10.4-15.2M648.9 83.9l4.9-6.8M647.9 117.9l7.6-13.7M648.4 124.8l3.4-5M644.7 137.5l9.7-15M645.8 138.7l8.4-15.4M644 176.3l6.4-13.1" stroke="#d89a44" stroke-width="0.7" stroke-linecap="round" fill="none"/>
<path d="M487.9 100.1l8.1-13.5M504.8 51.6l3.5-6M500.1 87.4l9.2-13.4M499.5 152.1l5.4-8.2M497.5 169.6l8.1-15.5M499.6 186.2l4.8-9.6M517.6 14.4l4.6-7.8M515.2 98.6l7.5-10.6M511.7 107l7.1-13.1M512.5 117.9l5.6-9.3M512.9 122.5l4-5.6M534.3 .3l5.7-9.7M532.8 17.1l5.7-8.2M529.4 34.7l10.8-15.8M529.5 39.7l10.1-16.7M528.9 81.3l10.8-16.5M526.6 161.5l8.6-15.6M524.8 197.7l11.4-17.1M543.4 4.2l11.4-17.9M546.4 7.7l7.2-10.7M544.2 44.3l7.8-11.1M543 61.9l9-16.8M540.7 80.1l9.5-17M541.5 95.5l5.7-9.5M555.2 51.3l6.8-9.6M552.5 53.8l7.5-15.4M551.7 128.4l7.6-13.2M553.8 157.7l3.4-6.4M571.4 -2.7l7.6-11.1M569.4 1.5l9.8-16M566.6 38.7l10.1-19.9M565.1 72.3l7.4-11.9M566.4 77.6l8.6-17.4M564.7 92.4l10.3-15.1M567.6 104.5l5.2-8.2M568.3 105.8l3.6-4.9M564.8 107.9l7-13.4M564.1 124l8-14.4M567.2 145.9l5.5-8.7M566 147.1l8.3-15.2M564 156.9l9.7-15.2M561.8 161.8l10.4-18.8M584.2 48.4l6.8-9.5M583.5 55.3l5.5-8.3M579 73.5l8.5-14.7M581.3 74.4l4.7-8.8M583.1 99.6l3.3-6.5M582.2 100.7l7.4-13.3M580.1 103l8.4-15.8M576.8 122.8l7.7-15.5M580.4 136.9l5-9.1M578.5 146.8l8-12.6M597.8 -1l6.8-9.7M596.2 .9l9.6-16M597.1 21.1l6-8.9M597.4 28.1l8.9-16.3M598.5 53l5.8-10.7M598.4 54.3l5.4-11.1M597.5 60l7.2-10.6M596.5 69.9l6.4-11.8M596.1 85.8l4-8.1M592.7 90.6l9-15.2M592.2 119.8l7.7-11.8M591 137.8l8.6-15.2M592 155.7l7.9-11.9M607 30.2l6.6-10.1M607.9 83.4l6.2-9.9M605.7 85.7l7-10.2M607.1 97.1l7.7-14.5M604.5 121.9l8.3-13.7M604.4 148.7l5.5-8.4M604.3 158.2l6.2-11.5M621.2 4.8l9.9-14.3M621.2 30.6l10.2-20.8M624.4 38.9l6.8-10.4M621.4 48.1l6.3-10.1M620 49.4l9.7-15.3M621.5 50.6l7.1-11.8M621.8 57.2l5.3-8.2M622.7 80.3l8-15.1M621.1 108.6l8-13.4M617.3 114l8.4-13.2M618.9 129.2l6.3-12.8M620.1 132.1l4.7-8.4M636.1 .8l6.6-10.6M636.8 2.2l5.8-11.8M635.6 65l4.1-6.1M635.7 72.9l7.4-13.4M632.6 81.4l10.5-20.9M631.8 98.5l8-15.2M650.1 6.7l6.3-8.8M645.5 35.3l11.3-18.7M646.1 52.8l10-15.2M647.8 65.6l6.8-11.7M646 85l7-10.7" stroke="#c88a3a" stroke-width="0.9" stroke-linecap="round" fill="none"/>
<path d="M487.8 101.3l7.9-14.8M505.3 1.1l5.2-9.9M501.1 114.6l7.4-12.5M501.4 153.2l3.7-7M515.2 -8.1l7.2-11.3M516.4 15.9l7.5-12.1M514.2 34.1l9.6-16.1M513.3 55.8l5.3-9.4M509.2 153.2l7.6-15.5M510.4 181.3l8.6-14.7M531.6 52.9l3.8-5.7M528.1 74.5l10.3-14.8M529.7 87.1l6.6-10.7M526.6 92l9.3-18.3M527.6 93.3l8.1-11.7M525.8 112.8l9.8-14M527.7 128.9l6.9-12.7M528.4 140.5l9.1-12.7M530.1 143.2l4.7-9.4M524.6 155.6l7.9-15.6M523.7 163.8l10.8-19.6M527.2 171.2l8-12.7M544.5 .1l8.4-13.3M546.6 14.5l4.7-8.1M543 17.8l7.7-12.8M543.1 35.5l8.7-16.3M542.6 42l7.1-11.6M543.9 43.2l6.6-9.5M542 86.2l6.2-9.4M538.8 106l9.1-13.4M541.2 126.4l8.3-13.9M541 131.1l7.7-11.3M557.4 23l6.4-8.9M552.4 37.5l8.1-13.1M556.6 63.3l6.2-11.8M555.3 68.3l9-15.3M554.6 69.5l7.2-10.9M553 124.3l6-10.5M570.1 9.8l7.9-11M570.3 17.6l6.1-11.2M567.4 43.8l10.4-18.3M565.6 69.2l9.4-13.3M567 93.5l8.3-13.6M566.9 140l7.6-11.7M580.4 31.9l6.8-10.8M580.1 33.1l8.4-14M582.1 82.5l4.9-7.6M581.4 97.4l7.5-13.4M581.1 152.4l4.4-8.2M594.4 51.6l10.4-16.9M595.8 65.4l6.1-10.2M596.4 89.5l3.2-5.3M597.1 105.3l3.3-4.6M594.2 106.4l6.1-11.2M595.8 114.3l5.4-7.4M595.3 117.5l5.6-8.2M593.6 122.1l6.3-10.2M592.3 132.2l7.6-11.2M594.1 148.1l8.2-15.2M593 150.8l8.5-15.6M609.2 1.9l10.5-19.6M610.1 46.3l7-12M607.5 60.4l6.9-11.2M608.3 71.3l6.4-9.1M605.4 118.4l7.9-11.1M605.3 134.9l7.1-11.6M606.1 142.4l6.6-13.5M621.2 29.4l10.3-16.8M621.6 54l7.3-12.9M620.8 59.9l7.4-12.9M619.2 94.3l10.8-15.9M618.2 118.9l7-11.9M619.6 122.8l6.5-9.5M619.9 152.4l5.4-7.9M635.6 34.8l7-11M636.1 58.7l4.1-5.9M634.4 97.2l8.9-15M635.2 102.3l6.1-9.2M635 106.2l4.8-8M630.9 132.9l7.9-11.8M649.1 -4.5l6.7-9.7M650.5 1.7l9.1-16.6M650.7 5.5l7.8-12.6M650.3 12.2l5.3-8M650.3 66.6l7.8-14.4M647.3 143.5l7.6-13.5M643.3 162.6l7.3-13" stroke="#c88a3a" stroke-width="0.7" stroke-linecap="round" fill="none"/>
<path d="M486.8 105.1l6.8-9.7M483.9 153.2l8.5-12.7M503.8 26.6l7-14.4M500.5 89l7-11.3M501.7 99l5.5-8.9M517.7 6.5l6.7-11.5M514.3 27.6l10.3-20.8M510.7 141.8l5.4-8.1M508.7 147.8l9.4-15.3M508.1 156.6l8.8-16.2M508.5 161l8.8-13.7M510.4 177.8l9.8-17.3M529.3 -6.7l9.7-18M534.4 10.2l6.9-9.6M528.4 51.8l7.6-13.6M527.8 84.8l8.1-12.4M527.4 103.8l7.4-11.9M526 106.6l9.8-13.8M528.9 154.1l6.8-10.8M524.4 168.6l10.9-18M544.9 21.3l7.2-10.1M544 32.6l7.3-14.6M542.9 57.6l6.6-9.2M540 101.2l6.9-11M541.1 139.7l8.3-12.7M538.8 152.7l8.6-14.6M554.4 12.5l10.7-17.9M553.4 35.3l8.8-16.4M553.7 42.8l8.5-14.6M555.9 46.5l5.9-8.7M553.2 73.3l9.2-15.1M554.4 88.2l6.5-9M552.6 120.1l7.4-11M551.3 135.8l6.5-11.2M550.8 150.9l6.8-9.4M569.4 23.7l8.6-17.5M566.1 51.4l9.2-16.5M570.3 52.6l6.9-10.7M567 90.7l8.3-14.9M564.8 131.8l8.1-16.1M565.1 135.8l8.5-15.2M564.5 142.1l7.4-11.1M582.2 -4.8l6.2-9.2M585.2 3.4l6.7-13M583.9 11.8l6.5-9.4M583.6 26.2l5.7-10.7M580.8 78.8l7.8-13.1M582.2 81.2l5.2-7.8M579.5 103.9l9.7-18.4M580.9 114.9l6-8.7M578.1 144.5l7.2-12.1M598.4 22.2l8.3-15.3M595.2 59l9-17M597.9 66.6l5.9-8.3M593.5 74.5l9.7-13.8M597.3 101.2l3.6-6.9M593.8 120.9l6.3-10.9M591.9 129.3l6.4-12.6M591.9 135.6l9.1-17M594.8 154.4l5.7-8M611.5 -1.7l5-9.8M607.4 12.5l9.1-12.6M608.1 32.8l7.2-13.6M609 40.5l4.8-8M609.4 57.7l7.2-12.9M609.4 73.3l3.6-5.5M607.8 106.8l7.4-11.8M605.6 112.3l9.9-18.2M604.4 141.3l7.2-12.5M621 21.5l11.7-21.6M621.7 37.8l9.1-16.4M623.3 51.6l6.2-8.6M622 70.3l5.3-9.2M622.6 86.6l7.9-13.3M617.6 102.6l10.3-20.7M632.9 15l10.8-15.8M634.9 18.9l8.9-14.6M634.3 27.5l8.8-15.6M634.6 37.2l8.1-15.4M635.2 41.4l8.8-16.4M637.6 46.5l5.8-8.7M635.9 55.7l6.5-11.8M633.1 107l7.8-11.5M633.4 151.7l4.7-7.4M649.9 -5.4l10.1-20M646.9 54l10.5-16.9M646.9 56.7l8.1-12M646.3 96l7.7-13.1M643.8 119.3l9.8-16.6M644.3 182.7l9.1-16.9" stroke="#b8782c" stroke-width="0.7" stroke-linecap="round" fill="none"/>
<path d="M487.3 120.7l6.1-8.9M483.5 174.7l8.3-16.3M499.5 126.1l6-9.6M513.7 59.5l7.6-11.7M510.9 84.1l11.3-20.7M509.9 176.7l7.7-14.1M531.6 1.5l8.8-13.5M530.6 30l8.8-12.6M527.6 42.4l10.9-19.4M530.1 43.8l8.1-11.1M528 110.5l5.5-10.6M529.2 119l5-7.2M525.6 132.9l8.8-18M524 159.1l9.6-14.3M527.5 166l7.9-10.9M543.8 31.6l4.9-8M545.3 52.6l3.6-6.4M541.1 75.9l10.8-15.9M542.2 109.9l5.1-7.3M539.9 116.8l7-10.5M541.8 156.6l4.9-10.1M554.6 27.8l9.9-17.3M552.4 41.4l9.7-14.7M553.2 50.2l8.9-15.5M551.5 109.3l8.4-11.6M553.1 130.6l5.7-8.8M567.6 8.5l9.6-18.9M567.6 16.2l9.7-15.1M566.6 101.1l7.4-12.5M566.1 119.1l6.9-13.1M566.3 152.1l7.4-14.5M580.9 46.1l10.3-15.4M581.4 69.8l5.6-10M598 26.8l8-14.3M595.5 34.4l9.9-18.1M594.8 35.2l8.6-13.5M594.2 41.7l8.6-16.2M598.4 62.7l5.8-10.1M596.9 96.3l5.8-10M594.6 111.2l6.3-12.1M593.7 127l4.9-8.1M609.7 -6.3l9.9-15.1M611.5 6.6l5.6-10.4M606.9 49.9l9.5-18.1M604.7 79.7l9.3-14.2M606.5 81.2l5.4-7.4M605.7 88l6.9-13.3M605.2 105.5l8.2-14.8M605.8 127.9l9.3-13.6M625.2 19.3l4.9-9.9M621.9 36.6l8.9-14.6M624.3 44.4l6.2-8.8M620.5 65.4l8.8-14.4M620 75.6l7.4-14.3M621.7 85l8.9-13M618.5 91.2l12.1-22.5M618 126.3l10.6-17.6M634.5 31.9l11.3-21.2M638.4 32.9l3.4-6.9M632.9 61l7-12.1M634.8 74.4l8.2-14.2M631.9 123.9l8.9-15.7M632 131.6l10-15.5M648.8 37.6l9-16.8M645 47.3l10.2-20.5M644.1 101.3l11.6-19M644.6 115.2l10.1-16.6M645.8 123.8l6.7-9.6M644.4 144.6l9.7-14.2M647 147l7.7-15.2" stroke="#8a5222" stroke-width="1.1" stroke-linecap="round" fill="none"/>
<path d="M481.5 197.1l10.4-17.2M524.1 193.6l9.9-17.3M552.4 173.1l4.3-7M563.5 174.4l6-9.8M579.4 166.6l6.1-9.5M578 174l5.3-7.3M591.1 172.9l6.5-10.7M591.3 180.4l7.7-10.9M618.6 164.8l8.4-11.8M615.5 167.3l10.4-18.7M634.8 146.7l6.3-11M633 181.9l6-11.5M630.7 188.7l6.1-12M645.8 184.8l7.2-11.3M643.8 192.2l7.2-11.5" stroke="#06704a" stroke-width="1.1" stroke-linecap="round" fill="none"/>
<path d="M482.8 198.2l7.9-14.9M540.7 185.3l5.2-7.7M540.8 196.7l4.6-8.8M536.7 198l9.3-14.1M565.1 175.5l5.6-9.4M562.2 184.1l9.1-14M579.5 175.2l3-5.5M590.3 188.2l7.7-13.4M594.3 189.2l3-4.3M606.9 177l4.1-5.9M600.4 200.4l8.2-14.9M618.2 165.9l6-9.6M618.5 191.1l6.1-10.8M630.2 153l9.8-17M646.1 153.8l5.9-8.9M641.9 159.1l9.6-18.6" stroke="#06704a" stroke-width="0.9" stroke-linecap="round" fill="none"/>
<path d="M482.7 199.4l9-15.6M540.6 180.1l6.5-9.9M540.6 181.2l3.9-7.7M537.3 186.8l7.2-10.4M540.8 188.7l6.4-10.9M564.4 180l5-9.4M595.1 157.1l4.5-8.1M593.8 186.1l4.9-8.4M604.2 181.3l8.1-15.7M604.2 182.3l6.9-9.6M602.6 187.4l10.2-17.8M604.3 197.5l4.5-6.6M602.8 199.1l6.2-11.2M619.6 185.5l4.3-7M616.1 199.9l7.5-11.4M628.6 171l9.9-16.3M644.9 148.6l7.5-13.7M641.4 158l12-19.7M644.9 180.1l5.3-9.9M645.8 196.8l4.9-8.4" stroke="#20c890" stroke-width="0.9" stroke-linecap="round" fill="none"/>
<path d="M485.1 200.9l7.9-13.6M500 188.5l4.8-8.6M499.3 189.4l4.5-8.6M496.8 196l6-10.1M552.4 168.8l6.1-9.9M551.3 174.5l8.2-14.6M550.8 176.9l4.9-8.6M549.3 190.3l5.3-10.3M562 197.3l10.7-16.2M604.4 164.5l7.4-11M604 190.8l6.5-9.6M616.4 178.7l9.7-14.1M628.8 176l10.8-16.2M628.5 178.1l9.4-13.9M641.1 161.7l9.5-19.5" stroke="#50e8c0" stroke-width="0.9" stroke-linecap="round" fill="none"/>
<path d="M498.4 182.9l6.6-9.2M510.9 188l5-8.8M540 183.4l5.8-8.9M550.4 164l9.8-14.8M548.4 192.8l9-13.9M563.1 167.2l9.2-16.8M579.3 180.2l5.7-8.1M580 187.8l3.8-5.6M577.6 192.3l6.5-9.3M592.7 171.8l5.3-9M592.3 182.7l7.1-9.8M620.2 159.5l5.2-8.3M619.2 176.7l6.7-10M616.2 177.8l7-10.8M617.4 190.1l7.2-14.6" stroke="#10a870" stroke-width="1.1" stroke-linecap="round" fill="none"/>
<path d="M498.2 190.4l6.5-9.4M506.9 197.2l9.2-15.4M536.3 176.4l11-18.7M538 192.6l6.9-10.5M551.4 164.8l7.5-14.2M551.4 185.6l6.9-9.7M562 182.9l9.3-18.5M577.7 181.3l7.2-11.2M576.5 196.9l8.7-13.2M591.8 179.1l6.3-9.3M603.6 160.8l7.7-11.1" stroke="#0a9060" stroke-width="0.9" stroke-linecap="round" fill="none"/>
<path d="M497 192.8l6.1-10.5M539.5 169.5l7.6-11.3M552.9 165.6l4.5-6.3M547.6 187.8l9-16.1M578.4 157.5l5.1-9M577.3 183.2l7.9-14.9M591 166.5l9.1-18.5M602.7 161.8l10.3-17.3M605.7 171.6l4.7-9.5M603 177.9l9.8-16.6M604.9 184.7l6.6-10.9M605.4 193.3l6-8.3M616.7 151.3l10.4-17.3M618.5 193.5l4.4-6.5M629.7 195.3l8-13.2" stroke="#06704a" stroke-width="0.7" stroke-linecap="round" fill="none"/>
<path d="M496.8 193.9l7.6-12.8M497.6 199.8l6.5-9.3M507.7 198.2l10.3-20.2M522.9 179.9l9.2-15.7M525.2 185.6l9.5-17.1M527 200.6l6.7-10.1M548.2 179.4l10.9-15M562.6 176.6l10.6-19.4M591.2 164.5l6.9-10.9M594.4 194.7l6.7-10.8M605.4 159.6l8.1-13.1M632.9 162.1l7.4-12.4M633.1 182.8l6.2-10.2M629.7 185.5l7.1-14.4M631.9 194l7.6-14.1M630.4 196.6l8.3-12.7M644.3 151.2l5.9-8.6" stroke="#0a9060" stroke-width="1.1" stroke-linecap="round" fill="none"/>
<path d="M499 195l4.5-7.4M507.3 192.7l10.8-18.2M510.5 193.8l6.4-12M525.6 176.4l5.6-9.5M537.8 173.9l9.7-14.2M536.4 195.3l7.9-14M552.1 169.8l5.8-8.4M551.5 191.5l5.9-9.7M565.7 173.1l7.4-12.6M565 181.7l8.3-15.4M562.8 198.4l9.8-15.7M578.4 186.8l5.5-11.2M578.2 193.5l7.3-13.2M594.3 168.5l5.1-7.6M592.2 177.7l7.1-9.9M604.9 165.9l6.9-11.3M601.8 191.7l7.5-14.4M617.4 169.2l6.9-12.3M619.1 171.8l8.1-13.2M615.4 180.2l8.7-13.7M633.9 150.2l4.5-7.5M632.5 177.1l4.6-8.8M629.8 191.8l10.9-18.4M643.9 168.6l9.1-14.2M642 194.5l10.5-15.2" stroke="#50e8c0" stroke-width="0.7" stroke-linecap="round" fill="none"/>
<path d="M496.8 197.2l6.4-10.6M507.7 190.1l11-15.6M509.1 191.3l6.6-11.6M524.6 197.2l10.9-21.9M540.5 188.1l4.8-7.5M536.5 194l10.5-14.7M536.8 199.2l8.6-12.2M562.6 187.4l6.9-11.4M563 188.6l8-11.5M563.9 194.6l6.8-11.2M562.2 199.4l9.9-19.3M578.9 198.4l4.7-6.8M594 167.6l4.8-9.6M589.5 181.7l9.7-17.5M591.9 190.2l5.6-8M602.5 163.3l8-11.3M619.3 160.5l5.5-9.6M619.8 173l6.8-11.6M615.3 192.7l7.6-13.1M629.1 200.6l10.8-21.2M643.9 145.9l10.2-16.8M645.4 157l4.8-8.5M641.8 171.1l9.5-17.7" stroke="#20c890" stroke-width="1.1" stroke-linecap="round" fill="none"/>
<path d="M513.9 2.7l7.9-15.6M511.6 91.1l7.6-11.7M514.7 103.6l6-9.3M508.6 145.6l10.4-15.8M533.6 21.5l4.4-6.7M529.8 27.4l11.4-21.2M531.7 33.5l4.9-9.6M528.6 46.4l10.8-20.5M529 59l8-15.1M527.1 100.2l8.6-13.7M528.1 119.8l5.8-9.1M529 127.8l7.3-10.7M528.1 156.5l6-9.8M547.4 -7.1l6.9-12.5M544.6 63.4l4.7-9.5M544.2 87.5l4.4-6.1M542.2 145.3l5.4-7.6M554.4 7.4l7.7-12.4M555.3 8.7l6.1-10M556.3 15.2l8.6-12.6M555 20.4l10.1-20.5M553.1 57.9l8.2-13.7M552.4 59.2l11.4-21.3M551 96l6.7-12.7M553.9 131.9l4.9-6.9M551.9 160.3l7.2-14.6M569.3 34.9l5.3-9.4M565.3 78.5l11-18.2M567.7 113.4l6.5-12.6M582.1 20l7.2-13.4M581.2 64.9l8.5-12.6M579.8 72.3l7.3-13.9M579.6 90.9l7.8-13.1M579 113.9l8.9-15.9M579.3 145.6l7.2-11.2M598.2 -8.1l5.5-8.8M595.3 -2.2l8.9-14.6M599.9 23.4l4-7M597.8 24.5l8.8-15.9M596.8 29.6l8.6-12.4M593.4 115.2l9.4-13.5M608.9 29l6.5-10.1M606.9 42.8l9.8-15.9M607 61.9l8.9-15.7M609.4 70.4l7.4-11.4M606.6 101.9l7.4-11.3M603.9 152.3l5.4-10.2M621.7 -7.5l8.5-12.9M621.6 -.4l7.5-11.6M624.6 14.8l5.1-8.6M625.2 15.8l5.1-8.1M619.4 58l11.4-16.4M617.8 130.8l9.7-13.5M636.4 50.8l6.7-9.4M634.4 78l7.7-13.3M634.6 108l5.2-10.2M633.2 113.6l7-11.9M634.1 138.4l6-9.9M634 143.2l5.4-8.3M647.9 17.9l8.6-15.3M647.8 18.7l10.7-19.6M649.7 36.7l5.8-11.7M646.2 40.1l7.4-12.1M649.5 58l5-8.1M644.4 103.3l8.7-14.9M644.7 109.1l10-15.7M645.6 122.9l7-10" stroke="#d89a44" stroke-width="1.1" stroke-linecap="round" fill="none"/>
<path d="M508.6 186.1l8-11.7M508.6 200.5l9.2-15.5M525.7 189.6l6.6-10.9M526.4 191l5.6-9.8M540.2 177.7l4.9-7M565.9 172.1l3.3-5M577.6 164.2l4.7-9.6M605.2 176.1l8.7-17.2M618.5 188.8l6.3-12.7M618.2 194.9l7.4-11" stroke="#30d8a8" stroke-width="0.7" stroke-linecap="round" fill="none"/>
<path d="M512.1 186.8l6.8-12.5M508.5 199.3l7-13.4M537 182.3l9-16.2M550.7 178.1l5.3-10M549.8 181.8l7.6-11.2M547.5 189.1l8.4-16.8M565.8 169.5l7.4-13.8M590.1 187.3l10.1-15.8M602.4 170.6l8.8-12.7M618.4 164l7.2-13.5M630.7 164.9l5.2-7.2M631.2 166.2l7-11.5M629.8 167.1l8.3-12.3M641.5 170.2l10.7-21.1M643.3 175.4l8.2-11.8" stroke="#18b880" stroke-width="0.7" stroke-linecap="round" fill="none"/>
<path d="M508.7 189l10-15.7M549.1 196.7l9.3-15.4M577.8 184.4l6-11.3M580.5 188.8l6.6-10.9M594.3 159.3l6.3-12.2M605.3 167.9l5.5-9.8M604.8 169.4l5.5-11.3M618.4 158.4l7.8-11.1M617.5 162.7l7-12.6M618.9 183.5l7.1-10M633.3 158.8l4.3-6M630.5 168.3l6.4-10.4M630.3 180.8l9-14.3M643.4 198l8-12.3" stroke="#10a870" stroke-width="0.9" stroke-linecap="round" fill="none"/>
<path d="M510.7 196l6.8-12M522.7 178.7l9.9-14.6M523.8 192.3l9-13.2M536.3 191.1l10.4-20.8M551.9 175.5l5.1-7.6M561.4 171.4l11.5-17.8M562 186.2l10.4-14.6M561.8 191.8l9.2-18.2M575.7 167.9l7.1-12.6M578.1 170.3l4.5-6.2M578.2 176.5l6-9.4M580.2 191.1l4.9-7.7M593.5 161.9l6.4-13M592.2 169.7l5.1-9.1M590.8 174.2l9.6-15M591 191.5l6.9-13.1M617 157.3l8.8-15.1M631.2 144.6l9.5-15.2M630.6 161.1l7.9-14.9M643.3 178.7l10.2-19.2M644.5 187.5l9.2-18.3M642.5 199.1l11-15.7" stroke="#18b880" stroke-width="1.1" stroke-linecap="round" fill="none"/>
<path d="M523 182.4l10.9-21.2M551.6 194.3l5.5-11.1M579 168.8l4.8-8.7M579.3 172.9l4.7-6.5M594.7 163.3l3.2-5.2M591.8 185l5.9-8.9M603.9 155.6l6.5-11.5M602.2 157l8.2-16M606.4 179.1l4.9-8.3M604.4 195.4l7.8-11M616 168.6l10.9-17.7M614.7 197.3l9.6-18.5M628.4 169.7l11.4-18.7M641.6 188.6l8.5-12" stroke="#20c890" stroke-width="0.7" stroke-linecap="round" fill="none"/>
<path d="M524.5 195.8l9.7-17.5M526.5 198.2l9.3-15.3M539.4 175.1l7.2-10.6M540.3 200.8l7.5-13.5M549.6 170.9l7.7-12.6M578 158.4l6.2-11.2M578.8 179.3l4.1-8M592.7 184.1l4.2-7.7M590.3 193.7l7.5-10.9M615.8 170.4l10.1-18.4M617.4 175.4l8.2-14.6M618.1 196.3l6.6-9.4M631.3 155.4l6.2-10.8M631.4 174.7l8.3-11.6M641.6 181.5l9.6-14.3" stroke="#30d8a8" stroke-width="0.9" stroke-linecap="round" fill="none"/>
<path d="M539.6 168.5l6.5-11.6M550.2 195.6l8.1-11.9M563.4 162.7l6.3-9.8M564.5 165.8l8.2-11.6M577.8 163.1l7-12.5M578.2 165.4l6.6-12.3M576.9 182.4l8.5-13M591.9 165.6l6-9.9M602.7 186l8.2-12.4M602.9 194.4l9-16.8M617.2 174.5l6.5-9.9M629.4 159.8l7.9-15M632 173.5l6-10.5M632.3 186.8l5.6-8.2M641.5 165.2l9.4-14.1M645 172.3l6.8-9.8M644.4 191l9.2-16.9" stroke="#0a9060" stroke-width="0.7" stroke-linecap="round" fill="none"/>
<path d="M537.8 170.4l7.1-9.9M537 179l9.2-16.7M548.6 180.6l9.3-12.8M548.7 184.4l6.4-10.3M548.8 186.7l7.2-12.5M550.8 197.9l5.8-10.7M563.2 170.4l7.8-11.7M565.5 189.5l3.7-6M562.6 190.6l9.2-17.9M563.7 195.9l8.8-16M578.5 177.8l6.4-9M577.4 185.5l8.1-11.2M579 194.7l5.6-10.2M592.3 175.6l5.6-8.4M590.9 176.7l8.8-12.3M604.5 188.6l5.6-10.3M615.9 161.8l9.9-16.9M619.3 186.6l3.9-7.5M634.3 149.1l5.7-9M628.5 179.5l9.8-13.8M630.2 184.1l9.3-14.6M629.6 191l8.1-12M628.8 197.9l9.2-12.7M644.7 155.1l5.9-11.3" stroke="#30d8a8" stroke-width="1.1" stroke-linecap="round" fill="none"/>
<path d="M550.6 199.3l4.6-9.1M576.4 199.7l7.5-13.2M589.8 170.5l8.3-12.9M591 192.6l6.5-11.3M605.1 167.1l8.5-14.6M606.1 173.2l8-11.4M606.1 174.8l6.5-9.4M604.8 180l9-15.9M603.2 189.6l8.6-14.4M620.3 156.2l7.2-12.5M618.2 181.3l4.9-8.3M619.6 187.8l7.4-14.7M629.7 156.7l10.7-20.6M631.5 163.2l6.8-9.4M630.6 164.3l9-16.7M630.3 193.1l7.4-12.9M640.9 166.4l8.6-16.7M643.2 167.6l7.4-13.9" stroke="#50e8c0" stroke-width="1.1" stroke-linecap="round" fill="none"/>
<linearGradient id="shd" x1="0" y1="0" x2="1" y2="0"><stop offset="0" stop-color="#000" stop-opacity="0.22"/><stop offset="0.2" stop-color="#000" stop-opacity="0.05"/><stop offset="0.55" stop-color="#fff" stop-opacity="0.06"/><stop offset="0.85" stop-color="#000" stop-opacity="0.1"/><stop offset="1" stop-color="#000" stop-opacity="0.18"/></linearGradient>
<path d="M380.2 3.0h14.3L388.1 197.6h-14.3z" fill="url(#shd)"/>
<path d="M393.9 3.0h14.5L402.0 197.6h-14.5z" fill="url(#shd)"/>
<path d="M406.3 3.0h12.6L412.6 197.6h-12.6z" fill="url(#shd)"/>
<path d="M420.3 3.0h12.5L426.3 197.6h-12.5z" fill="url(#shd)"/>
<path d="M432.6 3.0h15.0L441.2 197.6h-15.0z" fill="url(#shd)"/>
<path d="M447.6 3.0h14.1L455.3 197.6h-14.1z" fill="url(#shd)"/>
<path d="M460.1 3.0h13.4L467.0 197.6h-13.4z" fill="url(#shd)"/>
<path d="M473.0 3.0h14.3L480.9 197.6h-14.3z" fill="url(#shd)"/>
<path d="M486.7 3.0h13.6L493.9 197.6h-13.6z" fill="url(#shd)"/>
<path d="M501.3 3.0h12.9L507.8 197.6h-12.9z" fill="url(#shd)"/>
<path d="M512.1 3.0h13.9L519.5 197.6h-13.9z" fill="url(#shd)"/>
<path d="M528.1 3.0h14.6L536.3 197.6h-14.6z" fill="url(#shd)"/>
<path d="M541.7 3.0h13.2L548.5 197.6h-13.2z" fill="url(#shd)"/>
<path d="M553.2 3.0h13.3L560.0 197.6h-13.3z" fill="url(#shd)"/>
<path d="M566.4 3.0h13.6L573.6 197.6h-13.6z" fill="url(#shd)"/>
<path d="M580.8 3.0h12.2L586.6 197.6h-12.2z" fill="url(#shd)"/>
<path d="M594.8 3.0h12.9L601.4 197.6h-12.9z" fill="url(#shd)"/>
<path d="M606.5 3.0h13.4L613.5 197.6h-13.4z" fill="url(#shd)"/>
<path d="M619.9 3.0h14.2L627.6 197.6h-14.2z" fill="url(#shd)"/>
<path d="M633.4 3.0h13.7L640.6 197.6h-13.7z" fill="url(#shd)"/>
<path d="M646.0 3.0h14.5L654.1 197.6h-14.5z" fill="url(#shd)"/>
<circle cx="627.24" cy="17.48" r="0.7" fill="#30c070" opacity="0.8"/>
<circle cx="514.51" cy="60.34" r="0.7" fill="#30c070" opacity="0.8"/>
<circle cx="493.05" cy="38.42" r="0.7" fill="#30c070" opacity="0.8"/>
<circle cx="618.31" cy="22.12" r="0.7" fill="#30c070" opacity="0.8"/>
<circle cx="613.37" cy="140.78" r="0.7" fill="#30c070" opacity="0.8"/>
<circle cx="574.81" cy="14.44" r="0.7" fill="#30c070" opacity="0.8"/>
<circle cx="501.27" cy="92.68" r="0.7" fill="#30c070" opacity="0.8"/>
<circle cx="550.28" cy="53.49" r="0.7" fill="#30c070" opacity="0.8"/>
<circle cx="495.61" cy="17.47" r="0.7" fill="#30c070" opacity="0.8"/>
<circle cx="568.27" cy="87.79" r="0.7" fill="#30c070" opacity="0.8"/>
<circle cx="621.54" cy="111.16" r="0.7" fill="#30c070" opacity="0.8"/>
<circle cx="543.57" cy="138.54" r="0.7" fill="#30c070" opacity="0.8"/>
<circle cx="626.61" cy="123.72" r="0.7" fill="#30c070" opacity="0.8"/>
<circle cx="496.69" cy="28.38" r="0.7" fill="#30c070" opacity="0.8"/>
<circle cx="494.08" cy="54.7" r="0.7" fill="#30c070" opacity="0.8"/>
<circle cx="515.89" cy="123.98" r="0.7" fill="#30c070" opacity="0.8"/>
<circle cx="611.17" cy="82.97" r="0.7" fill="#30c070" opacity="0.8"/>
<circle cx="624.89" cy="74.16" r="0.7" fill="#30c070" opacity="0.8"/>
<circle cx="497.72" cy="68.77" r="0.7" fill="#30c070" opacity="0.8"/>
<circle cx="591.29" cy="35.97" r="0.7" fill="#30c070" opacity="0.8"/>
<circle cx="559.75" cy="148.33" r="0.7" fill="#30c070" opacity="0.8"/>
<circle cx="536.23" cy="121.43" r="0.7" fill="#30c070" opacity="0.8"/>
<circle cx="613.43" cy="22.09" r="0.7" fill="#30c070" opacity="0.8"/>
<circle cx="511.14" cy="120.23" r="0.7" fill="#30c070" opacity="0.8"/>
<circle cx="606.24" cy="72.63" r="0.7" fill="#30c070" opacity="0.8"/>
<circle cx="521.3" cy="9.26" r="0.7" fill="#30c070" opacity="0.8"/>
<circle cx="634.68" cy="143.7" r="0.7" fill="#30c070" opacity="0.8"/>
<circle cx="617.79" cy="84.87" r="0.7" fill="#30c070" opacity="0.8"/>
<circle cx="608.04" cy="58.55" r="0.7" fill="#30c070" opacity="0.8"/>
<circle cx="536.88" cy="101.07" r="0.7" fill="#30c070" opacity="0.8"/>
</g>
<text x="602.0" y="25.4" fill="#2ad4d0" font-size="13" font-weight="bold">(b)</text>
<circle cx="441.4" cy="52.4" r="9.4" fill="#2E3192"/>
<path d="M441.4 73.9L453.9 86.4L441.4 98.9L428.9 86.4Z" fill="#ED1C24"/>
<text x="123.5" y="251.4" fill="#2E3192" font-size="11.2" textLength="90.5" lengthAdjust="spacingAndGlyphs">Pump power (mJ)</text>
<circle cx="115.3" cy="247.3" r="2.5" fill="#2E3192"/>
<circle cx="222.1" cy="247.3" r="2.5" fill="#2E3192"/>
<text x="123.5" y="499.6" fill="#ED1C24" font-size="11.2" textLength="90.5" lengthAdjust="spacingAndGlyphs">Pump power (mJ)</text>
<path d="M115.3 491.7L119.1 495.5L115.3 499.3L111.5 495.5Z" fill="#ED1C24"/>
<path d="M222.1 491.7L225.9 495.5L222.1 499.3L218.3 495.5Z" fill="#ED1C24"/>
<line x1="52" y1="469.2" x2="289.2" y2="469.2" stroke="#ED1C24" stroke-width="1.4" />
<line x1="75.72" y1="469.2" x2="75.72" y2="466.6" stroke="#ED1C24" stroke-width="1.0" />
<line x1="123.16" y1="469.2" x2="123.16" y2="466.6" stroke="#ED1C24" stroke-width="1.0" />
<line x1="170.6" y1="469.2" x2="170.6" y2="466.6" stroke="#ED1C24" stroke-width="1.0" />
<line x1="218.04" y1="469.2" x2="218.04" y2="466.6" stroke="#ED1C24" stroke-width="1.0" />
<line x1="265.48" y1="469.2" x2="265.48" y2="466.6" stroke="#ED1C24" stroke-width="1.0" />
<line x1="52" y1="469.2" x2="52" y2="464.4" stroke="#ED1C24" stroke-width="1.0" />
<text x="50.8" y="483.5" fill="#ED1C24" font-size="11" text-anchor="middle" >0.0</text>
<line x1="99.44" y1="469.2" x2="99.44" y2="464.4" stroke="#ED1C24" stroke-width="1.0" />
<text x="98.24" y="483.5" fill="#ED1C24" font-size="11" text-anchor="middle" >0.2</text>
<line x1="146.88" y1="469.2" x2="146.88" y2="464.4" stroke="#ED1C24" stroke-width="1.0" />
<text x="145.68" y="483.5" fill="#ED1C24" font-size="11" text-anchor="middle" >0.4</text>
<line x1="194.32" y1="469.2" x2="194.32" y2="464.4" stroke="#ED1C24" stroke-width="1.0" />
<text x="193.12" y="483.5" fill="#ED1C24" font-size="11" text-anchor="middle" >0.6</text>
<line x1="241.76" y1="469.2" x2="241.76" y2="464.4" stroke="#ED1C24" stroke-width="1.0" />
<text x="240.56" y="483.5" fill="#ED1C24" font-size="11" text-anchor="middle" >0.8</text>
<line x1="289.2" y1="469.2" x2="289.2" y2="464.4" stroke="#ED1C24" stroke-width="1.0" />
<text x="288" y="483.5" fill="#ED1C24" font-size="11" text-anchor="middle" >1.0</text>
<line x1="52" y1="277" x2="52" y2="469.2" stroke="#231F20" stroke-width="1.2" />
<line x1="52" y1="437.17" x2="54.6" y2="437.17" stroke="#231F20" stroke-width="1.0" />
<line x1="52" y1="373.1" x2="54.6" y2="373.1" stroke="#231F20" stroke-width="1.0" />
<line x1="52" y1="309.03" x2="54.6" y2="309.03" stroke="#231F20" stroke-width="1.0" />
<line x1="52" y1="469.2" x2="56.8" y2="469.2" stroke="#231F20" stroke-width="1.0" />
<text x="44" y="473.2" fill="#231F20" font-size="11" text-anchor="end" >573.7</text>
<line x1="52" y1="405.13" x2="56.8" y2="405.13" stroke="#231F20" stroke-width="1.0" />
<text x="44" y="409.13" fill="#231F20" font-size="11" text-anchor="end" >573.8</text>
<line x1="52" y1="341.07" x2="56.8" y2="341.07" stroke="#231F20" stroke-width="1.0" />
<text x="44" y="345.07" fill="#231F20" font-size="11" text-anchor="end" >573.9</text>
<text x="44" y="281" fill="#231F20" font-size="11" text-anchor="end" >574.0</text>
<line x1="52" y1="277" x2="289.2" y2="277" stroke="#2E3192" stroke-width="1.45" />
<line x1="75.72" y1="277" x2="75.72" y2="279.6" stroke="#2E3192" stroke-width="1.0" />
<line x1="123.16" y1="277" x2="123.16" y2="279.6" stroke="#2E3192" stroke-width="1.0" />
<line x1="170.6" y1="277" x2="170.6" y2="279.6" stroke="#2E3192" stroke-width="1.0" />
<line x1="218.04" y1="277" x2="218.04" y2="279.6" stroke="#2E3192" stroke-width="1.0" />
<line x1="265.48" y1="277" x2="265.48" y2="279.6" stroke="#2E3192" stroke-width="1.0" />
<line x1="52" y1="277" x2="52" y2="281.8" stroke="#2E3192" stroke-width="1.0" />
<text x="50.8" y="268.8" fill="#2E3192" font-size="11" text-anchor="middle" >0.0</text>
<line x1="99.44" y1="277" x2="99.44" y2="281.8" stroke="#2E3192" stroke-width="1.0" />
<text x="98.24" y="268.8" fill="#2E3192" font-size="11" text-anchor="middle" >0.1</text>
<line x1="146.88" y1="277" x2="146.88" y2="281.8" stroke="#2E3192" stroke-width="1.0" />
<text x="145.68" y="268.8" fill="#2E3192" font-size="11" text-anchor="middle" >0.2</text>
<line x1="194.32" y1="277" x2="194.32" y2="281.8" stroke="#2E3192" stroke-width="1.0" />
<text x="193.12" y="268.8" fill="#2E3192" font-size="11" text-anchor="middle" >0.3</text>
<line x1="241.76" y1="277" x2="241.76" y2="281.8" stroke="#2E3192" stroke-width="1.0" />
<text x="240.56" y="268.8" fill="#2E3192" font-size="11" text-anchor="middle" >0.4</text>
<line x1="289.2" y1="277" x2="289.2" y2="281.8" stroke="#2E3192" stroke-width="1.0" />
<text x="288" y="268.8" fill="#2E3192" font-size="11" text-anchor="middle" >0.5</text>
<line x1="289.2" y1="277" x2="289.2" y2="469.2" stroke="#231F20" stroke-width="1.2" />
<line x1="289.2" y1="437.17" x2="286.6" y2="437.17" stroke="#231F20" stroke-width="1.0" />
<line x1="289.2" y1="373.1" x2="286.6" y2="373.1" stroke="#231F20" stroke-width="1.0" />
<line x1="289.2" y1="309.03" x2="286.6" y2="309.03" stroke="#231F20" stroke-width="1.0" />
<line x1="289.2" y1="469.2" x2="284.4" y2="469.2" stroke="#231F20" stroke-width="1.0" />
<line x1="289.2" y1="405.13" x2="284.4" y2="405.13" stroke="#231F20" stroke-width="1.0" />
<line x1="289.2" y1="341.07" x2="284.4" y2="341.07" stroke="#231F20" stroke-width="1.0" />
<line x1="289.2" y1="277" x2="284.4" y2="277" stroke="#231F20" stroke-width="1.0" />
<text x="62.2" y="296.3" fill="#231F20" font-size="12">(c)</text>
<text transform="translate(9.3,373.1) rotate(-90)" x="0" y="0" fill="#231F20" font-size="11.2" text-anchor="middle" textLength="115" lengthAdjust="spacingAndGlyphs">Peak wavelength (nm)</text>
<line x1="103.8" y1="386.5" x2="103.8" y2="409.3" stroke="#ED1C24" stroke-width="1.0" />
<line x1="101.8" y1="386.5" x2="105.8" y2="386.5" stroke="#ED1C24" stroke-width="1.0" />
<line x1="101.8" y1="409.3" x2="105.8" y2="409.3" stroke="#ED1C24" stroke-width="1.0" />
<path d="M103.8 395.7L106.1 398L103.8 400.3L101.5 398Z" fill="#ED1C24"/>
<line x1="114.5" y1="390.7" x2="114.5" y2="407.4" stroke="#ED1C24" stroke-width="1.0" />
<line x1="112.5" y1="390.7" x2="116.5" y2="390.7" stroke="#ED1C24" stroke-width="1.0" />
<line x1="112.5" y1="407.4" x2="116.5" y2="407.4" stroke="#ED1C24" stroke-width="1.0" />
<path d="M114.5 396.6L116.8 398.9L114.5 401.2L112.2 398.9Z" fill="#ED1C24"/>
<line x1="125.8" y1="392.6" x2="125.8" y2="408.3" stroke="#ED1C24" stroke-width="1.0" />
<line x1="123.8" y1="392.6" x2="127.8" y2="392.6" stroke="#ED1C24" stroke-width="1.0" />
<line x1="123.8" y1="408.3" x2="127.8" y2="408.3" stroke="#ED1C24" stroke-width="1.0" />
<path d="M125.8 398.2L128.1 400.5L125.8 402.8L123.5 400.5Z" fill="#ED1C24"/>
<line x1="134.4" y1="401.4" x2="134.4" y2="415.6" stroke="#ED1C24" stroke-width="1.0" />
<line x1="132.4" y1="401.4" x2="136.4" y2="401.4" stroke="#ED1C24" stroke-width="1.0" />
<line x1="132.4" y1="415.6" x2="136.4" y2="415.6" stroke="#ED1C24" stroke-width="1.0" />
<path d="M134.4 406L136.7 408.3L134.4 410.6L132.1 408.3Z" fill="#ED1C24"/>
<line x1="141.7" y1="392.6" x2="141.7" y2="405.2" stroke="#ED1C24" stroke-width="1.0" />
<line x1="139.7" y1="392.6" x2="143.7" y2="392.6" stroke="#ED1C24" stroke-width="1.0" />
<line x1="139.7" y1="405.2" x2="143.7" y2="405.2" stroke="#ED1C24" stroke-width="1.0" />
<path d="M141.7 396.6L144 398.9L141.7 401.2L139.4 398.9Z" fill="#ED1C24"/>
<line x1="152.8" y1="402.2" x2="152.8" y2="414.6" stroke="#ED1C24" stroke-width="1.0" />
<line x1="150.8" y1="402.2" x2="154.8" y2="402.2" stroke="#ED1C24" stroke-width="1.0" />
<line x1="150.8" y1="414.6" x2="154.8" y2="414.6" stroke="#ED1C24" stroke-width="1.0" />
<path d="M152.8 406L155.1 408.3L152.8 410.6L150.5 408.3Z" fill="#ED1C24"/>
<line x1="159.3" y1="394.1" x2="159.3" y2="405.2" stroke="#ED1C24" stroke-width="1.0" />
<line x1="157.3" y1="394.1" x2="161.3" y2="394.1" stroke="#ED1C24" stroke-width="1.0" />
<line x1="157.3" y1="405.2" x2="161.3" y2="405.2" stroke="#ED1C24" stroke-width="1.0" />
<path d="M159.3 397.6L161.6 399.9L159.3 402.2L157 399.9Z" fill="#ED1C24"/>
<line x1="170.1" y1="406.4" x2="170.1" y2="419.8" stroke="#ED1C24" stroke-width="1.0" />
<line x1="168.1" y1="406.4" x2="172.1" y2="406.4" stroke="#ED1C24" stroke-width="1.0" />
<line x1="168.1" y1="419.8" x2="172.1" y2="419.8" stroke="#ED1C24" stroke-width="1.0" />
<path d="M170.1 410.6L172.4 412.9L170.1 415.2L167.8 412.9Z" fill="#ED1C24"/>
<line x1="177.2" y1="358.5" x2="177.2" y2="376.5" stroke="#ED1C24" stroke-width="1.0" />
<line x1="175.2" y1="358.5" x2="179.2" y2="358.5" stroke="#ED1C24" stroke-width="1.0" />
<line x1="175.2" y1="376.5" x2="179.2" y2="376.5" stroke="#ED1C24" stroke-width="1.0" />
<path d="M177.2 365L179.5 367.3L177.2 369.6L174.9 367.3Z" fill="#ED1C24"/>
<line x1="184.8" y1="372.5" x2="184.8" y2="391.2" stroke="#ED1C24" stroke-width="1.0" />
<line x1="182.8" y1="372.5" x2="186.8" y2="372.5" stroke="#ED1C24" stroke-width="1.0" />
<line x1="182.8" y1="391.2" x2="186.8" y2="391.2" stroke="#ED1C24" stroke-width="1.0" />
<path d="M184.8 379.3L187.1 381.6L184.8 383.9L182.5 381.6Z" fill="#ED1C24"/>
<line x1="203.6" y1="366.4" x2="203.6" y2="385.5" stroke="#ED1C24" stroke-width="1.0" />
<line x1="201.6" y1="366.4" x2="205.6" y2="366.4" stroke="#ED1C24" stroke-width="1.0" />
<line x1="201.6" y1="385.5" x2="205.6" y2="385.5" stroke="#ED1C24" stroke-width="1.0" />
<path d="M203.6 373.4L205.9 375.7L203.6 378L201.3 375.7Z" fill="#ED1C24"/>
<line x1="210.1" y1="383" x2="210.1" y2="402.8" stroke="#ED1C24" stroke-width="1.0" />
<line x1="208.1" y1="383" x2="212.1" y2="383" stroke="#ED1C24" stroke-width="1.0" />
<line x1="208.1" y1="402.8" x2="212.1" y2="402.8" stroke="#ED1C24" stroke-width="1.0" />
<path d="M210.1 390.3L212.4 392.6L210.1 394.9L207.8 392.6Z" fill="#ED1C24"/>
<line x1="225" y1="376.3" x2="225" y2="396.4" stroke="#ED1C24" stroke-width="1.0" />
<line x1="223" y1="376.3" x2="227" y2="376.3" stroke="#ED1C24" stroke-width="1.0" />
<line x1="223" y1="396.4" x2="227" y2="396.4" stroke="#ED1C24" stroke-width="1.0" />
<path d="M225 384.2L227.3 386.5L225 388.8L222.7 386.5Z" fill="#ED1C24"/>
<line x1="230.4" y1="363.5" x2="230.4" y2="392.2" stroke="#ED1C24" stroke-width="1.0" />
<line x1="228.4" y1="363.5" x2="232.4" y2="363.5" stroke="#ED1C24" stroke-width="1.0" />
<line x1="228.4" y1="392.2" x2="232.4" y2="392.2" stroke="#ED1C24" stroke-width="1.0" />
<path d="M230.4 375.6L232.7 377.9L230.4 380.2L228.1 377.9Z" fill="#ED1C24"/>
<line x1="241.3" y1="341.3" x2="241.3" y2="367.3" stroke="#ED1C24" stroke-width="1.0" />
<line x1="239.3" y1="341.3" x2="243.3" y2="341.3" stroke="#ED1C24" stroke-width="1.0" />
<line x1="239.3" y1="367.3" x2="243.3" y2="367.3" stroke="#ED1C24" stroke-width="1.0" />
<path d="M241.3 352L243.6 354.3L241.3 356.6L239 354.3Z" fill="#ED1C24"/>
<line x1="269.5" y1="386.3" x2="269.5" y2="412.3" stroke="#ED1C24" stroke-width="1.0" />
<line x1="267.5" y1="386.3" x2="271.5" y2="386.3" stroke="#ED1C24" stroke-width="1.0" />
<line x1="267.5" y1="412.3" x2="271.5" y2="412.3" stroke="#ED1C24" stroke-width="1.0" />
<path d="M269.5 397.4L271.8 399.7L269.5 402L267.2 399.7Z" fill="#ED1C24"/>
<line x1="285.4" y1="354.3" x2="285.4" y2="391.6" stroke="#ED1C24" stroke-width="1.0" />
<line x1="283.4" y1="354.3" x2="287.4" y2="354.3" stroke="#ED1C24" stroke-width="1.0" />
<line x1="283.4" y1="391.6" x2="287.4" y2="391.6" stroke="#ED1C24" stroke-width="1.0" />
<path d="M285.4 370.8L287.7 373.1L285.4 375.4L283.1 373.1Z" fill="#ED1C24"/>
<line x1="101.5" y1="283.4" x2="101.5" y2="426.1" stroke="#2E3192" stroke-width="1.0" />
<line x1="99.5" y1="283.4" x2="103.5" y2="283.4" stroke="#2E3192" stroke-width="1.0" />
<line x1="99.5" y1="426.1" x2="103.5" y2="426.1" stroke="#2E3192" stroke-width="1.0" />
<circle cx="101.5" cy="354.3" r="1.75" fill="#2E3192"/>
<line x1="109.2" y1="377.3" x2="109.2" y2="469.2" stroke="#2E3192" stroke-width="1.0" />
<line x1="107.2" y1="377.3" x2="111.2" y2="377.3" stroke="#2E3192" stroke-width="1.0" />
<line x1="107.2" y1="469.2" x2="111.2" y2="469.2" stroke="#2E3192" stroke-width="1.0" />
<circle cx="109.2" cy="449.7" r="1.75" fill="#2E3192"/>
<line x1="117.8" y1="369.2" x2="117.8" y2="445.3" stroke="#2E3192" stroke-width="1.0" />
<line x1="115.8" y1="369.2" x2="119.8" y2="369.2" stroke="#2E3192" stroke-width="1.0" />
<line x1="115.8" y1="445.3" x2="119.8" y2="445.3" stroke="#2E3192" stroke-width="1.0" />
<circle cx="117.8" cy="407.2" r="1.75" fill="#2E3192"/>
<line x1="127" y1="397.4" x2="127" y2="427.5" stroke="#2E3192" stroke-width="1.0" />
<line x1="125" y1="397.4" x2="129" y2="397.4" stroke="#2E3192" stroke-width="1.0" />
<line x1="125" y1="427.5" x2="129" y2="427.5" stroke="#2E3192" stroke-width="1.0" />
<circle cx="127" cy="412.1" r="1.75" fill="#2E3192"/>
<line x1="133.5" y1="396.4" x2="133.5" y2="426.1" stroke="#2E3192" stroke-width="1.0" />
<line x1="131.5" y1="396.4" x2="135.5" y2="396.4" stroke="#2E3192" stroke-width="1.0" />
<line x1="131.5" y1="426.1" x2="135.5" y2="426.1" stroke="#2E3192" stroke-width="1.0" />
<circle cx="133.5" cy="411.4" r="1.75" fill="#2E3192"/>
<line x1="141.3" y1="407.5" x2="141.3" y2="431.3" stroke="#2E3192" stroke-width="1.0" />
<line x1="139.3" y1="407.5" x2="143.3" y2="407.5" stroke="#2E3192" stroke-width="1.0" />
<line x1="139.3" y1="431.3" x2="143.3" y2="431.3" stroke="#2E3192" stroke-width="1.0" />
<circle cx="141.3" cy="419.4" r="1.75" fill="#2E3192"/>
<line x1="147.5" y1="380.2" x2="147.5" y2="396.4" stroke="#2E3192" stroke-width="1.0" />
<line x1="145.5" y1="380.2" x2="149.5" y2="380.2" stroke="#2E3192" stroke-width="1.0" />
<line x1="145.5" y1="396.4" x2="149.5" y2="396.4" stroke="#2E3192" stroke-width="1.0" />
<circle cx="147.5" cy="387.8" r="1.75" fill="#2E3192"/>
<line x1="157" y1="376.3" x2="157" y2="397.4" stroke="#2E3192" stroke-width="1.0" />
<line x1="155" y1="376.3" x2="159" y2="376.3" stroke="#2E3192" stroke-width="1.0" />
<line x1="155" y1="397.4" x2="159" y2="397.4" stroke="#2E3192" stroke-width="1.0" />
<circle cx="157" cy="386.5" r="1.75" fill="#2E3192"/>
<line x1="160.5" y1="391.3" x2="160.5" y2="405.2" stroke="#2E3192" stroke-width="1.0" />
<line x1="158.5" y1="391.3" x2="162.5" y2="391.3" stroke="#2E3192" stroke-width="1.0" />
<line x1="158.5" y1="405.2" x2="162.5" y2="405.2" stroke="#2E3192" stroke-width="1.0" />
<circle cx="160.5" cy="398.4" r="1.75" fill="#2E3192"/>
<line x1="170.8" y1="376.5" x2="170.8" y2="390.3" stroke="#2E3192" stroke-width="1.0" />
<line x1="168.8" y1="376.5" x2="172.8" y2="376.5" stroke="#2E3192" stroke-width="1.0" />
<line x1="168.8" y1="390.3" x2="172.8" y2="390.3" stroke="#2E3192" stroke-width="1.0" />
<circle cx="170.8" cy="383" r="1.75" fill="#2E3192"/>
<line x1="182.5" y1="380.6" x2="182.5" y2="391.1" stroke="#2E3192" stroke-width="1.0" />
<line x1="180.5" y1="380.6" x2="184.5" y2="380.6" stroke="#2E3192" stroke-width="1.0" />
<line x1="180.5" y1="391.1" x2="184.5" y2="391.1" stroke="#2E3192" stroke-width="1.0" />
<circle cx="182.5" cy="385.6" r="1.75" fill="#2E3192"/>
<line x1="190.2" y1="385.3" x2="190.2" y2="394.5" stroke="#2E3192" stroke-width="1.0" />
<line x1="188.2" y1="385.3" x2="192.2" y2="385.3" stroke="#2E3192" stroke-width="1.0" />
<line x1="188.2" y1="394.5" x2="192.2" y2="394.5" stroke="#2E3192" stroke-width="1.0" />
<circle cx="190.2" cy="390.1" r="1.75" fill="#2E3192"/>
<line x1="197.8" y1="370.2" x2="197.8" y2="387.2" stroke="#2E3192" stroke-width="1.0" />
<line x1="195.8" y1="370.2" x2="199.8" y2="370.2" stroke="#2E3192" stroke-width="1.0" />
<line x1="195.8" y1="387.2" x2="199.8" y2="387.2" stroke="#2E3192" stroke-width="1.0" />
<circle cx="197.8" cy="378.8" r="1.75" fill="#2E3192"/>
<line x1="211.2" y1="377.7" x2="211.2" y2="388.8" stroke="#2E3192" stroke-width="1.0" />
<line x1="209.2" y1="377.7" x2="213.2" y2="377.7" stroke="#2E3192" stroke-width="1.0" />
<line x1="209.2" y1="388.8" x2="213.2" y2="388.8" stroke="#2E3192" stroke-width="1.0" />
<circle cx="211.2" cy="383.2" r="1.75" fill="#2E3192"/>
<line x1="220.8" y1="365.2" x2="220.8" y2="376.3" stroke="#2E3192" stroke-width="1.0" />
<line x1="218.8" y1="365.2" x2="222.8" y2="365.2" stroke="#2E3192" stroke-width="1.0" />
<line x1="218.8" y1="376.3" x2="222.8" y2="376.3" stroke="#2E3192" stroke-width="1.0" />
<circle cx="220.8" cy="370.6" r="1.75" fill="#2E3192"/>
<line x1="232.3" y1="374.4" x2="232.3" y2="384.4" stroke="#2E3192" stroke-width="1.0" />
<line x1="230.3" y1="374.4" x2="234.3" y2="374.4" stroke="#2E3192" stroke-width="1.0" />
<line x1="230.3" y1="384.4" x2="234.3" y2="384.4" stroke="#2E3192" stroke-width="1.0" />
<circle cx="232.3" cy="379.4" r="1.75" fill="#2E3192"/>
<line x1="250.5" y1="378.2" x2="250.5" y2="388.8" stroke="#2E3192" stroke-width="1.0" />
<line x1="248.5" y1="378.2" x2="252.5" y2="378.2" stroke="#2E3192" stroke-width="1.0" />
<line x1="248.5" y1="388.8" x2="252.5" y2="388.8" stroke="#2E3192" stroke-width="1.0" />
<circle cx="250.5" cy="383.6" r="1.75" fill="#2E3192"/>
<text x="474.45" y="251.4" fill="#2E3192" font-size="11.2" textLength="90.5" lengthAdjust="spacingAndGlyphs">Pump power (mJ)</text>
<circle cx="466.25" cy="247.3" r="2.5" fill="#2E3192"/>
<circle cx="573.05" cy="247.3" r="2.5" fill="#2E3192"/>
<text x="474.45" y="499.6" fill="#ED1C24" font-size="11.2" textLength="90.5" lengthAdjust="spacingAndGlyphs">Pump power (mJ)</text>
<path d="M466.25 491.7L470.05 495.5L466.25 499.3L462.45 495.5Z" fill="#ED1C24"/>
<path d="M573.05 491.7L576.85 495.5L573.05 499.3L569.25 495.5Z" fill="#ED1C24"/>
<line x1="402.9" y1="469.2" x2="640.2" y2="469.2" stroke="#ED1C24" stroke-width="1.4" />
<line x1="426.63" y1="469.2" x2="426.63" y2="466.6" stroke="#ED1C24" stroke-width="1.0" />
<line x1="474.09" y1="469.2" x2="474.09" y2="466.6" stroke="#ED1C24" stroke-width="1.0" />
<line x1="521.55" y1="469.2" x2="521.55" y2="466.6" stroke="#ED1C24" stroke-width="1.0" />
<line x1="569.01" y1="469.2" x2="569.01" y2="466.6" stroke="#ED1C24" stroke-width="1.0" />
<line x1="616.47" y1="469.2" x2="616.47" y2="466.6" stroke="#ED1C24" stroke-width="1.0" />
<line x1="402.9" y1="469.2" x2="402.9" y2="464.4" stroke="#ED1C24" stroke-width="1.0" />
<text x="401.7" y="483.5" fill="#ED1C24" font-size="11" text-anchor="middle" >0.0</text>
<line x1="450.36" y1="469.2" x2="450.36" y2="464.4" stroke="#ED1C24" stroke-width="1.0" />
<text x="449.16" y="483.5" fill="#ED1C24" font-size="11" text-anchor="middle" >0.2</text>
<line x1="497.82" y1="469.2" x2="497.82" y2="464.4" stroke="#ED1C24" stroke-width="1.0" />
<text x="496.62" y="483.5" fill="#ED1C24" font-size="11" text-anchor="middle" >0.4</text>
<line x1="545.28" y1="469.2" x2="545.28" y2="464.4" stroke="#ED1C24" stroke-width="1.0" />
<text x="544.08" y="483.5" fill="#ED1C24" font-size="11" text-anchor="middle" >0.6</text>
<line x1="592.74" y1="469.2" x2="592.74" y2="464.4" stroke="#ED1C24" stroke-width="1.0" />
<text x="591.54" y="483.5" fill="#ED1C24" font-size="11" text-anchor="middle" >0.8</text>
<line x1="640.2" y1="469.2" x2="640.2" y2="464.4" stroke="#ED1C24" stroke-width="1.0" />
<text x="639" y="483.5" fill="#ED1C24" font-size="11" text-anchor="middle" >1.0</text>
<line x1="402.9" y1="277" x2="402.9" y2="469.2" stroke="#231F20" stroke-width="1.2" />
<line x1="402.9" y1="392.32" x2="405.5" y2="392.32" stroke="#231F20" stroke-width="1.0" />
<line x1="402.9" y1="315.44" x2="405.5" y2="315.44" stroke="#231F20" stroke-width="1.0" />
<line x1="402.9" y1="430.76" x2="407.7" y2="430.76" stroke="#231F20" stroke-width="1.0" />
<text x="395.9" y="434.76" fill="#231F20" font-size="11" text-anchor="end" >582</text>
<line x1="402.9" y1="353.88" x2="407.7" y2="353.88" stroke="#231F20" stroke-width="1.0" />
<text x="395.9" y="357.88" fill="#231F20" font-size="11" text-anchor="end" >583</text>
<text x="395.9" y="281" fill="#231F20" font-size="11" text-anchor="end" >584</text>
<line x1="402.9" y1="277" x2="640.2" y2="277" stroke="#2E3192" stroke-width="1.45" />
<line x1="426.63" y1="277" x2="426.63" y2="279.6" stroke="#2E3192" stroke-width="1.0" />
<line x1="474.09" y1="277" x2="474.09" y2="279.6" stroke="#2E3192" stroke-width="1.0" />
<line x1="521.55" y1="277" x2="521.55" y2="279.6" stroke="#2E3192" stroke-width="1.0" />
<line x1="569.01" y1="277" x2="569.01" y2="279.6" stroke="#2E3192" stroke-width="1.0" />
<line x1="616.47" y1="277" x2="616.47" y2="279.6" stroke="#2E3192" stroke-width="1.0" />
<line x1="402.9" y1="277" x2="402.9" y2="281.8" stroke="#2E3192" stroke-width="1.0" />
<text x="401.7" y="268.8" fill="#2E3192" font-size="11" text-anchor="middle" >0.0</text>
<line x1="450.36" y1="277" x2="450.36" y2="281.8" stroke="#2E3192" stroke-width="1.0" />
<text x="449.16" y="268.8" fill="#2E3192" font-size="11" text-anchor="middle" >0.1</text>
<line x1="497.82" y1="277" x2="497.82" y2="281.8" stroke="#2E3192" stroke-width="1.0" />
<text x="496.62" y="268.8" fill="#2E3192" font-size="11" text-anchor="middle" >0.2</text>
<line x1="545.28" y1="277" x2="545.28" y2="281.8" stroke="#2E3192" stroke-width="1.0" />
<text x="544.08" y="268.8" fill="#2E3192" font-size="11" text-anchor="middle" >0.3</text>
<line x1="592.74" y1="277" x2="592.74" y2="281.8" stroke="#2E3192" stroke-width="1.0" />
<text x="591.54" y="268.8" fill="#2E3192" font-size="11" text-anchor="middle" >0.4</text>
<line x1="640.2" y1="277" x2="640.2" y2="281.8" stroke="#2E3192" stroke-width="1.0" />
<text x="639" y="268.8" fill="#2E3192" font-size="11" text-anchor="middle" >0.5</text>
<line x1="640.2" y1="277" x2="640.2" y2="469.2" stroke="#231F20" stroke-width="1.2" />
<line x1="640.2" y1="392.32" x2="637.6" y2="392.32" stroke="#231F20" stroke-width="1.0" />
<line x1="640.2" y1="315.44" x2="637.6" y2="315.44" stroke="#231F20" stroke-width="1.0" />
<line x1="640.2" y1="430.76" x2="635.4" y2="430.76" stroke="#231F20" stroke-width="1.0" />
<line x1="640.2" y1="353.88" x2="635.4" y2="353.88" stroke="#231F20" stroke-width="1.0" />
<line x1="640.2" y1="277" x2="635.4" y2="277" stroke="#231F20" stroke-width="1.0" />
<text x="413" y="296.3" fill="#231F20" font-size="12" textLength="15.6" lengthAdjust="spacingAndGlyphs">(d)</text>
<text transform="translate(370.5,373.1) rotate(-90)" x="0" y="0" fill="#231F20" font-size="11.2" text-anchor="middle" textLength="115" lengthAdjust="spacingAndGlyphs">Peak wavelength (nm)</text>
<line x1="454.4" y1="343.8" x2="454.4" y2="412.3" stroke="#ED1C24" stroke-width="1.0" />
<line x1="452.4" y1="343.8" x2="456.4" y2="343.8" stroke="#ED1C24" stroke-width="1.0" />
<line x1="452.4" y1="412.3" x2="456.4" y2="412.3" stroke="#ED1C24" stroke-width="1.0" />
<path d="M454.4 375.9L456.7 378.2L454.4 380.5L452.1 378.2Z" fill="#ED1C24"/>
<line x1="464.9" y1="306" x2="464.9" y2="460.6" stroke="#ED1C24" stroke-width="1.0" />
<line x1="462.9" y1="306" x2="466.9" y2="306" stroke="#ED1C24" stroke-width="1.0" />
<line x1="462.9" y1="460.6" x2="466.9" y2="460.6" stroke="#ED1C24" stroke-width="1.0" />
<path d="M464.9 458.3L467.2 460.6L464.9 462.9L462.6 460.6Z" fill="#ED1C24"/>
<line x1="476.4" y1="366.2" x2="476.4" y2="460.6" stroke="#ED1C24" stroke-width="1.0" />
<line x1="474.4" y1="366.2" x2="478.4" y2="366.2" stroke="#ED1C24" stroke-width="1.0" />
<line x1="474.4" y1="460.6" x2="478.4" y2="460.6" stroke="#ED1C24" stroke-width="1.0" />
<path d="M476.4 458.3L478.7 460.6L476.4 462.9L474.1 460.6Z" fill="#ED1C24"/>
<line x1="484.6" y1="417.1" x2="484.6" y2="460.6" stroke="#ED1C24" stroke-width="1.0" />
<line x1="482.6" y1="417.1" x2="486.6" y2="417.1" stroke="#ED1C24" stroke-width="1.0" />
<line x1="482.6" y1="460.6" x2="486.6" y2="460.6" stroke="#ED1C24" stroke-width="1.0" />
<path d="M484.6 458.3L486.9 460.6L484.6 462.9L482.3 460.6Z" fill="#ED1C24"/>
<line x1="492.3" y1="412.7" x2="492.3" y2="453.5" stroke="#ED1C24" stroke-width="1.0" />
<line x1="490.3" y1="412.7" x2="494.3" y2="412.7" stroke="#ED1C24" stroke-width="1.0" />
<line x1="490.3" y1="453.5" x2="494.3" y2="453.5" stroke="#ED1C24" stroke-width="1.0" />
<path d="M492.3 430.9L494.6 433.2L492.3 435.5L490 433.2Z" fill="#ED1C24"/>
<line x1="503.2" y1="333.6" x2="503.2" y2="341.3" stroke="#ED1C24" stroke-width="1.0" />
<line x1="501.2" y1="333.6" x2="505.2" y2="333.6" stroke="#ED1C24" stroke-width="1.0" />
<line x1="501.2" y1="341.3" x2="505.2" y2="341.3" stroke="#ED1C24" stroke-width="1.0" />
<path d="M503.2 335.1L505.5 337.4L503.2 339.7L500.9 337.4Z" fill="#ED1C24"/>
<line x1="510.1" y1="329.4" x2="510.1" y2="333.2" stroke="#ED1C24" stroke-width="1.0" />
<line x1="508.1" y1="329.4" x2="512.1" y2="329.4" stroke="#ED1C24" stroke-width="1.0" />
<line x1="508.1" y1="333.2" x2="512.1" y2="333.2" stroke="#ED1C24" stroke-width="1.0" />
<path d="M510.1 329L512.4 331.3L510.1 333.6L507.8 331.3Z" fill="#ED1C24"/>
<line x1="520.7" y1="333.6" x2="520.7" y2="338" stroke="#ED1C24" stroke-width="1.0" />
<line x1="518.7" y1="333.6" x2="522.7" y2="333.6" stroke="#ED1C24" stroke-width="1.0" />
<line x1="518.7" y1="338" x2="522.7" y2="338" stroke="#ED1C24" stroke-width="1.0" />
<path d="M520.7 333.6L523 335.9L520.7 338.2L518.4 335.9Z" fill="#ED1C24"/>
<path d="M527.7 326.3L530 328.6L527.7 330.9L525.4 328.6Z" fill="#ED1C24"/>
<path d="M535.3 327.9L537.6 330.2L535.3 332.5L533 330.2Z" fill="#ED1C24"/>
<path d="M553.9 332.5L556.2 334.8L553.9 337.1L551.6 334.8Z" fill="#ED1C24"/>
<path d="M560.3 324L562.6 326.3L560.3 328.6L558 326.3Z" fill="#ED1C24"/>
<path d="M575.6 326.1L577.9 328.4L575.6 330.7L573.3 328.4Z" fill="#ED1C24"/>
<path d="M580.8 324.8L583.1 327.1L580.8 329.4L578.5 327.1Z" fill="#ED1C24"/>
<path d="M591.9 323.4L594.2 325.7L591.9 328L589.6 325.7Z" fill="#ED1C24"/>
<path d="M620 327.1L622.3 329.4L620 331.7L617.7 329.4Z" fill="#ED1C24"/>
<path d="M635.9 323.8L638.2 326.1L635.9 328.4L633.6 326.1Z" fill="#ED1C24"/>
<line x1="548.4" y1="313.3" x2="548.4" y2="324.4" stroke="#2E3192" stroke-width="1.0" />
<line x1="546.4" y1="313.3" x2="550.4" y2="313.3" stroke="#2E3192" stroke-width="1.0" />
<line x1="546.4" y1="324.4" x2="550.4" y2="324.4" stroke="#2E3192" stroke-width="1.0" />
<circle cx="548.4" cy="318.9" r="1.75" fill="#2E3192"/>
<line x1="561.8" y1="277.5" x2="561.8" y2="383" stroke="#2E3192" stroke-width="1.0" />
<line x1="559.8" y1="277.5" x2="563.8" y2="277.5" stroke="#2E3192" stroke-width="1.0" />
<line x1="559.8" y1="383" x2="563.8" y2="383" stroke="#2E3192" stroke-width="1.0" />
<circle cx="561.8" cy="322.7" r="1.75" fill="#2E3192"/>
<line x1="571.2" y1="325.6" x2="571.2" y2="340.1" stroke="#2E3192" stroke-width="1.0" />
<line x1="569.2" y1="325.6" x2="573.2" y2="325.6" stroke="#2E3192" stroke-width="1.0" />
<line x1="569.2" y1="340.1" x2="573.2" y2="340.1" stroke="#2E3192" stroke-width="1.0" />
<circle cx="571.2" cy="332.6" r="1.75" fill="#2E3192"/>
<line x1="583.1" y1="326.9" x2="583.1" y2="334.4" stroke="#2E3192" stroke-width="1.0" />
<line x1="581.1" y1="326.9" x2="585.1" y2="326.9" stroke="#2E3192" stroke-width="1.0" />
<line x1="581.1" y1="334.4" x2="585.1" y2="334.4" stroke="#2E3192" stroke-width="1.0" />
<circle cx="583.1" cy="330.5" r="1.75" fill="#2E3192"/>
<line x1="600.9" y1="324.4" x2="600.9" y2="328" stroke="#2E3192" stroke-width="1.0" />
<line x1="598.9" y1="324.4" x2="602.9" y2="324.4" stroke="#2E3192" stroke-width="1.0" />
<line x1="598.9" y1="328" x2="602.9" y2="328" stroke="#2E3192" stroke-width="1.0" />
<circle cx="600.9" cy="325.7" r="1.75" fill="#2E3192"/>
<text x="123.5" y="521.4" fill="#2E3192" font-size="11.2" textLength="90.5" lengthAdjust="spacingAndGlyphs">Pump power (mJ)</text>
<circle cx="115.3" cy="517.3" r="2.5" fill="#2E3192"/>
<circle cx="222.1" cy="517.3" r="2.5" fill="#2E3192"/>
<text x="123.5" y="770.4" fill="#ED1C24" font-size="11.2" textLength="90.5" lengthAdjust="spacingAndGlyphs">Pump power (mJ)</text>
<path d="M115.3 762.5L119.1 766.3L115.3 770.1L111.5 766.3Z" fill="#ED1C24"/>
<path d="M222.1 762.5L225.9 766.3L222.1 770.1L218.3 766.3Z" fill="#ED1C24"/>
<line x1="52" y1="740" x2="289.2" y2="740" stroke="#ED1C24" stroke-width="1.4" />
<line x1="75.72" y1="740" x2="75.72" y2="737.4" stroke="#ED1C24" stroke-width="1.0" />
<line x1="123.16" y1="740" x2="123.16" y2="737.4" stroke="#ED1C24" stroke-width="1.0" />
<line x1="170.6" y1="740" x2="170.6" y2="737.4" stroke="#ED1C24" stroke-width="1.0" />
<line x1="218.04" y1="740" x2="218.04" y2="737.4" stroke="#ED1C24" stroke-width="1.0" />
<line x1="265.48" y1="740" x2="265.48" y2="737.4" stroke="#ED1C24" stroke-width="1.0" />
<line x1="52" y1="740" x2="52" y2="735.2" stroke="#ED1C24" stroke-width="1.0" />
<text x="50.8" y="754.3" fill="#ED1C24" font-size="11" text-anchor="middle" >0.0</text>
<line x1="99.44" y1="740" x2="99.44" y2="735.2" stroke="#ED1C24" stroke-width="1.0" />
<text x="98.24" y="754.3" fill="#ED1C24" font-size="11" text-anchor="middle" >0.2</text>
<line x1="146.88" y1="740" x2="146.88" y2="735.2" stroke="#ED1C24" stroke-width="1.0" />
<text x="145.68" y="754.3" fill="#ED1C24" font-size="11" text-anchor="middle" >0.4</text>
<line x1="194.32" y1="740" x2="194.32" y2="735.2" stroke="#ED1C24" stroke-width="1.0" />
<text x="193.12" y="754.3" fill="#ED1C24" font-size="11" text-anchor="middle" >0.6</text>
<line x1="241.76" y1="740" x2="241.76" y2="735.2" stroke="#ED1C24" stroke-width="1.0" />
<text x="240.56" y="754.3" fill="#ED1C24" font-size="11" text-anchor="middle" >0.8</text>
<line x1="289.2" y1="740" x2="289.2" y2="735.2" stroke="#ED1C24" stroke-width="1.0" />
<text x="288" y="754.3" fill="#ED1C24" font-size="11" text-anchor="middle" >1.0</text>
<line x1="52" y1="547" x2="52" y2="740" stroke="#231F20" stroke-width="1.2" />
<line x1="52" y1="720.7" x2="54.6" y2="720.7" stroke="#231F20" stroke-width="1.0" />
<line x1="52" y1="682.1" x2="54.6" y2="682.1" stroke="#231F20" stroke-width="1.0" />
<line x1="52" y1="643.5" x2="54.6" y2="643.5" stroke="#231F20" stroke-width="1.0" />
<line x1="52" y1="604.9" x2="54.6" y2="604.9" stroke="#231F20" stroke-width="1.0" />
<line x1="52" y1="566.3" x2="54.6" y2="566.3" stroke="#231F20" stroke-width="1.0" />
<line x1="52" y1="740" x2="56.8" y2="740" stroke="#231F20" stroke-width="1.0" />
<text x="44.8" y="744" fill="#231F20" font-size="11" text-anchor="end" >0</text>
<line x1="52" y1="701.4" x2="56.8" y2="701.4" stroke="#231F20" stroke-width="1.0" />
<text x="44.8" y="705.4" fill="#231F20" font-size="11" text-anchor="end" >200</text>
<line x1="52" y1="662.8" x2="56.8" y2="662.8" stroke="#231F20" stroke-width="1.0" />
<text x="44.8" y="666.8" fill="#231F20" font-size="11" text-anchor="end" >400</text>
<line x1="52" y1="624.2" x2="56.8" y2="624.2" stroke="#231F20" stroke-width="1.0" />
<text x="44.8" y="628.2" fill="#231F20" font-size="11" text-anchor="end" >600</text>
<line x1="52" y1="585.6" x2="56.8" y2="585.6" stroke="#231F20" stroke-width="1.0" />
<text x="44.8" y="589.6" fill="#231F20" font-size="11" text-anchor="end" >800</text>
<text x="44.8" y="551" fill="#231F20" font-size="11" text-anchor="end" >1000</text>
<line x1="52" y1="547" x2="289.2" y2="547" stroke="#2E3192" stroke-width="1.45" />
<line x1="75.72" y1="547" x2="75.72" y2="549.6" stroke="#2E3192" stroke-width="1.0" />
<line x1="123.16" y1="547" x2="123.16" y2="549.6" stroke="#2E3192" stroke-width="1.0" />
<line x1="170.6" y1="547" x2="170.6" y2="549.6" stroke="#2E3192" stroke-width="1.0" />
<line x1="218.04" y1="547" x2="218.04" y2="549.6" stroke="#2E3192" stroke-width="1.0" />
<line x1="265.48" y1="547" x2="265.48" y2="549.6" stroke="#2E3192" stroke-width="1.0" />
<line x1="52" y1="547" x2="52" y2="551.8" stroke="#2E3192" stroke-width="1.0" />
<text x="50.8" y="538.8" fill="#2E3192" font-size="11" text-anchor="middle" >0.0</text>
<line x1="99.44" y1="547" x2="99.44" y2="551.8" stroke="#2E3192" stroke-width="1.0" />
<text x="98.24" y="538.8" fill="#2E3192" font-size="11" text-anchor="middle" >0.1</text>
<line x1="146.88" y1="547" x2="146.88" y2="551.8" stroke="#2E3192" stroke-width="1.0" />
<text x="145.68" y="538.8" fill="#2E3192" font-size="11" text-anchor="middle" >0.2</text>
<line x1="194.32" y1="547" x2="194.32" y2="551.8" stroke="#2E3192" stroke-width="1.0" />
<text x="193.12" y="538.8" fill="#2E3192" font-size="11" text-anchor="middle" >0.3</text>
<line x1="241.76" y1="547" x2="241.76" y2="551.8" stroke="#2E3192" stroke-width="1.0" />
<text x="240.56" y="538.8" fill="#2E3192" font-size="11" text-anchor="middle" >0.4</text>
<line x1="289.2" y1="547" x2="289.2" y2="551.8" stroke="#2E3192" stroke-width="1.0" />
<text x="288" y="538.8" fill="#2E3192" font-size="11" text-anchor="middle" >0.5</text>
<line x1="289.2" y1="547" x2="289.2" y2="740" stroke="#231F20" stroke-width="1.2" />
<line x1="289.2" y1="720.7" x2="286.6" y2="720.7" stroke="#231F20" stroke-width="1.0" />
<line x1="289.2" y1="682.1" x2="286.6" y2="682.1" stroke="#231F20" stroke-width="1.0" />
<line x1="289.2" y1="643.5" x2="286.6" y2="643.5" stroke="#231F20" stroke-width="1.0" />
<line x1="289.2" y1="604.9" x2="286.6" y2="604.9" stroke="#231F20" stroke-width="1.0" />
<line x1="289.2" y1="566.3" x2="286.6" y2="566.3" stroke="#231F20" stroke-width="1.0" />
<line x1="289.2" y1="740" x2="284.4" y2="740" stroke="#231F20" stroke-width="1.0" />
<line x1="289.2" y1="701.4" x2="284.4" y2="701.4" stroke="#231F20" stroke-width="1.0" />
<line x1="289.2" y1="662.8" x2="284.4" y2="662.8" stroke="#231F20" stroke-width="1.0" />
<line x1="289.2" y1="624.2" x2="284.4" y2="624.2" stroke="#231F20" stroke-width="1.0" />
<line x1="289.2" y1="585.6" x2="284.4" y2="585.6" stroke="#231F20" stroke-width="1.0" />
<line x1="289.2" y1="547" x2="284.4" y2="547" stroke="#231F20" stroke-width="1.0" />
<text x="62.5" y="567.3" fill="#231F20" font-size="12">(e)</text>
<text transform="translate(12.2,643.5) rotate(-90)" x="0" y="0" fill="#231F20" font-size="11.2" text-anchor="middle" textLength="138" lengthAdjust="spacingAndGlyphs">Gaussian half-width (GHz)</text>
<line x1="103.8" y1="684.5" x2="103.8" y2="691.9" stroke="#ED1C24" stroke-width="1.0" />
<line x1="101.8" y1="684.5" x2="105.8" y2="684.5" stroke="#ED1C24" stroke-width="1.0" />
<line x1="101.8" y1="691.9" x2="105.8" y2="691.9" stroke="#ED1C24" stroke-width="1.0" />
<path d="M103.8 685.8L106.1 688.1L103.8 690.4L101.5 688.1Z" fill="#ED1C24"/>
<line x1="114.3" y1="687.1" x2="114.3" y2="693.9" stroke="#ED1C24" stroke-width="1.0" />
<line x1="112.3" y1="687.1" x2="116.3" y2="687.1" stroke="#ED1C24" stroke-width="1.0" />
<line x1="112.3" y1="693.9" x2="116.3" y2="693.9" stroke="#ED1C24" stroke-width="1.0" />
<path d="M114.3 688.3L116.6 690.6L114.3 692.9L112 690.6Z" fill="#ED1C24"/>
<line x1="125.4" y1="684.1" x2="125.4" y2="689.6" stroke="#ED1C24" stroke-width="1.0" />
<line x1="123.4" y1="684.1" x2="127.4" y2="684.1" stroke="#ED1C24" stroke-width="1.0" />
<line x1="123.4" y1="689.6" x2="127.4" y2="689.6" stroke="#ED1C24" stroke-width="1.0" />
<path d="M125.4 684.7L127.7 687L125.4 689.3L123.1 687Z" fill="#ED1C24"/>
<line x1="134.1" y1="674.3" x2="134.1" y2="681" stroke="#ED1C24" stroke-width="1.0" />
<line x1="132.1" y1="674.3" x2="136.1" y2="674.3" stroke="#ED1C24" stroke-width="1.0" />
<line x1="132.1" y1="681" x2="136.1" y2="681" stroke="#ED1C24" stroke-width="1.0" />
<path d="M134.1 675.3L136.4 677.6L134.1 679.9L131.8 677.6Z" fill="#ED1C24"/>
<line x1="141.7" y1="679.7" x2="141.7" y2="685.8" stroke="#ED1C24" stroke-width="1.0" />
<line x1="139.7" y1="679.7" x2="143.7" y2="679.7" stroke="#ED1C24" stroke-width="1.0" />
<line x1="139.7" y1="685.8" x2="143.7" y2="685.8" stroke="#ED1C24" stroke-width="1.0" />
<path d="M141.7 680.2L144 682.5L141.7 684.8L139.4 682.5Z" fill="#ED1C24"/>
<line x1="152.8" y1="676.8" x2="152.8" y2="682.9" stroke="#ED1C24" stroke-width="1.0" />
<line x1="150.8" y1="676.8" x2="154.8" y2="676.8" stroke="#ED1C24" stroke-width="1.0" />
<line x1="150.8" y1="682.9" x2="154.8" y2="682.9" stroke="#ED1C24" stroke-width="1.0" />
<path d="M152.8 677.4L155.1 679.7L152.8 682L150.5 679.7Z" fill="#ED1C24"/>
<line x1="159.3" y1="667.2" x2="159.3" y2="672.2" stroke="#ED1C24" stroke-width="1.0" />
<line x1="157.3" y1="667.2" x2="161.3" y2="667.2" stroke="#ED1C24" stroke-width="1.0" />
<line x1="157.3" y1="672.2" x2="161.3" y2="672.2" stroke="#ED1C24" stroke-width="1.0" />
<path d="M159.3 667.4L161.6 669.7L159.3 672L157 669.7Z" fill="#ED1C24"/>
<line x1="177.2" y1="673.4" x2="177.2" y2="680.1" stroke="#ED1C24" stroke-width="1.0" />
<line x1="175.2" y1="673.4" x2="179.2" y2="673.4" stroke="#ED1C24" stroke-width="1.0" />
<line x1="175.2" y1="680.1" x2="179.2" y2="680.1" stroke="#ED1C24" stroke-width="1.0" />
<path d="M177.2 674.3L179.5 676.6L177.2 678.9L174.9 676.6Z" fill="#ED1C24"/>
<line x1="184.8" y1="674.5" x2="184.8" y2="680.1" stroke="#ED1C24" stroke-width="1.0" />
<line x1="182.8" y1="674.5" x2="186.8" y2="674.5" stroke="#ED1C24" stroke-width="1.0" />
<line x1="182.8" y1="680.1" x2="186.8" y2="680.1" stroke="#ED1C24" stroke-width="1.0" />
<path d="M184.8 675L187.1 677.3L184.8 679.6L182.5 677.3Z" fill="#ED1C24"/>
<line x1="203.6" y1="676.5" x2="203.6" y2="682.5" stroke="#ED1C24" stroke-width="1.0" />
<line x1="201.6" y1="676.5" x2="205.6" y2="676.5" stroke="#ED1C24" stroke-width="1.0" />
<line x1="201.6" y1="682.5" x2="205.6" y2="682.5" stroke="#ED1C24" stroke-width="1.0" />
<path d="M203.6 677.2L205.9 679.5L203.6 681.8L201.3 679.5Z" fill="#ED1C24"/>
<line x1="209.7" y1="675" x2="209.7" y2="681" stroke="#ED1C24" stroke-width="1.0" />
<line x1="207.7" y1="675" x2="211.7" y2="675" stroke="#ED1C24" stroke-width="1.0" />
<line x1="207.7" y1="681" x2="211.7" y2="681" stroke="#ED1C24" stroke-width="1.0" />
<path d="M209.7 675.7L212 678L209.7 680.3L207.4 678Z" fill="#ED1C24"/>
<line x1="225" y1="670.7" x2="225" y2="677.9" stroke="#ED1C24" stroke-width="1.0" />
<line x1="223" y1="670.7" x2="227" y2="670.7" stroke="#ED1C24" stroke-width="1.0" />
<line x1="223" y1="677.9" x2="227" y2="677.9" stroke="#ED1C24" stroke-width="1.0" />
<path d="M225 672L227.3 674.3L225 676.6L222.7 674.3Z" fill="#ED1C24"/>
<line x1="230.2" y1="667.4" x2="230.2" y2="676.2" stroke="#ED1C24" stroke-width="1.0" />
<line x1="228.2" y1="667.4" x2="232.2" y2="667.4" stroke="#ED1C24" stroke-width="1.0" />
<line x1="228.2" y1="676.2" x2="232.2" y2="676.2" stroke="#ED1C24" stroke-width="1.0" />
<path d="M230.2 669.5L232.5 671.8L230.2 674.1L227.9 671.8Z" fill="#ED1C24"/>
<line x1="241.3" y1="662.5" x2="241.3" y2="671.5" stroke="#ED1C24" stroke-width="1.0" />
<line x1="239.3" y1="662.5" x2="243.3" y2="662.5" stroke="#ED1C24" stroke-width="1.0" />
<line x1="239.3" y1="671.5" x2="243.3" y2="671.5" stroke="#ED1C24" stroke-width="1.0" />
<path d="M241.3 664.7L243.6 667L241.3 669.3L239 667Z" fill="#ED1C24"/>
<line x1="269.5" y1="665" x2="269.5" y2="674" stroke="#ED1C24" stroke-width="1.0" />
<line x1="267.5" y1="665" x2="271.5" y2="665" stroke="#ED1C24" stroke-width="1.0" />
<line x1="267.5" y1="674" x2="271.5" y2="674" stroke="#ED1C24" stroke-width="1.0" />
<path d="M269.5 667.2L271.8 669.5L269.5 671.8L267.2 669.5Z" fill="#ED1C24"/>
<line x1="285.4" y1="658" x2="285.4" y2="670" stroke="#ED1C24" stroke-width="1.0" />
<line x1="283.4" y1="658" x2="287.4" y2="658" stroke="#ED1C24" stroke-width="1.0" />
<line x1="283.4" y1="670" x2="287.4" y2="670" stroke="#ED1C24" stroke-width="1.0" />
<path d="M285.4 661.5L287.7 663.8L285.4 666.1L283.1 663.8Z" fill="#ED1C24"/>
<line x1="101.5" y1="603" x2="101.5" y2="643.5" stroke="#2E3192" stroke-width="1.0" />
<line x1="99.5" y1="603" x2="103.5" y2="603" stroke="#2E3192" stroke-width="1.0" />
<line x1="99.5" y1="643.5" x2="103.5" y2="643.5" stroke="#2E3192" stroke-width="1.0" />
<circle cx="101.5" cy="623.2" r="1.75" fill="#2E3192"/>
<line x1="109.2" y1="584.5" x2="109.2" y2="623.4" stroke="#2E3192" stroke-width="1.0" />
<line x1="107.2" y1="584.5" x2="111.2" y2="584.5" stroke="#2E3192" stroke-width="1.0" />
<line x1="107.2" y1="623.4" x2="111.2" y2="623.4" stroke="#2E3192" stroke-width="1.0" />
<circle cx="109.2" cy="603.8" r="1.75" fill="#2E3192"/>
<line x1="117.4" y1="653.6" x2="117.4" y2="680.2" stroke="#2E3192" stroke-width="1.0" />
<line x1="115.4" y1="653.6" x2="119.4" y2="653.6" stroke="#2E3192" stroke-width="1.0" />
<line x1="115.4" y1="680.2" x2="119.4" y2="680.2" stroke="#2E3192" stroke-width="1.0" />
<circle cx="117.4" cy="666.8" r="1.75" fill="#2E3192"/>
<line x1="126.8" y1="678.7" x2="126.8" y2="689.1" stroke="#2E3192" stroke-width="1.0" />
<line x1="124.8" y1="678.7" x2="128.8" y2="678.7" stroke="#2E3192" stroke-width="1.0" />
<line x1="124.8" y1="689.1" x2="128.8" y2="689.1" stroke="#2E3192" stroke-width="1.0" />
<circle cx="126.8" cy="683.9" r="1.75" fill="#2E3192"/>
<line x1="133.1" y1="658.6" x2="133.1" y2="671.4" stroke="#2E3192" stroke-width="1.0" />
<line x1="131.1" y1="658.6" x2="135.1" y2="658.6" stroke="#2E3192" stroke-width="1.0" />
<line x1="131.1" y1="671.4" x2="135.1" y2="671.4" stroke="#2E3192" stroke-width="1.0" />
<circle cx="133.1" cy="665.1" r="1.75" fill="#2E3192"/>
<line x1="141.3" y1="675.1" x2="141.3" y2="683.3" stroke="#2E3192" stroke-width="1.0" />
<line x1="139.3" y1="675.1" x2="143.3" y2="675.1" stroke="#2E3192" stroke-width="1.0" />
<line x1="139.3" y1="683.3" x2="143.3" y2="683.3" stroke="#2E3192" stroke-width="1.0" />
<circle cx="141.3" cy="679.3" r="1.75" fill="#2E3192"/>
<line x1="147.5" y1="672.4" x2="147.5" y2="679.1" stroke="#2E3192" stroke-width="1.0" />
<line x1="145.5" y1="672.4" x2="149.5" y2="672.4" stroke="#2E3192" stroke-width="1.0" />
<line x1="145.5" y1="679.1" x2="149.5" y2="679.1" stroke="#2E3192" stroke-width="1.0" />
<circle cx="147.5" cy="675.8" r="1.75" fill="#2E3192"/>
<line x1="156.7" y1="670.5" x2="156.7" y2="677.8" stroke="#2E3192" stroke-width="1.0" />
<line x1="154.7" y1="670.5" x2="158.7" y2="670.5" stroke="#2E3192" stroke-width="1.0" />
<line x1="154.7" y1="677.8" x2="158.7" y2="677.8" stroke="#2E3192" stroke-width="1.0" />
<circle cx="156.7" cy="673.9" r="1.75" fill="#2E3192"/>
<line x1="160.5" y1="668.6" x2="160.5" y2="673.7" stroke="#2E3192" stroke-width="1.0" />
<line x1="158.5" y1="668.6" x2="162.5" y2="668.6" stroke="#2E3192" stroke-width="1.0" />
<line x1="158.5" y1="673.7" x2="162.5" y2="673.7" stroke="#2E3192" stroke-width="1.0" />
<circle cx="160.5" cy="671.1" r="1.75" fill="#2E3192"/>
<line x1="170.5" y1="669.7" x2="170.5" y2="674.7" stroke="#2E3192" stroke-width="1.0" />
<line x1="168.5" y1="669.7" x2="172.5" y2="669.7" stroke="#2E3192" stroke-width="1.0" />
<line x1="168.5" y1="674.7" x2="172.5" y2="674.7" stroke="#2E3192" stroke-width="1.0" />
<circle cx="170.5" cy="672" r="1.75" fill="#2E3192"/>
<line x1="182.4" y1="675.4" x2="182.4" y2="681.4" stroke="#2E3192" stroke-width="1.0" />
<line x1="180.4" y1="675.4" x2="184.4" y2="675.4" stroke="#2E3192" stroke-width="1.0" />
<line x1="180.4" y1="681.4" x2="184.4" y2="681.4" stroke="#2E3192" stroke-width="1.0" />
<circle cx="182.4" cy="678.4" r="1.75" fill="#2E3192"/>
<line x1="190" y1="674.4" x2="190" y2="678.4" stroke="#2E3192" stroke-width="1.0" />
<line x1="188" y1="674.4" x2="192" y2="674.4" stroke="#2E3192" stroke-width="1.0" />
<line x1="188" y1="678.4" x2="192" y2="678.4" stroke="#2E3192" stroke-width="1.0" />
<circle cx="190" cy="676.4" r="1.75" fill="#2E3192"/>
<line x1="197.8" y1="663.4" x2="197.8" y2="670.9" stroke="#2E3192" stroke-width="1.0" />
<line x1="195.8" y1="663.4" x2="199.8" y2="663.4" stroke="#2E3192" stroke-width="1.0" />
<line x1="195.8" y1="670.9" x2="199.8" y2="670.9" stroke="#2E3192" stroke-width="1.0" />
<circle cx="197.8" cy="667" r="1.75" fill="#2E3192"/>
<line x1="211" y1="674.4" x2="211" y2="678.4" stroke="#2E3192" stroke-width="1.0" />
<line x1="209" y1="674.4" x2="213" y2="674.4" stroke="#2E3192" stroke-width="1.0" />
<line x1="209" y1="678.4" x2="213" y2="678.4" stroke="#2E3192" stroke-width="1.0" />
<circle cx="211" cy="676.4" r="1.75" fill="#2E3192"/>
<line x1="220.6" y1="665.7" x2="220.6" y2="670.9" stroke="#2E3192" stroke-width="1.0" />
<line x1="218.6" y1="665.7" x2="222.6" y2="665.7" stroke="#2E3192" stroke-width="1.0" />
<line x1="218.6" y1="670.9" x2="222.6" y2="670.9" stroke="#2E3192" stroke-width="1.0" />
<circle cx="220.6" cy="668.2" r="1.75" fill="#2E3192"/>
<line x1="232.1" y1="667.2" x2="232.1" y2="672.4" stroke="#2E3192" stroke-width="1.0" />
<line x1="230.1" y1="667.2" x2="234.1" y2="667.2" stroke="#2E3192" stroke-width="1.0" />
<line x1="230.1" y1="672.4" x2="234.1" y2="672.4" stroke="#2E3192" stroke-width="1.0" />
<circle cx="232.1" cy="669.9" r="1.75" fill="#2E3192"/>
<line x1="250.3" y1="675" x2="250.3" y2="679" stroke="#2E3192" stroke-width="1.0" />
<line x1="248.3" y1="675" x2="252.3" y2="675" stroke="#2E3192" stroke-width="1.0" />
<line x1="248.3" y1="679" x2="252.3" y2="679" stroke="#2E3192" stroke-width="1.0" />
<circle cx="250.3" cy="677" r="1.75" fill="#2E3192"/>
<text x="474.45" y="521.4" fill="#2E3192" font-size="11.2" textLength="90.5" lengthAdjust="spacingAndGlyphs">Pump power (mJ)</text>
<circle cx="466.25" cy="517.3" r="2.5" fill="#2E3192"/>
<circle cx="573.05" cy="517.3" r="2.5" fill="#2E3192"/>
<text x="474.45" y="770.4" fill="#ED1C24" font-size="11.2" textLength="90.5" lengthAdjust="spacingAndGlyphs">Pump power (mJ)</text>
<path d="M466.25 762.5L470.05 766.3L466.25 770.1L462.45 766.3Z" fill="#ED1C24"/>
<path d="M573.05 762.5L576.85 766.3L573.05 770.1L569.25 766.3Z" fill="#ED1C24"/>
<line x1="402.9" y1="740" x2="640.2" y2="740" stroke="#ED1C24" stroke-width="1.4" />
<line x1="426.63" y1="740" x2="426.63" y2="737.4" stroke="#ED1C24" stroke-width="1.0" />
<line x1="474.09" y1="740" x2="474.09" y2="737.4" stroke="#ED1C24" stroke-width="1.0" />
<line x1="521.55" y1="740" x2="521.55" y2="737.4" stroke="#ED1C24" stroke-width="1.0" />
<line x1="569.01" y1="740" x2="569.01" y2="737.4" stroke="#ED1C24" stroke-width="1.0" />
<line x1="616.47" y1="740" x2="616.47" y2="737.4" stroke="#ED1C24" stroke-width="1.0" />
<line x1="402.9" y1="740" x2="402.9" y2="735.2" stroke="#ED1C24" stroke-width="1.0" />
<text x="401.7" y="754.3" fill="#ED1C24" font-size="11" text-anchor="middle" >0.0</text>
<line x1="450.36" y1="740" x2="450.36" y2="735.2" stroke="#ED1C24" stroke-width="1.0" />
<text x="449.16" y="754.3" fill="#ED1C24" font-size="11" text-anchor="middle" >0.2</text>
<line x1="497.82" y1="740" x2="497.82" y2="735.2" stroke="#ED1C24" stroke-width="1.0" />
<text x="496.62" y="754.3" fill="#ED1C24" font-size="11" text-anchor="middle" >0.4</text>
<line x1="545.28" y1="740" x2="545.28" y2="735.2" stroke="#ED1C24" stroke-width="1.0" />
<text x="544.08" y="754.3" fill="#ED1C24" font-size="11" text-anchor="middle" >0.6</text>
<line x1="592.74" y1="740" x2="592.74" y2="735.2" stroke="#ED1C24" stroke-width="1.0" />
<text x="591.54" y="754.3" fill="#ED1C24" font-size="11" text-anchor="middle" >0.8</text>
<line x1="640.2" y1="740" x2="640.2" y2="735.2" stroke="#ED1C24" stroke-width="1.0" />
<text x="639" y="754.3" fill="#ED1C24" font-size="11" text-anchor="middle" >1.0</text>
<line x1="402.9" y1="547" x2="402.9" y2="740" stroke="#231F20" stroke-width="1.2" />
<line x1="402.9" y1="720.7" x2="405.5" y2="720.7" stroke="#231F20" stroke-width="1.0" />
<line x1="402.9" y1="682.1" x2="405.5" y2="682.1" stroke="#231F20" stroke-width="1.0" />
<line x1="402.9" y1="643.5" x2="405.5" y2="643.5" stroke="#231F20" stroke-width="1.0" />
<line x1="402.9" y1="604.9" x2="405.5" y2="604.9" stroke="#231F20" stroke-width="1.0" />
<line x1="402.9" y1="566.3" x2="405.5" y2="566.3" stroke="#231F20" stroke-width="1.0" />
<line x1="402.9" y1="740" x2="407.7" y2="740" stroke="#231F20" stroke-width="1.0" />
<text x="395.7" y="744" fill="#231F20" font-size="11" text-anchor="end" >0</text>
<line x1="402.9" y1="701.4" x2="407.7" y2="701.4" stroke="#231F20" stroke-width="1.0" />
<text x="395.7" y="705.4" fill="#231F20" font-size="11" text-anchor="end" >500</text>
<line x1="402.9" y1="662.8" x2="407.7" y2="662.8" stroke="#231F20" stroke-width="1.0" />
<text x="395.7" y="666.8" fill="#231F20" font-size="11" text-anchor="end" >1000</text>
<line x1="402.9" y1="624.2" x2="407.7" y2="624.2" stroke="#231F20" stroke-width="1.0" />
<text x="395.7" y="628.2" fill="#231F20" font-size="11" text-anchor="end" >1500</text>
<line x1="402.9" y1="585.6" x2="407.7" y2="585.6" stroke="#231F20" stroke-width="1.0" />
<text x="395.7" y="589.6" fill="#231F20" font-size="11" text-anchor="end" >2000</text>
<text x="395.7" y="551" fill="#231F20" font-size="11" text-anchor="end" >2500</text>
<line x1="402.9" y1="547" x2="640.2" y2="547" stroke="#2E3192" stroke-width="1.45" />
<line x1="426.63" y1="547" x2="426.63" y2="549.6" stroke="#2E3192" stroke-width="1.0" />
<line x1="474.09" y1="547" x2="474.09" y2="549.6" stroke="#2E3192" stroke-width="1.0" />
<line x1="521.55" y1="547" x2="521.55" y2="549.6" stroke="#2E3192" stroke-width="1.0" />
<line x1="569.01" y1="547" x2="569.01" y2="549.6" stroke="#2E3192" stroke-width="1.0" />
<line x1="616.47" y1="547" x2="616.47" y2="549.6" stroke="#2E3192" stroke-width="1.0" />
<line x1="402.9" y1="547" x2="402.9" y2="551.8" stroke="#2E3192" stroke-width="1.0" />
<text x="401.7" y="538.8" fill="#2E3192" font-size="11" text-anchor="middle" >0.0</text>
<line x1="450.36" y1="547" x2="450.36" y2="551.8" stroke="#2E3192" stroke-width="1.0" />
<text x="449.16" y="538.8" fill="#2E3192" font-size="11" text-anchor="middle" >0.1</text>
<line x1="497.82" y1="547" x2="497.82" y2="551.8" stroke="#2E3192" stroke-width="1.0" />
<text x="496.62" y="538.8" fill="#2E3192" font-size="11" text-anchor="middle" >0.2</text>
<line x1="545.28" y1="547" x2="545.28" y2="551.8" stroke="#2E3192" stroke-width="1.0" />
<text x="544.08" y="538.8" fill="#2E3192" font-size="11" text-anchor="middle" >0.3</text>
<line x1="592.74" y1="547" x2="592.74" y2="551.8" stroke="#2E3192" stroke-width="1.0" />
<text x="591.54" y="538.8" fill="#2E3192" font-size="11" text-anchor="middle" >0.4</text>
<line x1="640.2" y1="547" x2="640.2" y2="551.8" stroke="#2E3192" stroke-width="1.0" />
<text x="639" y="538.8" fill="#2E3192" font-size="11" text-anchor="middle" >0.5</text>
<line x1="640.2" y1="547" x2="640.2" y2="740" stroke="#231F20" stroke-width="1.2" />
<line x1="640.2" y1="720.7" x2="637.6" y2="720.7" stroke="#231F20" stroke-width="1.0" />
<line x1="640.2" y1="682.1" x2="637.6" y2="682.1" stroke="#231F20" stroke-width="1.0" />
<line x1="640.2" y1="643.5" x2="637.6" y2="643.5" stroke="#231F20" stroke-width="1.0" />
<line x1="640.2" y1="604.9" x2="637.6" y2="604.9" stroke="#231F20" stroke-width="1.0" />
<line x1="640.2" y1="566.3" x2="637.6" y2="566.3" stroke="#231F20" stroke-width="1.0" />
<line x1="640.2" y1="740" x2="635.4" y2="740" stroke="#231F20" stroke-width="1.0" />
<line x1="640.2" y1="701.4" x2="635.4" y2="701.4" stroke="#231F20" stroke-width="1.0" />
<line x1="640.2" y1="662.8" x2="635.4" y2="662.8" stroke="#231F20" stroke-width="1.0" />
<line x1="640.2" y1="624.2" x2="635.4" y2="624.2" stroke="#231F20" stroke-width="1.0" />
<line x1="640.2" y1="585.6" x2="635.4" y2="585.6" stroke="#231F20" stroke-width="1.0" />
<line x1="640.2" y1="547" x2="635.4" y2="547" stroke="#231F20" stroke-width="1.0" />
<text x="415.6" y="567.3" fill="#231F20" font-size="12" textLength="13.2" lengthAdjust="spacingAndGlyphs">(f)</text>
<text transform="translate(363.6,643.5) rotate(-90)" x="0" y="0" fill="#231F20" font-size="11.2" text-anchor="middle" textLength="138" lengthAdjust="spacingAndGlyphs">Gaussian half-width (GHz)</text>
<line x1="465.7" y1="555.5" x2="465.7" y2="723.2" stroke="#ED1C24" stroke-width="1.0" />
<line x1="463.7" y1="555.5" x2="467.7" y2="555.5" stroke="#ED1C24" stroke-width="1.0" />
<line x1="463.7" y1="723.2" x2="467.7" y2="723.2" stroke="#ED1C24" stroke-width="1.0" />
<path d="M465.7 637.1L468 639.4L465.7 641.7L463.4 639.4Z" fill="#ED1C24"/>
<line x1="477" y1="555" x2="477" y2="643.5" stroke="#ED1C24" stroke-width="1.0" />
<line x1="475" y1="555" x2="479" y2="555" stroke="#ED1C24" stroke-width="1.0" />
<line x1="475" y1="643.5" x2="479" y2="643.5" stroke="#ED1C24" stroke-width="1.0" />
<path d="M477 596.9L479.3 599.2L477 601.5L474.7 599.2Z" fill="#ED1C24"/>
<line x1="485.4" y1="611.5" x2="485.4" y2="667.2" stroke="#ED1C24" stroke-width="1.0" />
<line x1="483.4" y1="611.5" x2="487.4" y2="611.5" stroke="#ED1C24" stroke-width="1.0" />
<line x1="483.4" y1="667.2" x2="487.4" y2="667.2" stroke="#ED1C24" stroke-width="1.0" />
<path d="M485.4 637.1L487.7 639.4L485.4 641.7L483.1 639.4Z" fill="#ED1C24"/>
<line x1="493.3" y1="635.4" x2="493.3" y2="667.6" stroke="#ED1C24" stroke-width="1.0" />
<line x1="491.3" y1="635.4" x2="495.3" y2="635.4" stroke="#ED1C24" stroke-width="1.0" />
<line x1="491.3" y1="667.6" x2="495.3" y2="667.6" stroke="#ED1C24" stroke-width="1.0" />
<path d="M493.3 649.4L495.6 651.7L493.3 654L491 651.7Z" fill="#ED1C24"/>
<line x1="504.2" y1="684.7" x2="504.2" y2="692.5" stroke="#ED1C24" stroke-width="1.0" />
<line x1="502.2" y1="684.7" x2="506.2" y2="684.7" stroke="#ED1C24" stroke-width="1.0" />
<line x1="502.2" y1="692.5" x2="506.2" y2="692.5" stroke="#ED1C24" stroke-width="1.0" />
<path d="M504.2 686.4L506.5 688.7L504.2 691L501.9 688.7Z" fill="#ED1C24"/>
<line x1="510.9" y1="709.3" x2="510.9" y2="713.3" stroke="#ED1C24" stroke-width="1.0" />
<line x1="508.9" y1="709.3" x2="512.9" y2="709.3" stroke="#ED1C24" stroke-width="1.0" />
<line x1="508.9" y1="713.3" x2="512.9" y2="713.3" stroke="#ED1C24" stroke-width="1.0" />
<path d="M510.9 709L513.2 711.3L510.9 713.6L508.6 711.3Z" fill="#ED1C24"/>
<line x1="521.2" y1="698.2" x2="521.2" y2="702.2" stroke="#ED1C24" stroke-width="1.0" />
<line x1="519.2" y1="698.2" x2="523.2" y2="698.2" stroke="#ED1C24" stroke-width="1.0" />
<line x1="519.2" y1="702.2" x2="523.2" y2="702.2" stroke="#ED1C24" stroke-width="1.0" />
<path d="M521.2 697.9L523.5 700.2L521.2 702.5L518.9 700.2Z" fill="#ED1C24"/>
<path d="M528.1 716.3L530.4 718.6L528.1 720.9L525.8 718.6Z" fill="#ED1C24"/>
<path d="M536 714.6L538.3 716.9L536 719.2L533.7 716.9Z" fill="#ED1C24"/>
<path d="M554.5 717.2L556.8 719.5L554.5 721.8L552.2 719.5Z" fill="#ED1C24"/>
<path d="M561.2 717.6L563.5 719.9L561.2 722.2L558.9 719.9Z" fill="#ED1C24"/>
<path d="M576.2 716.1L578.5 718.4L576.2 720.7L573.9 718.4Z" fill="#ED1C24"/>
<path d="M581.3 717.8L583.6 720.1L581.3 722.4L579 720.1Z" fill="#ED1C24"/>
<path d="M592.6 710.5L594.9 712.8L592.6 715.1L590.3 712.8Z" fill="#ED1C24"/>
<path d="M620.8 715.3L623.1 717.6L620.8 719.9L618.5 717.6Z" fill="#ED1C24"/>
<path d="M636.7 718L639 720.3L636.7 722.6L634.4 720.3Z" fill="#ED1C24"/>
<line x1="549.2" y1="732.2" x2="549.2" y2="738.2" stroke="#2E3192" stroke-width="1.0" />
<line x1="547.2" y1="732.2" x2="551.2" y2="732.2" stroke="#2E3192" stroke-width="1.0" />
<line x1="547.2" y1="738.2" x2="551.2" y2="738.2" stroke="#2E3192" stroke-width="1.0" />
<circle cx="549.2" cy="735.2" r="1.75" fill="#2E3192"/>
<line x1="562.6" y1="730.2" x2="562.6" y2="736.6" stroke="#2E3192" stroke-width="1.0" />
<line x1="560.6" y1="730.2" x2="564.6" y2="730.2" stroke="#2E3192" stroke-width="1.0" />
<line x1="560.6" y1="736.6" x2="564.6" y2="736.6" stroke="#2E3192" stroke-width="1.0" />
<circle cx="562.6" cy="733.9" r="1.75" fill="#2E3192"/>
<line x1="572.1" y1="719.3" x2="572.1" y2="732.7" stroke="#2E3192" stroke-width="1.0" />
<line x1="570.1" y1="719.3" x2="574.1" y2="719.3" stroke="#2E3192" stroke-width="1.0" />
<line x1="570.1" y1="732.7" x2="574.1" y2="732.7" stroke="#2E3192" stroke-width="1.0" />
<circle cx="572.1" cy="725.7" r="1.75" fill="#2E3192"/>
<line x1="584" y1="721.6" x2="584" y2="728.5" stroke="#2E3192" stroke-width="1.0" />
<line x1="582" y1="721.6" x2="586" y2="721.6" stroke="#2E3192" stroke-width="1.0" />
<line x1="582" y1="728.5" x2="586" y2="728.5" stroke="#2E3192" stroke-width="1.0" />
<circle cx="584" cy="725.1" r="1.75" fill="#2E3192"/>
<line x1="601.8" y1="727.8" x2="601.8" y2="731.2" stroke="#2E3192" stroke-width="1.0" />
<line x1="599.8" y1="727.8" x2="603.8" y2="727.8" stroke="#2E3192" stroke-width="1.0" />
<line x1="599.8" y1="731.2" x2="603.8" y2="731.2" stroke="#2E3192" stroke-width="1.0" />
<circle cx="601.8" cy="729.5" r="1.75" fill="#2E3192"/>
<text x="123.65" y="791.8" fill="#2E3192" font-size="11.2" textLength="90.5" lengthAdjust="spacingAndGlyphs">Pump power (mJ)</text>
<circle cx="115.45" cy="787.7" r="2.5" fill="#2E3192"/>
<circle cx="222.25" cy="787.7" r="2.5" fill="#2E3192"/>
<text x="123.65" y="1040.6" fill="#ED1C24" font-size="11.2" textLength="90.5" lengthAdjust="spacingAndGlyphs">Pump power (mJ)</text>
<path d="M115.45 1032.7L119.25 1036.5L115.45 1040.3L111.65 1036.5Z" fill="#ED1C24"/>
<path d="M222.25 1032.7L226.05 1036.5L222.25 1040.3L218.45 1036.5Z" fill="#ED1C24"/>
<line x1="52" y1="1010.2" x2="289.5" y2="1010.2" stroke="#ED1C24" stroke-width="1.4" />
<line x1="75.2" y1="1010.2" x2="75.2" y2="1007.6" stroke="#ED1C24" stroke-width="1.0" />
<line x1="121.2" y1="1010.2" x2="121.2" y2="1007.6" stroke="#ED1C24" stroke-width="1.0" />
<line x1="167.2" y1="1010.2" x2="167.2" y2="1007.6" stroke="#ED1C24" stroke-width="1.0" />
<line x1="213.2" y1="1010.2" x2="213.2" y2="1007.6" stroke="#ED1C24" stroke-width="1.0" />
<line x1="259.2" y1="1010.2" x2="259.2" y2="1007.6" stroke="#ED1C24" stroke-width="1.0" />
<line x1="52.2" y1="1010.2" x2="52.2" y2="1005.4" stroke="#ED1C24" stroke-width="1.0" />
<text x="51" y="1024.5" fill="#ED1C24" font-size="11" text-anchor="middle" >0.0</text>
<line x1="98.2" y1="1010.2" x2="98.2" y2="1005.4" stroke="#ED1C24" stroke-width="1.0" />
<text x="97" y="1024.5" fill="#ED1C24" font-size="11" text-anchor="middle" >0.2</text>
<line x1="144.2" y1="1010.2" x2="144.2" y2="1005.4" stroke="#ED1C24" stroke-width="1.0" />
<text x="143" y="1024.5" fill="#ED1C24" font-size="11" text-anchor="middle" >0.4</text>
<line x1="190.2" y1="1010.2" x2="190.2" y2="1005.4" stroke="#ED1C24" stroke-width="1.0" />
<text x="189" y="1024.5" fill="#ED1C24" font-size="11" text-anchor="middle" >0.6</text>
<line x1="236.2" y1="1010.2" x2="236.2" y2="1005.4" stroke="#ED1C24" stroke-width="1.0" />
<text x="235" y="1024.5" fill="#ED1C24" font-size="11" text-anchor="middle" >0.8</text>
<line x1="282.2" y1="1010.2" x2="282.2" y2="1005.4" stroke="#ED1C24" stroke-width="1.0" />
<text x="281" y="1024.5" fill="#ED1C24" font-size="11" text-anchor="middle" >1.0</text>
<line x1="52" y1="817.4" x2="52" y2="1010.2" stroke="#ED1C24" stroke-width="1.2" />
<line x1="52" y1="991.73" x2="54.6" y2="991.73" stroke="#ED1C24" stroke-width="1.0" />
<line x1="52" y1="954.79" x2="54.6" y2="954.79" stroke="#ED1C24" stroke-width="1.0" />
<line x1="52" y1="917.85" x2="54.6" y2="917.85" stroke="#ED1C24" stroke-width="1.0" />
<line x1="52" y1="880.91" x2="54.6" y2="880.91" stroke="#ED1C24" stroke-width="1.0" />
<line x1="52" y1="843.97" x2="54.6" y2="843.97" stroke="#ED1C24" stroke-width="1.0" />
<line x1="52" y1="1010.2" x2="56.8" y2="1010.2" stroke="#ED1C24" stroke-width="1.0" />
<text x="44.8" y="1014.2" fill="#ED1C24" font-size="11" text-anchor="end" >0.0</text>
<line x1="52" y1="973.26" x2="56.8" y2="973.26" stroke="#ED1C24" stroke-width="1.0" />
<text x="44.8" y="977.26" fill="#ED1C24" font-size="11" text-anchor="end" >0.2</text>
<line x1="52" y1="936.32" x2="56.8" y2="936.32" stroke="#ED1C24" stroke-width="1.0" />
<text x="44.8" y="940.32" fill="#ED1C24" font-size="11" text-anchor="end" >0.4</text>
<line x1="52" y1="899.38" x2="56.8" y2="899.38" stroke="#ED1C24" stroke-width="1.0" />
<text x="44.8" y="903.38" fill="#ED1C24" font-size="11" text-anchor="end" >0.6</text>
<line x1="52" y1="862.44" x2="56.8" y2="862.44" stroke="#ED1C24" stroke-width="1.0" />
<text x="44.8" y="866.44" fill="#ED1C24" font-size="11" text-anchor="end" >0.8</text>
<line x1="52" y1="825.5" x2="56.8" y2="825.5" stroke="#ED1C24" stroke-width="1.0" />
<text x="44.8" y="829.5" fill="#ED1C24" font-size="11" text-anchor="end" >1.0</text>
<line x1="52" y1="817.4" x2="289.5" y2="817.4" stroke="#2E3192" stroke-width="1.45" />
<line x1="75.75" y1="817.4" x2="75.75" y2="820" stroke="#2E3192" stroke-width="1.0" />
<line x1="123.25" y1="817.4" x2="123.25" y2="820" stroke="#2E3192" stroke-width="1.0" />
<line x1="170.75" y1="817.4" x2="170.75" y2="820" stroke="#2E3192" stroke-width="1.0" />
<line x1="218.25" y1="817.4" x2="218.25" y2="820" stroke="#2E3192" stroke-width="1.0" />
<line x1="265.75" y1="817.4" x2="265.75" y2="820" stroke="#2E3192" stroke-width="1.0" />
<line x1="52" y1="817.4" x2="52" y2="822.2" stroke="#2E3192" stroke-width="1.0" />
<text x="50.8" y="809.2" fill="#2E3192" font-size="11" text-anchor="middle" >0.0</text>
<line x1="99.5" y1="817.4" x2="99.5" y2="822.2" stroke="#2E3192" stroke-width="1.0" />
<text x="98.3" y="809.2" fill="#2E3192" font-size="11" text-anchor="middle" >0.1</text>
<line x1="147" y1="817.4" x2="147" y2="822.2" stroke="#2E3192" stroke-width="1.0" />
<text x="145.8" y="809.2" fill="#2E3192" font-size="11" text-anchor="middle" >0.2</text>
<line x1="194.5" y1="817.4" x2="194.5" y2="822.2" stroke="#2E3192" stroke-width="1.0" />
<text x="193.3" y="809.2" fill="#2E3192" font-size="11" text-anchor="middle" >0.3</text>
<line x1="242" y1="817.4" x2="242" y2="822.2" stroke="#2E3192" stroke-width="1.0" />
<text x="240.8" y="809.2" fill="#2E3192" font-size="11" text-anchor="middle" >0.4</text>
<line x1="289.5" y1="817.4" x2="289.5" y2="822.2" stroke="#2E3192" stroke-width="1.0" />
<text x="288.3" y="809.2" fill="#2E3192" font-size="11" text-anchor="middle" >0.5</text>
<line x1="289.5" y1="817.4" x2="289.5" y2="1010.2" stroke="#2E3192" stroke-width="1.2" />
<line x1="289.5" y1="990.92" x2="286.9" y2="990.92" stroke="#2E3192" stroke-width="1.0" />
<line x1="289.5" y1="952.36" x2="286.9" y2="952.36" stroke="#2E3192" stroke-width="1.0" />
<line x1="289.5" y1="913.8" x2="286.9" y2="913.8" stroke="#2E3192" stroke-width="1.0" />
<line x1="289.5" y1="875.24" x2="286.9" y2="875.24" stroke="#2E3192" stroke-width="1.0" />
<line x1="289.5" y1="836.68" x2="286.9" y2="836.68" stroke="#2E3192" stroke-width="1.0" />
<line x1="289.5" y1="1010.2" x2="284.7" y2="1010.2" stroke="#2E3192" stroke-width="1.0" />
<text x="294.7" y="1014.2" fill="#2E3192" font-size="11" text-anchor="start" >0.0</text>
<line x1="289.5" y1="971.64" x2="284.7" y2="971.64" stroke="#2E3192" stroke-width="1.0" />
<text x="294.7" y="975.64" fill="#2E3192" font-size="11" text-anchor="start" >0.1</text>
<line x1="289.5" y1="933.08" x2="284.7" y2="933.08" stroke="#2E3192" stroke-width="1.0" />
<text x="294.7" y="937.08" fill="#2E3192" font-size="11" text-anchor="start" >0.2</text>
<line x1="289.5" y1="894.52" x2="284.7" y2="894.52" stroke="#2E3192" stroke-width="1.0" />
<text x="294.7" y="898.52" fill="#2E3192" font-size="11" text-anchor="start" >0.3</text>
<line x1="289.5" y1="855.96" x2="284.7" y2="855.96" stroke="#2E3192" stroke-width="1.0" />
<text x="294.7" y="859.96" fill="#2E3192" font-size="11" text-anchor="start" >0.4</text>
<line x1="289.5" y1="817.4" x2="284.7" y2="817.4" stroke="#2E3192" stroke-width="1.0" />
<text x="294.7" y="821.4" fill="#2E3192" font-size="11" text-anchor="start" >0.5</text>
<text x="63.8" y="839.8" fill="#231F20" font-size="12">(g)</text>
<text transform="translate(21.6,913.8) rotate(-90)" x="0" y="0" fill="#ED1C24" font-size="11.2" text-anchor="middle" textLength="106.5" lengthAdjust="spacingAndGlyphs">Normalized intensity</text>
<line x1="98.6" y1="1010.2" x2="259.6" y2="817.4" stroke="#2E3192" stroke-width="1.1" stroke-dasharray="1.4 0.9"/>
<line x1="92.5" y1="1010.2" x2="289.5" y2="870.6" stroke="#ED1C24" stroke-width="1.1" stroke-dasharray="2.2 1.1"/>
<line x1="102.5" y1="997" x2="102.5" y2="1000" stroke="#ED1C24" stroke-width="1.0" />
<line x1="100.5" y1="997" x2="104.5" y2="997" stroke="#ED1C24" stroke-width="1.0" />
<line x1="100.5" y1="1000" x2="104.5" y2="1000" stroke="#ED1C24" stroke-width="1.0" />
<path d="M102.5 996.2L104.8 998.5L102.5 1000.8L100.2 998.5Z" fill="#ED1C24"/>
<line x1="112.6" y1="994" x2="112.6" y2="997" stroke="#ED1C24" stroke-width="1.0" />
<line x1="110.6" y1="994" x2="114.6" y2="994" stroke="#ED1C24" stroke-width="1.0" />
<line x1="110.6" y1="997" x2="114.6" y2="997" stroke="#ED1C24" stroke-width="1.0" />
<path d="M112.6 993.2L114.9 995.5L112.6 997.8L110.3 995.5Z" fill="#ED1C24"/>
<line x1="124.1" y1="988.4" x2="124.1" y2="991.4" stroke="#ED1C24" stroke-width="1.0" />
<line x1="122.1" y1="988.4" x2="126.1" y2="988.4" stroke="#ED1C24" stroke-width="1.0" />
<line x1="122.1" y1="991.4" x2="126.1" y2="991.4" stroke="#ED1C24" stroke-width="1.0" />
<path d="M124.1 987.6L126.4 989.9L124.1 992.2L121.8 989.9Z" fill="#ED1C24"/>
<line x1="132.1" y1="981.2" x2="132.1" y2="985.2" stroke="#ED1C24" stroke-width="1.0" />
<line x1="130.1" y1="981.2" x2="134.1" y2="981.2" stroke="#ED1C24" stroke-width="1.0" />
<line x1="130.1" y1="985.2" x2="134.1" y2="985.2" stroke="#ED1C24" stroke-width="1.0" />
<path d="M132.1 980.9L134.4 983.2L132.1 985.5L129.8 983.2Z" fill="#ED1C24"/>
<line x1="139.4" y1="981.7" x2="139.4" y2="984.7" stroke="#ED1C24" stroke-width="1.0" />
<line x1="137.4" y1="981.7" x2="141.4" y2="981.7" stroke="#ED1C24" stroke-width="1.0" />
<line x1="137.4" y1="984.7" x2="141.4" y2="984.7" stroke="#ED1C24" stroke-width="1.0" />
<path d="M139.4 980.9L141.7 983.2L139.4 985.5L137.1 983.2Z" fill="#ED1C24"/>
<line x1="150.3" y1="975.5" x2="150.3" y2="980.9" stroke="#ED1C24" stroke-width="1.0" />
<line x1="148.3" y1="975.5" x2="152.3" y2="975.5" stroke="#ED1C24" stroke-width="1.0" />
<line x1="148.3" y1="980.9" x2="152.3" y2="980.9" stroke="#ED1C24" stroke-width="1.0" />
<path d="M150.3 975.9L152.6 978.2L150.3 980.5L148 978.2Z" fill="#ED1C24"/>
<line x1="156.7" y1="930.9" x2="156.7" y2="940.5" stroke="#ED1C24" stroke-width="1.0" />
<line x1="154.7" y1="930.9" x2="158.7" y2="930.9" stroke="#ED1C24" stroke-width="1.0" />
<line x1="154.7" y1="940.5" x2="158.7" y2="940.5" stroke="#ED1C24" stroke-width="1.0" />
<path d="M156.7 933.4L159 935.7L156.7 938L154.4 935.7Z" fill="#ED1C24"/>
<line x1="166.6" y1="931.9" x2="166.6" y2="942.5" stroke="#ED1C24" stroke-width="1.0" />
<line x1="164.6" y1="931.9" x2="168.6" y2="931.9" stroke="#ED1C24" stroke-width="1.0" />
<line x1="164.6" y1="942.5" x2="168.6" y2="942.5" stroke="#ED1C24" stroke-width="1.0" />
<path d="M166.6 934.9L168.9 937.2L166.6 939.5L164.3 937.2Z" fill="#ED1C24"/>
<line x1="173.7" y1="926.5" x2="173.7" y2="941.1" stroke="#ED1C24" stroke-width="1.0" />
<line x1="171.7" y1="926.5" x2="175.7" y2="926.5" stroke="#ED1C24" stroke-width="1.0" />
<line x1="171.7" y1="941.1" x2="175.7" y2="941.1" stroke="#ED1C24" stroke-width="1.0" />
<path d="M173.7 931.5L176 933.8L173.7 936.1L171.4 933.8Z" fill="#ED1C24"/>
<line x1="181" y1="921.8" x2="181" y2="934.2" stroke="#ED1C24" stroke-width="1.0" />
<line x1="179" y1="921.8" x2="183" y2="921.8" stroke="#ED1C24" stroke-width="1.0" />
<line x1="179" y1="934.2" x2="183" y2="934.2" stroke="#ED1C24" stroke-width="1.0" />
<path d="M181 925.7L183.3 928L181 930.3L178.7 928Z" fill="#ED1C24"/>
<line x1="199" y1="945.8" x2="199" y2="955.4" stroke="#ED1C24" stroke-width="1.0" />
<line x1="197" y1="945.8" x2="201" y2="945.8" stroke="#ED1C24" stroke-width="1.0" />
<line x1="197" y1="955.4" x2="201" y2="955.4" stroke="#ED1C24" stroke-width="1.0" />
<path d="M199 948.3L201.3 950.6L199 952.9L196.7 950.6Z" fill="#ED1C24"/>
<line x1="205.3" y1="894.9" x2="205.3" y2="912.1" stroke="#ED1C24" stroke-width="1.0" />
<line x1="203.3" y1="894.9" x2="207.3" y2="894.9" stroke="#ED1C24" stroke-width="1.0" />
<line x1="203.3" y1="912.1" x2="207.3" y2="912.1" stroke="#ED1C24" stroke-width="1.0" />
<path d="M205.3 901.2L207.6 903.5L205.3 905.8L203 903.5Z" fill="#ED1C24"/>
<line x1="220.2" y1="871.5" x2="220.2" y2="894.5" stroke="#ED1C24" stroke-width="1.0" />
<line x1="218.2" y1="871.5" x2="222.2" y2="871.5" stroke="#ED1C24" stroke-width="1.0" />
<line x1="218.2" y1="894.5" x2="222.2" y2="894.5" stroke="#ED1C24" stroke-width="1.0" />
<path d="M220.2 880.7L222.5 883L220.2 885.3L217.9 883Z" fill="#ED1C24"/>
<line x1="225.2" y1="903.5" x2="225.2" y2="921.9" stroke="#ED1C24" stroke-width="1.0" />
<line x1="223.2" y1="903.5" x2="227.2" y2="903.5" stroke="#ED1C24" stroke-width="1.0" />
<line x1="223.2" y1="921.9" x2="227.2" y2="921.9" stroke="#ED1C24" stroke-width="1.0" />
<path d="M225.2 910.4L227.5 912.7L225.2 915L222.9 912.7Z" fill="#ED1C24"/>
<line x1="235.9" y1="903.7" x2="235.9" y2="922.9" stroke="#ED1C24" stroke-width="1.0" />
<line x1="233.9" y1="903.7" x2="237.9" y2="903.7" stroke="#ED1C24" stroke-width="1.0" />
<line x1="233.9" y1="922.9" x2="237.9" y2="922.9" stroke="#ED1C24" stroke-width="1.0" />
<path d="M235.9 911L238.2 913.3L235.9 915.6L233.6 913.3Z" fill="#ED1C24"/>
<line x1="262.9" y1="886.9" x2="262.9" y2="911.7" stroke="#ED1C24" stroke-width="1.0" />
<line x1="260.9" y1="886.9" x2="264.9" y2="886.9" stroke="#ED1C24" stroke-width="1.0" />
<line x1="260.9" y1="911.7" x2="264.9" y2="911.7" stroke="#ED1C24" stroke-width="1.0" />
<path d="M262.9 897L265.2 899.3L262.9 901.6L260.6 899.3Z" fill="#ED1C24"/>
<line x1="278.7" y1="848" x2="278.7" y2="889" stroke="#ED1C24" stroke-width="1.0" />
<line x1="276.7" y1="848" x2="280.7" y2="848" stroke="#ED1C24" stroke-width="1.0" />
<line x1="276.7" y1="889" x2="280.7" y2="889" stroke="#ED1C24" stroke-width="1.0" />
<path d="M278.7 866L281 868.3L278.7 870.6L276.4 868.3Z" fill="#ED1C24"/>
<line x1="101.5" y1="989.7" x2="101.5" y2="996.6" stroke="#2E3192" stroke-width="1.0" />
<line x1="99.5" y1="989.7" x2="103.5" y2="989.7" stroke="#2E3192" stroke-width="1.0" />
<line x1="99.5" y1="996.6" x2="103.5" y2="996.6" stroke="#2E3192" stroke-width="1.0" />
<circle cx="101.5" cy="993.2" r="1.75" fill="#2E3192"/>
<line x1="109.5" y1="973.6" x2="109.5" y2="983.2" stroke="#2E3192" stroke-width="1.0" />
<line x1="107.5" y1="973.6" x2="111.5" y2="973.6" stroke="#2E3192" stroke-width="1.0" />
<line x1="107.5" y1="983.2" x2="111.5" y2="983.2" stroke="#2E3192" stroke-width="1.0" />
<circle cx="109.5" cy="978.4" r="1.75" fill="#2E3192"/>
<line x1="117.4" y1="984" x2="117.4" y2="998" stroke="#2E3192" stroke-width="1.0" />
<line x1="115.4" y1="984" x2="119.4" y2="984" stroke="#2E3192" stroke-width="1.0" />
<line x1="115.4" y1="998" x2="119.4" y2="998" stroke="#2E3192" stroke-width="1.0" />
<circle cx="117.4" cy="990.9" r="1.75" fill="#2E3192"/>
<line x1="127" y1="984.5" x2="127" y2="989.5" stroke="#2E3192" stroke-width="1.0" />
<line x1="125" y1="984.5" x2="129" y2="984.5" stroke="#2E3192" stroke-width="1.0" />
<line x1="125" y1="989.5" x2="129" y2="989.5" stroke="#2E3192" stroke-width="1.0" />
<circle cx="127" cy="987" r="1.75" fill="#2E3192"/>
<line x1="133.7" y1="948.1" x2="133.7" y2="968.8" stroke="#2E3192" stroke-width="1.0" />
<line x1="131.7" y1="948.1" x2="135.7" y2="948.1" stroke="#2E3192" stroke-width="1.0" />
<line x1="131.7" y1="968.8" x2="135.7" y2="968.8" stroke="#2E3192" stroke-width="1.0" />
<circle cx="133.7" cy="958.3" r="1.75" fill="#2E3192"/>
<line x1="141.3" y1="964.4" x2="141.3" y2="974.4" stroke="#2E3192" stroke-width="1.0" />
<line x1="139.3" y1="964.4" x2="143.3" y2="964.4" stroke="#2E3192" stroke-width="1.0" />
<line x1="139.3" y1="974.4" x2="143.3" y2="974.4" stroke="#2E3192" stroke-width="1.0" />
<circle cx="141.3" cy="969.2" r="1.75" fill="#2E3192"/>
<line x1="147.5" y1="929.2" x2="147.5" y2="942.4" stroke="#2E3192" stroke-width="1.0" />
<line x1="145.5" y1="929.2" x2="149.5" y2="929.2" stroke="#2E3192" stroke-width="1.0" />
<line x1="145.5" y1="942.4" x2="149.5" y2="942.4" stroke="#2E3192" stroke-width="1.0" />
<circle cx="147.5" cy="935.7" r="1.75" fill="#2E3192"/>
<line x1="157" y1="941.1" x2="157" y2="953.9" stroke="#2E3192" stroke-width="1.0" />
<line x1="155" y1="941.1" x2="159" y2="941.1" stroke="#2E3192" stroke-width="1.0" />
<line x1="155" y1="953.9" x2="159" y2="953.9" stroke="#2E3192" stroke-width="1.0" />
<circle cx="157" cy="946.8" r="1.75" fill="#2E3192"/>
<line x1="160.9" y1="887.4" x2="160.9" y2="907.3" stroke="#2E3192" stroke-width="1.0" />
<line x1="158.9" y1="887.4" x2="162.9" y2="887.4" stroke="#2E3192" stroke-width="1.0" />
<line x1="158.9" y1="907.3" x2="162.9" y2="907.3" stroke="#2E3192" stroke-width="1.0" />
<circle cx="160.9" cy="897.4" r="1.75" fill="#2E3192"/>
<line x1="170.8" y1="876.7" x2="170.8" y2="893.2" stroke="#2E3192" stroke-width="1.0" />
<line x1="168.8" y1="876.7" x2="172.8" y2="876.7" stroke="#2E3192" stroke-width="1.0" />
<line x1="168.8" y1="893.2" x2="172.8" y2="893.2" stroke="#2E3192" stroke-width="1.0" />
<circle cx="170.8" cy="884.9" r="1.75" fill="#2E3192"/>
<line x1="182.7" y1="887.8" x2="182.7" y2="901.6" stroke="#2E3192" stroke-width="1.0" />
<line x1="180.7" y1="887.8" x2="184.7" y2="887.8" stroke="#2E3192" stroke-width="1.0" />
<line x1="180.7" y1="901.6" x2="184.7" y2="901.6" stroke="#2E3192" stroke-width="1.0" />
<circle cx="182.7" cy="894.7" r="1.75" fill="#2E3192"/>
<line x1="190.1" y1="842.8" x2="190.1" y2="858.1" stroke="#2E3192" stroke-width="1.0" />
<line x1="188.1" y1="842.8" x2="192.1" y2="842.8" stroke="#2E3192" stroke-width="1.0" />
<line x1="188.1" y1="858.1" x2="192.1" y2="858.1" stroke="#2E3192" stroke-width="1.0" />
<circle cx="190.1" cy="850.4" r="1.75" fill="#2E3192"/>
<line x1="197.8" y1="887.4" x2="197.8" y2="911.2" stroke="#2E3192" stroke-width="1.0" />
<line x1="195.8" y1="887.4" x2="199.8" y2="887.4" stroke="#2E3192" stroke-width="1.0" />
<line x1="195.8" y1="911.2" x2="199.8" y2="911.2" stroke="#2E3192" stroke-width="1.0" />
<circle cx="197.8" cy="899.3" r="1.75" fill="#2E3192"/>
<line x1="211.2" y1="887.8" x2="211.2" y2="902.2" stroke="#2E3192" stroke-width="1.0" />
<line x1="209.2" y1="887.8" x2="213.2" y2="887.8" stroke="#2E3192" stroke-width="1.0" />
<line x1="209.2" y1="902.2" x2="213.2" y2="902.2" stroke="#2E3192" stroke-width="1.0" />
<circle cx="211.2" cy="895.1" r="1.75" fill="#2E3192"/>
<line x1="220.6" y1="845.7" x2="220.6" y2="870.9" stroke="#2E3192" stroke-width="1.0" />
<line x1="218.6" y1="845.7" x2="222.6" y2="845.7" stroke="#2E3192" stroke-width="1.0" />
<line x1="218.6" y1="870.9" x2="222.6" y2="870.9" stroke="#2E3192" stroke-width="1.0" />
<circle cx="220.6" cy="858.3" r="1.75" fill="#2E3192"/>
<line x1="232.3" y1="832.2" x2="232.3" y2="856.2" stroke="#2E3192" stroke-width="1.0" />
<line x1="230.3" y1="832.2" x2="234.3" y2="832.2" stroke="#2E3192" stroke-width="1.0" />
<line x1="230.3" y1="856.2" x2="234.3" y2="856.2" stroke="#2E3192" stroke-width="1.0" />
<circle cx="232.3" cy="844.1" r="1.75" fill="#2E3192"/>
<line x1="250.5" y1="873.4" x2="250.5" y2="891.6" stroke="#2E3192" stroke-width="1.0" />
<line x1="248.5" y1="873.4" x2="252.5" y2="873.4" stroke="#2E3192" stroke-width="1.0" />
<line x1="248.5" y1="891.6" x2="252.5" y2="891.6" stroke="#2E3192" stroke-width="1.0" />
<circle cx="250.5" cy="882.4" r="1.75" fill="#2E3192"/>
<text x="474.6" y="791.8" fill="#2E3192" font-size="11.2" textLength="90.5" lengthAdjust="spacingAndGlyphs">Pump power (mJ)</text>
<circle cx="466.4" cy="787.7" r="2.5" fill="#2E3192"/>
<circle cx="573.2" cy="787.7" r="2.5" fill="#2E3192"/>
<text x="474.6" y="1040.8" fill="#ED1C24" font-size="11.2" textLength="90.5" lengthAdjust="spacingAndGlyphs">Pump power (mJ)</text>
<path d="M466.4 1032.9L470.2 1036.7L466.4 1040.5L462.6 1036.7Z" fill="#ED1C24"/>
<path d="M573.2 1032.9L577 1036.7L573.2 1040.5L569.4 1036.7Z" fill="#ED1C24"/>
<line x1="402.9" y1="1010.4" x2="640.5" y2="1010.4" stroke="#ED1C24" stroke-width="1.4" />
<line x1="425.31" y1="1010.4" x2="425.31" y2="1007.8" stroke="#ED1C24" stroke-width="1.0" />
<line x1="470.53" y1="1010.4" x2="470.53" y2="1007.8" stroke="#ED1C24" stroke-width="1.0" />
<line x1="515.75" y1="1010.4" x2="515.75" y2="1007.8" stroke="#ED1C24" stroke-width="1.0" />
<line x1="560.97" y1="1010.4" x2="560.97" y2="1007.8" stroke="#ED1C24" stroke-width="1.0" />
<line x1="606.19" y1="1010.4" x2="606.19" y2="1007.8" stroke="#ED1C24" stroke-width="1.0" />
<line x1="402.7" y1="1010.4" x2="402.7" y2="1005.6" stroke="#ED1C24" stroke-width="1.0" />
<text x="401.5" y="1024.7" fill="#ED1C24" font-size="11" text-anchor="middle" >0.0</text>
<line x1="447.92" y1="1010.4" x2="447.92" y2="1005.6" stroke="#ED1C24" stroke-width="1.0" />
<text x="446.72" y="1024.7" fill="#ED1C24" font-size="11" text-anchor="middle" >0.2</text>
<line x1="493.14" y1="1010.4" x2="493.14" y2="1005.6" stroke="#ED1C24" stroke-width="1.0" />
<text x="491.94" y="1024.7" fill="#ED1C24" font-size="11" text-anchor="middle" >0.4</text>
<line x1="538.36" y1="1010.4" x2="538.36" y2="1005.6" stroke="#ED1C24" stroke-width="1.0" />
<text x="537.16" y="1024.7" fill="#ED1C24" font-size="11" text-anchor="middle" >0.6</text>
<line x1="583.58" y1="1010.4" x2="583.58" y2="1005.6" stroke="#ED1C24" stroke-width="1.0" />
<text x="582.38" y="1024.7" fill="#ED1C24" font-size="11" text-anchor="middle" >0.8</text>
<line x1="628.8" y1="1010.4" x2="628.8" y2="1005.6" stroke="#ED1C24" stroke-width="1.0" />
<text x="627.6" y="1024.7" fill="#ED1C24" font-size="11" text-anchor="middle" >1.0</text>
<line x1="402.9" y1="817.4" x2="402.9" y2="1010.4" stroke="#ED1C24" stroke-width="1.2" />
<line x1="402.9" y1="991.91" x2="405.5" y2="991.91" stroke="#ED1C24" stroke-width="1.0" />
<line x1="402.9" y1="954.93" x2="405.5" y2="954.93" stroke="#ED1C24" stroke-width="1.0" />
<line x1="402.9" y1="917.95" x2="405.5" y2="917.95" stroke="#ED1C24" stroke-width="1.0" />
<line x1="402.9" y1="880.97" x2="405.5" y2="880.97" stroke="#ED1C24" stroke-width="1.0" />
<line x1="402.9" y1="843.99" x2="405.5" y2="843.99" stroke="#ED1C24" stroke-width="1.0" />
<line x1="402.9" y1="1010.4" x2="407.7" y2="1010.4" stroke="#ED1C24" stroke-width="1.0" />
<text x="395.7" y="1014.4" fill="#ED1C24" font-size="11" text-anchor="end" >0.0</text>
<line x1="402.9" y1="973.42" x2="407.7" y2="973.42" stroke="#ED1C24" stroke-width="1.0" />
<text x="395.7" y="977.42" fill="#ED1C24" font-size="11" text-anchor="end" >0.2</text>
<line x1="402.9" y1="936.44" x2="407.7" y2="936.44" stroke="#ED1C24" stroke-width="1.0" />
<text x="395.7" y="940.44" fill="#ED1C24" font-size="11" text-anchor="end" >0.4</text>
<line x1="402.9" y1="899.46" x2="407.7" y2="899.46" stroke="#ED1C24" stroke-width="1.0" />
<text x="395.7" y="903.46" fill="#ED1C24" font-size="11" text-anchor="end" >0.6</text>
<line x1="402.9" y1="862.48" x2="407.7" y2="862.48" stroke="#ED1C24" stroke-width="1.0" />
<text x="395.7" y="866.48" fill="#ED1C24" font-size="11" text-anchor="end" >0.8</text>
<line x1="402.9" y1="825.5" x2="407.7" y2="825.5" stroke="#ED1C24" stroke-width="1.0" />
<text x="395.7" y="829.5" fill="#ED1C24" font-size="11" text-anchor="end" >1.0</text>
<line x1="402.9" y1="817.4" x2="640.5" y2="817.4" stroke="#2E3192" stroke-width="1.45" />
<line x1="426.66" y1="817.4" x2="426.66" y2="820" stroke="#2E3192" stroke-width="1.0" />
<line x1="474.18" y1="817.4" x2="474.18" y2="820" stroke="#2E3192" stroke-width="1.0" />
<line x1="521.7" y1="817.4" x2="521.7" y2="820" stroke="#2E3192" stroke-width="1.0" />
<line x1="569.22" y1="817.4" x2="569.22" y2="820" stroke="#2E3192" stroke-width="1.0" />
<line x1="616.74" y1="817.4" x2="616.74" y2="820" stroke="#2E3192" stroke-width="1.0" />
<line x1="402.9" y1="817.4" x2="402.9" y2="822.2" stroke="#2E3192" stroke-width="1.0" />
<text x="401.7" y="809.2" fill="#2E3192" font-size="11" text-anchor="middle" >0.0</text>
<line x1="450.42" y1="817.4" x2="450.42" y2="822.2" stroke="#2E3192" stroke-width="1.0" />
<text x="449.22" y="809.2" fill="#2E3192" font-size="11" text-anchor="middle" >0.1</text>
<line x1="497.94" y1="817.4" x2="497.94" y2="822.2" stroke="#2E3192" stroke-width="1.0" />
<text x="496.74" y="809.2" fill="#2E3192" font-size="11" text-anchor="middle" >0.2</text>
<line x1="545.46" y1="817.4" x2="545.46" y2="822.2" stroke="#2E3192" stroke-width="1.0" />
<text x="544.26" y="809.2" fill="#2E3192" font-size="11" text-anchor="middle" >0.3</text>
<line x1="592.98" y1="817.4" x2="592.98" y2="822.2" stroke="#2E3192" stroke-width="1.0" />
<text x="591.78" y="809.2" fill="#2E3192" font-size="11" text-anchor="middle" >0.4</text>
<line x1="640.5" y1="817.4" x2="640.5" y2="822.2" stroke="#2E3192" stroke-width="1.0" />
<text x="639.3" y="809.2" fill="#2E3192" font-size="11" text-anchor="middle" >0.5</text>
<line x1="640.5" y1="817.4" x2="640.5" y2="1010.4" stroke="#2E3192" stroke-width="1.2" />
<line x1="640.5" y1="991.1" x2="637.9" y2="991.1" stroke="#2E3192" stroke-width="1.0" />
<line x1="640.5" y1="952.5" x2="637.9" y2="952.5" stroke="#2E3192" stroke-width="1.0" />
<line x1="640.5" y1="913.9" x2="637.9" y2="913.9" stroke="#2E3192" stroke-width="1.0" />
<line x1="640.5" y1="875.3" x2="637.9" y2="875.3" stroke="#2E3192" stroke-width="1.0" />
<line x1="640.5" y1="836.7" x2="637.9" y2="836.7" stroke="#2E3192" stroke-width="1.0" />
<line x1="640.5" y1="1010.4" x2="635.7" y2="1010.4" stroke="#2E3192" stroke-width="1.0" />
<text x="645.7" y="1014.4" fill="#2E3192" font-size="11" text-anchor="start" >0.00</text>
<line x1="640.5" y1="971.8" x2="635.7" y2="971.8" stroke="#2E3192" stroke-width="1.0" />
<text x="645.7" y="975.8" fill="#2E3192" font-size="11" text-anchor="start" >0.02</text>
<line x1="640.5" y1="933.2" x2="635.7" y2="933.2" stroke="#2E3192" stroke-width="1.0" />
<text x="645.7" y="937.2" fill="#2E3192" font-size="11" text-anchor="start" >0.04</text>
<line x1="640.5" y1="894.6" x2="635.7" y2="894.6" stroke="#2E3192" stroke-width="1.0" />
<text x="645.7" y="898.6" fill="#2E3192" font-size="11" text-anchor="start" >0.06</text>
<line x1="640.5" y1="856" x2="635.7" y2="856" stroke="#2E3192" stroke-width="1.0" />
<text x="645.7" y="860" fill="#2E3192" font-size="11" text-anchor="start" >0.08</text>
<line x1="640.5" y1="817.4" x2="635.7" y2="817.4" stroke="#2E3192" stroke-width="1.0" />
<text x="645.7" y="821.4" fill="#2E3192" font-size="11" text-anchor="start" >0.10</text>
<text x="414.5" y="839.8" fill="#231F20" font-size="12">(h)</text>
<text transform="translate(372.2,913.9) rotate(-90)" x="0" y="0" fill="#ED1C24" font-size="11.2" text-anchor="middle" textLength="106.5" lengthAdjust="spacingAndGlyphs">Normalized intensity</text>
<line x1="490.8" y1="1010.4" x2="624.9" y2="817.4" stroke="#ED1C24" stroke-width="1.1" stroke-dasharray="2.2 1.1"/>
<line x1="541.9" y1="1010.4" x2="640.5" y2="933.4" stroke="#2E3192" stroke-width="1.1" stroke-dasharray="1.4 0.9"/>
<path d="M452.5 1007.7L454.8 1010L452.5 1012.3L450.2 1010Z" fill="#ED1C24"/>
<line x1="462.4" y1="994.5" x2="462.4" y2="1010" stroke="#ED1C24" stroke-width="1.0" />
<line x1="460.4" y1="994.5" x2="464.4" y2="994.5" stroke="#ED1C24" stroke-width="1.0" />
<line x1="460.4" y1="1010" x2="464.4" y2="1010" stroke="#ED1C24" stroke-width="1.0" />
<path d="M462.4 1001.4L464.7 1003.7L462.4 1006L460.1 1003.7Z" fill="#ED1C24"/>
<line x1="473.3" y1="955.8" x2="473.3" y2="996.4" stroke="#ED1C24" stroke-width="1.0" />
<line x1="471.3" y1="955.8" x2="475.3" y2="955.8" stroke="#ED1C24" stroke-width="1.0" />
<line x1="471.3" y1="996.4" x2="475.3" y2="996.4" stroke="#ED1C24" stroke-width="1.0" />
<path d="M473.3 974L475.6 976.3L473.3 978.6L471 976.3Z" fill="#ED1C24"/>
<line x1="481" y1="962.5" x2="481" y2="996.4" stroke="#ED1C24" stroke-width="1.0" />
<line x1="479" y1="962.5" x2="483" y2="962.5" stroke="#ED1C24" stroke-width="1.0" />
<line x1="479" y1="996.4" x2="483" y2="996.4" stroke="#ED1C24" stroke-width="1.0" />
<path d="M481 977.1L483.3 979.4L481 981.7L478.7 979.4Z" fill="#ED1C24"/>
<line x1="488.9" y1="970.6" x2="488.9" y2="990.3" stroke="#ED1C24" stroke-width="1.0" />
<line x1="486.9" y1="970.6" x2="490.9" y2="970.6" stroke="#ED1C24" stroke-width="1.0" />
<line x1="486.9" y1="990.3" x2="490.9" y2="990.3" stroke="#ED1C24" stroke-width="1.0" />
<path d="M488.9 978.4L491.2 980.7L488.9 983L486.6 980.7Z" fill="#ED1C24"/>
<line x1="499" y1="982.4" x2="499" y2="987.8" stroke="#ED1C24" stroke-width="1.0" />
<line x1="497" y1="982.4" x2="501" y2="982.4" stroke="#ED1C24" stroke-width="1.0" />
<line x1="497" y1="987.8" x2="501" y2="987.8" stroke="#ED1C24" stroke-width="1.0" />
<path d="M499 982.8L501.3 985.1L499 987.4L496.7 985.1Z" fill="#ED1C24"/>
<line x1="505.5" y1="988.3" x2="505.5" y2="992.3" stroke="#ED1C24" stroke-width="1.0" />
<line x1="503.5" y1="988.3" x2="507.5" y2="988.3" stroke="#ED1C24" stroke-width="1.0" />
<line x1="503.5" y1="992.3" x2="507.5" y2="992.3" stroke="#ED1C24" stroke-width="1.0" />
<path d="M505.5 988L507.8 990.3L505.5 992.6L503.2 990.3Z" fill="#ED1C24"/>
<line x1="515.1" y1="960" x2="515.1" y2="965.8" stroke="#ED1C24" stroke-width="1.0" />
<line x1="513.1" y1="960" x2="517.1" y2="960" stroke="#ED1C24" stroke-width="1.0" />
<line x1="513.1" y1="965.8" x2="517.1" y2="965.8" stroke="#ED1C24" stroke-width="1.0" />
<path d="M515.1 960.6L517.4 962.9L515.1 965.2L512.8 962.9Z" fill="#ED1C24"/>
<line x1="522.4" y1="959.7" x2="522.4" y2="964.1" stroke="#ED1C24" stroke-width="1.0" />
<line x1="520.4" y1="959.7" x2="524.4" y2="959.7" stroke="#ED1C24" stroke-width="1.0" />
<line x1="520.4" y1="964.1" x2="524.4" y2="964.1" stroke="#ED1C24" stroke-width="1.0" />
<path d="M522.4 959.6L524.7 961.9L522.4 964.2L520.1 961.9Z" fill="#ED1C24"/>
<line x1="529.1" y1="921.1" x2="529.1" y2="928.5" stroke="#ED1C24" stroke-width="1.0" />
<line x1="527.1" y1="921.1" x2="531.1" y2="921.1" stroke="#ED1C24" stroke-width="1.0" />
<line x1="527.1" y1="928.5" x2="531.1" y2="928.5" stroke="#ED1C24" stroke-width="1.0" />
<path d="M529.1 922.5L531.4 924.8L529.1 927.1L526.8 924.8Z" fill="#ED1C24"/>
<line x1="547.2" y1="966" x2="547.2" y2="969" stroke="#ED1C24" stroke-width="1.0" />
<line x1="545.2" y1="966" x2="549.2" y2="966" stroke="#ED1C24" stroke-width="1.0" />
<line x1="545.2" y1="969" x2="549.2" y2="969" stroke="#ED1C24" stroke-width="1.0" />
<path d="M547.2 965.2L549.5 967.5L547.2 969.8L544.9 967.5Z" fill="#ED1C24"/>
<line x1="553.4" y1="849.3" x2="553.4" y2="860.3" stroke="#ED1C24" stroke-width="1.0" />
<line x1="551.4" y1="849.3" x2="555.4" y2="849.3" stroke="#ED1C24" stroke-width="1.0" />
<line x1="551.4" y1="860.3" x2="555.4" y2="860.3" stroke="#ED1C24" stroke-width="1.0" />
<path d="M553.4 852.5L555.7 854.8L553.4 857.1L551.1 854.8Z" fill="#ED1C24"/>
<line x1="567.9" y1="839.3" x2="567.9" y2="850.1" stroke="#ED1C24" stroke-width="1.0" />
<line x1="565.9" y1="839.3" x2="569.9" y2="839.3" stroke="#ED1C24" stroke-width="1.0" />
<line x1="565.9" y1="850.1" x2="569.9" y2="850.1" stroke="#ED1C24" stroke-width="1.0" />
<path d="M567.9 842.4L570.2 844.7L567.9 847L565.6 844.7Z" fill="#ED1C24"/>
<line x1="572.9" y1="853.3" x2="572.9" y2="861.3" stroke="#ED1C24" stroke-width="1.0" />
<line x1="570.9" y1="853.3" x2="574.9" y2="853.3" stroke="#ED1C24" stroke-width="1.0" />
<line x1="570.9" y1="861.3" x2="574.9" y2="861.3" stroke="#ED1C24" stroke-width="1.0" />
<path d="M572.9 855L575.2 857.3L572.9 859.6L570.6 857.3Z" fill="#ED1C24"/>
<line x1="583.6" y1="835" x2="583.6" y2="845.6" stroke="#ED1C24" stroke-width="1.0" />
<line x1="581.6" y1="835" x2="585.6" y2="835" stroke="#ED1C24" stroke-width="1.0" />
<line x1="581.6" y1="845.6" x2="585.6" y2="845.6" stroke="#ED1C24" stroke-width="1.0" />
<path d="M583.6 838L585.9 840.3L583.6 842.6L581.3 840.3Z" fill="#ED1C24"/>
<line x1="610.1" y1="860.3" x2="610.1" y2="868.5" stroke="#ED1C24" stroke-width="1.0" />
<line x1="608.1" y1="860.3" x2="612.1" y2="860.3" stroke="#ED1C24" stroke-width="1.0" />
<line x1="608.1" y1="868.5" x2="612.1" y2="868.5" stroke="#ED1C24" stroke-width="1.0" />
<path d="M610.1 862.1L612.4 864.4L610.1 866.7L607.8 864.4Z" fill="#ED1C24"/>
<line x1="625.2" y1="819" x2="625.2" y2="830.2" stroke="#ED1C24" stroke-width="1.0" />
<line x1="623.2" y1="819" x2="627.2" y2="819" stroke="#ED1C24" stroke-width="1.0" />
<line x1="623.2" y1="830.2" x2="627.2" y2="830.2" stroke="#ED1C24" stroke-width="1.0" />
<path d="M625.2 822.3L627.5 824.6L625.2 826.9L622.9 824.6Z" fill="#ED1C24"/>
<line x1="548.6" y1="1000.7" x2="548.6" y2="1008.7" stroke="#2E3192" stroke-width="1.0" />
<line x1="546.6" y1="1000.7" x2="550.6" y2="1000.7" stroke="#2E3192" stroke-width="1.0" />
<line x1="546.6" y1="1008.7" x2="550.6" y2="1008.7" stroke="#2E3192" stroke-width="1.0" />
<circle cx="548.6" cy="1004.7" r="1.75" fill="#2E3192"/>
<line x1="562.2" y1="975.9" x2="562.2" y2="1010.4" stroke="#2E3192" stroke-width="1.0" />
<line x1="560.2" y1="975.9" x2="564.2" y2="975.9" stroke="#2E3192" stroke-width="1.0" />
<line x1="560.2" y1="1010.4" x2="564.2" y2="1010.4" stroke="#2E3192" stroke-width="1.0" />
<circle cx="562.2" cy="1004.3" r="1.75" fill="#2E3192"/>
<line x1="571.4" y1="982.2" x2="571.4" y2="1000.2" stroke="#2E3192" stroke-width="1.0" />
<line x1="569.4" y1="982.2" x2="573.4" y2="982.2" stroke="#2E3192" stroke-width="1.0" />
<line x1="569.4" y1="1000.2" x2="573.4" y2="1000.2" stroke="#2E3192" stroke-width="1.0" />
<circle cx="571.4" cy="991.2" r="1.75" fill="#2E3192"/>
<line x1="583.4" y1="957.3" x2="583.4" y2="977.3" stroke="#2E3192" stroke-width="1.0" />
<line x1="581.4" y1="957.3" x2="585.4" y2="957.3" stroke="#2E3192" stroke-width="1.0" />
<line x1="581.4" y1="977.3" x2="585.4" y2="977.3" stroke="#2E3192" stroke-width="1.0" />
<circle cx="583.4" cy="967.3" r="1.75" fill="#2E3192"/>
<line x1="601.3" y1="958.8" x2="601.3" y2="973.8" stroke="#2E3192" stroke-width="1.0" />
<line x1="599.3" y1="958.8" x2="603.3" y2="958.8" stroke="#2E3192" stroke-width="1.0" />
<line x1="599.3" y1="973.8" x2="603.3" y2="973.8" stroke="#2E3192" stroke-width="1.0" />
<circle cx="601.3" cy="966.3" r="1.75" fill="#2E3192"/>
<path d="M16.4 848.6L20.4 852.6L16.4 856.6L12.4 852.6Z" fill="#ED1C24"/>
<path d="M16.4 971L20.4 975L16.4 979L12.4 975Z" fill="#ED1C24"/>
<circle cx="320.7" cy="852.6" r="2.7" fill="#2E3192"/>
<circle cx="320.7" cy="975" r="2.7" fill="#2E3192"/>
<text transform="translate(325.2,913.8) rotate(-90)" x="0" y="0" fill="#2E3192" font-size="11.2" text-anchor="middle" textLength="106.5" lengthAdjust="spacingAndGlyphs">Normalized intensity</text>
<path d="M367.2 848.7L371.2 852.7L367.2 856.7L363.2 852.7Z" fill="#ED1C24"/>
<path d="M367.2 971.1L371.2 975.1L367.2 979.1L363.2 975.1Z" fill="#ED1C24"/>
<circle cx="677.4" cy="852.7" r="2.7" fill="#2E3192"/>
<circle cx="677.4" cy="975.1" r="2.7" fill="#2E3192"/>
<text transform="translate(681.8,913.9) rotate(-90)" x="0" y="0" fill="#2E3192" font-size="11.2" text-anchor="middle" textLength="106.5" lengthAdjust="spacingAndGlyphs">Normalized intensity</text>
<line x1="343.9" y1="244.2" x2="343.9" y2="1032" stroke="#000" stroke-width="1.8" />
</svg>
</body></html>
